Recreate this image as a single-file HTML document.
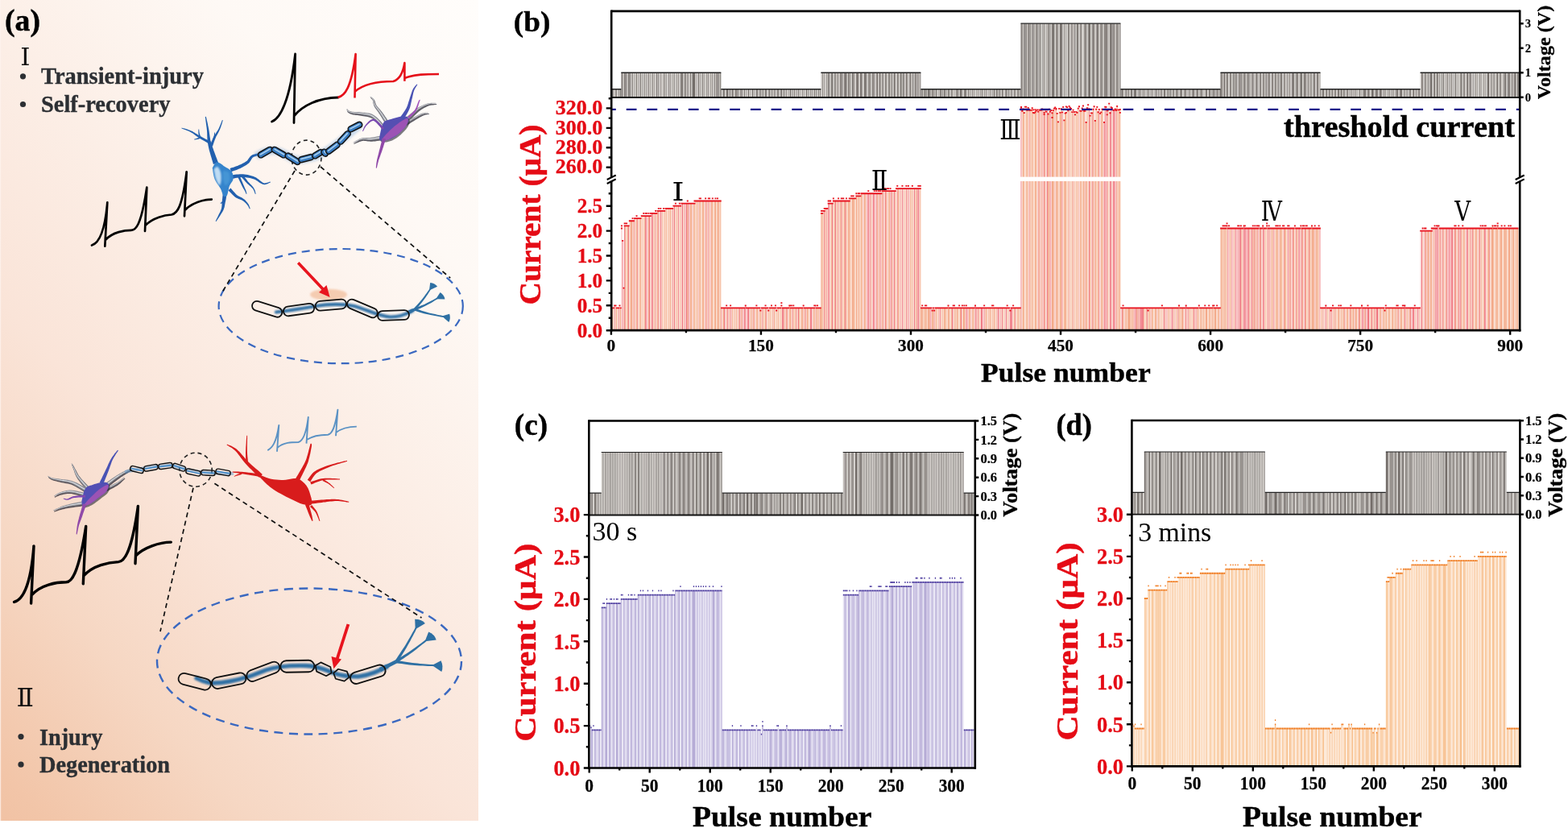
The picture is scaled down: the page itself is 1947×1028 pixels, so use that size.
<!DOCTYPE html>
<html><head><meta charset="utf-8"><title>Figure</title>
<style>html,body{margin:0;padding:0;background:#fff;} svg{display:block;} text{font-family:'Liberation Serif', 'DejaVu Serif', serif;}</style>
</head><body>
<svg width="1947" height="1028" viewBox="0 0 1947 1028" shape-rendering="auto">
<defs>
<linearGradient id="bgA" gradientUnits="userSpaceOnUse" x1="330.5" y1="-295" x2="-506.5" y2="452.2">
<stop offset="0" stop-color="#fffdfb"/>
<stop offset="0.215" stop-color="#fef9f5"/>
<stop offset="0.617" stop-color="#fae4d8"/>
<stop offset="0.791" stop-color="#f6d7c3"/>
<stop offset="0.962" stop-color="#f2c5a8"/>
<stop offset="1" stop-color="#f1c2a4"/>
</linearGradient>
<filter id="blur1" x="-20%" y="-20%" width="140%" height="140%"><feGaussianBlur stdDeviation="1"/></filter>
<filter id="blur06" x="-20%" y="-20%" width="140%" height="140%"><feGaussianBlur stdDeviation="0.6"/></filter>
<filter id="blur08" x="-20%" y="-20%" width="140%" height="140%"><feGaussianBlur stdDeviation="0.5"/></filter>
<filter id="blur2" x="-20%" y="-20%" width="140%" height="140%"><feGaussianBlur stdDeviation="1.6"/></filter>
</defs>
<rect width="1947" height="1028" fill="#fff"/>
<g id="pa">
<rect x="0" y="0" width="594" height="1019" fill="url(#bgA)"/>
<rect x="0" y="0" width="1.2" height="1019" fill="#fdf3ee" opacity="0.75"/>
<text x="6.0" y="37.8" font-size="38" font-weight="bold" fill="#000" text-anchor="start" textLength="44.0" lengthAdjust="spacingAndGlyphs" stroke="#000" stroke-width="0.46">(a)</text>
<text transform="translate(25.14,81.00) scale(1.055,1)" style="font-family:'DejaVu Serif', 'Liberation Serif', serif" font-size="29.44" font-weight="normal" fill="#111">Ⅰ</text>
<text transform="translate(20.60,876.80) scale(1.011,1)" style="font-family:'DejaVu Serif', 'Liberation Serif', serif" font-size="31.25" font-weight="normal" fill="#111">Ⅱ</text>
<circle cx="28.5" cy="94.8" r="3.6" fill="#2c2f33"/>
<text x="51.0" y="104.3" font-size="28.4" font-weight="bold" fill="#2c2f33" text-anchor="start" textLength="202.0" lengthAdjust="spacingAndGlyphs" stroke="#2c2f33" stroke-width="0.34">Transient-injury</text>
<circle cx="28.5" cy="129.5" r="3.6" fill="#2c2f33"/>
<text x="51.0" y="138.6" font-size="28.4" font-weight="bold" fill="#2c2f33" text-anchor="start" textLength="160.5" lengthAdjust="spacingAndGlyphs" stroke="#2c2f33" stroke-width="0.34">Self-recovery</text>
<circle cx="26.0" cy="914.6" r="3.6" fill="#2c2f33"/>
<text x="49.0" y="924.7" font-size="28.4" font-weight="bold" fill="#2c2f33" text-anchor="start" textLength="78.5" lengthAdjust="spacingAndGlyphs" stroke="#2c2f33" stroke-width="0.34">Injury</text>
<circle cx="26.0" cy="949.2" r="3.6" fill="#2c2f33"/>
<text x="49.0" y="959.2" font-size="28.4" font-weight="bold" fill="#2c2f33" text-anchor="start" textLength="162.1" lengthAdjust="spacingAndGlyphs" stroke="#2c2f33" stroke-width="0.34">Degeneration</text>
<path fill="none" stroke="#000" stroke-linecap="round" stroke-linejoin="round" stroke-width="2.8" d="M337.5 151 C348 147 360 125 366.6 67 L365 152.5 M365.6 143.5 C376 131 395 121.5 420 121"/>
<path fill="none" stroke="#e5101a" stroke-width="2.6" stroke-linejoin="round" d="M419.5 121 C428 119 436 110 441.6 67 L440.5 121.5 M441 113.5 C452 104 470 101 488.3 101 C495 99 500 93 502.4 78 L502.4 100.8 M502.4 97 C515 92 530 92 545 92"/>
<path fill="none" stroke="#000" stroke-linecap="round" stroke-linejoin="round" stroke-width="2.7" d="M114 304.5 C122 302 130 290 133.3 251.4 L130.3 305.6 M130.8 298 C140 288 155 285.8 163 285.8 C168 285.8 175 282 182.3 232.7 L180 287 M180.3 280 C190 270 205 267 213 266.5 C220 265 226 258 231.7 213.4 L229 268.3 M229.5 261 C238 252 252 247.6 262.8 247.6"/>
<path fill="none" stroke="#000" stroke-linecap="round" stroke-linejoin="round" stroke-width="3.4" d="M17.5 747.4 C27 745 38 730 42 677.9 L38.6 749.1 M39.2 739 C50 726 70 722.8 82 722.8 C88 722.5 97 716 106.7 653.4 L103.3 724.9 M103.8 715 C115 702 135 698 147 697.6 C154 697 163 688 171.4 628.4 L168 699.7 M168.5 690 C178 680 198 673.1 212.3 673.1"/>
<path fill="none" stroke="#5b92c4" stroke-width="1.9" stroke-linejoin="round" d="M332.3 559.1 C338 556 343 550 346.3 528 L344 560.7 M344.3 556 C352 549 362 549 370.4 549 C375 548 380 540 382.8 517.9 L380.5 550.6 M380.8 546 C390 540 400 539.7 407 539.7 C412 539 416 532 419.4 508.6 L417 541.2 M417.3 537 C425 531 435 529.6 442.8 529.6"/>
<ellipse cx="423.2" cy="380.1" rx="151.6" ry="71.1" fill="none" stroke="#3a68c0" stroke-width="2.2" stroke-dasharray="10 7"/>
<ellipse cx="384" cy="821" rx="189" ry="90.5" fill="none" stroke="#3a68c0" stroke-width="2.4" stroke-dasharray="11 7.5"/>
<ellipse cx="380.5" cy="195.6" rx="18.5" ry="21.5" fill="none" stroke="#222" stroke-width="1.6" stroke-dasharray="5 4"/>
<ellipse cx="243" cy="583.2" rx="20.2" ry="21" fill="none" stroke="#222" stroke-width="1.6" stroke-dasharray="5 4"/>
<path fill="none" stroke="#111" stroke-width="1.7" stroke-dasharray="6 4.5" d="M366 212 L275.7 363.3 M398 207 L559.2 345.2"/>
<path fill="none" stroke="#111" stroke-width="1.7" stroke-dasharray="6 4.5" d="M240 605.7 L199 784 M266.4 600.3 L523.5 767"/>
<path d="M343 387.5 C358 386 375 383 392 380 C410 377 425 377 440 380 C455 384 470 393 485 393.5 C495 393.5 503 391 512 386" fill="none" stroke="#2f6fa4" stroke-width="4.2" stroke-linecap="round" filter="url(#blur1)"/>
<g filter="url(#blur08)"><path d="M507.0 390.5L508.0 389.9L509.1 389.3L510.1 388.8L511.2 388.2L512.2 387.6L513.3 387.1L514.3 386.5L515.4 385.9L513.8 382.7L512.7 383.2L511.6 383.6L510.5 384.1L509.4 384.6L508.3 385.1L507.2 385.6L506.1 386.0L505.0 386.5Z" fill="#2e6fa3"/><path d="M515.7 385.3L516.5 384.3L517.6 383.1L518.8 381.6L520.2 379.9L521.7 378.1L523.2 376.3L524.6 374.5L525.9 372.8L527.2 371.1L528.5 369.2L529.8 367.3L531.1 365.4L532.3 363.5L533.3 361.9L534.2 360.5L534.9 359.5L533.5 358.5L532.8 359.5L531.8 360.9L530.7 362.5L529.5 364.3L528.1 366.1L526.8 368.0L525.4 369.8L524.1 371.4L522.8 373.0L521.3 374.7L519.8 376.5L518.2 378.2L516.8 379.8L515.4 381.2L514.3 382.4L513.5 383.3Z" fill="#2e6fa3"/><path d="M533.0 360.6L543.1 355.7Q540.1 351.4 534.2 350.9Z" fill="#2e6fa3"/><path d="M515.2 385.7L516.3 385.2L517.8 384.5L519.5 383.7L521.5 382.9L523.6 382.0L525.7 381.0L527.8 380.0L529.7 379.1L531.5 378.1L533.5 377.0L535.5 375.9L537.5 374.7L539.3 373.6L541.0 372.6L542.4 371.7L543.4 371.1L542.6 369.7L541.5 370.3L540.1 371.0L538.4 372.0L536.5 373.0L534.5 374.1L532.5 375.1L530.5 376.1L528.6 377.0L526.8 377.9L524.7 378.7L522.6 379.6L520.5 380.4L518.5 381.2L516.7 381.9L515.2 382.5L514.0 382.9Z" fill="#2e6fa3"/><path d="M541.2 371.3L552.4 371.4Q551.6 366.2 546.6 363.1Z" fill="#2e6fa3"/><path d="M514.2 385.7L515.6 386.1L517.4 386.6L519.6 387.2L522.0 387.9L524.6 388.7L527.2 389.4L529.8 390.0L532.2 390.6L534.6 391.1L537.2 391.6L539.9 392.1L542.5 392.6L545.0 393.0L547.3 393.4L549.1 393.7L550.6 393.9L550.8 392.3L549.4 392.0L547.6 391.6L545.3 391.2L542.9 390.7L540.3 390.1L537.6 389.5L535.1 388.9L532.7 388.4L530.4 387.7L527.9 387.0L525.3 386.2L522.8 385.4L520.4 384.6L518.2 383.9L516.4 383.3L515.0 382.9Z" fill="#2e6fa3"/><path d="M548.8 392.6L557.3 399.9Q560.0 395.4 558.1 389.8Z" fill="#2e6fa3"/></g>
<ellipse cx="408" cy="365.7" rx="23" ry="7" fill="#f3c3a3" opacity="0.8" filter="url(#blur1)"/>
<rect transform="translate(331.6,383.8) rotate(17.6)" x="-19.2" y="-5.9" width="38.5" height="11.8" rx="5.9" fill="none" stroke="#111" stroke-width="1.8"/>
<rect transform="translate(371.0,384.6) rotate(-7.8)" x="-19.2" y="-5.9" width="38.5" height="11.8" rx="5.9" fill="none" stroke="#111" stroke-width="1.8"/>
<rect transform="translate(410.8,378.6) rotate(-5.0)" x="-19.2" y="-5.9" width="38.5" height="11.8" rx="5.9" fill="none" stroke="#111" stroke-width="1.8"/>
<rect transform="translate(449.9,383.0) rotate(23.0)" x="-20.0" y="-5.9" width="40.0" height="11.8" rx="5.9" fill="none" stroke="#111" stroke-width="1.8"/>
<rect transform="translate(488.5,391.5) rotate(-2.0)" x="-19.5" y="-5.9" width="39.0" height="11.8" rx="5.9" fill="none" stroke="#111" stroke-width="1.8"/>
<path d="M370.2 326.3 L402 360" stroke="#e8141e" stroke-width="3.6"/>
<polygon points="409.6,369 396,363 405.5,354" fill="#e8141e"/>
<path d="M244 842 C255 848 265 850 285 846 C305 842 315 838 330 832 C345 827 360 826 380 826.5 C395 827 405 832 413 835 C420 838 430 840 445 840 C460 838 470 833 480 828" fill="none" stroke="#2f6fa4" stroke-width="5.4" stroke-linecap="round" filter="url(#blur1)"/>
<g filter="url(#blur08)"><path d="M473.2 833.9L475.6 832.6L478.1 831.2L480.5 829.9L483.0 828.6L485.4 827.3L487.9 826.0L490.3 824.7L492.8 823.4L490.8 819.6L488.3 820.8L485.8 822.0L483.3 823.2L480.8 824.4L478.3 825.6L475.8 826.8L473.3 827.9L470.8 829.1Z" fill="#2e6fa3"/><path d="M493.3 822.5L494.3 820.9L495.6 818.7L497.2 816.2L499.0 813.4L500.8 810.4L502.7 807.4L504.5 804.4L506.1 801.6L507.7 798.8L509.4 795.7L511.0 792.6L512.7 789.5L514.2 786.5L515.6 783.9L516.7 781.6L517.5 780.0L515.9 779.0L514.9 780.7L513.7 782.9L512.2 785.5L510.6 788.4L508.9 791.4L507.1 794.5L505.4 797.5L503.8 800.2L502.1 802.9L500.2 805.8L498.2 808.8L496.3 811.7L494.4 814.4L492.8 816.9L491.4 819.0L490.3 820.5Z" fill="#2e6fa3"/><path d="M515.7 781.2L527.9 773.9Q523.1 768.7 515.2 768.8Z" fill="#2e6fa3"/><path d="M492.8 823.0L494.2 822.0L496.2 820.7L498.5 819.1L501.1 817.4L503.8 815.6L506.6 813.7L509.3 811.8L511.8 810.0L514.2 808.2L516.8 806.2L519.4 804.1L522.0 802.1L524.4 800.1L526.6 798.4L528.4 796.9L529.8 795.8L528.6 794.2L527.2 795.3L525.3 796.7L523.1 798.4L520.6 800.2L517.9 802.2L515.2 804.2L512.6 806.1L510.2 807.8L507.7 809.4L505.0 811.2L502.2 813.0L499.4 814.7L496.7 816.4L494.4 817.8L492.3 819.1L490.8 820.0Z" fill="#2e6fa3"/><path d="M527.6 796.2L541.7 794.4Q539.5 787.7 532.2 784.6Z" fill="#2e6fa3"/><path d="M491.5 823.3L493.3 823.5L495.7 823.8L498.6 824.1L501.7 824.5L505.1 825.0L508.5 825.4L511.8 825.7L514.9 826.0L518.0 826.2L521.4 826.5L524.8 826.6L528.2 826.8L531.4 826.9L534.2 827.0L536.6 827.1L538.4 827.2L538.6 825.2L536.7 825.1L534.3 824.9L531.5 824.7L528.3 824.5L525.0 824.2L521.6 823.9L518.3 823.6L515.2 823.3L512.2 822.9L508.9 822.4L505.5 821.9L502.2 821.4L499.1 820.9L496.2 820.4L493.8 820.0L492.1 819.7Z" fill="#2e6fa3"/><path d="M536.5 826.0L548.3 834.0Q551.0 827.5 547.5 820.3Z" fill="#2e6fa3"/></g>
<rect transform="translate(241.7,846.2) rotate(14.4)" x="-20.5" y="-7.0" width="41.0" height="14.0" rx="7.0" fill="none" stroke="#111" stroke-width="1.8"/>
<rect transform="translate(284.2,845.2) rotate(-11.3)" x="-21.5" y="-7.0" width="43.0" height="14.0" rx="7.0" fill="none" stroke="#111" stroke-width="1.8"/>
<rect transform="translate(326.8,833.8) rotate(-21.0)" x="-21.5" y="-7.0" width="43.0" height="14.0" rx="7.0" fill="none" stroke="#111" stroke-width="1.8"/>
<rect transform="translate(369.3,827.2) rotate(-1.0)" x="-21.0" y="-7.2" width="42.0" height="14.5" rx="7.2" fill="none" stroke="#111" stroke-width="1.8"/>
<rect transform="translate(456.8,837.2) rotate(-17.0)" x="-22.5" y="-7.2" width="45.0" height="14.5" rx="7.2" fill="none" stroke="#111" stroke-width="1.8"/>
<polygon transform="translate(401.7,830.8) rotate(25.0)" points="-6.6,-6.2 6.6,-6.2 11.0,0.0 6.6,6.2 -6.6,6.2 -11.0,0.0" fill="none" stroke="#111" stroke-width="1.7" stroke-linejoin="round"/>
<polygon transform="translate(423.8,838.2) rotate(15.0)" points="-5.6,-6.2 5.6,-6.2 10.0,0.0 5.6,6.2 -5.6,6.2 -10.0,0.0" fill="none" stroke="#111" stroke-width="1.7" stroke-linejoin="round"/>
<path d="M432.4 775 L418 820" stroke="#e8141e" stroke-width="3.8"/>
<polygon points="414.4,830.2 411.5,815 424,818.5" fill="#e8141e"/>
<g filter="url(#blur08)">
<path d="M271.1 202.0L270.5 200.6L269.8 198.8L269.0 196.6L268.1 194.2L267.2 191.7L266.3 189.2L265.4 187.0L264.8 185.1L264.2 183.4L263.7 182.0L263.2 180.6L262.8 179.4L262.4 178.2L262.0 177.0L261.7 175.6L261.3 174.2L261.0 172.6L260.8 171.0L260.5 169.3L260.3 167.6L260.0 165.8L259.8 164.0L259.5 162.1L259.2 160.2L258.8 158.3L258.3 156.1L257.9 153.8L257.4 151.6L256.9 149.5L256.5 147.6L256.1 146.0L255.8 144.8L254.8 145.0L254.9 146.2L255.2 147.8L255.4 149.8L255.7 151.9L256.0 154.2L256.3 156.4L256.6 158.6L256.8 160.6L257.0 162.4L257.1 164.2L257.2 166.0L257.2 167.8L257.3 169.6L257.4 171.4L257.5 173.1L257.7 174.8L257.8 176.4L258.0 177.8L258.3 179.2L258.5 180.5L258.8 181.9L259.1 183.3L259.4 184.8L259.8 186.5L260.4 188.6L261.1 190.9L261.8 193.5L262.6 196.0L263.3 198.5L264.0 200.8L264.5 202.6L264.9 204.0Z" fill="#2260ae"/>
<path d="M261.8 175.7L260.7 175.2L259.4 174.5L257.8 173.7L256.0 172.9L254.1 171.9L252.3 170.9L250.5 170.0L248.9 169.1L247.4 168.3L246.0 167.4L244.6 166.6L243.1 165.7L241.7 164.8L240.3 163.9L238.9 163.1L237.4 162.4L235.8 161.8L234.2 161.2L232.5 160.6L230.8 160.1L229.2 159.6L227.8 159.2L226.6 158.9L225.7 158.6L225.5 159.4L226.3 159.7L227.5 160.2L228.9 160.7L230.4 161.2L232.0 161.9L233.6 162.5L235.2 163.2L236.6 164.0L237.9 164.8L239.3 165.6L240.6 166.5L241.9 167.5L243.2 168.5L244.6 169.5L246.0 170.5L247.5 171.5L249.1 172.4L250.9 173.5L252.7 174.6L254.5 175.6L256.2 176.6L257.8 177.5L259.1 178.3L260.0 178.9Z" fill="#2260ae"/>
<path d="M249.2 170.1L249.1 169.6L248.9 169.1L248.7 168.4L248.5 167.7L248.2 167.0L248.0 166.2L247.8 165.5L247.7 164.9L247.6 164.3L247.5 163.7L247.4 163.0L247.3 162.4L247.3 161.8L247.2 161.2L247.2 160.7L247.1 160.4L246.5 160.4L246.4 160.8L246.4 161.2L246.4 161.8L246.3 162.4L246.3 163.0L246.3 163.7L246.3 164.4L246.3 165.1L246.4 165.8L246.5 166.6L246.6 167.4L246.8 168.1L246.9 168.9L247.0 169.6L247.1 170.1L247.2 170.5Z" fill="#2260ae"/>
<path d="M248.7 170.1L248.3 170.2L247.8 170.4L247.1 170.7L246.4 170.9L245.7 171.2L245.0 171.5L244.4 171.7L243.8 171.9L243.4 172.0L243.0 172.2L242.6 172.3L242.2 172.4L241.9 172.5L241.6 172.6L241.3 172.7L241.1 172.8L241.3 173.4L241.5 173.4L241.7 173.4L242.0 173.4L242.4 173.4L242.8 173.3L243.2 173.3L243.7 173.2L244.2 173.1L244.7 173.0L245.4 172.9L246.2 172.7L246.9 172.5L247.6 172.3L248.3 172.1L248.9 172.0L249.3 171.9Z" fill="#2260ae"/>
<path d="M264.0 181.7L264.3 180.8L264.6 179.7L265.1 178.3L265.6 176.8L266.1 175.3L266.7 173.7L267.3 172.2L267.8 170.9L268.4 169.6L269.0 168.4L269.7 167.2L270.4 166.0L271.1 164.7L271.7 163.5L272.4 162.1L273.0 160.8L273.6 159.3L274.2 157.7L274.7 156.0L275.3 154.4L275.8 152.8L276.2 151.3L276.6 150.1L276.8 149.2L276.0 149.0L275.6 149.8L275.2 151.0L274.6 152.4L274.0 153.9L273.4 155.5L272.7 157.1L272.0 158.7L271.4 160.0L270.7 161.3L270.0 162.5L269.2 163.6L268.4 164.8L267.7 166.0L266.9 167.2L266.1 168.4L265.4 169.7L264.7 171.1L264.0 172.6L263.3 174.2L262.6 175.7L262.0 177.2L261.4 178.5L261.0 179.5L260.6 180.3Z" fill="#2260ae"/>
<path d="M266.4 172.2L266.4 171.9L266.5 171.5L266.6 171.0L266.7 170.4L266.8 169.8L266.9 169.2L267.0 168.6L267.0 168.1L267.0 167.6L267.0 167.1L267.0 166.6L267.0 166.1L267.0 165.6L267.0 165.2L267.0 164.9L266.9 164.6L266.3 164.6L266.2 164.8L266.2 165.2L266.1 165.6L266.1 166.0L266.0 166.5L266.0 167.0L265.9 167.5L265.8 167.9L265.7 168.4L265.5 168.9L265.4 169.5L265.2 170.0L265.0 170.6L264.9 171.1L264.7 171.5L264.6 171.8Z" fill="#2260ae"/>
<path d="M287.1 213.4L287.9 213.1L289.1 212.6L290.5 212.1L292.1 211.5L293.7 210.9L295.4 210.3L297.0 209.6L298.5 208.9L299.8 208.2L301.2 207.5L302.5 206.8L303.9 206.0L305.2 205.2L306.4 204.4L307.6 203.6L308.7 202.7L309.7 201.7L310.5 200.6L311.2 199.5L311.8 198.5L312.4 197.6L312.9 196.8L313.4 196.1L314.0 195.6L314.8 195.1L315.8 194.6L316.9 194.2L318.1 193.8L319.3 193.5L320.3 193.2L321.3 192.9L322.0 192.7L321.2 190.1L320.6 190.3L319.7 190.5L318.6 190.7L317.3 191.0L316.0 191.4L314.7 191.8L313.4 192.3L312.2 193.0L311.2 193.8L310.3 194.8L309.6 195.8L308.9 196.7L308.3 197.6L307.7 198.5L307.1 199.2L306.3 199.9L305.4 200.6L304.3 201.3L303.2 201.9L302.0 202.6L300.7 203.3L299.4 203.9L298.0 204.5L296.7 205.1L295.4 205.7L293.8 206.3L292.2 206.8L290.6 207.4L289.0 207.9L287.6 208.3L286.4 208.7L285.5 209.0Z" fill="#2260ae"/>
<path d="M288.3 221.9L289.4 221.7L290.8 221.4L292.5 221.1L294.3 220.8L296.2 220.5L298.2 220.3L300.0 220.1L301.7 220.1L303.4 220.1L305.1 220.3L306.9 220.5L308.7 220.7L310.4 221.1L312.1 221.5L313.8 221.9L315.4 222.4L316.8 223.0L318.3 223.9L319.7 224.8L321.2 225.9L322.6 226.9L324.1 227.8L325.5 228.5L327.0 229.0L328.4 229.2L329.8 229.0L331.2 228.6L332.4 228.2L333.5 227.6L334.5 227.1L335.3 226.7L335.9 226.5L335.5 225.5L334.9 225.7L334.0 226.0L333.0 226.4L331.9 226.8L330.8 227.1L329.6 227.3L328.5 227.4L327.4 227.2L326.4 226.7L325.2 226.0L324.0 225.0L322.6 224.0L321.2 222.8L319.7 221.7L318.1 220.6L316.4 219.8L314.7 219.1L313.0 218.5L311.2 218.0L309.3 217.5L307.5 217.1L305.6 216.8L303.7 216.5L301.9 216.3L299.9 216.2L297.9 216.3L295.8 216.4L293.7 216.6L291.8 216.8L290.1 217.0L288.7 217.2L287.7 217.3Z" fill="#2260ae"/>
<path d="M299.8 219.8L300.3 220.4L301.0 221.2L301.8 222.1L302.8 223.2L303.7 224.3L304.7 225.4L305.7 226.5L306.6 227.5L307.6 228.4L308.6 229.3L309.6 230.2L310.6 231.0L311.5 231.8L312.4 232.7L313.2 233.5L313.9 234.2L314.4 235.1L314.9 236.0L315.4 237.0L315.8 237.9L316.1 238.8L316.4 239.7L316.7 240.4L316.9 240.9L317.7 240.7L317.5 240.1L317.4 239.4L317.1 238.5L316.9 237.6L316.6 236.5L316.2 235.4L315.7 234.4L315.1 233.4L314.5 232.4L313.7 231.4L312.8 230.5L311.9 229.6L311.0 228.7L310.1 227.8L309.2 226.8L308.4 225.9L307.5 224.9L306.7 223.8L305.8 222.6L304.9 221.4L304.0 220.3L303.3 219.3L302.7 218.5L302.2 217.8Z" fill="#2260ae"/>
<path d="M295.2 219.8L295.7 220.7L296.3 222.0L297.0 223.6L297.8 225.3L298.7 227.0L299.5 228.7L300.2 230.2L300.8 231.5L301.3 232.5L301.8 233.3L302.2 234.1L302.6 234.7L303.0 235.3L303.3 235.8L303.6 236.3L303.9 236.9L304.2 237.5L304.5 238.1L304.8 238.7L305.0 239.2L305.2 239.8L305.4 240.2L305.6 240.6L305.7 240.9L306.5 240.7L306.4 240.4L306.3 239.9L306.2 239.4L306.1 238.9L305.9 238.3L305.7 237.6L305.5 237.0L305.3 236.3L305.0 235.7L304.8 235.1L304.5 234.5L304.2 233.9L303.9 233.2L303.6 232.4L303.2 231.6L302.8 230.5L302.2 229.3L301.6 227.7L300.9 226.0L300.1 224.2L299.4 222.5L298.7 220.9L298.2 219.6L297.8 218.6Z" fill="#2260ae"/>
<path d="M283.4 236.4L284.1 237.1L285.0 238.0L286.1 239.1L287.3 240.3L288.5 241.6L289.8 242.8L291.1 244.0L292.4 244.9L293.6 245.7L294.9 246.3L296.1 246.9L297.2 247.3L298.3 247.7L299.3 248.1L300.2 248.5L301.1 248.9L301.9 249.5L302.7 250.1L303.5 250.7L304.3 251.4L305.0 252.0L305.6 252.7L306.2 253.4L306.8 254.0L307.3 254.7L307.8 255.4L308.3 256.2L308.7 257.0L309.0 257.7L309.4 258.4L309.7 259.0L309.9 259.4L310.7 259.0L310.6 258.6L310.4 258.0L310.1 257.2L309.8 256.4L309.5 255.6L309.1 254.7L308.7 253.8L308.2 253.0L307.6 252.2L307.1 251.4L306.4 250.7L305.7 249.9L305.0 249.1L304.2 248.3L303.4 247.6L302.5 246.9L301.5 246.2L300.5 245.6L299.4 245.1L298.3 244.6L297.3 244.1L296.3 243.6L295.3 243.0L294.4 242.3L293.4 241.4L292.3 240.3L291.2 239.0L290.0 237.7L288.9 236.5L287.9 235.3L287.0 234.3L286.4 233.6Z" fill="#2260ae"/>
<path d="M276.7 239.6L276.7 240.5L276.6 241.6L276.5 243.0L276.3 244.5L276.2 246.1L276.0 247.6L275.9 249.1L275.8 250.4L275.7 251.6L275.6 252.8L275.5 253.8L275.5 254.9L275.4 255.8L275.3 256.8L275.2 257.8L275.0 258.7L274.7 259.7L274.3 260.8L273.9 261.8L273.4 262.9L272.9 264.0L272.3 265.0L271.8 266.1L271.3 267.1L270.9 268.1L270.3 269.2L269.8 270.3L269.2 271.3L268.7 272.3L268.3 273.2L267.9 273.9L267.6 274.5L268.4 274.9L268.8 274.4L269.2 273.8L269.8 272.9L270.4 272.0L271.1 271.1L271.8 270.1L272.4 269.0L273.1 268.1L273.7 267.1L274.3 266.1L274.9 265.1L275.6 264.1L276.2 263.0L276.8 261.9L277.4 260.8L277.8 259.7L278.2 258.6L278.6 257.5L278.8 256.4L279.0 255.3L279.2 254.3L279.4 253.2L279.6 252.1L279.8 251.0L280.1 249.7L280.4 248.2L280.7 246.7L280.9 245.1L281.2 243.7L281.5 242.3L281.7 241.2L281.9 240.4Z" fill="#2260ae"/>
<path d="M276.5 249.3L276.4 249.5L276.2 249.8L275.9 250.1L275.6 250.4L275.3 250.7L275.1 251.0L274.8 251.3L274.7 251.4L274.6 251.5L274.5 251.6L274.3 251.6L274.2 251.7L274.1 251.7L273.9 251.7L273.7 251.7L273.6 251.8L273.6 252.4L273.7 252.5L273.8 252.5L273.9 252.6L274.1 252.7L274.4 252.7L274.7 252.7L275.0 252.7L275.3 252.6L275.7 252.4L276.0 252.1L276.4 251.9L276.8 251.6L277.1 251.3L277.4 251.0L277.7 250.8L277.9 250.7Z" fill="#2260ae"/>
<path d="M263.7 208.4L264.3 207.5L265.0 206.1L265.9 204.5L267.0 203.0L268.1 201.8L269.4 201.3L270.8 201.5L272.4 202.2L274.2 203.3L276.0 204.6L277.7 205.9L279.3 207.0L280.9 207.9L282.5 208.8L284.0 209.8L285.4 210.7L286.7 211.8L287.7 213.0L288.5 214.4L289.0 215.9L289.4 217.6L289.6 219.3L289.6 220.9L289.5 222.5L289.1 223.9L288.4 225.3L287.5 226.6L286.5 228.0L285.6 229.4L284.9 231.0L284.3 232.8L283.9 234.9L283.4 237.0L283.0 239.1L282.5 240.9L282.0 242.2L281.4 243.1L280.7 243.8L280.0 244.2L279.2 244.3L278.5 244.1L277.8 243.6L277.1 242.6L276.5 241.2L275.9 239.5L275.2 237.6L274.5 235.6L273.6 233.8L272.5 232.0L271.3 230.2L270.0 228.4L268.7 226.5L267.6 224.6L266.6 222.5L265.8 220.1L265.2 217.5L264.7 214.7L264.3 212.2L264.0 210.0L263.7 208.4Z" fill="#3684cc"/>
</g>
<path d="M265.5 210.0L266.0 209.6L266.7 208.9L267.5 208.1L268.4 207.4L269.2 207.0L270.0 207.0L270.7 207.6L271.5 208.5L272.2 209.7L272.9 211.1L273.5 212.5L274.0 214.0L274.3 215.5L274.5 217.3L274.6 219.1L274.6 220.9L274.6 222.5L274.5 224.0L274.3 225.4L274.1 226.8L273.8 228.1L273.4 229.2L273.0 229.9L272.5 230.0L271.9 229.5L271.1 228.5L270.3 227.1L269.4 225.5L268.7 223.7L268.0 222.0L267.4 220.1L266.9 217.9L266.5 215.5L266.1 213.3L265.7 211.4L265.5 210.0Z" fill="#cfe6f8" opacity="0.9" filter="url(#blur1)"/>
<path d="M277.0 212.0L277.8 212.1L279.0 212.2L280.4 212.4L281.9 212.7L283.1 213.2L284.0 214.0L284.6 215.2L285.0 216.9L285.2 218.8L285.3 220.7L285.2 222.5L285.0 224.0L284.5 225.4L283.7 226.8L282.8 228.1L281.7 229.2L280.8 229.9L280.0 230.0L279.3 229.5L278.7 228.4L278.2 227.0L277.7 225.3L277.3 223.6L277.0 222.0L276.8 220.3L276.8 218.4L276.8 216.5L276.9 214.7L277.0 213.1L277.0 212.0Z" fill="#4a9ad8" opacity="0.8" filter="url(#blur1)"/>
<path d="M318 194 C330 186 342 184 355 192 C365 200 372 200 390 195 C405 190 420 178 448 154" fill="none" stroke="#4d8fd0" stroke-width="10" opacity="0.3" filter="url(#blur2)"/>
<rect transform="translate(329.5,189.1) rotate(-29.8)" x="-9.9" y="-3.5" width="19.8" height="7.0" rx="3.5" fill="#3a7cc0" stroke="#111" stroke-width="1.5"/>
<rect transform="translate(329.5,189.1) rotate(-29.8)" x="-7.4" y="-1.6" width="14.8" height="1.8" rx="0.9" fill="#b8dcf6" opacity="0.85"/>
<rect transform="translate(346.5,189.1) rotate(29.8)" x="-9.9" y="-3.5" width="19.8" height="7.0" rx="3.5" fill="#3a7cc0" stroke="#111" stroke-width="1.5"/>
<rect transform="translate(346.5,189.1) rotate(29.8)" x="-7.4" y="-1.6" width="14.8" height="1.8" rx="0.9" fill="#b8dcf6" opacity="0.85"/>
<rect transform="translate(363.5,197.2) rotate(32.2)" x="-10.3" y="-3.5" width="20.7" height="7.0" rx="3.5" fill="#3a7cc0" stroke="#111" stroke-width="1.5"/>
<rect transform="translate(363.5,197.2) rotate(32.2)" x="-7.8" y="-1.6" width="15.7" height="1.8" rx="0.9" fill="#b8dcf6" opacity="0.85"/>
<rect transform="translate(380.2,196.6) rotate(-14.6)" x="-9.6" y="-3.5" width="19.1" height="7.0" rx="3.5" fill="#3a7cc0" stroke="#111" stroke-width="1.5"/>
<rect transform="translate(380.2,196.6) rotate(-14.6)" x="-7.1" y="-1.6" width="14.1" height="1.8" rx="0.9" fill="#b8dcf6" opacity="0.85"/>
<rect transform="translate(394.6,191.2) rotate(-31.3)" x="-7.5" y="-3.5" width="15.0" height="7.0" rx="3.5" fill="#3a7cc0" stroke="#111" stroke-width="1.5"/>
<rect transform="translate(394.6,191.2) rotate(-31.3)" x="-5.0" y="-1.6" width="10.0" height="1.8" rx="0.9" fill="#b8dcf6" opacity="0.85"/>
<rect transform="translate(403.2,189.7) rotate(50.3)" x="-4.7" y="-3.5" width="9.4" height="7.0" rx="3.5" fill="#3a7cc0" stroke="#111" stroke-width="1.5"/>
<rect transform="translate(403.2,189.7) rotate(50.3)" x="-2.2" y="-1.6" width="4.4" height="1.8" rx="0.9" fill="#b8dcf6" opacity="0.85"/>
<rect transform="translate(413.4,183.7) rotate(-37.3)" x="-10.0" y="-3.5" width="20.0" height="7.0" rx="3.5" fill="#3a7cc0" stroke="#111" stroke-width="1.5"/>
<rect transform="translate(413.4,183.7) rotate(-37.3)" x="-7.5" y="-1.6" width="15.0" height="1.8" rx="0.9" fill="#b8dcf6" opacity="0.85"/>
<rect transform="translate(427.3,170.9) rotate(-47.3)" x="-9.9" y="-3.5" width="19.9" height="7.0" rx="3.5" fill="#3a7cc0" stroke="#111" stroke-width="1.5"/>
<rect transform="translate(427.3,170.9) rotate(-47.3)" x="-7.4" y="-1.6" width="14.9" height="1.8" rx="0.9" fill="#b8dcf6" opacity="0.85"/>
<rect transform="translate(440.9,157.6) rotate(-27.2)" x="-9.4" y="-3.5" width="18.9" height="7.0" rx="3.5" fill="#3a7cc0" stroke="#111" stroke-width="1.5"/>
<rect transform="translate(440.9,157.6) rotate(-27.2)" x="-6.9" y="-1.6" width="13.9" height="1.8" rx="0.9" fill="#b8dcf6" opacity="0.85"/>
<g filter="url(#blur08)">
<path d="M483.9 153.1L483.2 152.0L482.2 150.7L481.1 149.0L479.9 147.1L478.6 145.2L477.3 143.3L476.1 141.5L474.9 140.0L473.9 138.6L472.8 137.3L471.8 136.1L470.8 135.0L469.8 133.9L469.0 132.9L468.2 132.0L467.6 131.1L467.1 130.2L466.7 129.4L466.4 128.5L466.1 127.7L465.9 126.8L465.6 126.0L465.3 125.1L464.8 124.3L464.3 123.6L463.8 123.0L463.2 122.5L462.6 122.1L462.0 121.7L461.5 121.4L461.1 121.2L460.8 121.0L460.2 121.6L460.4 121.9L460.8 122.3L461.2 122.7L461.6 123.1L462.1 123.6L462.5 124.2L462.9 124.7L463.2 125.3L463.4 125.9L463.5 126.5L463.6 127.3L463.7 128.2L463.9 129.2L464.1 130.2L464.5 131.4L465.0 132.5L465.7 133.7L466.4 134.8L467.2 136.0L468.1 137.1L469.0 138.3L469.9 139.6L470.8 140.9L471.7 142.2L472.6 143.8L473.7 145.6L474.9 147.6L476.1 149.5L477.2 151.4L478.2 153.2L479.1 154.6L479.7 155.7Z" fill="#2a2a34" opacity="0.75"/>
<path d="M482.8 151.9L482.1 150.9L481.1 149.5L480.0 147.8L478.8 145.9L477.5 144.0L476.2 142.1L475.0 140.3L473.9 138.8L472.8 137.4L471.7 136.1L470.7 134.9L469.7 133.8L468.8 132.7L467.9 131.7L467.2 130.7L466.5 129.8L466.0 128.9L465.7 128.1L465.3 127.2L465.1 126.3L464.8 125.5L464.6 124.6L464.3 123.8L463.9 123.0L463.4 122.4L462.8 121.8L462.2 121.3L461.6 120.8L461.1 120.4L460.6 120.1L460.2 119.9L459.9 119.7L459.5 120.1L459.8 120.4L460.1 120.8L460.5 121.2L461.0 121.6L461.4 122.1L461.9 122.6L462.2 123.2L462.5 123.8L462.8 124.4L462.9 125.1L463.0 125.9L463.2 126.8L463.3 127.7L463.6 128.8L463.9 129.9L464.5 131.0L465.1 132.1L465.8 133.3L466.6 134.4L467.5 135.6L468.4 136.7L469.3 138.0L470.2 139.3L471.1 140.6L472.1 142.2L473.2 144.0L474.4 146.0L475.6 147.9L476.7 149.8L477.8 151.6L478.6 153.0L479.2 154.1Z" fill="#8e9097"/>
<path d="M481.5 152.7L480.9 151.6L479.9 150.2L478.9 148.5L477.7 146.6L476.4 144.7L475.2 142.8L474.0 141.0L472.9 139.4L471.9 138.0L470.9 136.8L469.9 135.5L468.9 134.4L468.0 133.3L467.2 132.2L466.5 131.2L465.8 130.2L465.3 129.3L464.9 128.3L464.7 127.4L464.4 126.5L464.2 125.6L464.0 124.8L463.7 124.0L463.4 123.3L463.0 122.6L462.5 122.1L461.9 121.5L461.4 121.1L460.9 120.7L460.4 120.3L460.1 120.1L459.8 119.8L459.6 120.0L459.9 120.2L460.3 120.6L460.7 120.9L461.2 121.3L461.7 121.8L462.2 122.3L462.6 122.9L463.0 123.5L463.3 124.2L463.5 124.9L463.7 125.7L463.8 126.6L464.0 127.5L464.3 128.5L464.7 129.5L465.2 130.6L465.8 131.6L466.6 132.7L467.4 133.8L468.3 134.9L469.2 136.1L470.2 137.3L471.1 138.6L472.1 140.0L473.1 141.5L474.3 143.3L475.5 145.3L476.7 147.2L477.9 149.1L478.9 150.8L479.8 152.3L480.5 153.3Z" fill="#eceef2" opacity="0.85"/>
<path d="M479.7 158.7L478.7 157.5L477.2 155.9L475.5 153.9L473.6 151.7L471.5 149.5L469.4 147.4L467.3 145.5L465.2 144.0L463.2 142.9L461.1 142.1L459.1 141.6L457.2 141.3L455.3 141.1L453.6 140.9L451.9 140.8L450.3 140.6L448.6 140.4L446.9 140.2L445.3 140.2L443.7 140.1L442.3 140.1L440.9 140.0L439.6 139.9L438.5 139.8L437.6 139.6L436.7 139.5L435.9 139.2L435.1 139.0L434.5 138.8L433.9 138.5L433.4 138.3L433.0 138.1L432.8 138.0L432.7 137.8L432.6 137.7L432.5 137.4L432.5 137.2L432.4 136.9L432.4 136.6L432.3 136.4L431.5 136.4L431.4 136.6L431.3 136.8L431.2 137.1L431.2 137.5L431.2 137.9L431.3 138.5L431.5 139.0L432.0 139.5L432.4 139.9L433.0 140.3L433.6 140.7L434.3 141.0L435.1 141.4L436.0 141.8L437.0 142.1L438.1 142.4L439.3 142.6L440.6 142.8L442.1 143.0L443.5 143.1L445.1 143.3L446.6 143.5L448.2 143.7L449.7 144.0L451.4 144.3L453.1 144.6L454.8 144.8L456.5 145.1L458.2 145.5L459.8 146.0L461.3 146.7L462.8 147.6L464.4 148.9L466.2 150.6L468.1 152.7L470.0 154.9L471.8 157.1L473.4 159.1L474.8 160.9L475.9 162.1Z" fill="#2a2a34" opacity="0.75"/>
<path d="M478.6 157.5L477.6 156.4L476.1 154.8L474.4 152.8L472.5 150.6L470.4 148.4L468.3 146.2L466.2 144.4L464.2 142.9L462.2 141.8L460.2 141.1L458.3 140.5L456.3 140.2L454.5 140.0L452.7 139.8L451.0 139.7L449.4 139.5L447.8 139.3L446.1 139.1L444.5 139.0L442.9 139.0L441.4 138.9L440.1 138.9L438.8 138.8L437.7 138.7L436.7 138.5L435.8 138.3L435.0 138.1L434.2 137.8L433.6 137.6L433.0 137.3L432.5 137.1L432.1 136.9L431.9 136.7L431.7 136.5L431.6 136.3L431.5 136.0L431.5 135.8L431.5 135.5L431.5 135.2L431.4 135.0L430.8 135.0L430.8 135.2L430.7 135.4L430.6 135.7L430.5 136.1L430.5 136.5L430.6 137.0L430.9 137.5L431.3 137.9L431.7 138.3L432.3 138.7L432.9 139.1L433.6 139.4L434.4 139.8L435.2 140.1L436.2 140.4L437.3 140.7L438.5 141.0L439.9 141.2L441.3 141.3L442.8 141.5L444.3 141.6L445.8 141.8L447.4 142.0L449.0 142.3L450.6 142.6L452.4 142.9L454.1 143.1L455.8 143.4L457.5 143.8L459.1 144.3L460.7 145.0L462.2 145.9L463.8 147.2L465.6 149.0L467.6 151.0L469.5 153.2L471.3 155.4L472.9 157.5L474.3 159.2L475.4 160.5Z" fill="#8e9097"/>
<path d="M477.5 158.6L476.4 157.4L475.0 155.7L473.3 153.7L471.4 151.5L469.4 149.3L467.4 147.2L465.4 145.4L463.5 143.9L461.7 142.9L459.8 142.2L458.0 141.7L456.2 141.3L454.4 141.1L452.6 140.9L450.9 140.7L449.3 140.5L447.6 140.2L446.0 140.1L444.4 139.9L442.9 139.8L441.4 139.8L440.0 139.7L438.7 139.6L437.6 139.4L436.5 139.2L435.6 138.9L434.8 138.7L434.0 138.4L433.3 138.1L432.8 137.8L432.3 137.5L431.8 137.2L431.5 137.0L431.3 136.7L431.2 136.4L431.2 136.1L431.2 135.7L431.2 135.4L431.2 135.2L431.2 135.0L431.0 135.0L431.0 135.2L431.0 135.4L430.9 135.7L430.9 136.1L430.9 136.4L431.0 136.8L431.2 137.2L431.6 137.6L432.0 137.9L432.5 138.2L433.1 138.5L433.8 138.9L434.6 139.2L435.4 139.5L436.4 139.8L437.4 140.0L438.6 140.2L439.9 140.4L441.3 140.5L442.8 140.6L444.4 140.7L445.9 140.9L447.5 141.1L449.1 141.3L450.8 141.6L452.5 141.8L454.2 142.0L456.0 142.3L457.7 142.7L459.5 143.2L461.2 143.9L462.9 144.9L464.7 146.2L466.6 148.0L468.6 150.1L470.5 152.3L472.4 154.5L474.0 156.5L475.4 158.2L476.5 159.4Z" fill="#eceef2" opacity="0.85"/>
<path d="M476.4 168.8L475.2 169.1L473.6 169.5L471.7 169.9L469.6 170.4L467.4 170.8L465.3 171.3L463.3 171.6L461.5 171.9L460.0 172.1L458.6 172.2L457.1 172.2L455.7 172.1L454.2 172.1L452.7 172.2L451.3 172.3L449.8 172.7L448.2 173.2L446.7 173.8L445.1 174.6L443.7 175.4L442.3 176.2L441.1 177.0L440.1 177.6L439.3 178.1L439.7 178.9L440.5 178.6L441.7 178.1L442.9 177.5L444.4 176.9L445.9 176.2L447.4 175.7L448.9 175.2L450.2 174.9L451.5 174.8L452.8 174.9L454.1 175.0L455.5 175.2L456.9 175.4L458.4 175.6L460.1 175.7L461.9 175.7L463.8 175.6L465.9 175.4L468.1 175.1L470.4 174.8L472.5 174.5L474.4 174.3L476.0 174.1L477.2 174.0Z" fill="#2a2a34" opacity="0.75"/>
<path d="M475.6 167.8L474.4 168.1L472.8 168.5L471.0 168.9L468.9 169.3L466.7 169.8L464.5 170.2L462.5 170.6L460.8 170.8L459.2 171.0L457.8 171.1L456.3 171.0L454.9 171.0L453.4 171.0L451.9 171.0L450.5 171.2L449.0 171.5L447.5 172.0L446.0 172.6L444.4 173.4L442.9 174.2L441.6 175.0L440.3 175.7L439.3 176.4L438.6 176.8L438.8 177.4L439.7 177.0L440.8 176.6L442.1 176.0L443.5 175.3L445.0 174.7L446.5 174.1L448.0 173.6L449.4 173.3L450.7 173.2L452.0 173.2L453.3 173.3L454.7 173.5L456.1 173.7L457.7 173.9L459.3 174.0L461.0 174.0L462.9 173.8L465.0 173.6L467.3 173.4L469.5 173.1L471.6 172.8L473.6 172.5L475.2 172.3L476.4 172.2Z" fill="#8e9097"/>
<path d="M475.9 169.3L474.7 169.6L473.1 169.9L471.2 170.2L469.1 170.6L466.9 171.0L464.7 171.4L462.7 171.7L460.9 171.9L459.3 172.0L457.7 172.0L456.2 172.0L454.8 171.9L453.4 171.8L452.0 171.8L450.6 171.9L449.1 172.1L447.7 172.5L446.2 173.1L444.6 173.8L443.1 174.6L441.7 175.3L440.5 176.0L439.4 176.6L438.7 177.0L438.7 177.2L439.6 176.8L440.6 176.3L441.9 175.6L443.3 174.9L444.8 174.2L446.3 173.6L447.8 173.0L449.3 172.7L450.6 172.5L452.0 172.5L453.3 172.5L454.7 172.6L456.2 172.8L457.7 172.9L459.3 172.9L460.9 172.9L462.8 172.7L464.9 172.4L467.1 172.1L469.3 171.8L471.4 171.4L473.3 171.1L474.9 170.8L476.1 170.7Z" fill="#eceef2" opacity="0.85"/>
<path d="M505.4 152.4L505.8 152.1L506.2 151.6L506.8 151.1L507.4 150.5L508.2 149.8L509.0 149.1L509.9 148.3L510.9 147.4L511.9 146.3L513.1 145.1L514.4 143.8L515.7 142.5L517.0 141.2L518.3 139.9L519.7 138.7L521.0 137.7L522.3 136.7L523.7 135.8L525.1 134.9L526.5 134.1L527.9 133.4L529.3 132.7L530.7 132.1L532.0 131.5L533.3 131.1L534.8 130.8L536.3 130.5L537.7 130.4L539.1 130.2L540.4 130.1L541.4 130.0L542.2 129.8L542.2 129.0L541.4 128.9L540.3 128.9L539.0 128.9L537.6 128.9L536.1 129.0L534.5 129.1L532.9 129.3L531.4 129.7L529.9 130.1L528.4 130.6L526.9 131.2L525.3 131.9L523.8 132.6L522.3 133.4L520.7 134.2L519.2 135.1L517.7 136.2L516.2 137.3L514.7 138.6L513.2 139.9L511.8 141.1L510.5 142.3L509.2 143.4L508.1 144.2L507.1 145.0L506.2 145.7L505.3 146.3L504.5 146.9L503.8 147.3L503.2 147.7L502.6 148.1L502.2 148.4Z" fill="#2a2a34" opacity="0.75"/>
<path d="M504.4 150.7L504.7 150.4L505.2 149.9L505.7 149.4L506.4 148.8L507.1 148.2L508.0 147.4L508.9 146.6L509.8 145.7L510.9 144.7L512.1 143.5L513.3 142.2L514.6 140.9L516.0 139.5L517.4 138.3L518.7 137.1L520.0 136.0L521.3 135.1L522.7 134.2L524.1 133.3L525.6 132.5L527.0 131.7L528.4 131.1L529.8 130.5L531.1 129.9L532.5 129.5L533.9 129.2L535.4 129.0L536.9 128.8L538.3 128.6L539.6 128.5L540.6 128.4L541.4 128.3L541.4 127.7L540.6 127.7L539.5 127.7L538.3 127.7L536.8 127.7L535.3 127.8L533.8 127.9L532.2 128.1L530.7 128.5L529.2 128.9L527.7 129.4L526.2 130.0L524.7 130.7L523.1 131.4L521.6 132.2L520.1 133.1L518.6 134.0L517.1 135.0L515.6 136.2L514.1 137.4L512.6 138.7L511.2 139.9L509.9 141.1L508.7 142.2L507.6 143.1L506.6 143.9L505.6 144.6L504.8 145.2L504.0 145.7L503.3 146.2L502.6 146.6L502.1 147.0L501.6 147.3Z" fill="#8e9097"/>
<path d="M503.4 149.5L503.8 149.2L504.3 148.8L504.9 148.3L505.6 147.8L506.3 147.1L507.1 146.4L508.1 145.6L509.0 144.8L510.1 143.8L511.3 142.7L512.6 141.4L513.9 140.1L515.3 138.8L516.7 137.5L518.1 136.3L519.5 135.3L520.9 134.4L522.3 133.5L523.8 132.6L525.2 131.9L526.7 131.1L528.2 130.5L529.6 129.9L531.0 129.4L532.4 129.0L533.9 128.8L535.4 128.5L536.9 128.4L538.3 128.3L539.5 128.2L540.6 128.2L541.4 128.1L541.4 127.9L540.6 127.9L539.5 128.0L538.3 128.0L536.9 128.1L535.4 128.2L533.8 128.3L532.3 128.6L530.8 129.0L529.4 129.4L527.9 130.0L526.5 130.6L525.0 131.3L523.5 132.1L522.0 132.9L520.5 133.8L519.1 134.7L517.6 135.7L516.2 136.9L514.7 138.2L513.3 139.4L511.9 140.7L510.6 142.0L509.4 143.1L508.4 144.0L507.4 144.8L506.4 145.6L505.6 146.2L504.8 146.8L504.1 147.3L503.5 147.8L503.0 148.2L502.6 148.5Z" fill="#eceef2" opacity="0.85"/>
<path d="M504.8 156.0L505.7 155.4L506.9 154.6L508.4 153.7L510.0 152.6L511.7 151.6L513.4 150.5L515.0 149.5L516.5 148.6L517.8 147.8L519.1 147.0L520.4 146.3L521.6 145.5L522.8 144.9L524.0 144.2L525.1 143.7L526.1 143.2L527.1 142.9L528.1 142.6L529.0 142.4L530.0 142.2L530.9 142.1L531.6 142.0L532.3 141.9L532.8 141.8L532.8 141.0L532.2 141.0L531.6 141.0L530.8 140.9L529.9 140.9L528.9 141.0L527.8 141.1L526.7 141.3L525.5 141.6L524.3 141.9L523.1 142.4L521.9 142.9L520.6 143.5L519.3 144.1L517.9 144.8L516.5 145.5L515.1 146.2L513.6 147.0L511.9 147.9L510.1 148.8L508.3 149.8L506.6 150.7L505.1 151.6L503.8 152.3L502.8 152.8Z" fill="#2a2a34" opacity="0.75"/>
<path d="M503.8 154.3L504.7 153.7L505.9 152.9L507.4 152.0L509.0 150.9L510.7 149.9L512.5 148.8L514.1 147.8L515.5 146.9L516.9 146.2L518.2 145.4L519.5 144.6L520.7 143.9L521.9 143.2L523.1 142.6L524.2 142.1L525.2 141.6L526.2 141.3L527.2 141.0L528.2 140.8L529.2 140.6L530.0 140.5L530.8 140.4L531.5 140.3L532.0 140.2L532.0 139.8L531.5 139.8L530.8 139.7L530.0 139.7L529.1 139.7L528.1 139.8L527.0 139.9L525.9 140.1L524.8 140.4L523.6 140.8L522.4 141.2L521.2 141.8L519.9 142.4L518.6 143.0L517.2 143.7L515.9 144.4L514.5 145.1L513.0 145.8L511.3 146.7L509.5 147.7L507.7 148.7L506.0 149.6L504.5 150.5L503.2 151.2L502.2 151.7Z" fill="#8e9097"/>
<path d="M503.2 153.4L504.2 152.8L505.4 152.1L506.9 151.1L508.6 150.1L510.3 149.1L512.0 148.1L513.7 147.1L515.2 146.3L516.5 145.5L517.9 144.8L519.2 144.1L520.4 143.4L521.7 142.7L522.9 142.1L524.0 141.6L525.1 141.2L526.1 140.9L527.2 140.6L528.2 140.4L529.1 140.3L530.0 140.3L530.8 140.2L531.5 140.1L532.0 140.1L532.0 139.9L531.5 140.0L530.8 140.0L530.0 140.0L529.1 140.0L528.1 140.1L527.1 140.3L526.0 140.5L524.9 140.8L523.8 141.2L522.7 141.7L521.4 142.3L520.2 142.9L518.9 143.6L517.6 144.3L516.2 145.0L514.8 145.7L513.3 146.5L511.7 147.5L509.9 148.5L508.2 149.5L506.5 150.5L505.0 151.3L503.7 152.1L502.8 152.6Z" fill="#eceef2" opacity="0.85"/>
<path d="M472.9 170.9L473.3 169.0L473.9 166.2L474.6 163.0L475.4 159.7L476.4 156.7L477.5 154.5L478.7 153.0L480.1 152.1L481.5 151.4L483.2 150.9L484.9 150.5L486.9 149.9L489.2 149.2L491.9 148.4L494.7 147.7L497.5 147.1L500.0 146.6L502.1 146.4L503.8 146.4L505.2 146.5L506.4 146.8L507.3 147.3L508.0 147.9L508.5 148.7L508.8 149.7L508.8 150.9L508.6 152.3L508.2 153.8L507.5 155.3L506.7 156.9L505.6 158.6L504.2 160.4L502.6 162.2L500.9 164.1L499.1 165.8L497.4 167.4L495.7 168.8L493.9 170.2L492.2 171.4L490.4 172.5L488.6 173.5L486.9 174.4L485.2 175.1L483.5 175.6L481.8 176.1L480.2 176.4L478.8 176.6L477.5 176.7L476.4 176.8L475.4 176.7L474.6 176.6L473.9 176.4L473.3 176.0L472.9 175.6L472.6 175.0L472.6 174.1L472.6 173.2L472.7 172.3L472.8 171.5L472.9 170.9Z" fill="#262630" opacity="0.6"/>
<path d="M471.4 168.9L471.8 167.0L472.4 164.2L473.1 161.0L473.9 157.7L474.9 154.7L476.0 152.5L477.2 151.0L478.6 150.1L480.0 149.4L481.7 148.9L483.4 148.5L485.4 147.9L487.7 147.2L490.4 146.4L493.2 145.7L496.0 145.1L498.5 144.6L500.6 144.4L502.3 144.4L503.7 144.5L504.9 144.8L505.8 145.3L506.5 145.9L507.0 146.7L507.3 147.7L507.3 148.9L507.1 150.3L506.7 151.8L506.0 153.3L505.2 154.9L504.1 156.6L502.7 158.4L501.1 160.2L499.4 162.1L497.6 163.8L495.9 165.4L494.2 166.8L492.4 168.2L490.7 169.4L488.9 170.5L487.1 171.5L485.4 172.4L483.7 173.1L482.0 173.6L480.3 174.1L478.7 174.4L477.3 174.6L476.0 174.7L474.9 174.8L473.9 174.7L473.1 174.6L472.4 174.4L471.8 174.0L471.4 173.6L471.1 173.0L471.1 172.1L471.1 171.2L471.2 170.3L471.3 169.5L471.4 168.9Z" fill="#5450b2"/>
<path d="M474.0 173.0L475.1 171.8L476.5 170.1L478.2 168.1L480.1 166.0L482.1 163.9L484.0 162.0L485.9 160.2L487.9 158.4L490.0 156.6L492.1 154.9L494.1 153.4L496.0 152.0L497.9 150.7L499.9 149.5L501.8 148.4L503.6 147.5L505.0 147.0L506.0 147.0L506.6 147.6L506.8 148.6L506.7 150.1L506.3 151.7L505.8 153.4L505.0 155.0L504.0 156.6L502.7 158.3L501.1 160.1L499.4 161.8L497.7 163.5L496.0 165.0L494.3 166.4L492.4 167.7L490.5 168.9L488.6 170.1L486.7 171.1L485.0 172.0L483.3 172.8L481.6 173.5L479.9 174.1L478.4 174.5L477.1 174.8L476.0 175.0L475.2 174.9L474.7 174.6L474.4 174.2L474.3 173.7L474.1 173.3L474.0 173.0Z" fill="#a452b4" opacity="0.9"/>
<path d="M501.1 148.4L501.6 147.4L502.4 146.2L503.3 144.6L504.4 142.9L505.4 141.2L506.5 139.3L507.4 137.5L508.2 135.8L508.8 134.2L509.3 132.7L509.7 131.1L510.1 129.6L510.4 128.1L510.7 126.7L511.0 125.3L511.3 123.8L511.7 122.3L512.1 120.7L512.4 119.2L512.8 117.6L513.1 116.1L513.5 114.6L513.9 113.3L514.3 112.1L514.8 111.0L515.3 109.9L515.9 108.9L516.5 107.9L517.1 107.0L517.6 106.2L518.1 105.5L518.4 105.0L517.6 104.4L517.2 104.9L516.7 105.5L516.0 106.2L515.3 107.0L514.6 108.0L513.8 109.0L513.1 110.1L512.5 111.3L511.9 112.6L511.4 114.0L510.9 115.4L510.4 116.9L509.9 118.5L509.4 120.0L508.9 121.5L508.5 123.0L508.0 124.4L507.5 125.9L507.1 127.3L506.7 128.7L506.3 130.1L505.8 131.5L505.2 132.8L504.6 134.2L503.8 135.6L502.8 137.2L501.7 138.8L500.6 140.5L499.5 142.1L498.4 143.5L497.6 144.7L496.9 145.6Z" fill="#4a52b4"/>
<path d="M507.9 147.0L508.5 146.3L509.5 145.5L510.6 144.4L511.8 143.3L513.1 142.0L514.4 140.7L515.5 139.3L516.5 138.0L517.4 136.5L518.1 134.8L518.7 133.1L519.3 131.4L519.8 129.7L520.3 128.2L520.7 126.9L521.0 126.0L521.3 125.4L521.5 125.0L521.5 124.9L521.4 124.9L521.1 124.8L521.2 124.8L521.4 124.9L521.7 124.9L521.5 124.1L521.6 124.1L521.8 124.1L521.7 124.0L521.2 123.8L520.8 124.0L520.5 124.3L520.1 124.7L519.8 125.4L519.3 126.4L518.8 127.7L518.3 129.2L517.7 130.8L517.1 132.5L516.4 134.1L515.6 135.6L514.9 136.8L513.9 138.0L512.8 139.2L511.6 140.4L510.3 141.6L509.0 142.6L507.9 143.6L506.9 144.4L506.1 145.0Z" fill="#a050b8"/>
<path d="M477.1 159.0L476.2 158.1L474.9 156.7L473.4 155.0L471.8 153.2L470.0 151.5L468.2 149.9L466.4 148.6L464.7 147.9L463.0 147.8L461.4 148.3L460.0 149.0L458.7 150.0L457.5 151.1L456.4 152.3L455.3 153.4L454.4 154.4L453.6 155.4L452.8 156.6L452.2 157.8L451.6 159.1L451.1 160.2L450.7 161.3L450.3 162.2L450.0 162.8L450.8 163.2L451.1 162.6L451.6 161.7L452.1 160.7L452.6 159.6L453.3 158.4L454.0 157.3L454.7 156.3L455.6 155.4L456.5 154.5L457.6 153.5L458.7 152.4L459.8 151.5L461.0 150.7L462.1 150.2L463.2 150.0L464.1 150.1L465.2 150.7L466.6 151.8L468.2 153.3L469.8 155.0L471.4 156.8L472.8 158.6L474.0 160.0L474.9 161.0Z" fill="#7a48b0"/>
<path d="M474.9 171.4L474.6 172.6L474.2 174.3L473.7 176.3L473.1 178.5L472.5 180.8L472.0 183.1L471.4 185.3L470.9 187.1L470.5 188.8L470.1 190.4L469.7 192.0L469.3 193.4L468.9 194.9L468.6 196.3L468.2 197.7L468.0 199.0L467.7 200.4L467.5 201.8L467.3 203.2L467.2 204.6L467.0 205.8L466.9 206.9L466.9 207.8L466.8 208.5L467.8 208.7L468.0 208.0L468.2 207.1L468.4 206.0L468.7 204.8L469.0 203.5L469.3 202.2L469.7 200.9L470.0 199.6L470.4 198.3L470.9 197.0L471.4 195.6L471.9 194.2L472.4 192.8L472.9 191.3L473.5 189.7L474.1 188.1L474.7 186.2L475.4 184.1L476.1 181.9L476.8 179.6L477.5 177.4L478.1 175.5L478.7 173.8L479.1 172.6Z" fill="#9048a8"/>
</g>
<g filter="url(#blur08)">
<path d="M112.7 606.7L111.5 605.6L110.0 604.0L108.2 602.2L106.2 600.1L104.2 598.0L102.3 595.9L100.6 594.0L99.3 592.3L98.2 591.0L97.4 589.7L96.7 588.5L96.0 587.3L95.5 586.2L94.9 585.1L94.4 584.0L93.8 582.9L93.2 581.9L92.7 580.9L92.2 580.0L91.7 579.1L91.2 578.3L90.8 577.6L90.4 577.1L90.1 576.6L89.3 577.0L89.4 577.5L89.6 578.2L89.9 578.9L90.2 579.8L90.6 580.8L90.9 581.8L91.4 582.8L91.8 583.9L92.2 584.9L92.5 586.0L92.9 587.2L93.3 588.5L93.9 589.8L94.5 591.3L95.3 592.8L96.3 594.5L97.6 596.3L99.3 598.4L101.1 600.7L103.0 603.0L104.9 605.2L106.5 607.2L107.9 608.8L108.9 610.1Z" fill="#2a2a34" opacity="0.75"/>
<path d="M111.6 605.6L110.4 604.5L108.9 602.9L107.1 601.0L105.2 598.9L103.2 596.8L101.3 594.7L99.6 592.8L98.2 591.1L97.2 589.7L96.3 588.4L95.6 587.2L95.0 586.0L94.4 584.9L93.9 583.7L93.4 582.7L92.8 581.6L92.2 580.6L91.7 579.6L91.2 578.7L90.7 577.8L90.2 577.0L89.8 576.3L89.5 575.7L89.2 575.3L88.6 575.5L88.8 576.0L89.0 576.7L89.3 577.5L89.6 578.3L90.0 579.3L90.3 580.3L90.8 581.3L91.2 582.4L91.6 583.4L92.0 584.5L92.3 585.7L92.8 587.0L93.3 588.3L94.0 589.7L94.8 591.3L95.8 592.9L97.1 594.7L98.7 596.8L100.6 599.1L102.5 601.3L104.3 603.5L106.0 605.5L107.4 607.2L108.4 608.4Z" fill="#8e9097"/>
<path d="M110.5 606.6L109.4 605.4L107.9 603.8L106.1 601.9L104.2 599.8L102.3 597.6L100.4 595.4L98.7 593.4L97.4 591.7L96.3 590.3L95.5 588.9L94.8 587.6L94.2 586.3L93.7 585.2L93.2 584.0L92.8 582.9L92.3 581.9L91.7 580.9L91.2 579.9L90.8 578.9L90.3 578.0L89.9 577.2L89.5 576.4L89.2 575.8L89.0 575.4L88.8 575.4L89.0 575.9L89.3 576.6L89.6 577.3L90.0 578.2L90.4 579.1L90.8 580.1L91.3 581.1L91.7 582.1L92.2 583.2L92.6 584.3L93.1 585.4L93.5 586.6L94.1 587.9L94.8 589.3L95.6 590.7L96.6 592.3L98.0 594.0L99.6 596.1L101.5 598.3L103.4 600.5L105.3 602.6L107.0 604.6L108.5 606.2L109.5 607.4Z" fill="#eceef2" opacity="0.85"/>
<path d="M110.1 608.2L108.7 607.4L106.8 606.3L104.5 605.0L101.9 603.6L99.2 602.1L96.5 600.7L93.9 599.5L91.6 598.5L89.3 597.8L87.2 597.3L85.1 596.9L83.1 596.6L81.2 596.4L79.3 596.3L77.7 596.1L76.1 595.9L74.5 595.7L73.1 595.5L71.7 595.3L70.4 595.2L69.2 595.0L68.1 594.9L67.1 594.7L66.1 594.5L65.2 594.2L64.3 593.9L63.5 593.5L62.7 593.2L62.0 592.8L61.3 592.5L60.8 592.2L60.3 592.0L59.9 592.8L60.2 593.1L60.7 593.5L61.3 593.9L62.0 594.4L62.7 594.9L63.6 595.4L64.5 595.9L65.5 596.3L66.5 596.7L67.6 597.0L68.8 597.3L70.0 597.6L71.3 597.9L72.6 598.2L74.0 598.5L75.5 598.9L77.2 599.3L78.9 599.6L80.7 599.9L82.5 600.2L84.4 600.5L86.3 601.0L88.2 601.6L90.0 602.3L92.1 603.3L94.5 604.6L97.0 606.0L99.6 607.6L102.0 609.1L104.2 610.6L106.1 611.8L107.5 612.6Z" fill="#2a2a34" opacity="0.75"/>
<path d="M109.1 607.1L107.7 606.3L105.8 605.3L103.5 603.9L100.9 602.5L98.3 601.0L95.6 599.6L93.0 598.4L90.6 597.4L88.4 596.7L86.3 596.2L84.2 595.8L82.2 595.5L80.3 595.3L78.5 595.2L76.8 595.0L75.2 594.8L73.7 594.5L72.2 594.3L70.9 594.2L69.6 594.0L68.4 593.8L67.3 593.7L66.2 593.5L65.2 593.3L64.3 593.0L63.4 592.7L62.6 592.3L61.8 591.9L61.1 591.5L60.4 591.2L59.9 590.9L59.5 590.7L59.1 591.3L59.5 591.5L60.0 591.9L60.6 592.4L61.3 592.8L62.0 593.3L62.9 593.8L63.8 594.3L64.8 594.7L65.8 595.1L66.9 595.4L68.0 595.7L69.2 596.0L70.5 596.3L71.9 596.6L73.3 596.9L74.8 597.2L76.4 597.6L78.1 597.9L79.9 598.2L81.8 598.5L83.7 598.8L85.5 599.3L87.5 599.9L89.4 600.6L91.5 601.6L93.8 602.9L96.4 604.3L98.9 605.9L101.4 607.4L103.6 608.8L105.5 610.0L106.9 610.9Z" fill="#8e9097"/>
<path d="M108.3 608.4L106.9 607.6L105.0 606.5L102.7 605.2L100.2 603.7L97.6 602.2L95.0 600.8L92.5 599.5L90.2 598.5L88.1 597.8L86.0 597.3L84.0 596.9L82.1 596.6L80.2 596.3L78.4 596.1L76.7 595.9L75.1 595.6L73.5 595.4L72.1 595.1L70.8 594.9L69.5 594.7L68.3 594.5L67.1 594.3L66.1 594.0L65.1 593.8L64.1 593.4L63.2 593.1L62.4 592.7L61.6 592.2L60.9 591.8L60.3 591.4L59.8 591.1L59.4 590.9L59.2 591.1L59.6 591.3L60.2 591.7L60.8 592.1L61.4 592.5L62.2 593.0L63.1 593.4L64.0 593.9L64.9 594.2L65.9 594.5L67.0 594.8L68.2 595.1L69.4 595.3L70.6 595.5L72.0 595.8L73.4 596.1L74.9 596.4L76.6 596.7L78.3 596.9L80.1 597.2L81.9 597.4L83.8 597.8L85.8 598.2L87.8 598.8L89.8 599.5L92.0 600.5L94.5 601.7L97.0 603.2L99.6 604.7L102.1 606.2L104.4 607.6L106.3 608.7L107.7 609.6Z" fill="#eceef2" opacity="0.85"/>
<path d="M107.4 613.1L106.0 612.8L104.0 612.4L101.7 611.8L99.1 611.3L96.4 610.7L93.7 610.2L91.2 609.8L88.9 609.7L86.9 609.7L85.0 609.9L83.1 610.1L81.4 610.5L79.8 610.9L78.3 611.4L76.8 611.9L75.5 612.3L74.2 612.9L72.9 613.5L71.7 614.1L70.7 614.8L69.7 615.4L68.9 616.0L68.2 616.5L67.7 616.9L68.1 617.7L68.7 617.4L69.5 617.1L70.4 616.6L71.4 616.2L72.5 615.7L73.7 615.2L74.9 614.8L76.1 614.5L77.5 614.2L78.9 613.8L80.4 613.6L81.9 613.3L83.5 613.1L85.2 613.0L86.9 613.0L88.7 613.1L90.7 613.5L93.0 613.9L95.5 614.6L98.1 615.3L100.6 616.0L102.9 616.7L104.8 617.3L106.2 617.7Z" fill="#2a2a34" opacity="0.75"/>
<path d="M106.5 612.1L105.1 611.8L103.1 611.3L100.8 610.8L98.2 610.2L95.5 609.6L92.9 609.1L90.4 608.8L88.1 608.6L86.1 608.6L84.2 608.7L82.4 609.0L80.7 609.4L79.0 609.8L77.5 610.3L76.1 610.7L74.7 611.2L73.4 611.7L72.2 612.3L71.0 612.9L70.0 613.6L69.0 614.2L68.2 614.8L67.5 615.3L67.0 615.6L67.2 616.2L67.9 615.9L68.6 615.5L69.5 615.1L70.5 614.6L71.6 614.1L72.8 613.6L74.0 613.2L75.3 612.8L76.6 612.5L78.0 612.2L79.5 611.9L81.1 611.6L82.7 611.4L84.4 611.3L86.1 611.3L87.9 611.4L89.9 611.7L92.3 612.2L94.8 612.8L97.4 613.5L99.9 614.3L102.2 614.9L104.1 615.5L105.5 615.9Z" fill="#8e9097"/>
<path d="M106.1 613.4L104.7 613.1L102.8 612.6L100.5 612.0L97.9 611.4L95.3 610.8L92.7 610.2L90.2 609.8L88.0 609.6L86.1 609.5L84.2 609.6L82.5 609.9L80.8 610.2L79.2 610.5L77.7 610.9L76.3 611.3L74.9 611.7L73.6 612.2L72.4 612.7L71.2 613.3L70.1 613.9L69.2 614.5L68.3 615.0L67.6 615.5L67.1 615.8L67.1 616.0L67.7 615.7L68.5 615.3L69.3 614.8L70.3 614.2L71.4 613.7L72.6 613.1L73.8 612.7L75.1 612.3L76.4 611.9L77.9 611.5L79.4 611.2L80.9 610.9L82.6 610.6L84.3 610.4L86.1 610.4L88.0 610.4L90.1 610.7L92.5 611.1L95.1 611.7L97.7 612.4L100.2 613.0L102.5 613.7L104.4 614.2L105.9 614.6Z" fill="#eceef2" opacity="0.85"/>
<path d="M106.4 622.8L105.0 623.2L103.0 623.5L100.7 624.0L98.2 624.5L95.6 625.0L93.0 625.5L90.5 626.1L88.4 626.6L86.6 627.0L85.0 627.5L83.4 627.9L81.9 628.4L80.5 628.8L79.1 629.3L77.8 629.8L76.4 630.3L75.1 630.8L73.6 631.5L72.2 632.1L70.9 632.7L69.6 633.4L68.5 633.9L67.6 634.4L66.9 634.8L67.3 635.6L68.0 635.4L69.0 635.1L70.2 634.7L71.5 634.2L72.9 633.8L74.3 633.3L75.8 632.9L77.2 632.5L78.5 632.2L79.9 631.9L81.2 631.6L82.7 631.3L84.1 631.1L85.7 630.8L87.4 630.5L89.2 630.2L91.2 629.9L93.6 629.6L96.3 629.3L98.9 628.9L101.5 628.6L103.8 628.3L105.8 628.1L107.2 628.0Z" fill="#2a2a34" opacity="0.75"/>
<path d="M105.6 621.8L104.2 622.1L102.3 622.5L100.0 623.0L97.5 623.5L94.8 624.0L92.2 624.5L89.8 625.0L87.7 625.5L85.9 625.9L84.2 626.4L82.7 626.8L81.2 627.2L79.8 627.7L78.4 628.1L77.1 628.6L75.7 629.1L74.3 629.7L72.9 630.3L71.5 630.9L70.2 631.5L68.9 632.1L67.8 632.7L66.9 633.2L66.2 633.5L66.4 634.1L67.2 633.9L68.2 633.5L69.3 633.1L70.6 632.7L72.0 632.2L73.5 631.7L74.9 631.3L76.3 630.9L77.6 630.6L79.0 630.2L80.4 629.9L81.8 629.7L83.3 629.4L84.8 629.1L86.5 628.8L88.3 628.5L90.4 628.2L92.8 627.9L95.4 627.5L98.0 627.2L100.6 626.8L102.9 626.6L104.9 626.3L106.4 626.2Z" fill="#8e9097"/>
<path d="M105.9 623.3L104.5 623.6L102.5 623.9L100.2 624.3L97.7 624.8L95.0 625.2L92.4 625.7L90.0 626.1L87.9 626.5L86.1 626.9L84.4 627.3L82.9 627.7L81.4 628.1L80.0 628.5L78.6 628.9L77.3 629.3L75.9 629.7L74.5 630.2L73.1 630.8L71.7 631.3L70.3 631.9L69.1 632.5L67.9 633.0L67.0 633.4L66.3 633.7L66.3 633.9L67.1 633.6L68.0 633.2L69.2 632.8L70.5 632.3L71.8 631.7L73.3 631.2L74.7 630.7L76.1 630.3L77.4 629.9L78.8 629.5L80.2 629.2L81.6 628.8L83.1 628.5L84.6 628.1L86.3 627.8L88.1 627.5L90.2 627.1L92.6 626.7L95.2 626.3L97.8 625.9L100.4 625.5L102.7 625.1L104.7 624.9L106.1 624.7Z" fill="#eceef2" opacity="0.85"/>
<path d="M132.2 606.3L133.4 605.4L135.0 604.1L136.9 602.6L139.0 601.0L141.1 599.3L143.2 597.7L145.2 596.2L146.9 595.0L148.3 593.9L149.6 593.0L150.9 592.1L152.1 591.4L153.2 590.6L154.3 590.0L155.4 589.3L156.5 588.6L157.6 587.9L158.7 587.3L159.8 586.6L160.9 586.0L161.9 585.5L162.8 585.0L163.6 584.5L164.2 584.2L163.4 582.6L162.8 582.9L162.0 583.2L161.0 583.6L159.9 584.0L158.8 584.5L157.6 585.1L156.3 585.6L155.1 586.2L154.0 586.8L152.8 587.3L151.6 587.9L150.4 588.6L149.1 589.2L147.8 590.0L146.3 590.9L144.7 591.8L142.9 593.0L140.9 594.4L138.6 596.0L136.4 597.6L134.2 599.1L132.3 600.5L130.6 601.6L129.4 602.5Z" fill="#2a2a34" opacity="0.75"/>
<path d="M131.2 604.6L132.4 603.7L133.9 602.4L135.8 600.9L137.9 599.3L140.1 597.6L142.2 596.0L144.2 594.5L145.9 593.3L147.3 592.3L148.7 591.3L149.9 590.5L151.1 589.7L152.3 589.0L153.4 588.3L154.5 587.7L155.6 587.0L156.7 586.3L157.8 585.7L158.9 585.1L160.0 584.5L161.1 583.9L162.0 583.4L162.7 583.0L163.3 582.6L162.7 581.4L162.1 581.6L161.3 581.9L160.3 582.3L159.2 582.8L158.1 583.3L156.9 583.8L155.6 584.4L154.4 585.0L153.3 585.6L152.1 586.1L151.0 586.7L149.8 587.4L148.5 588.1L147.1 588.9L145.7 589.7L144.1 590.7L142.3 591.9L140.3 593.3L138.1 594.8L135.8 596.4L133.6 598.0L131.7 599.4L130.0 600.6L128.8 601.4Z" fill="#8e9097"/>
<path d="M130.4 603.5L131.5 602.6L133.2 601.4L135.1 599.9L137.2 598.3L139.4 596.7L141.5 595.1L143.5 593.6L145.3 592.4L146.8 591.4L148.1 590.5L149.4 589.7L150.6 588.9L151.8 588.2L152.9 587.6L154.1 586.9L155.2 586.3L156.3 585.7L157.5 585.1L158.6 584.5L159.8 583.9L160.8 583.4L161.7 582.9L162.5 582.5L163.1 582.2L162.9 581.8L162.3 582.1L161.5 582.4L160.6 582.9L159.5 583.4L158.4 583.9L157.2 584.5L156.0 585.1L154.8 585.7L153.7 586.3L152.6 586.9L151.4 587.5L150.2 588.2L149.0 588.9L147.7 589.7L146.2 590.6L144.7 591.6L143.0 592.8L141.0 594.2L138.8 595.8L136.6 597.4L134.4 599.0L132.5 600.4L130.8 601.6L129.6 602.5Z" fill="#eceef2" opacity="0.85"/>
<path d="M132.6 610.1L133.7 609.5L135.2 608.7L136.9 607.8L138.9 606.7L140.9 605.7L142.9 604.5L144.8 603.4L146.4 602.4L147.9 601.3L149.3 600.2L150.6 599.0L151.8 597.8L153.0 596.7L153.9 595.7L154.8 594.9L155.4 594.2L154.8 593.6L154.1 594.1L153.1 594.8L152.0 595.7L150.8 596.6L149.5 597.6L148.1 598.6L146.6 599.6L145.2 600.4L143.6 601.3L141.7 602.2L139.6 603.1L137.6 604.0L135.5 604.8L133.7 605.6L132.1 606.2L131.0 606.7Z" fill="#2a2a34" opacity="0.75"/>
<path d="M131.7 608.4L132.7 607.7L134.2 607.0L136.0 606.1L137.9 605.0L140.0 604.0L142.0 602.9L143.8 601.8L145.5 600.8L146.9 599.7L148.3 598.6L149.7 597.4L150.9 596.3L152.0 595.2L153.0 594.2L153.8 593.3L154.5 592.7L154.1 592.3L153.4 592.8L152.5 593.5L151.4 594.4L150.1 595.4L148.8 596.4L147.4 597.4L146.0 598.4L144.5 599.2L142.9 600.1L141.0 601.0L139.0 602.0L136.9 602.9L134.9 603.8L133.1 604.5L131.5 605.2L130.3 605.6Z" fill="#8e9097"/>
<path d="M131.2 607.4L132.3 606.8L133.8 606.1L135.6 605.3L137.6 604.3L139.6 603.3L141.6 602.2L143.5 601.2L145.1 600.2L146.6 599.2L148.0 598.2L149.4 597.1L150.6 595.9L151.8 594.9L152.8 594.0L153.7 593.2L154.4 592.6L154.2 592.4L153.5 593.0L152.6 593.8L151.6 594.7L150.4 595.7L149.1 596.7L147.7 597.8L146.3 598.8L144.9 599.8L143.2 600.7L141.4 601.7L139.3 602.7L137.3 603.6L135.3 604.6L133.5 605.4L131.9 606.1L130.8 606.6Z" fill="#eceef2" opacity="0.85"/>
<path d="M102.9 624.0L103.3 622.2L103.9 619.6L104.6 616.5L105.4 613.4L106.4 610.6L107.5 608.5L108.8 607.1L110.2 606.1L111.7 605.4L113.4 604.8L115.1 604.4L116.9 603.8L118.9 603.1L121.0 602.4L123.2 601.8L125.5 601.3L127.5 600.9L129.3 600.7L130.9 600.7L132.4 600.8L133.7 601.1L134.9 601.6L135.7 602.2L136.3 603.0L136.5 604.1L136.5 605.4L136.2 607.0L135.6 608.6L134.9 610.1L134.0 611.6L132.9 612.9L131.5 614.3L129.9 615.6L128.2 616.8L126.4 618.1L124.7 619.4L123.0 620.8L121.1 622.2L119.3 623.6L117.4 624.9L115.5 626.2L113.8 627.2L112.1 628.1L110.3 628.9L108.5 629.6L106.9 630.1L105.5 630.4L104.4 630.3L103.7 629.7L103.3 628.7L103.1 627.3L103.0 626.0L103.0 624.8L102.9 624.0Z" fill="#262630" opacity="0.6"/>
<path d="M101.4 622.0L101.8 620.2L102.4 617.6L103.1 614.5L103.9 611.4L104.9 608.6L106.0 606.5L107.3 605.1L108.7 604.1L110.2 603.4L111.9 602.8L113.6 602.4L115.4 601.8L117.4 601.1L119.5 600.4L121.8 599.8L124.0 599.3L126.0 598.9L127.8 598.7L129.4 598.7L130.9 598.8L132.2 599.1L133.4 599.6L134.2 600.2L134.8 601.0L135.0 602.1L135.0 603.4L134.7 605.0L134.1 606.6L133.4 608.1L132.5 609.6L131.4 610.9L130.0 612.3L128.4 613.6L126.7 614.8L124.9 616.1L123.2 617.4L121.5 618.8L119.6 620.2L117.8 621.6L115.9 622.9L114.0 624.2L112.3 625.2L110.6 626.1L108.8 626.9L107.0 627.6L105.4 628.1L104.0 628.4L102.9 628.3L102.2 627.7L101.8 626.7L101.6 625.3L101.5 624.0L101.5 622.8L101.4 622.0Z" fill="#5250b4"/>
<path d="M103.0 628.0L103.9 626.9L105.2 625.4L106.8 623.7L108.4 621.8L110.2 619.8L112.0 618.0L113.8 616.2L115.9 614.2L117.9 612.2L120.0 610.3L122.1 608.5L124.0 607.0L125.9 605.7L127.9 604.4L129.9 603.3L131.6 602.5L133.1 602.0L134.0 602.0L134.5 602.6L134.5 603.7L134.2 605.2L133.7 606.9L132.9 608.5L132.0 610.0L130.8 611.3L129.3 612.7L127.6 614.0L125.7 615.3L123.8 616.7L122.0 618.0L120.2 619.4L118.3 620.9L116.4 622.4L114.5 623.8L112.7 625.0L111.0 626.0L109.4 626.7L107.8 627.2L106.3 627.5L105.0 627.7L103.8 627.9L103.0 628.0Z" fill="#a452b4" opacity="0.9"/>
<path d="M128.3 601.0L128.8 599.7L129.4 598.0L130.2 596.0L131.1 593.7L132.0 591.4L133.0 589.0L133.9 586.8L134.7 584.7L135.4 582.8L136.1 580.9L136.7 579.1L137.4 577.2L138.0 575.5L138.6 573.8L139.3 572.1L140.0 570.6L140.8 569.0L141.8 567.3L142.8 565.7L143.8 564.1L144.8 562.6L145.7 561.3L146.4 560.2L146.9 559.3L146.1 558.7L145.4 559.5L144.6 560.5L143.6 561.7L142.4 563.1L141.3 564.7L140.1 566.2L139.0 567.8L138.0 569.4L137.1 571.0L136.2 572.7L135.4 574.4L134.6 576.1L133.8 577.9L133.0 579.7L132.2 581.5L131.3 583.3L130.4 585.2L129.3 587.4L128.2 589.7L127.1 592.0L126.1 594.2L125.1 596.1L124.3 597.8L123.7 599.0Z" fill="#4a52b4"/>
<path d="M105.9 614.6L104.8 614.7L103.3 614.8L101.5 614.9L99.4 615.1L97.3 615.2L95.3 615.4L93.4 615.7L91.8 616.0L90.4 616.3L89.2 616.8L88.1 617.3L87.1 617.8L86.2 618.3L85.3 618.7L84.6 619.1L83.9 619.3L83.2 619.4L82.5 619.4L81.7 619.3L81.1 619.1L80.4 619.0L79.8 618.8L79.3 618.7L78.9 618.6L78.7 619.4L79.0 619.5L79.5 619.7L80.1 620.0L80.7 620.2L81.5 620.5L82.3 620.7L83.2 620.8L84.1 620.7L85.1 620.5L86.0 620.2L86.9 619.9L87.8 619.4L88.8 619.0L89.9 618.6L91.0 618.3L92.2 618.0L93.7 617.9L95.5 617.7L97.5 617.6L99.6 617.5L101.6 617.5L103.4 617.4L104.9 617.4L106.1 617.4Z" fill="#8048b0"/>
<path d="M102.9 625.3L102.6 626.6L102.1 628.4L101.5 630.5L100.9 632.8L100.2 635.2L99.5 637.5L98.9 639.7L98.4 641.5L98.0 643.1L97.7 644.4L97.3 645.7L97.0 646.9L96.7 648.0L96.5 649.2L96.2 650.4L96.0 651.8L95.7 653.2L95.5 654.8L95.3 656.5L95.1 658.2L94.9 659.7L94.8 661.1L94.7 662.3L94.6 663.2L95.6 663.4L95.8 662.5L96.1 661.3L96.3 659.9L96.6 658.4L97.0 656.8L97.3 655.2L97.7 653.6L98.0 652.2L98.4 651.0L98.8 649.9L99.2 648.8L99.6 647.7L100.0 646.6L100.5 645.4L101.0 644.0L101.6 642.5L102.2 640.7L102.9 638.6L103.7 636.3L104.5 633.9L105.3 631.7L106.0 629.6L106.6 627.9L107.1 626.7Z" fill="#9048a8"/>
</g>
<path d="M155 586 C175 582 195 577 215 578 C235 585 255 588 290 588" fill="none" stroke="#5a98d0" stroke-width="4" opacity="0.45" filter="url(#blur06)"/>
<rect transform="translate(170.0,583.0) rotate(14)" x="-8.0" y="-0.8" width="16" height="1.6" fill="#3a86c8" opacity="0.9"/>
<rect transform="translate(170.0,583.0) rotate(14)" x="-8.5" y="-3.2" width="17" height="6.4" rx="3" fill="none" stroke="#111" stroke-width="1.4"/>
<rect transform="translate(187.5,580.8) rotate(-10)" x="-8.2" y="-0.8" width="16.5" height="1.6" fill="#3a86c8" opacity="0.9"/>
<rect transform="translate(187.5,580.8) rotate(-10)" x="-8.8" y="-3.2" width="17.5" height="6.4" rx="3" fill="none" stroke="#111" stroke-width="1.4"/>
<rect transform="translate(205.5,578.5) rotate(-8)" x="-8.2" y="-0.8" width="16.5" height="1.6" fill="#3a86c8" opacity="0.9"/>
<rect transform="translate(205.5,578.5) rotate(-8)" x="-8.8" y="-3.2" width="17.5" height="6.4" rx="3" fill="none" stroke="#111" stroke-width="1.4"/>
<rect transform="translate(222.4,580.2) rotate(18)" x="-7.8" y="-0.8" width="15.5" height="1.6" fill="#3a86c8" opacity="0.9"/>
<rect transform="translate(222.4,580.2) rotate(18)" x="-8.2" y="-3.2" width="16.5" height="6.4" rx="3" fill="none" stroke="#111" stroke-width="1.4"/>
<rect transform="translate(240.0,586.4) rotate(12)" x="-8.8" y="-0.8" width="17.5" height="1.6" fill="#3a86c8" opacity="0.9"/>
<rect transform="translate(240.0,586.4) rotate(12)" x="-9.2" y="-3.2" width="18.5" height="6.4" rx="3" fill="none" stroke="#111" stroke-width="1.4"/>
<rect transform="translate(258.5,587.0) rotate(3)" x="-8.2" y="-0.8" width="16.5" height="1.6" fill="#3a86c8" opacity="0.9"/>
<rect transform="translate(258.5,587.0) rotate(3)" x="-8.8" y="-3.2" width="17.5" height="6.4" rx="3" fill="none" stroke="#111" stroke-width="1.4"/>
<rect transform="translate(277.0,586.4) rotate(10)" x="-8.8" y="-0.8" width="17.5" height="1.6" fill="#3a86c8" opacity="0.9"/>
<rect transform="translate(277.0,586.4) rotate(10)" x="-9.2" y="-3.2" width="18.5" height="6.4" rx="3" fill="none" stroke="#111" stroke-width="1.4"/>
<g filter="url(#blur08)">
<path d="M325.9 588.9L324.5 587.7L322.6 586.1L320.4 584.1L317.9 582.0L315.3 579.7L312.7 577.4L310.3 575.2L308.2 573.2L306.3 571.2L304.4 569.2L302.6 567.1L300.8 565.1L299.1 563.0L297.4 561.1L295.7 559.4L294.0 557.8L292.2 556.5L290.4 555.4L288.7 554.4L287.0 553.6L285.5 552.9L284.1 552.4L282.9 551.9L282.0 551.6L281.6 552.4L282.4 553.0L283.5 553.6L284.8 554.4L286.2 555.2L287.7 556.1L289.2 557.2L290.8 558.4L292.2 559.8L293.7 561.3L295.1 563.1L296.6 565.0L298.2 567.1L299.8 569.3L301.5 571.6L303.3 573.8L305.2 576.0L307.3 578.3L309.6 580.7L312.1 583.1L314.5 585.6L316.9 587.9L319.0 590.0L320.8 591.7L322.1 593.1Z" fill="#d81c1c"/>
<path d="M308.1 574.5L308.0 573.4L307.8 572.0L307.7 570.3L307.5 568.4L307.3 566.4L307.1 564.3L307.0 562.1L306.9 560.0L306.9 557.7L306.9 555.1L306.9 552.3L307.0 549.5L307.0 546.8L307.1 544.3L307.1 542.2L307.1 540.7L306.3 540.7L306.2 542.2L306.0 544.3L305.8 546.7L305.7 549.4L305.5 552.2L305.3 555.0L305.2 557.7L305.1 560.0L305.0 562.2L305.1 564.4L305.1 566.5L305.1 568.6L305.2 570.5L305.2 572.2L305.3 573.6L305.3 574.7Z" fill="#d81c1c"/>
<path d="M300.6 567.6L300.1 566.9L299.5 566.1L299.0 565.4L298.4 564.7L297.9 564.0L297.3 563.3L296.8 562.6L296.2 561.8L295.8 562.2L296.2 562.9L296.7 563.7L297.1 564.5L297.6 565.3L298.0 566.1L298.5 566.9L298.9 567.6L299.4 568.4Z" fill="#d81c1c"/>
<path d="M322.3 588.1L320.5 588.0L318.0 587.7L315.1 587.4L311.9 587.0L308.6 586.7L305.5 586.3L302.6 586.0L300.1 585.8L298.1 585.7L296.2 585.5L294.5 585.5L293.0 585.4L291.6 585.4L290.5 585.4L289.5 585.4L288.6 585.4L288.6 586.4L289.4 586.6L290.3 586.7L291.5 586.9L292.9 587.1L294.4 587.3L296.0 587.6L297.9 587.9L299.9 588.2L302.2 588.6L305.1 589.0L308.2 589.6L311.5 590.1L314.7 590.6L317.6 591.1L320.0 591.6L321.7 591.9Z" fill="#d81c1c"/>
<path d="M299.7 587.1L299.2 587.3L298.6 587.5L297.8 587.8L297.0 588.2L296.1 588.5L295.2 588.8L294.4 589.1L293.8 589.4L293.2 589.7L292.7 589.9L292.2 590.2L291.8 590.5L291.4 590.7L291.1 590.9L290.9 591.1L290.7 591.2L290.9 591.8L291.2 591.7L291.5 591.6L291.8 591.4L292.2 591.3L292.7 591.1L293.2 590.9L293.7 590.8L294.2 590.6L294.9 590.4L295.7 590.2L296.5 589.9L297.4 589.7L298.3 589.4L299.1 589.2L299.8 589.0L300.3 588.9Z" fill="#d81c1c"/>
<path d="M370.5 599.4L370.9 598.4L371.5 597.2L372.3 595.7L373.1 594.1L373.9 592.3L374.8 590.5L375.7 588.8L376.5 587.0L377.3 585.4L378.1 583.8L378.9 582.1L379.7 580.4L380.5 578.7L381.3 576.8L382.1 574.9L382.8 572.9L383.4 570.6L384.1 568.1L384.7 565.5L385.3 562.9L385.8 560.4L386.2 558.1L386.6 556.0L386.9 554.4L387.0 553.2L387.1 552.3L387.0 551.7L386.9 551.2L386.6 550.8L386.4 550.7L386.4 550.7L386.3 550.7L385.3 550.9L385.3 551.2L385.4 551.5L385.4 551.5L385.3 551.6L385.3 551.7L385.2 552.2L385.0 552.9L384.7 554.0L384.3 555.5L383.8 557.5L383.2 559.8L382.6 562.3L381.9 564.8L381.1 567.3L380.4 569.7L379.6 571.7L378.8 573.6L378.0 575.3L377.1 577.0L376.2 578.6L375.3 580.2L374.4 581.8L373.4 583.4L372.5 585.0L371.6 586.6L370.6 588.3L369.6 590.0L368.6 591.6L367.6 593.2L366.8 594.6L366.1 595.7L365.5 596.6Z" fill="#d81c1c"/>
<path d="M385.3 598.3L385.9 597.3L386.6 596.1L387.5 594.6L388.4 593.1L389.5 591.5L390.7 590.0L392.0 588.6L393.4 587.3L395.1 586.2L397.0 585.1L399.1 584.0L401.4 582.9L403.7 581.9L406.1 580.9L408.5 579.9L410.9 579.0L413.5 578.1L416.3 577.2L419.2 576.3L422.1 575.4L424.9 574.6L427.4 573.9L429.6 573.3L431.1 572.8L430.9 571.8L429.3 572.2L427.1 572.6L424.6 573.2L421.7 573.9L418.8 574.6L415.8 575.4L412.9 576.2L410.3 577.0L407.8 577.8L405.3 578.6L402.8 579.5L400.3 580.4L397.9 581.4L395.7 582.4L393.5 583.5L391.6 584.7L389.7 586.0L388.1 587.6L386.6 589.3L385.3 590.9L384.2 592.5L383.2 593.8L382.4 594.9L381.7 595.7Z" fill="#d81c1c"/>
<path d="M386.4 601.6L387.6 601.1L389.1 600.4L390.9 599.6L392.9 598.8L395.0 598.0L397.3 597.2L399.5 596.5L401.7 596.0L404.1 595.7L406.9 595.5L409.8 595.4L412.8 595.4L415.6 595.4L418.2 595.4L420.4 595.4L422.0 595.4L422.0 594.6L420.4 594.5L418.2 594.3L415.7 594.1L412.8 594.0L409.8 593.8L406.8 593.8L404.0 593.8L401.5 594.0L399.1 594.3L396.6 594.8L394.2 595.5L392.0 596.2L389.8 596.9L388.0 597.5L386.4 598.1L385.2 598.4Z" fill="#d81c1c"/>
<path d="M400.5 597.0L401.0 597.3L401.8 597.6L402.6 598.0L403.6 598.5L404.6 599.0L405.7 599.5L406.6 600.0L407.6 600.6L408.5 601.2L409.5 602.0L410.5 602.8L411.6 603.7L412.6 604.5L413.4 605.2L414.2 605.8L414.8 606.3L415.2 605.7L414.7 605.2L414.0 604.5L413.2 603.7L412.3 602.8L411.3 601.9L410.3 601.0L409.4 600.1L408.4 599.4L407.5 598.7L406.5 598.0L405.5 597.4L404.5 596.8L403.6 596.2L402.7 595.7L402.1 595.3L401.5 595.0Z" fill="#d81c1c"/>
<path d="M383.7 626.2L385.2 625.9L387.0 625.6L389.3 625.3L391.7 625.0L394.3 624.6L397.0 624.2L399.5 623.9L401.7 623.6L403.9 623.4L406.0 623.1L408.1 622.8L410.1 622.6L412.1 622.4L414.1 622.2L416.0 622.1L418.0 622.1L420.0 622.1L422.1 622.3L424.3 622.5L426.5 622.8L428.5 623.1L430.4 623.4L431.9 623.6L433.1 623.7L433.3 622.7L432.1 622.4L430.6 622.1L428.8 621.7L426.8 621.3L424.6 620.8L422.4 620.5L420.1 620.1L418.0 619.9L416.0 619.8L414.0 619.8L411.9 619.8L409.9 619.9L407.8 620.0L405.7 620.1L403.6 620.3L401.5 620.4L399.1 620.5L396.6 620.7L393.9 620.9L391.3 621.2L388.8 621.4L386.6 621.6L384.7 621.7L383.3 621.8Z" fill="#d81c1c"/>
<path d="M378.9 626.7L379.4 627.8L380.0 629.4L380.8 631.2L381.6 633.2L382.3 635.2L383.1 637.2L383.8 639.0L384.4 640.4L384.9 641.7L385.4 642.8L385.9 643.7L386.3 644.6L386.6 645.4L387.0 646.0L387.3 646.6L387.5 647.1L388.5 646.7L388.4 646.2L388.4 645.6L388.3 644.9L388.1 644.0L387.9 643.1L387.7 642.0L387.5 640.8L387.2 639.6L386.8 638.0L386.3 636.1L385.7 634.1L385.2 632.0L384.6 629.9L384.1 628.0L383.7 626.4L383.5 625.3Z" fill="#d81c1c"/>
<path d="M384.9 629.0L385.5 629.6L386.2 630.2L387.1 631.0L388.1 631.9L389.0 632.9L390.0 633.9L390.9 635.0L391.7 636.1L392.4 637.3L393.1 638.8L393.8 640.3L394.5 642.0L395.2 643.5L395.7 645.0L396.2 646.2L396.6 647.0L397.4 646.8L397.1 645.8L396.7 644.6L396.3 643.1L395.8 641.5L395.2 639.8L394.6 638.1L394.0 636.5L393.3 635.1L392.6 633.8L391.7 632.6L390.8 631.4L389.9 630.2L389.0 629.2L388.2 628.3L387.6 627.6L387.1 627.0Z" fill="#d81c1c"/>
<path d="M318.0 587.0L319.7 587.8L322.1 589.0L324.9 590.4L327.9 591.8L331.0 593.0L334.0 594.0L336.9 594.7L339.9 595.2L343.0 595.6L346.1 595.8L349.1 596.0L352.0 596.0L354.9 595.8L357.7 595.3L360.5 594.8L363.2 594.2L365.7 593.9L368.0 594.0L370.1 594.5L371.9 595.3L373.6 596.2L375.2 597.4L376.6 598.7L378.0 600.0L379.3 601.4L380.4 602.8L381.4 604.4L382.4 606.1L383.2 607.9L384.0 610.0L384.8 612.5L385.7 615.5L386.6 618.6L387.1 621.6L387.3 624.2L387.0 626.0L386.1 627.0L384.6 627.5L382.8 627.5L380.7 627.2L378.4 626.6L376.0 626.0L373.4 625.2L370.5 624.0L367.4 622.6L364.3 621.1L361.1 619.5L358.0 618.0L354.9 616.4L351.8 614.8L348.6 613.1L345.6 611.4L342.7 609.7L340.0 608.0L337.6 606.3L335.5 604.7L333.5 603.1L331.6 601.4L329.8 599.7L328.0 598.0L326.1 596.1L324.1 594.0L322.2 591.9L320.5 589.9L319.1 588.2L318.0 587.0Z" fill="#d81c1c"/>
</g>
</g>
<g id="charts">
<path fill="#736d69" d="M760.14 110.73h1.24v10.27h-1.24zM767.58 110.73h1.24v10.27h-1.24zM770.06 110.73h1.24v10.27h-1.24zM776.26 90.27h1.24v30.73h-1.24zM781.23 90.27h1.24v30.73h-1.24zM802.31 90.27h1.24v30.73h-1.24zM814.71 90.27h1.24v30.73h-1.24zM817.19 90.27h1.24v30.73h-1.24zM829.60 90.27h1.24v30.73h-1.24zM839.52 90.27h1.24v30.73h-1.24zM844.48 90.27h1.24v30.73h-1.24zM849.44 90.27h1.24v30.73h-1.24zM859.36 90.27h1.24v30.73h-1.24zM860.60 90.27h1.24v30.73h-1.24zM861.84 90.27h1.24v30.73h-1.24zM879.21 90.27h1.24v30.73h-1.24zM886.65 90.27h1.24v30.73h-1.24zM890.37 90.27h1.24v30.73h-1.24zM897.81 110.73h1.24v10.27h-1.24zM901.53 110.73h1.24v10.27h-1.24zM902.77 110.73h1.24v10.27h-1.24zM908.98 110.73h1.24v10.27h-1.24zM912.70 110.73h1.24v10.27h-1.24zM928.82 110.73h1.24v10.27h-1.24zM933.78 110.73h1.24v10.27h-1.24zM951.15 110.73h1.24v10.27h-1.24zM969.75 110.73h1.24v10.27h-1.24zM980.91 110.73h1.24v10.27h-1.24zM983.39 110.73h1.24v10.27h-1.24zM988.36 110.73h1.24v10.27h-1.24zM1000.76 110.73h1.24v10.27h-1.24zM1003.24 110.73h1.24v10.27h-1.24zM1010.68 110.73h1.24v10.27h-1.24zM1013.16 110.73h1.24v10.27h-1.24zM1015.64 110.73h1.24v10.27h-1.24zM1018.12 110.73h1.24v10.27h-1.24zM1020.60 90.27h1.24v30.73h-1.24zM1029.29 90.27h1.24v30.73h-1.24zM1033.01 90.27h1.24v30.73h-1.24zM1049.13 90.27h1.24v30.73h-1.24zM1050.37 90.27h1.24v30.73h-1.24zM1057.81 90.27h1.24v30.73h-1.24zM1072.70 90.27h1.24v30.73h-1.24zM1075.18 90.27h1.24v30.73h-1.24zM1082.62 90.27h1.24v30.73h-1.24zM1088.82 90.27h1.24v30.73h-1.24zM1096.26 90.27h1.24v30.73h-1.24zM1103.70 90.27h1.24v30.73h-1.24zM1109.90 90.27h1.24v30.73h-1.24zM1113.63 90.27h1.24v30.73h-1.24zM1121.07 90.27h1.24v30.73h-1.24zM1129.75 90.27h1.24v30.73h-1.24zM1144.63 110.73h1.24v10.27h-1.24zM1148.35 110.73h1.24v10.27h-1.24zM1152.08 110.73h1.24v10.27h-1.24zM1153.32 110.73h1.24v10.27h-1.24zM1157.04 110.73h1.24v10.27h-1.24zM1162.00 110.73h1.24v10.27h-1.24zM1166.96 110.73h1.24v10.27h-1.24zM1169.44 110.73h1.24v10.27h-1.24zM1171.92 110.73h1.24v10.27h-1.24zM1189.28 110.73h1.24v10.27h-1.24zM1191.76 110.73h1.24v10.27h-1.24zM1199.21 110.73h1.24v10.27h-1.24zM1201.69 110.73h1.24v10.27h-1.24zM1219.05 110.73h1.24v10.27h-1.24zM1221.53 110.73h1.24v10.27h-1.24zM1233.93 110.73h1.24v10.27h-1.24zM1241.38 110.73h1.24v10.27h-1.24zM1248.82 110.73h1.24v10.27h-1.24zM1251.30 110.73h1.24v10.27h-1.24zM1263.70 110.73h1.24v10.27h-1.24zM1266.18 110.73h1.24v10.27h-1.24zM1271.14 29.21h1.24v91.79h-1.24zM1273.62 29.21h1.24v91.79h-1.24zM1278.59 29.21h1.24v91.79h-1.24zM1282.31 29.21h1.24v91.79h-1.24zM1287.27 29.21h1.24v91.79h-1.24zM1290.99 29.21h1.24v91.79h-1.24zM1303.39 29.21h1.24v91.79h-1.24zM1307.11 29.21h1.24v91.79h-1.24zM1308.35 29.21h1.24v91.79h-1.24zM1315.79 29.21h1.24v91.79h-1.24zM1334.40 29.21h1.24v91.79h-1.24zM1338.12 29.21h1.24v91.79h-1.24zM1351.76 29.21h1.24v91.79h-1.24zM1355.48 29.21h1.24v91.79h-1.24zM1362.93 29.21h1.24v91.79h-1.24zM1372.85 29.21h1.24v91.79h-1.24zM1380.29 29.21h1.24v91.79h-1.24zM1390.21 29.21h1.24v91.79h-1.24zM1392.69 110.73h1.24v10.27h-1.24zM1397.65 110.73h1.24v10.27h-1.24zM1405.10 110.73h1.24v10.27h-1.24zM1410.06 110.73h1.24v10.27h-1.24zM1412.54 110.73h1.24v10.27h-1.24zM1415.02 110.73h1.24v10.27h-1.24zM1424.94 110.73h1.24v10.27h-1.24zM1427.42 110.73h1.24v10.27h-1.24zM1434.86 110.73h1.24v10.27h-1.24zM1452.23 110.73h1.24v10.27h-1.24zM1457.19 110.73h1.24v10.27h-1.24zM1465.87 110.73h1.24v10.27h-1.24zM1489.44 110.73h1.24v10.27h-1.24zM1496.88 110.73h1.24v10.27h-1.24zM1500.60 110.73h1.24v10.27h-1.24zM1506.80 110.73h1.24v10.27h-1.24zM1514.24 110.73h1.24v10.27h-1.24zM1515.48 90.27h1.24v30.73h-1.24zM1522.92 90.27h1.24v30.73h-1.24zM1531.61 90.27h1.24v30.73h-1.24zM1534.09 90.27h1.24v30.73h-1.24zM1540.29 90.27h1.24v30.73h-1.24zM1548.97 90.27h1.24v30.73h-1.24zM1560.13 90.27h1.24v30.73h-1.24zM1565.09 90.27h1.24v30.73h-1.24zM1567.58 90.27h1.24v30.73h-1.24zM1571.30 90.27h1.24v30.73h-1.24zM1575.02 90.27h1.24v30.73h-1.24zM1587.42 90.27h1.24v30.73h-1.24zM1589.90 90.27h1.24v30.73h-1.24zM1604.78 90.27h1.24v30.73h-1.24zM1614.71 90.27h1.24v30.73h-1.24zM1623.39 90.27h1.24v30.73h-1.24zM1630.83 90.27h1.24v30.73h-1.24zM1635.79 90.27h1.24v30.73h-1.24zM1680.44 110.73h1.24v10.27h-1.24zM1687.88 110.73h1.24v10.27h-1.24zM1692.85 110.73h1.24v10.27h-1.24zM1702.77 110.73h1.24v10.27h-1.24zM1704.01 110.73h1.24v10.27h-1.24zM1707.73 110.73h1.24v10.27h-1.24zM1712.69 110.73h1.24v10.27h-1.24zM1732.54 110.73h1.24v10.27h-1.24zM1735.02 110.73h1.24v10.27h-1.24zM1738.74 110.73h1.24v10.27h-1.24zM1754.86 110.73h1.24v10.27h-1.24zM1762.30 110.73h1.24v10.27h-1.24zM1768.50 90.27h1.24v30.73h-1.24zM1775.95 90.27h1.24v30.73h-1.24zM1777.19 90.27h1.24v30.73h-1.24zM1780.91 90.27h1.24v30.73h-1.24zM1792.07 90.27h1.24v30.73h-1.24zM1799.51 90.27h1.24v30.73h-1.24zM1821.84 90.27h1.24v30.73h-1.24zM1846.64 90.27h1.24v30.73h-1.24zM1847.88 90.27h1.24v30.73h-1.24zM1859.05 90.27h1.24v30.73h-1.24zM1866.49 90.27h1.24v30.73h-1.24zM1868.97 90.27h1.24v30.73h-1.24zM1872.69 90.27h1.24v30.73h-1.24zM1876.41 90.27h1.24v30.73h-1.24zM1880.13 90.27h1.24v30.73h-1.24zM1881.37 90.27h1.24v30.73h-1.24z"/>
<path fill="#7f7975" d="M775.02 90.27h1.24v30.73h-1.24zM777.50 90.27h1.24v30.73h-1.24zM779.99 90.27h1.24v30.73h-1.24zM787.43 90.27h1.24v30.73h-1.24zM789.91 90.27h1.24v30.73h-1.24zM792.39 90.27h1.24v30.73h-1.24zM794.87 90.27h1.24v30.73h-1.24zM797.35 90.27h1.24v30.73h-1.24zM823.40 90.27h1.24v30.73h-1.24zM845.72 90.27h1.24v30.73h-1.24zM846.96 90.27h1.24v30.73h-1.24zM850.68 90.27h1.24v30.73h-1.24zM853.16 90.27h1.24v30.73h-1.24zM856.88 90.27h1.24v30.73h-1.24zM866.81 90.27h1.24v30.73h-1.24zM884.17 90.27h1.24v30.73h-1.24zM889.13 90.27h1.24v30.73h-1.24zM891.61 90.27h1.24v30.73h-1.24zM894.09 90.27h1.24v30.73h-1.24zM905.26 110.73h1.24v10.27h-1.24zM916.42 110.73h1.24v10.27h-1.24zM921.38 110.73h1.24v10.27h-1.24zM923.86 110.73h1.24v10.27h-1.24zM926.34 110.73h1.24v10.27h-1.24zM938.74 110.73h1.24v10.27h-1.24zM942.46 110.73h1.24v10.27h-1.24zM947.43 110.73h1.24v10.27h-1.24zM949.91 110.73h1.24v10.27h-1.24zM954.87 110.73h1.24v10.27h-1.24zM957.35 110.73h1.24v10.27h-1.24zM1025.56 90.27h1.24v30.73h-1.24zM1028.05 90.27h1.24v30.73h-1.24zM1035.49 90.27h1.24v30.73h-1.24zM1039.21 90.27h1.24v30.73h-1.24zM1042.93 90.27h1.24v30.73h-1.24zM1052.85 90.27h1.24v30.73h-1.24zM1055.33 90.27h1.24v30.73h-1.24zM1064.01 90.27h1.24v30.73h-1.24zM1065.25 90.27h1.24v30.73h-1.24zM1067.73 90.27h1.24v30.73h-1.24zM1068.97 90.27h1.24v30.73h-1.24zM1073.94 90.27h1.24v30.73h-1.24zM1080.14 90.27h1.24v30.73h-1.24zM1091.30 90.27h1.24v30.73h-1.24zM1092.54 90.27h1.24v30.73h-1.24zM1102.46 90.27h1.24v30.73h-1.24zM1106.18 90.27h1.24v30.73h-1.24zM1117.35 90.27h1.24v30.73h-1.24zM1118.59 90.27h1.24v30.73h-1.24zM1124.79 90.27h1.24v30.73h-1.24zM1133.47 90.27h1.24v30.73h-1.24zM1135.95 90.27h1.24v30.73h-1.24zM1143.39 110.73h1.24v10.27h-1.24zM1147.11 110.73h1.24v10.27h-1.24zM1149.59 110.73h1.24v10.27h-1.24zM1154.56 110.73h1.24v10.27h-1.24zM1178.12 110.73h1.24v10.27h-1.24zM1180.60 110.73h1.24v10.27h-1.24zM1193.00 110.73h1.24v10.27h-1.24zM1197.97 110.73h1.24v10.27h-1.24zM1206.65 110.73h1.24v10.27h-1.24zM1216.57 110.73h1.24v10.27h-1.24zM1231.45 110.73h1.24v10.27h-1.24zM1243.86 110.73h1.24v10.27h-1.24zM1272.38 29.21h1.24v91.79h-1.24zM1293.47 29.21h1.24v91.79h-1.24zM1305.87 29.21h1.24v91.79h-1.24zM1312.07 29.21h1.24v91.79h-1.24zM1317.03 29.21h1.24v91.79h-1.24zM1318.28 29.21h1.24v91.79h-1.24zM1329.44 29.21h1.24v91.79h-1.24zM1336.88 29.21h1.24v91.79h-1.24zM1341.84 29.21h1.24v91.79h-1.24zM1348.04 29.21h1.24v91.79h-1.24zM1350.52 29.21h1.24v91.79h-1.24zM1353.00 29.21h1.24v91.79h-1.24zM1357.96 29.21h1.24v91.79h-1.24zM1361.69 29.21h1.24v91.79h-1.24zM1367.89 29.21h1.24v91.79h-1.24zM1377.81 29.21h1.24v91.79h-1.24zM1379.05 29.21h1.24v91.79h-1.24zM1382.77 29.21h1.24v91.79h-1.24zM1391.45 110.73h1.24v10.27h-1.24zM1403.86 110.73h1.24v10.27h-1.24zM1407.58 110.73h1.24v10.27h-1.24zM1408.82 110.73h1.24v10.27h-1.24zM1417.50 110.73h1.24v10.27h-1.24zM1429.90 110.73h1.24v10.27h-1.24zM1442.31 110.73h1.24v10.27h-1.24zM1444.79 110.73h1.24v10.27h-1.24zM1446.03 110.73h1.24v10.27h-1.24zM1453.47 110.73h1.24v10.27h-1.24zM1459.67 110.73h1.24v10.27h-1.24zM1472.07 110.73h1.24v10.27h-1.24zM1477.03 110.73h1.24v10.27h-1.24zM1479.51 110.73h1.24v10.27h-1.24zM1481.99 110.73h1.24v10.27h-1.24zM1485.72 110.73h1.24v10.27h-1.24zM1491.92 110.73h1.24v10.27h-1.24zM1498.12 110.73h1.24v10.27h-1.24zM1501.84 110.73h1.24v10.27h-1.24zM1504.32 110.73h1.24v10.27h-1.24zM1509.28 110.73h1.24v10.27h-1.24zM1516.72 90.27h1.24v30.73h-1.24zM1519.20 90.27h1.24v30.73h-1.24zM1520.44 90.27h1.24v30.73h-1.24zM1530.37 90.27h1.24v30.73h-1.24zM1541.53 90.27h1.24v30.73h-1.24zM1551.45 90.27h1.24v30.73h-1.24zM1555.17 90.27h1.24v30.73h-1.24zM1591.14 90.27h1.24v30.73h-1.24zM1601.06 90.27h1.24v30.73h-1.24zM1603.54 90.27h1.24v30.73h-1.24zM1608.51 90.27h1.24v30.73h-1.24zM1615.95 90.27h1.24v30.73h-1.24zM1618.43 90.27h1.24v30.73h-1.24zM1619.67 90.27h1.24v30.73h-1.24zM1627.11 90.27h1.24v30.73h-1.24zM1634.55 90.27h1.24v30.73h-1.24zM1641.99 110.73h1.24v10.27h-1.24zM1643.23 110.73h1.24v10.27h-1.24zM1646.95 110.73h1.24v10.27h-1.24zM1658.12 110.73h1.24v10.27h-1.24zM1660.60 110.73h1.24v10.27h-1.24zM1661.84 110.73h1.24v10.27h-1.24zM1664.32 110.73h1.24v10.27h-1.24zM1665.56 110.73h1.24v10.27h-1.24zM1668.04 110.73h1.24v10.27h-1.24zM1675.48 110.73h1.24v10.27h-1.24zM1690.37 110.73h1.24v10.27h-1.24zM1694.09 110.73h1.24v10.27h-1.24zM1695.33 110.73h1.24v10.27h-1.24zM1699.05 110.73h1.24v10.27h-1.24zM1713.93 110.73h1.24v10.27h-1.24zM1717.65 110.73h1.24v10.27h-1.24zM1727.57 110.73h1.24v10.27h-1.24zM1737.50 110.73h1.24v10.27h-1.24zM1739.98 110.73h1.24v10.27h-1.24zM1757.34 110.73h1.24v10.27h-1.24zM1761.06 110.73h1.24v10.27h-1.24zM1764.78 90.27h1.24v30.73h-1.24zM1773.47 90.27h1.24v30.73h-1.24zM1783.39 90.27h1.24v30.73h-1.24zM1784.63 90.27h1.24v30.73h-1.24zM1789.59 90.27h1.24v30.73h-1.24zM1806.95 90.27h1.24v30.73h-1.24zM1813.15 90.27h1.24v30.73h-1.24zM1814.40 90.27h1.24v30.73h-1.24zM1818.12 90.27h1.24v30.73h-1.24zM1824.32 90.27h1.24v30.73h-1.24zM1825.56 90.27h1.24v30.73h-1.24zM1851.60 90.27h1.24v30.73h-1.24zM1855.33 90.27h1.24v30.73h-1.24zM1861.53 90.27h1.24v30.73h-1.24zM1871.45 90.27h1.24v30.73h-1.24zM1883.85 90.27h1.24v30.73h-1.24zM1885.09 90.27h0.81v30.73h-0.81z"/>
<path fill="#8b8581" d="M771.30 90.27h1.24v30.73h-1.24zM772.54 90.27h1.24v30.73h-1.24zM782.47 90.27h1.24v30.73h-1.24zM784.95 90.27h1.24v30.73h-1.24zM804.79 90.27h1.24v30.73h-1.24zM807.27 90.27h1.24v30.73h-1.24zM809.75 90.27h1.24v30.73h-1.24zM812.23 90.27h1.24v30.73h-1.24zM869.29 90.27h1.24v30.73h-1.24zM871.77 90.27h1.24v30.73h-1.24zM874.25 90.27h1.24v30.73h-1.24zM899.05 110.73h1.24v10.27h-1.24zM906.50 110.73h1.24v10.27h-1.24zM915.18 110.73h1.24v10.27h-1.24zM939.98 110.73h1.24v10.27h-1.24zM943.70 110.73h1.24v10.27h-1.24zM946.19 110.73h1.24v10.27h-1.24zM961.07 110.73h1.24v10.27h-1.24zM964.79 110.73h1.24v10.27h-1.24zM966.03 110.73h1.24v10.27h-1.24zM968.51 110.73h1.24v10.27h-1.24zM978.43 110.73h1.24v10.27h-1.24zM985.87 110.73h1.24v10.27h-1.24zM990.84 110.73h1.24v10.27h-1.24zM1008.20 110.73h1.24v10.27h-1.24zM1031.77 90.27h1.24v30.73h-1.24zM1036.73 90.27h1.24v30.73h-1.24zM1040.45 90.27h1.24v30.73h-1.24zM1044.17 90.27h1.24v30.73h-1.24zM1045.41 90.27h1.24v30.73h-1.24zM1047.89 90.27h1.24v30.73h-1.24zM1062.77 90.27h1.24v30.73h-1.24zM1077.66 90.27h1.24v30.73h-1.24zM1085.10 90.27h1.24v30.73h-1.24zM1087.58 90.27h1.24v30.73h-1.24zM1098.74 90.27h1.24v30.73h-1.24zM1099.98 90.27h1.24v30.73h-1.24zM1107.42 90.27h1.24v30.73h-1.24zM1111.15 90.27h1.24v30.73h-1.24zM1122.31 90.27h1.24v30.73h-1.24zM1132.23 90.27h1.24v30.73h-1.24zM1138.43 90.27h1.24v30.73h-1.24zM1142.15 90.27h1.24v30.73h-1.24zM1174.40 110.73h1.24v10.27h-1.24zM1176.88 110.73h1.24v10.27h-1.24zM1188.04 110.73h1.24v10.27h-1.24zM1194.25 110.73h1.24v10.27h-1.24zM1196.73 110.73h1.24v10.27h-1.24zM1204.17 110.73h1.24v10.27h-1.24zM1209.13 110.73h1.24v10.27h-1.24zM1236.42 110.73h1.24v10.27h-1.24zM1237.66 110.73h1.24v10.27h-1.24zM1240.14 110.73h1.24v10.27h-1.24zM1256.26 110.73h1.24v10.27h-1.24zM1259.98 110.73h1.24v10.27h-1.24zM1262.46 110.73h1.24v10.27h-1.24zM1267.42 29.21h1.24v91.79h-1.24zM1268.66 29.21h1.24v91.79h-1.24zM1276.11 29.21h1.24v91.79h-1.24zM1277.35 29.21h1.24v91.79h-1.24zM1283.55 29.21h1.24v91.79h-1.24zM1286.03 29.21h1.24v91.79h-1.24zM1288.51 29.21h1.24v91.79h-1.24zM1295.95 29.21h1.24v91.79h-1.24zM1298.43 29.21h1.24v91.79h-1.24zM1300.91 29.21h1.24v91.79h-1.24zM1313.31 29.21h1.24v91.79h-1.24zM1323.24 29.21h1.24v91.79h-1.24zM1325.72 29.21h1.24v91.79h-1.24zM1326.96 29.21h1.24v91.79h-1.24zM1330.68 29.21h1.24v91.79h-1.24zM1356.72 29.21h1.24v91.79h-1.24zM1360.45 29.21h1.24v91.79h-1.24zM1370.37 29.21h1.24v91.79h-1.24zM1371.61 29.21h1.24v91.79h-1.24zM1375.33 29.21h1.24v91.79h-1.24zM1381.53 29.21h1.24v91.79h-1.24zM1419.98 110.73h1.24v10.27h-1.24zM1422.46 110.73h1.24v10.27h-1.24zM1432.38 110.73h1.24v10.27h-1.24zM1437.34 110.73h1.24v10.27h-1.24zM1441.07 110.73h1.24v10.27h-1.24zM1449.75 110.73h1.24v10.27h-1.24zM1462.15 110.73h1.24v10.27h-1.24zM1467.11 110.73h1.24v10.27h-1.24zM1469.59 110.73h1.24v10.27h-1.24zM1474.55 110.73h1.24v10.27h-1.24zM1480.75 110.73h1.24v10.27h-1.24zM1486.96 110.73h1.24v10.27h-1.24zM1524.17 90.27h1.24v30.73h-1.24zM1526.65 90.27h1.24v30.73h-1.24zM1527.89 90.27h1.24v30.73h-1.24zM1535.33 90.27h1.24v30.73h-1.24zM1537.81 90.27h1.24v30.73h-1.24zM1544.01 90.27h1.24v30.73h-1.24zM1545.25 90.27h1.24v30.73h-1.24zM1556.41 90.27h1.24v30.73h-1.24zM1572.54 90.27h1.24v30.73h-1.24zM1576.26 90.27h1.24v30.73h-1.24zM1578.74 90.27h1.24v30.73h-1.24zM1579.98 90.27h1.24v30.73h-1.24zM1582.46 90.27h1.24v30.73h-1.24zM1583.70 90.27h1.24v30.73h-1.24zM1586.18 90.27h1.24v30.73h-1.24zM1597.34 90.27h1.24v30.73h-1.24zM1606.02 90.27h1.24v30.73h-1.24zM1609.75 90.27h1.24v30.73h-1.24zM1610.99 90.27h1.24v30.73h-1.24zM1613.47 90.27h1.24v30.73h-1.24zM1632.07 90.27h1.24v30.73h-1.24zM1649.44 110.73h1.24v10.27h-1.24zM1650.68 110.73h1.24v10.27h-1.24zM1653.16 110.73h1.24v10.27h-1.24zM1654.40 110.73h1.24v10.27h-1.24zM1656.88 110.73h1.24v10.27h-1.24zM1669.28 110.73h1.24v10.27h-1.24zM1673.00 110.73h1.24v10.27h-1.24zM1697.81 110.73h1.24v10.27h-1.24zM1705.25 110.73h1.24v10.27h-1.24zM1708.97 110.73h1.24v10.27h-1.24zM1710.21 110.73h1.24v10.27h-1.24zM1715.17 110.73h1.24v10.27h-1.24zM1720.13 110.73h1.24v10.27h-1.24zM1722.61 110.73h1.24v10.27h-1.24zM1725.09 110.73h1.24v10.27h-1.24zM1742.46 110.73h1.24v10.27h-1.24zM1746.18 110.73h1.24v10.27h-1.24zM1749.90 110.73h1.24v10.27h-1.24zM1751.14 110.73h1.24v10.27h-1.24zM1787.11 90.27h1.24v30.73h-1.24zM1797.03 90.27h1.24v30.73h-1.24zM1801.99 90.27h1.24v30.73h-1.24zM1820.60 90.27h1.24v30.73h-1.24zM1829.28 90.27h1.24v30.73h-1.24zM1834.24 90.27h1.24v30.73h-1.24zM1836.72 90.27h1.24v30.73h-1.24zM1841.68 90.27h1.24v30.73h-1.24zM1862.77 90.27h1.24v30.73h-1.24zM1873.93 90.27h1.24v30.73h-1.24z"/>
<path fill="#97918d" d="M761.38 110.73h1.24v10.27h-1.24zM763.86 110.73h1.24v10.27h-1.24zM765.10 110.73h1.24v10.27h-1.24zM799.83 90.27h1.24v30.73h-1.24zM819.67 90.27h1.24v30.73h-1.24zM824.64 90.27h1.24v30.73h-1.24zM827.12 90.27h1.24v30.73h-1.24zM832.08 90.27h1.24v30.73h-1.24zM834.56 90.27h1.24v30.73h-1.24zM837.04 90.27h1.24v30.73h-1.24zM842.00 90.27h1.24v30.73h-1.24zM854.40 90.27h1.24v30.73h-1.24zM864.33 90.27h1.24v30.73h-1.24zM876.73 90.27h1.24v30.73h-1.24zM881.69 90.27h1.24v30.73h-1.24zM895.33 110.73h1.24v10.27h-1.24zM910.22 110.73h1.24v10.27h-1.24zM913.94 110.73h1.24v10.27h-1.24zM918.90 110.73h1.24v10.27h-1.24zM920.14 110.73h1.24v10.27h-1.24zM931.30 110.73h1.24v10.27h-1.24zM936.26 110.73h1.24v10.27h-1.24zM953.63 110.73h1.24v10.27h-1.24zM958.59 110.73h1.24v10.27h-1.24zM962.31 110.73h1.24v10.27h-1.24zM972.23 110.73h1.24v10.27h-1.24zM973.47 110.73h1.24v10.27h-1.24zM975.95 110.73h1.24v10.27h-1.24zM993.32 110.73h1.24v10.27h-1.24zM995.80 110.73h1.24v10.27h-1.24zM998.28 110.73h1.24v10.27h-1.24zM1005.72 110.73h1.24v10.27h-1.24zM1023.08 90.27h1.24v30.73h-1.24zM1054.09 90.27h1.24v30.73h-1.24zM1059.05 90.27h1.24v30.73h-1.24zM1060.29 90.27h1.24v30.73h-1.24zM1070.22 90.27h1.24v30.73h-1.24zM1078.90 90.27h1.24v30.73h-1.24zM1083.86 90.27h1.24v30.73h-1.24zM1095.02 90.27h1.24v30.73h-1.24zM1114.87 90.27h1.24v30.73h-1.24zM1126.03 90.27h1.24v30.73h-1.24zM1128.51 90.27h1.24v30.73h-1.24zM1137.19 90.27h1.24v30.73h-1.24zM1139.67 90.27h1.24v30.73h-1.24zM1158.28 110.73h1.24v10.27h-1.24zM1159.52 110.73h1.24v10.27h-1.24zM1164.48 110.73h1.24v10.27h-1.24zM1168.20 110.73h1.24v10.27h-1.24zM1173.16 110.73h1.24v10.27h-1.24zM1181.84 110.73h1.24v10.27h-1.24zM1184.32 110.73h1.24v10.27h-1.24zM1186.80 110.73h1.24v10.27h-1.24zM1211.61 110.73h1.24v10.27h-1.24zM1214.09 110.73h1.24v10.27h-1.24zM1224.01 110.73h1.24v10.27h-1.24zM1226.49 110.73h1.24v10.27h-1.24zM1228.97 110.73h1.24v10.27h-1.24zM1245.10 110.73h1.24v10.27h-1.24zM1247.58 110.73h1.24v10.27h-1.24zM1252.54 110.73h1.24v10.27h-1.24zM1255.02 110.73h1.24v10.27h-1.24zM1258.74 110.73h1.24v10.27h-1.24zM1281.07 29.21h1.24v91.79h-1.24zM1302.15 29.21h1.24v91.79h-1.24zM1310.83 29.21h1.24v91.79h-1.24zM1320.76 29.21h1.24v91.79h-1.24zM1333.16 29.21h1.24v91.79h-1.24zM1340.60 29.21h1.24v91.79h-1.24zM1345.56 29.21h1.24v91.79h-1.24zM1346.80 29.21h1.24v91.79h-1.24zM1365.41 29.21h1.24v91.79h-1.24zM1366.65 29.21h1.24v91.79h-1.24zM1374.09 29.21h1.24v91.79h-1.24zM1385.25 29.21h1.24v91.79h-1.24zM1386.49 29.21h1.24v91.79h-1.24zM1387.73 29.21h1.24v91.79h-1.24zM1393.93 110.73h1.24v10.27h-1.24zM1396.41 110.73h1.24v10.27h-1.24zM1400.14 110.73h1.24v10.27h-1.24zM1401.38 110.73h1.24v10.27h-1.24zM1438.58 110.73h1.24v10.27h-1.24zM1448.51 110.73h1.24v10.27h-1.24zM1455.95 110.73h1.24v10.27h-1.24zM1460.91 110.73h1.24v10.27h-1.24zM1464.63 110.73h1.24v10.27h-1.24zM1470.83 110.73h1.24v10.27h-1.24zM1484.48 110.73h1.24v10.27h-1.24zM1490.68 110.73h1.24v10.27h-1.24zM1494.40 110.73h1.24v10.27h-1.24zM1505.56 110.73h1.24v10.27h-1.24zM1510.52 110.73h1.24v10.27h-1.24zM1511.76 110.73h1.24v10.27h-1.24zM1539.05 90.27h1.24v30.73h-1.24zM1546.49 90.27h1.24v30.73h-1.24zM1550.21 90.27h1.24v30.73h-1.24zM1553.93 90.27h1.24v30.73h-1.24zM1558.89 90.27h1.24v30.73h-1.24zM1561.37 90.27h1.24v30.73h-1.24zM1563.85 90.27h1.24v30.73h-1.24zM1568.82 90.27h1.24v30.73h-1.24zM1593.62 90.27h1.24v30.73h-1.24zM1594.86 90.27h1.24v30.73h-1.24zM1598.58 90.27h1.24v30.73h-1.24zM1620.91 90.27h1.24v30.73h-1.24zM1624.63 90.27h1.24v30.73h-1.24zM1628.35 90.27h1.24v30.73h-1.24zM1638.27 90.27h1.24v30.73h-1.24zM1639.51 110.73h1.24v10.27h-1.24zM1645.71 110.73h1.24v10.27h-1.24zM1671.76 110.73h1.24v10.27h-1.24zM1677.96 110.73h1.24v10.27h-1.24zM1682.92 110.73h1.24v10.27h-1.24zM1685.40 110.73h1.24v10.27h-1.24zM1700.29 110.73h1.24v10.27h-1.24zM1730.05 110.73h1.24v10.27h-1.24zM1733.78 110.73h1.24v10.27h-1.24zM1743.70 110.73h1.24v10.27h-1.24zM1747.42 110.73h1.24v10.27h-1.24zM1753.62 110.73h1.24v10.27h-1.24zM1758.58 110.73h1.24v10.27h-1.24zM1766.02 90.27h1.24v30.73h-1.24zM1769.74 90.27h1.24v30.73h-1.24zM1772.23 90.27h1.24v30.73h-1.24zM1779.67 90.27h1.24v30.73h-1.24zM1794.55 90.27h1.24v30.73h-1.24zM1804.47 90.27h1.24v30.73h-1.24zM1809.43 90.27h1.24v30.73h-1.24zM1816.88 90.27h1.24v30.73h-1.24zM1831.76 90.27h1.24v30.73h-1.24zM1839.20 90.27h1.24v30.73h-1.24zM1844.16 90.27h1.24v30.73h-1.24zM1850.36 90.27h1.24v30.73h-1.24zM1854.08 90.27h1.24v30.73h-1.24zM1857.81 90.27h1.24v30.73h-1.24zM1867.73 90.27h1.24v30.73h-1.24zM1877.65 90.27h1.24v30.73h-1.24z"/>
<path fill="#c6c2be" d="M758.90 110.73h1.24v10.27h-1.24zM768.82 110.73h1.24v10.27h-1.24zM783.71 90.27h1.24v30.73h-1.24zM793.63 90.27h1.24v30.73h-1.24zM798.59 90.27h1.24v30.73h-1.24zM803.55 90.27h1.24v30.73h-1.24zM808.51 90.27h1.24v30.73h-1.24zM815.95 90.27h1.24v30.73h-1.24zM818.43 90.27h1.24v30.73h-1.24zM820.91 90.27h1.24v30.73h-1.24zM825.88 90.27h1.24v30.73h-1.24zM830.84 90.27h1.24v30.73h-1.24zM833.32 90.27h1.24v30.73h-1.24zM835.80 90.27h1.24v30.73h-1.24zM848.20 90.27h1.24v30.73h-1.24zM858.12 90.27h1.24v30.73h-1.24zM863.09 90.27h1.24v30.73h-1.24zM865.57 90.27h1.24v30.73h-1.24zM868.05 90.27h1.24v30.73h-1.24zM870.53 90.27h1.24v30.73h-1.24zM873.01 90.27h1.24v30.73h-1.24zM877.97 90.27h1.24v30.73h-1.24zM885.41 90.27h1.24v30.73h-1.24zM892.85 90.27h1.24v30.73h-1.24zM896.57 110.73h1.24v10.27h-1.24zM904.02 110.73h1.24v10.27h-1.24zM907.74 110.73h1.24v10.27h-1.24zM911.46 110.73h1.24v10.27h-1.24zM935.02 110.73h1.24v10.27h-1.24zM937.50 110.73h1.24v10.27h-1.24zM941.22 110.73h1.24v10.27h-1.24zM944.94 110.73h1.24v10.27h-1.24zM956.11 110.73h1.24v10.27h-1.24zM963.55 110.73h1.24v10.27h-1.24zM967.27 110.73h1.24v10.27h-1.24zM974.71 110.73h1.24v10.27h-1.24zM979.67 110.73h1.24v10.27h-1.24zM982.15 110.73h1.24v10.27h-1.24zM984.63 110.73h1.24v10.27h-1.24zM989.60 110.73h1.24v10.27h-1.24zM992.08 110.73h1.24v10.27h-1.24zM997.04 110.73h1.24v10.27h-1.24zM1004.48 110.73h1.24v10.27h-1.24zM1006.96 110.73h1.24v10.27h-1.24zM1009.44 110.73h1.24v10.27h-1.24zM1014.40 110.73h1.24v10.27h-1.24zM1026.80 90.27h1.24v30.73h-1.24zM1030.53 90.27h1.24v30.73h-1.24zM1034.25 90.27h1.24v30.73h-1.24zM1046.65 90.27h1.24v30.73h-1.24zM1051.61 90.27h1.24v30.73h-1.24zM1076.42 90.27h1.24v30.73h-1.24zM1081.38 90.27h1.24v30.73h-1.24zM1086.34 90.27h1.24v30.73h-1.24zM1108.66 90.27h1.24v30.73h-1.24zM1119.83 90.27h1.24v30.73h-1.24zM1123.55 90.27h1.24v30.73h-1.24zM1127.27 90.27h1.24v30.73h-1.24zM1134.71 90.27h1.24v30.73h-1.24zM1140.91 90.27h1.24v30.73h-1.24zM1150.83 110.73h1.24v10.27h-1.24zM1160.76 110.73h1.24v10.27h-1.24zM1163.24 110.73h1.24v10.27h-1.24zM1170.68 110.73h1.24v10.27h-1.24zM1175.64 110.73h1.24v10.27h-1.24zM1179.36 110.73h1.24v10.27h-1.24zM1185.56 110.73h1.24v10.27h-1.24zM1190.52 110.73h1.24v10.27h-1.24zM1205.41 110.73h1.24v10.27h-1.24zM1215.33 110.73h1.24v10.27h-1.24zM1225.25 110.73h1.24v10.27h-1.24zM1230.21 110.73h1.24v10.27h-1.24zM1232.69 110.73h1.24v10.27h-1.24zM1235.18 110.73h1.24v10.27h-1.24zM1238.90 110.73h1.24v10.27h-1.24zM1250.06 110.73h1.24v10.27h-1.24zM1257.50 110.73h1.24v10.27h-1.24zM1289.75 29.21h1.24v91.79h-1.24zM1294.71 29.21h1.24v91.79h-1.24zM1299.67 29.21h1.24v91.79h-1.24zM1335.64 29.21h1.24v91.79h-1.24zM1339.36 29.21h1.24v91.79h-1.24zM1349.28 29.21h1.24v91.79h-1.24zM1398.89 110.73h1.24v10.27h-1.24zM1406.34 110.73h1.24v10.27h-1.24zM1413.78 110.73h1.24v10.27h-1.24zM1416.26 110.73h1.24v10.27h-1.24zM1418.74 110.73h1.24v10.27h-1.24zM1421.22 110.73h1.24v10.27h-1.24zM1426.18 110.73h1.24v10.27h-1.24zM1433.62 110.73h1.24v10.27h-1.24zM1436.10 110.73h1.24v10.27h-1.24zM1447.27 110.73h1.24v10.27h-1.24zM1450.99 110.73h1.24v10.27h-1.24zM1463.39 110.73h1.24v10.27h-1.24zM1473.31 110.73h1.24v10.27h-1.24zM1475.79 110.73h1.24v10.27h-1.24zM1483.24 110.73h1.24v10.27h-1.24zM1493.16 110.73h1.24v10.27h-1.24zM1503.08 110.73h1.24v10.27h-1.24zM1508.04 110.73h1.24v10.27h-1.24zM1532.85 90.27h1.24v30.73h-1.24zM1536.57 90.27h1.24v30.73h-1.24zM1547.73 90.27h1.24v30.73h-1.24zM1562.61 90.27h1.24v30.73h-1.24zM1570.06 90.27h1.24v30.73h-1.24zM1573.78 90.27h1.24v30.73h-1.24zM1581.22 90.27h1.24v30.73h-1.24zM1588.66 90.27h1.24v30.73h-1.24zM1592.38 90.27h1.24v30.73h-1.24zM1607.27 90.27h1.24v30.73h-1.24zM1622.15 90.27h1.24v30.73h-1.24zM1629.59 90.27h1.24v30.73h-1.24zM1633.31 90.27h1.24v30.73h-1.24zM1640.75 110.73h1.24v10.27h-1.24zM1648.20 110.73h1.24v10.27h-1.24zM1663.08 110.73h1.24v10.27h-1.24zM1670.52 110.73h1.24v10.27h-1.24zM1674.24 110.73h1.24v10.27h-1.24zM1676.72 110.73h1.24v10.27h-1.24zM1679.20 110.73h1.24v10.27h-1.24zM1681.68 110.73h1.24v10.27h-1.24zM1684.16 110.73h1.24v10.27h-1.24zM1691.61 110.73h1.24v10.27h-1.24zM1696.57 110.73h1.24v10.27h-1.24zM1706.49 110.73h1.24v10.27h-1.24zM1711.45 110.73h1.24v10.27h-1.24zM1716.41 110.73h1.24v10.27h-1.24zM1718.89 110.73h1.24v10.27h-1.24zM1723.85 110.73h1.24v10.27h-1.24zM1726.33 110.73h1.24v10.27h-1.24zM1728.81 110.73h1.24v10.27h-1.24zM1748.66 110.73h1.24v10.27h-1.24zM1767.26 90.27h1.24v30.73h-1.24zM1774.71 90.27h1.24v30.73h-1.24zM1778.43 90.27h1.24v30.73h-1.24zM1788.35 90.27h1.24v30.73h-1.24zM1790.83 90.27h1.24v30.73h-1.24zM1795.79 90.27h1.24v30.73h-1.24zM1798.27 90.27h1.24v30.73h-1.24zM1803.23 90.27h1.24v30.73h-1.24zM1805.71 90.27h1.24v30.73h-1.24zM1808.19 90.27h1.24v30.73h-1.24zM1810.67 90.27h1.24v30.73h-1.24zM1815.64 90.27h1.24v30.73h-1.24zM1823.08 90.27h1.24v30.73h-1.24zM1826.80 90.27h1.24v30.73h-1.24zM1828.04 90.27h1.24v30.73h-1.24zM1830.52 90.27h1.24v30.73h-1.24zM1837.96 90.27h1.24v30.73h-1.24zM1845.40 90.27h1.24v30.73h-1.24zM1860.29 90.27h1.24v30.73h-1.24zM1870.21 90.27h1.24v30.73h-1.24zM1875.17 90.27h1.24v30.73h-1.24zM1878.89 90.27h1.24v30.73h-1.24zM1882.61 90.27h1.24v30.73h-1.24z"/>
<path fill="#d2cec9" d="M762.62 110.73h1.24v10.27h-1.24zM766.34 110.73h1.24v10.27h-1.24zM773.78 90.27h1.24v30.73h-1.24zM778.74 90.27h1.24v30.73h-1.24zM786.19 90.27h1.24v30.73h-1.24zM788.67 90.27h1.24v30.73h-1.24zM791.15 90.27h1.24v30.73h-1.24zM796.11 90.27h1.24v30.73h-1.24zM801.07 90.27h1.24v30.73h-1.24zM806.03 90.27h1.24v30.73h-1.24zM810.99 90.27h1.24v30.73h-1.24zM813.47 90.27h1.24v30.73h-1.24zM822.16 90.27h1.24v30.73h-1.24zM828.36 90.27h1.24v30.73h-1.24zM838.28 90.27h1.24v30.73h-1.24zM840.76 90.27h1.24v30.73h-1.24zM843.24 90.27h1.24v30.73h-1.24zM851.92 90.27h1.24v30.73h-1.24zM855.64 90.27h1.24v30.73h-1.24zM875.49 90.27h1.24v30.73h-1.24zM880.45 90.27h1.24v30.73h-1.24zM882.93 90.27h1.24v30.73h-1.24zM887.89 90.27h1.24v30.73h-1.24zM900.29 110.73h1.24v10.27h-1.24zM917.66 110.73h1.24v10.27h-1.24zM922.62 110.73h1.24v10.27h-1.24zM925.10 110.73h1.24v10.27h-1.24zM927.58 110.73h1.24v10.27h-1.24zM930.06 110.73h1.24v10.27h-1.24zM932.54 110.73h1.24v10.27h-1.24zM948.67 110.73h1.24v10.27h-1.24zM952.39 110.73h1.24v10.27h-1.24zM959.83 110.73h1.24v10.27h-1.24zM970.99 110.73h1.24v10.27h-1.24zM977.19 110.73h1.24v10.27h-1.24zM987.12 110.73h1.24v10.27h-1.24zM994.56 110.73h1.24v10.27h-1.24zM999.52 110.73h1.24v10.27h-1.24zM1002.00 110.73h1.24v10.27h-1.24zM1011.92 110.73h1.24v10.27h-1.24zM1016.88 110.73h1.24v10.27h-1.24zM1019.36 90.27h1.24v30.73h-1.24zM1021.84 90.27h1.24v30.73h-1.24zM1024.32 90.27h1.24v30.73h-1.24zM1037.97 90.27h1.24v30.73h-1.24zM1041.69 90.27h1.24v30.73h-1.24zM1056.57 90.27h1.24v30.73h-1.24zM1061.53 90.27h1.24v30.73h-1.24zM1066.49 90.27h1.24v30.73h-1.24zM1071.46 90.27h1.24v30.73h-1.24zM1090.06 90.27h1.24v30.73h-1.24zM1093.78 90.27h1.24v30.73h-1.24zM1097.50 90.27h1.24v30.73h-1.24zM1101.22 90.27h1.24v30.73h-1.24zM1104.94 90.27h1.24v30.73h-1.24zM1112.39 90.27h1.24v30.73h-1.24zM1116.11 90.27h1.24v30.73h-1.24zM1130.99 90.27h1.24v30.73h-1.24zM1145.87 110.73h1.24v10.27h-1.24zM1155.80 110.73h1.24v10.27h-1.24zM1165.72 110.73h1.24v10.27h-1.24zM1183.08 110.73h1.24v10.27h-1.24zM1195.49 110.73h1.24v10.27h-1.24zM1200.45 110.73h1.24v10.27h-1.24zM1202.93 110.73h1.24v10.27h-1.24zM1207.89 110.73h1.24v10.27h-1.24zM1210.37 110.73h1.24v10.27h-1.24zM1212.85 110.73h1.24v10.27h-1.24zM1217.81 110.73h1.24v10.27h-1.24zM1220.29 110.73h1.24v10.27h-1.24zM1222.77 110.73h1.24v10.27h-1.24zM1227.73 110.73h1.24v10.27h-1.24zM1242.62 110.73h1.24v10.27h-1.24zM1246.34 110.73h1.24v10.27h-1.24zM1253.78 110.73h1.24v10.27h-1.24zM1261.22 110.73h1.24v10.27h-1.24zM1264.94 110.73h1.24v10.27h-1.24zM1269.90 29.21h1.24v91.79h-1.24zM1274.86 29.21h1.24v91.79h-1.24zM1279.83 29.21h1.24v91.79h-1.24zM1284.79 29.21h1.24v91.79h-1.24zM1292.23 29.21h1.24v91.79h-1.24zM1297.19 29.21h1.24v91.79h-1.24zM1304.63 29.21h1.24v91.79h-1.24zM1309.59 29.21h1.24v91.79h-1.24zM1314.55 29.21h1.24v91.79h-1.24zM1319.52 29.21h1.24v91.79h-1.24zM1322.00 29.21h1.24v91.79h-1.24zM1324.48 29.21h1.24v91.79h-1.24zM1328.20 29.21h1.24v91.79h-1.24zM1331.92 29.21h1.24v91.79h-1.24zM1343.08 29.21h1.24v91.79h-1.24zM1344.32 29.21h1.24v91.79h-1.24zM1354.24 29.21h1.24v91.79h-1.24zM1359.21 29.21h1.24v91.79h-1.24zM1364.17 29.21h1.24v91.79h-1.24zM1369.13 29.21h1.24v91.79h-1.24zM1376.57 29.21h1.24v91.79h-1.24zM1384.01 29.21h1.24v91.79h-1.24zM1388.97 29.21h1.24v91.79h-1.24zM1395.17 110.73h1.24v10.27h-1.24zM1402.62 110.73h1.24v10.27h-1.24zM1411.30 110.73h1.24v10.27h-1.24zM1423.70 110.73h1.24v10.27h-1.24zM1428.66 110.73h1.24v10.27h-1.24zM1431.14 110.73h1.24v10.27h-1.24zM1439.82 110.73h1.24v10.27h-1.24zM1443.55 110.73h1.24v10.27h-1.24zM1454.71 110.73h1.24v10.27h-1.24zM1458.43 110.73h1.24v10.27h-1.24zM1468.35 110.73h1.24v10.27h-1.24zM1478.27 110.73h1.24v10.27h-1.24zM1488.20 110.73h1.24v10.27h-1.24zM1495.64 110.73h1.24v10.27h-1.24zM1499.36 110.73h1.24v10.27h-1.24zM1513.00 110.73h1.24v10.27h-1.24zM1517.96 90.27h1.24v30.73h-1.24zM1521.68 90.27h1.24v30.73h-1.24zM1525.41 90.27h1.24v30.73h-1.24zM1529.13 90.27h1.24v30.73h-1.24zM1542.77 90.27h1.24v30.73h-1.24zM1552.69 90.27h1.24v30.73h-1.24zM1557.65 90.27h1.24v30.73h-1.24zM1566.34 90.27h1.24v30.73h-1.24zM1577.50 90.27h1.24v30.73h-1.24zM1584.94 90.27h1.24v30.73h-1.24zM1596.10 90.27h1.24v30.73h-1.24zM1599.82 90.27h1.24v30.73h-1.24zM1602.30 90.27h1.24v30.73h-1.24zM1612.23 90.27h1.24v30.73h-1.24zM1617.19 90.27h1.24v30.73h-1.24zM1625.87 90.27h1.24v30.73h-1.24zM1637.03 90.27h1.24v30.73h-1.24zM1644.47 110.73h1.24v10.27h-1.24zM1651.92 110.73h1.24v10.27h-1.24zM1655.64 110.73h1.24v10.27h-1.24zM1659.36 110.73h1.24v10.27h-1.24zM1666.80 110.73h1.24v10.27h-1.24zM1686.64 110.73h1.24v10.27h-1.24zM1689.12 110.73h1.24v10.27h-1.24zM1701.53 110.73h1.24v10.27h-1.24zM1721.37 110.73h1.24v10.27h-1.24zM1731.30 110.73h1.24v10.27h-1.24zM1736.26 110.73h1.24v10.27h-1.24zM1741.22 110.73h1.24v10.27h-1.24zM1744.94 110.73h1.24v10.27h-1.24zM1752.38 110.73h1.24v10.27h-1.24zM1756.10 110.73h1.24v10.27h-1.24zM1759.82 110.73h1.24v10.27h-1.24zM1763.54 90.27h1.24v30.73h-1.24zM1770.98 90.27h1.24v30.73h-1.24zM1782.15 90.27h1.24v30.73h-1.24zM1785.87 90.27h1.24v30.73h-1.24zM1793.31 90.27h1.24v30.73h-1.24zM1800.75 90.27h1.24v30.73h-1.24zM1811.91 90.27h1.24v30.73h-1.24zM1819.36 90.27h1.24v30.73h-1.24zM1833.00 90.27h1.24v30.73h-1.24zM1835.48 90.27h1.24v30.73h-1.24zM1840.44 90.27h1.24v30.73h-1.24zM1842.92 90.27h1.24v30.73h-1.24zM1849.12 90.27h1.24v30.73h-1.24zM1852.84 90.27h1.24v30.73h-1.24zM1856.57 90.27h1.24v30.73h-1.24zM1864.01 90.27h1.24v30.73h-1.24zM1865.25 90.27h1.24v30.73h-1.24z"/>
<path d="M758.90 110.73L771.30 110.73M771.30 90.27L895.33 90.27M895.33 110.73L1019.36 110.73M1019.36 90.27L1143.39 90.27M1143.39 110.73L1267.42 110.73M1267.42 29.21L1391.45 29.21M1391.45 110.73L1515.48 110.73M1515.48 90.27L1639.51 90.27M1639.51 110.73L1763.54 110.73M1763.54 90.27L1887.57 90.27M1887.57 110.73L1887.20 110.73" stroke="#222" stroke-width="1.3" fill="none"/>
<path fill="#ef7680" d="M801.07 268.06h1.24v142.14h-1.24zM806.03 268.06h1.24v142.14h-1.24zM819.67 261.88h1.24v148.32h-1.24zM837.04 255.70h1.24v154.50h-1.24zM846.96 252.61h1.24v157.59h-1.24zM851.92 252.61h1.24v157.59h-1.24zM854.40 252.61h1.24v157.59h-1.24zM899.05 382.39h1.24v27.81h-1.24zM917.66 382.39h1.24v27.81h-1.24zM928.82 382.39h1.24v27.81h-1.24zM983.39 382.39h1.24v27.81h-1.24zM988.36 382.39h1.24v27.81h-1.24zM990.84 382.39h1.24v27.81h-1.24zM999.52 382.39h1.24v27.81h-1.24zM1033.01 252.61h1.24v157.59h-1.24zM1036.73 249.52h1.24v160.68h-1.24zM1049.13 249.52h1.24v160.68h-1.24zM1077.66 240.25h1.24v169.95h-1.24zM1106.18 237.16h1.24v173.04h-1.24zM1134.71 234.07h1.24v176.13h-1.24zM1139.67 234.07h1.24v176.13h-1.24zM1181.84 382.39h1.24v27.81h-1.24zM1193.00 382.39h1.24v27.81h-1.24zM1210.37 379.30h1.24v30.90h-1.24zM1217.81 382.39h1.24v27.81h-1.24zM1238.90 382.39h1.24v27.81h-1.24zM1255.02 382.39h1.24v27.81h-1.24zM1299.67 224.80h1.24v185.40h-1.24zM1299.67 135.92h1.24v83.88h-1.24zM1303.39 224.80h1.24v185.40h-1.24zM1303.39 138.63h1.24v81.17h-1.24zM1318.28 224.80h1.24v185.40h-1.24zM1318.28 139.44h1.24v80.36h-1.24zM1355.48 224.80h1.24v185.40h-1.24zM1355.48 140.35h1.24v79.45h-1.24zM1370.37 224.80h1.24v185.40h-1.24zM1370.37 151.95h1.24v67.85h-1.24zM1382.77 224.80h1.24v185.40h-1.24zM1382.77 136.81h1.24v82.99h-1.24zM1410.06 382.39h1.24v27.81h-1.24zM1412.54 382.39h1.24v27.81h-1.24zM1444.79 382.39h1.24v27.81h-1.24zM1454.71 382.39h1.24v27.81h-1.24zM1472.07 379.30h1.24v30.90h-1.24zM1474.55 382.39h1.24v27.81h-1.24zM1481.99 382.39h1.24v27.81h-1.24zM1484.48 382.39h1.24v27.81h-1.24zM1545.25 283.51h1.24v126.69h-1.24zM1556.41 283.51h1.24v126.69h-1.24zM1576.26 283.51h1.24v126.69h-1.24zM1581.22 283.51h1.24v126.69h-1.24zM1598.58 283.51h1.24v126.69h-1.24zM1612.23 283.51h1.24v126.69h-1.24zM1686.64 382.39h1.24v27.81h-1.24zM1691.61 382.39h1.24v27.81h-1.24zM1695.33 382.39h1.24v27.81h-1.24zM1697.81 382.39h1.24v27.81h-1.24zM1699.05 382.39h1.24v27.81h-1.24zM1706.49 382.39h1.24v27.81h-1.24zM1708.97 382.39h1.24v27.81h-1.24zM1710.21 382.39h1.24v27.81h-1.24zM1751.14 382.39h1.24v27.81h-1.24zM1764.78 286.60h1.24v123.60h-1.24zM1788.35 283.51h1.24v126.69h-1.24zM1799.51 283.51h1.24v126.69h-1.24zM1813.15 283.51h1.24v126.69h-1.24z"/>
<path fill="#f1838c" d="M767.58 382.39h1.24v27.81h-1.24zM772.54 298.96h1.24v111.24h-1.24zM775.02 280.42h1.24v129.78h-1.24zM779.99 280.42h1.24v129.78h-1.24zM791.15 271.15h1.24v139.05h-1.24zM817.19 261.88h1.24v148.32h-1.24zM834.56 258.79h1.24v151.41h-1.24zM849.44 252.61h1.24v157.59h-1.24zM875.49 249.52h1.24v160.68h-1.24zM906.50 382.39h1.24v27.81h-1.24zM923.86 382.39h1.24v27.81h-1.24zM927.58 382.39h1.24v27.81h-1.24zM970.99 382.39h1.24v27.81h-1.24zM972.23 382.39h1.24v27.81h-1.24zM1005.72 382.39h1.24v27.81h-1.24zM1006.96 382.39h1.24v27.81h-1.24zM1023.08 261.88h1.24v148.32h-1.24zM1029.29 252.61h1.24v157.59h-1.24zM1044.17 249.52h1.24v160.68h-1.24zM1083.86 240.25h1.24v169.95h-1.24zM1096.26 237.16h1.24v173.04h-1.24zM1098.74 237.16h1.24v173.04h-1.24zM1109.90 237.16h1.24v173.04h-1.24zM1127.27 234.07h1.24v176.13h-1.24zM1199.21 382.39h1.24v27.81h-1.24zM1219.05 382.39h1.24v27.81h-1.24zM1221.53 382.39h1.24v27.81h-1.24zM1243.86 382.39h1.24v27.81h-1.24zM1248.82 382.39h1.24v27.81h-1.24zM1256.26 382.39h1.24v27.81h-1.24zM1295.95 224.80h1.24v185.40h-1.24zM1295.95 139.74h1.24v80.06h-1.24zM1351.76 224.80h1.24v185.40h-1.24zM1351.76 135.15h1.24v84.65h-1.24zM1371.61 224.80h1.24v185.40h-1.24zM1371.61 132.59h1.24v87.21h-1.24zM1374.09 224.80h1.24v185.40h-1.24zM1374.09 137.35h1.24v82.45h-1.24zM1379.05 224.80h1.24v185.40h-1.24zM1379.05 133.18h1.24v86.62h-1.24zM1381.53 224.80h1.24v185.40h-1.24zM1381.53 136.54h1.24v83.26h-1.24zM1392.69 382.39h1.24v27.81h-1.24zM1416.26 382.39h1.24v27.81h-1.24zM1417.50 382.39h1.24v27.81h-1.24zM1418.74 382.39h1.24v27.81h-1.24zM1423.70 382.39h1.24v27.81h-1.24zM1524.17 283.51h1.24v126.69h-1.24zM1534.09 283.51h1.24v126.69h-1.24zM1536.57 283.51h1.24v126.69h-1.24zM1539.05 283.51h1.24v126.69h-1.24zM1540.29 283.51h1.24v126.69h-1.24zM1546.49 283.51h1.24v126.69h-1.24zM1553.93 283.51h1.24v126.69h-1.24zM1561.37 283.51h1.24v126.69h-1.24zM1565.09 283.51h1.24v126.69h-1.24zM1567.58 280.42h1.24v129.78h-1.24zM1604.78 283.51h1.24v126.69h-1.24zM1608.51 283.51h1.24v126.69h-1.24zM1615.95 283.51h1.24v126.69h-1.24zM1619.67 283.51h1.24v126.69h-1.24zM1653.16 382.39h1.24v27.81h-1.24zM1675.48 382.39h1.24v27.81h-1.24zM1702.77 382.39h1.24v27.81h-1.24zM1736.26 382.39h1.24v27.81h-1.24zM1743.70 379.30h1.24v30.90h-1.24zM1753.62 382.39h1.24v27.81h-1.24zM1754.86 382.39h1.24v27.81h-1.24zM1782.15 283.51h1.24v126.69h-1.24zM1784.63 280.42h1.24v129.78h-1.24zM1801.99 283.51h1.24v126.69h-1.24zM1803.23 283.51h1.24v126.69h-1.24zM1805.71 283.51h1.24v126.69h-1.24zM1810.67 283.51h1.24v126.69h-1.24zM1828.04 283.51h1.24v126.69h-1.24zM1836.72 283.51h1.24v126.69h-1.24zM1842.92 283.51h1.24v126.69h-1.24z"/>
<path fill="#f39198" d="M762.62 379.30h1.24v30.90h-1.24zM787.43 271.15h1.24v139.05h-1.24zM802.31 268.06h1.24v142.14h-1.24zM808.51 264.97h1.24v145.23h-1.24zM809.75 264.97h1.24v145.23h-1.24zM813.47 264.97h1.24v145.23h-1.24zM842.00 255.70h1.24v154.50h-1.24zM879.21 249.52h1.24v160.68h-1.24zM895.33 382.39h1.24v27.81h-1.24zM902.77 382.39h1.24v27.81h-1.24zM921.38 382.39h1.24v27.81h-1.24zM925.10 379.30h1.24v30.90h-1.24zM936.26 382.39h1.24v27.81h-1.24zM946.19 382.39h1.24v27.81h-1.24zM951.15 382.39h1.24v27.81h-1.24zM977.19 382.39h1.24v27.81h-1.24zM1025.56 258.79h1.24v151.41h-1.24zM1028.05 252.61h1.24v157.59h-1.24zM1040.45 249.52h1.24v160.68h-1.24zM1076.42 240.25h1.24v169.95h-1.24zM1080.14 240.25h1.24v169.95h-1.24zM1085.10 240.25h1.24v169.95h-1.24zM1087.58 240.25h1.24v169.95h-1.24zM1092.54 240.25h1.24v169.95h-1.24zM1113.63 234.07h1.24v176.13h-1.24zM1117.35 234.07h1.24v176.13h-1.24zM1119.83 234.07h1.24v176.13h-1.24zM1124.79 234.07h1.24v176.13h-1.24zM1138.43 234.07h1.24v176.13h-1.24zM1154.56 382.39h1.24v27.81h-1.24zM1159.52 385.48h1.24v24.72h-1.24zM1166.96 382.39h1.24v27.81h-1.24zM1200.45 382.39h1.24v27.81h-1.24zM1211.61 382.39h1.24v27.81h-1.24zM1214.09 382.39h1.24v27.81h-1.24zM1241.38 382.39h1.24v27.81h-1.24zM1253.78 385.48h1.24v24.72h-1.24zM1259.98 382.39h1.24v27.81h-1.24zM1267.42 224.80h1.24v185.40h-1.24zM1267.42 133.95h1.24v85.85h-1.24zM1277.35 224.80h1.24v185.40h-1.24zM1277.35 136.75h1.24v83.05h-1.24zM1288.51 224.80h1.24v185.40h-1.24zM1288.51 138.55h1.24v81.25h-1.24zM1293.47 224.80h1.24v185.40h-1.24zM1293.47 135.37h1.24v84.43h-1.24zM1364.17 224.80h1.24v185.40h-1.24zM1364.17 135.92h1.24v83.88h-1.24zM1377.81 224.80h1.24v185.40h-1.24zM1377.81 140.25h1.24v79.55h-1.24zM1385.25 224.80h1.24v185.40h-1.24zM1385.25 137.13h1.24v82.67h-1.24zM1407.58 382.39h1.24v27.81h-1.24zM1415.02 382.39h1.24v27.81h-1.24zM1447.27 382.39h1.24v27.81h-1.24zM1462.15 382.39h1.24v27.81h-1.24zM1529.13 283.51h1.24v126.69h-1.24zM1544.01 280.42h1.24v129.78h-1.24zM1548.97 283.51h1.24v126.69h-1.24zM1550.21 283.51h1.24v126.69h-1.24zM1568.82 283.51h1.24v126.69h-1.24zM1573.78 283.51h1.24v126.69h-1.24zM1593.62 283.51h1.24v126.69h-1.24zM1602.30 283.51h1.24v126.69h-1.24zM1613.47 283.51h1.24v126.69h-1.24zM1624.63 283.51h1.24v126.69h-1.24zM1638.27 283.51h1.24v126.69h-1.24zM1645.71 379.30h1.24v30.90h-1.24zM1650.68 382.39h1.24v27.81h-1.24zM1669.28 382.39h1.24v27.81h-1.24zM1690.37 379.30h1.24v30.90h-1.24zM1759.82 382.39h1.24v27.81h-1.24zM1768.50 286.60h1.24v123.60h-1.24zM1783.39 283.51h1.24v126.69h-1.24zM1790.83 283.51h1.24v126.69h-1.24zM1795.79 283.51h1.24v126.69h-1.24zM1798.27 283.51h1.24v126.69h-1.24zM1820.60 283.51h1.24v126.69h-1.24zM1821.84 283.51h1.24v126.69h-1.24zM1825.56 283.51h1.24v126.69h-1.24zM1844.16 283.51h1.24v126.69h-1.24zM1849.12 283.51h1.24v126.69h-1.24z"/>
<path fill="#f3a989" d="M760.14 382.39h1.24v27.81h-1.24zM765.10 382.39h1.24v27.81h-1.24zM770.06 382.39h1.24v27.81h-1.24zM776.26 280.42h1.24v129.78h-1.24zM778.74 280.42h1.24v129.78h-1.24zM782.47 274.24h1.24v135.96h-1.24zM783.71 274.24h1.24v135.96h-1.24zM804.79 268.06h1.24v142.14h-1.24zM832.08 258.79h1.24v151.41h-1.24zM839.52 255.70h1.24v154.50h-1.24zM853.16 252.61h1.24v157.59h-1.24zM887.89 249.52h1.24v160.68h-1.24zM890.37 249.52h1.24v160.68h-1.24zM891.61 249.52h1.24v160.68h-1.24zM897.81 382.39h1.24v27.81h-1.24zM911.46 382.39h1.24v27.81h-1.24zM920.14 382.39h1.24v27.81h-1.24zM932.54 382.39h1.24v27.81h-1.24zM949.91 382.39h1.24v27.81h-1.24zM961.07 382.39h1.24v27.81h-1.24zM975.95 382.39h1.24v27.81h-1.24zM980.91 382.39h1.24v27.81h-1.24zM1002.00 382.39h1.24v27.81h-1.24zM1013.16 382.39h1.24v27.81h-1.24zM1018.12 382.39h1.24v27.81h-1.24zM1019.36 264.97h1.24v145.23h-1.24zM1035.49 249.52h1.24v160.68h-1.24zM1050.37 249.52h1.24v160.68h-1.24zM1057.81 246.43h1.24v163.77h-1.24zM1062.77 243.34h1.24v166.86h-1.24zM1065.25 243.34h1.24v166.86h-1.24zM1072.70 240.25h1.24v169.95h-1.24zM1091.30 240.25h1.24v169.95h-1.24zM1103.70 237.16h1.24v173.04h-1.24zM1107.42 237.16h1.24v173.04h-1.24zM1114.87 234.07h1.24v176.13h-1.24zM1132.23 234.07h1.24v176.13h-1.24zM1137.19 234.07h1.24v176.13h-1.24zM1143.39 382.39h1.24v27.81h-1.24zM1144.63 382.39h1.24v27.81h-1.24zM1152.08 382.39h1.24v27.81h-1.24zM1153.32 382.39h1.24v27.81h-1.24zM1164.48 382.39h1.24v27.81h-1.24zM1169.44 382.39h1.24v27.81h-1.24zM1178.12 382.39h1.24v27.81h-1.24zM1185.56 382.39h1.24v27.81h-1.24zM1188.04 382.39h1.24v27.81h-1.24zM1195.49 382.39h1.24v27.81h-1.24zM1196.73 382.39h1.24v27.81h-1.24zM1204.17 382.39h1.24v27.81h-1.24zM1224.01 382.39h1.24v27.81h-1.24zM1226.49 382.39h1.24v27.81h-1.24zM1228.97 382.39h1.24v27.81h-1.24zM1231.45 382.39h1.24v27.81h-1.24zM1233.93 382.39h1.24v27.81h-1.24zM1236.42 382.39h1.24v27.81h-1.24zM1269.90 224.80h1.24v185.40h-1.24zM1269.90 135.40h1.24v84.40h-1.24zM1300.91 224.80h1.24v185.40h-1.24zM1300.91 141.48h1.24v78.32h-1.24zM1305.87 224.80h1.24v185.40h-1.24zM1305.87 140.26h1.24v79.54h-1.24zM1307.11 224.80h1.24v185.40h-1.24zM1307.11 137.06h1.24v82.74h-1.24zM1312.07 224.80h1.24v185.40h-1.24zM1312.07 140.80h1.24v79.00h-1.24zM1315.79 224.80h1.24v185.40h-1.24zM1315.79 139.85h1.24v79.95h-1.24zM1330.68 224.80h1.24v185.40h-1.24zM1330.68 139.16h1.24v80.64h-1.24zM1348.04 224.80h1.24v185.40h-1.24zM1348.04 151.80h1.24v68.00h-1.24zM1367.89 224.80h1.24v185.40h-1.24zM1367.89 135.53h1.24v84.27h-1.24zM1386.49 224.80h1.24v185.40h-1.24zM1386.49 131.81h1.24v87.99h-1.24zM1393.93 382.39h1.24v27.81h-1.24zM1397.65 382.39h1.24v27.81h-1.24zM1400.14 382.39h1.24v27.81h-1.24zM1401.38 382.39h1.24v27.81h-1.24zM1402.62 382.39h1.24v27.81h-1.24zM1405.10 382.39h1.24v27.81h-1.24zM1411.30 382.39h1.24v27.81h-1.24zM1427.42 382.39h1.24v27.81h-1.24zM1457.19 382.39h1.24v27.81h-1.24zM1463.39 379.30h1.24v30.90h-1.24zM1467.11 382.39h1.24v27.81h-1.24zM1468.35 382.39h1.24v27.81h-1.24zM1486.96 382.39h1.24v27.81h-1.24zM1490.68 382.39h1.24v27.81h-1.24zM1494.40 382.39h1.24v27.81h-1.24zM1496.88 382.39h1.24v27.81h-1.24zM1498.12 382.39h1.24v27.81h-1.24zM1504.32 382.39h1.24v27.81h-1.24zM1508.04 382.39h1.24v27.81h-1.24zM1509.28 382.39h1.24v27.81h-1.24zM1515.48 283.51h1.24v126.69h-1.24zM1519.20 283.51h1.24v126.69h-1.24zM1526.65 283.51h1.24v126.69h-1.24zM1557.65 283.51h1.24v126.69h-1.24zM1563.85 283.51h1.24v126.69h-1.24zM1578.74 283.51h1.24v126.69h-1.24zM1586.18 283.51h1.24v126.69h-1.24zM1588.66 283.51h1.24v126.69h-1.24zM1594.86 283.51h1.24v126.69h-1.24zM1601.06 283.51h1.24v126.69h-1.24zM1617.19 283.51h1.24v126.69h-1.24zM1620.91 283.51h1.24v126.69h-1.24zM1625.87 283.51h1.24v126.69h-1.24zM1628.35 280.42h1.24v129.78h-1.24zM1629.59 283.51h1.24v126.69h-1.24zM1655.64 382.39h1.24v27.81h-1.24zM1658.12 382.39h1.24v27.81h-1.24zM1661.84 382.39h1.24v27.81h-1.24zM1668.04 382.39h1.24v27.81h-1.24zM1676.72 382.39h1.24v27.81h-1.24zM1682.92 382.39h1.24v27.81h-1.24zM1687.88 382.39h1.24v27.81h-1.24zM1694.09 382.39h1.24v27.81h-1.24zM1717.65 382.39h1.24v27.81h-1.24zM1728.81 382.39h1.24v27.81h-1.24zM1732.54 382.39h1.24v27.81h-1.24zM1738.74 382.39h1.24v27.81h-1.24zM1769.74 286.60h1.24v123.60h-1.24zM1772.23 286.60h1.24v123.60h-1.24zM1773.47 286.60h1.24v123.60h-1.24zM1777.19 286.60h1.24v123.60h-1.24zM1794.55 283.51h1.24v126.69h-1.24zM1806.95 283.51h1.24v126.69h-1.24zM1814.40 283.51h1.24v126.69h-1.24zM1831.76 283.51h1.24v126.69h-1.24zM1839.20 283.51h1.24v126.69h-1.24zM1847.88 283.51h1.24v126.69h-1.24zM1851.60 283.51h1.24v126.69h-1.24zM1852.84 280.42h1.24v129.78h-1.24zM1864.01 283.51h1.24v126.69h-1.24zM1867.73 283.51h1.24v126.69h-1.24zM1870.21 283.51h1.24v126.69h-1.24zM1872.69 283.51h1.24v126.69h-1.24zM1873.93 283.51h1.24v126.69h-1.24zM1878.89 283.51h1.24v126.69h-1.24z"/>
<path fill="#f5b394" d="M786.19 274.24h1.24v135.96h-1.24zM789.91 271.15h1.24v139.05h-1.24zM794.87 271.15h1.24v139.05h-1.24zM812.23 264.97h1.24v145.23h-1.24zM815.95 261.88h1.24v148.32h-1.24zM824.64 261.88h1.24v148.32h-1.24zM827.12 258.79h1.24v151.41h-1.24zM829.60 258.79h1.24v151.41h-1.24zM844.48 255.70h1.24v154.50h-1.24zM856.88 252.61h1.24v157.59h-1.24zM858.12 252.61h1.24v157.59h-1.24zM860.60 252.61h1.24v157.59h-1.24zM864.33 249.52h1.24v160.68h-1.24zM871.77 249.52h1.24v160.68h-1.24zM873.01 249.52h1.24v160.68h-1.24zM882.93 249.52h1.24v160.68h-1.24zM884.17 249.52h1.24v160.68h-1.24zM886.65 249.52h1.24v160.68h-1.24zM916.42 382.39h1.24v27.81h-1.24zM935.02 382.39h1.24v27.81h-1.24zM939.98 382.39h1.24v27.81h-1.24zM943.70 385.48h1.24v24.72h-1.24zM947.43 382.39h1.24v27.81h-1.24zM958.59 382.39h1.24v27.81h-1.24zM973.47 382.39h1.24v27.81h-1.24zM979.67 379.30h1.24v30.90h-1.24zM994.56 382.39h1.24v27.81h-1.24zM995.80 382.39h1.24v27.81h-1.24zM998.28 382.39h1.24v27.81h-1.24zM1014.40 382.39h1.24v27.81h-1.24zM1020.60 264.97h1.24v145.23h-1.24zM1039.21 249.52h1.24v160.68h-1.24zM1045.41 249.52h1.24v160.68h-1.24zM1047.89 249.52h1.24v160.68h-1.24zM1052.85 249.52h1.24v160.68h-1.24zM1054.09 249.52h1.24v160.68h-1.24zM1059.05 246.43h1.24v163.77h-1.24zM1060.29 246.43h1.24v163.77h-1.24zM1066.49 243.34h1.24v166.86h-1.24zM1068.97 240.25h1.24v169.95h-1.24zM1088.82 240.25h1.24v169.95h-1.24zM1099.98 237.16h1.24v173.04h-1.24zM1148.35 382.39h1.24v27.81h-1.24zM1149.59 382.39h1.24v27.81h-1.24zM1157.04 385.48h1.24v24.72h-1.24zM1158.28 382.39h1.24v27.81h-1.24zM1162.00 382.39h1.24v27.81h-1.24zM1171.92 382.39h1.24v27.81h-1.24zM1173.16 382.39h1.24v27.81h-1.24zM1176.88 379.30h1.24v30.90h-1.24zM1180.60 382.39h1.24v27.81h-1.24zM1191.76 382.39h1.24v27.81h-1.24zM1202.93 382.39h1.24v27.81h-1.24zM1207.89 382.39h1.24v27.81h-1.24zM1263.70 382.39h1.24v27.81h-1.24zM1274.86 224.80h1.24v185.40h-1.24zM1274.86 137.18h1.24v82.62h-1.24zM1278.59 224.80h1.24v185.40h-1.24zM1278.59 136.63h1.24v83.17h-1.24zM1281.07 224.80h1.24v185.40h-1.24zM1281.07 134.15h1.24v85.65h-1.24zM1284.79 224.80h1.24v185.40h-1.24zM1284.79 136.18h1.24v83.62h-1.24zM1286.03 224.80h1.24v185.40h-1.24zM1286.03 137.71h1.24v82.09h-1.24zM1289.75 224.80h1.24v185.40h-1.24zM1289.75 136.36h1.24v83.44h-1.24zM1297.19 224.80h1.24v185.40h-1.24zM1297.19 136.35h1.24v83.45h-1.24zM1308.35 224.80h1.24v185.40h-1.24zM1308.35 134.53h1.24v85.27h-1.24zM1313.31 224.80h1.24v185.40h-1.24zM1313.31 151.47h1.24v68.33h-1.24zM1322.00 224.80h1.24v185.40h-1.24zM1322.00 140.56h1.24v79.24h-1.24zM1323.24 224.80h1.24v185.40h-1.24zM1323.24 139.91h1.24v79.89h-1.24zM1333.16 224.80h1.24v185.40h-1.24zM1333.16 139.01h1.24v80.79h-1.24zM1335.64 224.80h1.24v185.40h-1.24zM1335.64 138.83h1.24v80.97h-1.24zM1338.12 224.80h1.24v185.40h-1.24zM1338.12 134.71h1.24v85.09h-1.24zM1344.32 224.80h1.24v185.40h-1.24zM1344.32 136.65h1.24v83.15h-1.24zM1345.56 224.80h1.24v185.40h-1.24zM1345.56 137.73h1.24v82.07h-1.24zM1349.28 224.80h1.24v185.40h-1.24zM1349.28 134.20h1.24v85.60h-1.24zM1353.00 224.80h1.24v185.40h-1.24zM1353.00 143.61h1.24v76.19h-1.24zM1356.72 224.80h1.24v185.40h-1.24zM1356.72 135.74h1.24v84.06h-1.24zM1359.21 224.80h1.24v185.40h-1.24zM1359.21 149.90h1.24v69.90h-1.24zM1360.45 224.80h1.24v185.40h-1.24zM1360.45 135.65h1.24v84.15h-1.24zM1362.93 224.80h1.24v185.40h-1.24zM1362.93 139.23h1.24v80.57h-1.24zM1388.97 224.80h1.24v185.40h-1.24zM1388.97 136.45h1.24v83.35h-1.24zM1422.46 382.39h1.24v27.81h-1.24zM1426.18 382.39h1.24v27.81h-1.24zM1429.90 382.39h1.24v27.81h-1.24zM1433.62 382.39h1.24v27.81h-1.24zM1434.86 382.39h1.24v27.81h-1.24zM1452.23 382.39h1.24v27.81h-1.24zM1479.51 382.39h1.24v27.81h-1.24zM1500.60 382.39h1.24v27.81h-1.24zM1505.56 379.30h1.24v30.90h-1.24zM1516.72 283.51h1.24v126.69h-1.24zM1520.44 283.51h1.24v126.69h-1.24zM1531.61 283.51h1.24v126.69h-1.24zM1551.45 283.51h1.24v126.69h-1.24zM1560.13 283.51h1.24v126.69h-1.24zM1571.30 283.51h1.24v126.69h-1.24zM1591.14 283.51h1.24v126.69h-1.24zM1606.02 283.51h1.24v126.69h-1.24zM1609.75 283.51h1.24v126.69h-1.24zM1623.39 283.51h1.24v126.69h-1.24zM1630.83 283.51h1.24v126.69h-1.24zM1633.31 283.51h1.24v126.69h-1.24zM1634.55 283.51h1.24v126.69h-1.24zM1648.20 382.39h1.24v27.81h-1.24zM1665.56 382.39h1.24v27.81h-1.24zM1673.00 382.39h1.24v27.81h-1.24zM1679.20 382.39h1.24v27.81h-1.24zM1680.44 382.39h1.24v27.81h-1.24zM1684.16 382.39h1.24v27.81h-1.24zM1701.53 382.39h1.24v27.81h-1.24zM1712.69 382.39h1.24v27.81h-1.24zM1723.85 382.39h1.24v27.81h-1.24zM1731.30 382.39h1.24v27.81h-1.24zM1742.46 382.39h1.24v27.81h-1.24zM1747.42 382.39h1.24v27.81h-1.24zM1749.90 382.39h1.24v27.81h-1.24zM1762.30 382.39h1.24v27.81h-1.24zM1775.95 286.60h1.24v123.60h-1.24zM1779.67 283.51h1.24v126.69h-1.24zM1787.11 283.51h1.24v126.69h-1.24zM1809.43 283.51h1.24v126.69h-1.24zM1816.88 283.51h1.24v126.69h-1.24zM1824.32 283.51h1.24v126.69h-1.24zM1829.28 283.51h1.24v126.69h-1.24zM1835.48 283.51h1.24v126.69h-1.24zM1859.05 280.42h1.24v129.78h-1.24zM1862.77 283.51h1.24v126.69h-1.24zM1876.41 283.51h1.24v126.69h-1.24zM1881.37 283.51h1.24v126.69h-1.24zM1883.85 283.51h1.24v126.69h-1.24z"/>
<path fill="#f6bc9f" d="M793.63 271.15h1.24v139.05h-1.24zM797.35 268.06h1.24v142.14h-1.24zM799.83 268.06h1.24v142.14h-1.24zM822.16 261.88h1.24v148.32h-1.24zM861.84 252.61h1.24v157.59h-1.24zM865.57 249.52h1.24v160.68h-1.24zM868.05 249.52h1.24v160.68h-1.24zM869.29 249.52h1.24v160.68h-1.24zM876.73 249.52h1.24v160.68h-1.24zM880.45 249.52h1.24v160.68h-1.24zM894.09 249.52h1.24v160.68h-1.24zM901.53 382.39h1.24v27.81h-1.24zM905.26 382.39h1.24v27.81h-1.24zM908.98 382.39h1.24v27.81h-1.24zM913.94 382.39h1.24v27.81h-1.24zM931.30 382.39h1.24v27.81h-1.24zM938.74 382.39h1.24v27.81h-1.24zM942.46 382.39h1.24v27.81h-1.24zM953.63 385.48h1.24v24.72h-1.24zM956.11 382.39h1.24v27.81h-1.24zM963.55 385.48h1.24v24.72h-1.24zM966.03 382.39h1.24v27.81h-1.24zM968.51 382.39h1.24v27.81h-1.24zM984.63 382.39h1.24v27.81h-1.24zM987.12 382.39h1.24v27.81h-1.24zM992.08 382.39h1.24v27.81h-1.24zM1003.24 382.39h1.24v27.81h-1.24zM1009.44 382.39h1.24v27.81h-1.24zM1010.68 382.39h1.24v27.81h-1.24zM1015.64 382.39h1.24v27.81h-1.24zM1024.32 258.79h1.24v151.41h-1.24zM1031.77 252.61h1.24v157.59h-1.24zM1042.93 249.52h1.24v160.68h-1.24zM1055.33 246.43h1.24v163.77h-1.24zM1070.22 240.25h1.24v169.95h-1.24zM1073.94 240.25h1.24v169.95h-1.24zM1081.38 240.25h1.24v169.95h-1.24zM1095.02 237.16h1.24v173.04h-1.24zM1102.46 237.16h1.24v173.04h-1.24zM1111.15 237.16h1.24v173.04h-1.24zM1122.31 234.07h1.24v176.13h-1.24zM1129.75 234.07h1.24v176.13h-1.24zM1142.15 234.07h1.24v176.13h-1.24zM1147.11 382.39h1.24v27.81h-1.24zM1174.40 382.39h1.24v27.81h-1.24zM1184.32 382.39h1.24v27.81h-1.24zM1189.28 382.39h1.24v27.81h-1.24zM1206.65 382.39h1.24v27.81h-1.24zM1215.33 382.39h1.24v27.81h-1.24zM1246.34 382.39h1.24v27.81h-1.24zM1251.30 382.39h1.24v27.81h-1.24zM1258.74 382.39h1.24v27.81h-1.24zM1262.46 382.39h1.24v27.81h-1.24zM1266.18 382.39h1.24v27.81h-1.24zM1271.14 224.80h1.24v185.40h-1.24zM1271.14 140.11h1.24v79.69h-1.24zM1273.62 224.80h1.24v185.40h-1.24zM1273.62 132.58h1.24v87.22h-1.24zM1282.31 224.80h1.24v185.40h-1.24zM1282.31 139.88h1.24v79.92h-1.24zM1292.23 224.80h1.24v185.40h-1.24zM1292.23 136.85h1.24v82.95h-1.24zM1302.15 224.80h1.24v185.40h-1.24zM1302.15 135.73h1.24v84.07h-1.24zM1310.83 224.80h1.24v185.40h-1.24zM1310.83 135.56h1.24v84.24h-1.24zM1317.03 224.80h1.24v185.40h-1.24zM1317.03 135.18h1.24v84.62h-1.24zM1320.76 224.80h1.24v185.40h-1.24zM1320.76 149.45h1.24v70.35h-1.24zM1325.72 224.80h1.24v185.40h-1.24zM1325.72 137.28h1.24v82.52h-1.24zM1328.20 224.80h1.24v185.40h-1.24zM1328.20 135.78h1.24v84.02h-1.24zM1340.60 224.80h1.24v185.40h-1.24zM1340.60 137.57h1.24v82.23h-1.24zM1341.84 224.80h1.24v185.40h-1.24zM1341.84 137.94h1.24v81.86h-1.24zM1366.65 224.80h1.24v185.40h-1.24zM1366.65 139.30h1.24v80.50h-1.24zM1375.33 224.80h1.24v185.40h-1.24zM1375.33 136.67h1.24v83.13h-1.24zM1390.21 224.80h1.24v185.40h-1.24zM1390.21 135.90h1.24v83.90h-1.24zM1396.41 382.39h1.24v27.81h-1.24zM1406.34 382.39h1.24v27.81h-1.24zM1419.98 382.39h1.24v27.81h-1.24zM1431.14 382.39h1.24v27.81h-1.24zM1437.34 382.39h1.24v27.81h-1.24zM1438.58 382.39h1.24v27.81h-1.24zM1442.31 382.39h1.24v27.81h-1.24zM1449.75 382.39h1.24v27.81h-1.24zM1459.67 382.39h1.24v27.81h-1.24zM1464.63 382.39h1.24v27.81h-1.24zM1477.03 382.39h1.24v27.81h-1.24zM1489.44 382.39h1.24v27.81h-1.24zM1493.16 382.39h1.24v27.81h-1.24zM1501.84 382.39h1.24v27.81h-1.24zM1511.76 382.39h1.24v27.81h-1.24zM1513.00 382.39h1.24v27.81h-1.24zM1521.68 283.51h1.24v126.69h-1.24zM1541.53 283.51h1.24v126.69h-1.24zM1555.17 283.51h1.24v126.69h-1.24zM1583.70 283.51h1.24v126.69h-1.24zM1584.94 283.51h1.24v126.69h-1.24zM1589.90 283.51h1.24v126.69h-1.24zM1596.10 283.51h1.24v126.69h-1.24zM1635.79 283.51h1.24v126.69h-1.24zM1640.75 382.39h1.24v27.81h-1.24zM1643.23 382.39h1.24v27.81h-1.24zM1660.60 382.39h1.24v27.81h-1.24zM1664.32 382.39h1.24v27.81h-1.24zM1671.76 382.39h1.24v27.81h-1.24zM1705.25 382.39h1.24v27.81h-1.24zM1713.93 382.39h1.24v27.81h-1.24zM1716.41 382.39h1.24v27.81h-1.24zM1720.13 382.39h1.24v27.81h-1.24zM1721.37 382.39h1.24v27.81h-1.24zM1725.09 382.39h1.24v27.81h-1.24zM1727.57 382.39h1.24v27.81h-1.24zM1735.02 382.39h1.24v27.81h-1.24zM1739.98 382.39h1.24v27.81h-1.24zM1746.18 382.39h1.24v27.81h-1.24zM1757.34 382.39h1.24v27.81h-1.24zM1792.07 283.51h1.24v126.69h-1.24zM1818.12 283.51h1.24v126.69h-1.24zM1833.00 283.51h1.24v126.69h-1.24zM1841.68 283.51h1.24v126.69h-1.24zM1846.64 283.51h1.24v126.69h-1.24zM1854.08 283.51h1.24v126.69h-1.24zM1856.57 283.51h1.24v126.69h-1.24zM1857.81 283.51h1.24v126.69h-1.24zM1861.53 283.51h1.24v126.69h-1.24zM1866.49 283.51h1.24v126.69h-1.24zM1868.97 283.51h1.24v126.69h-1.24zM1877.65 283.51h1.24v126.69h-1.24zM1882.61 283.51h1.24v126.69h-1.24z"/>
<path fill="#f9cccb" d="M758.90 382.39h1.24v27.81h-1.24zM771.30 283.51h1.24v126.69h-1.24zM784.95 274.24h1.24v135.96h-1.24zM803.55 268.06h1.24v142.14h-1.24zM820.91 261.88h1.24v148.32h-1.24zM845.72 252.61h1.24v157.59h-1.24zM850.68 252.61h1.24v157.59h-1.24zM855.64 252.61h1.24v157.59h-1.24zM859.36 252.61h1.24v157.59h-1.24zM866.81 249.52h1.24v160.68h-1.24zM877.97 249.52h1.24v160.68h-1.24zM881.69 249.52h1.24v160.68h-1.24zM900.29 382.39h1.24v27.81h-1.24zM904.02 382.39h1.24v27.81h-1.24zM907.74 382.39h1.24v27.81h-1.24zM915.18 382.39h1.24v27.81h-1.24zM918.90 382.39h1.24v27.81h-1.24zM922.62 382.39h1.24v27.81h-1.24zM926.34 382.39h1.24v27.81h-1.24zM930.06 382.39h1.24v27.81h-1.24zM933.78 382.39h1.24v27.81h-1.24zM941.22 382.39h1.24v27.81h-1.24zM959.83 382.39h1.24v27.81h-1.24zM974.71 382.39h1.24v27.81h-1.24zM997.04 379.30h1.24v30.90h-1.24zM1008.20 382.39h1.24v27.81h-1.24zM1011.92 379.30h1.24v30.90h-1.24zM1016.88 382.39h1.24v27.81h-1.24zM1071.46 240.25h1.24v169.95h-1.24zM1075.18 240.25h1.24v169.95h-1.24zM1078.90 240.25h1.24v169.95h-1.24zM1082.62 240.25h1.24v169.95h-1.24zM1086.34 240.25h1.24v169.95h-1.24zM1090.06 240.25h1.24v169.95h-1.24zM1093.78 240.25h1.24v169.95h-1.24zM1101.22 237.16h1.24v173.04h-1.24zM1104.94 237.16h1.24v173.04h-1.24zM1108.66 237.16h1.24v173.04h-1.24zM1121.07 234.07h1.24v176.13h-1.24zM1128.51 234.07h1.24v176.13h-1.24zM1140.91 234.07h1.24v176.13h-1.24zM1155.80 382.39h1.24v27.81h-1.24zM1165.72 382.39h1.24v27.81h-1.24zM1183.08 382.39h1.24v27.81h-1.24zM1201.69 382.39h1.24v27.81h-1.24zM1205.41 382.39h1.24v27.81h-1.24zM1220.29 382.39h1.24v27.81h-1.24zM1237.66 382.39h1.24v27.81h-1.24zM1240.14 382.39h1.24v27.81h-1.24zM1247.58 382.39h1.24v27.81h-1.24zM1252.54 382.39h1.24v27.81h-1.24zM1290.99 224.80h1.24v185.40h-1.24zM1290.99 136.80h1.24v83.00h-1.24zM1298.43 224.80h1.24v185.40h-1.24zM1298.43 138.71h1.24v81.09h-1.24zM1304.63 224.80h1.24v185.40h-1.24zM1304.63 137.02h1.24v82.78h-1.24zM1309.59 224.80h1.24v185.40h-1.24zM1309.59 133.52h1.24v86.28h-1.24zM1326.96 224.80h1.24v185.40h-1.24zM1326.96 131.90h1.24v87.90h-1.24zM1331.92 224.80h1.24v185.40h-1.24zM1331.92 136.56h1.24v83.24h-1.24zM1339.36 224.80h1.24v185.40h-1.24zM1339.36 132.27h1.24v87.53h-1.24zM1346.80 224.80h1.24v185.40h-1.24zM1346.80 137.82h1.24v81.98h-1.24zM1357.96 224.80h1.24v185.40h-1.24zM1357.96 132.26h1.24v87.54h-1.24zM1365.41 224.80h1.24v185.40h-1.24zM1365.41 140.82h1.24v78.98h-1.24zM1372.85 224.80h1.24v185.40h-1.24zM1372.85 132.91h1.24v86.89h-1.24zM1384.01 224.80h1.24v185.40h-1.24zM1384.01 135.51h1.24v84.29h-1.24zM1391.45 382.39h1.24v27.81h-1.24zM1395.17 382.39h1.24v27.81h-1.24zM1408.82 382.39h1.24v27.81h-1.24zM1428.66 382.39h1.24v27.81h-1.24zM1436.10 382.39h1.24v27.81h-1.24zM1448.51 382.39h1.24v27.81h-1.24zM1453.47 382.39h1.24v27.81h-1.24zM1455.95 382.39h1.24v27.81h-1.24zM1458.43 382.39h1.24v27.81h-1.24zM1469.59 382.39h1.24v27.81h-1.24zM1514.24 382.39h1.24v27.81h-1.24zM1525.41 283.51h1.24v126.69h-1.24zM1530.37 283.51h1.24v126.69h-1.24zM1532.85 283.51h1.24v126.69h-1.24zM1535.33 283.51h1.24v126.69h-1.24zM1537.81 283.51h1.24v126.69h-1.24zM1542.77 283.51h1.24v126.69h-1.24zM1547.73 283.51h1.24v126.69h-1.24zM1552.69 283.51h1.24v126.69h-1.24zM1558.89 283.51h1.24v126.69h-1.24zM1562.61 280.42h1.24v129.78h-1.24zM1587.42 283.51h1.24v126.69h-1.24zM1599.82 283.51h1.24v126.69h-1.24zM1618.43 283.51h1.24v126.69h-1.24zM1632.07 283.51h1.24v126.69h-1.24zM1641.99 382.39h1.24v27.81h-1.24zM1644.47 382.39h1.24v27.81h-1.24zM1656.88 382.39h1.24v27.81h-1.24zM1681.68 382.39h1.24v27.81h-1.24zM1692.85 382.39h1.24v27.81h-1.24zM1696.57 382.39h1.24v27.81h-1.24zM1700.29 382.39h1.24v27.81h-1.24zM1715.17 382.39h1.24v27.81h-1.24zM1733.78 382.39h1.24v27.81h-1.24zM1744.94 382.39h1.24v27.81h-1.24zM1748.66 382.39h1.24v27.81h-1.24zM1752.38 382.39h1.24v27.81h-1.24zM1756.10 382.39h1.24v27.81h-1.24zM1758.58 382.39h1.24v27.81h-1.24zM1761.06 382.39h1.24v27.81h-1.24zM1763.54 286.60h1.24v123.60h-1.24zM1767.26 286.60h1.24v123.60h-1.24zM1770.98 286.60h1.24v123.60h-1.24zM1774.71 286.60h1.24v123.60h-1.24zM1778.43 283.51h1.24v126.69h-1.24zM1780.91 283.51h1.24v126.69h-1.24zM1785.87 280.42h1.24v129.78h-1.24zM1793.31 283.51h1.24v126.69h-1.24zM1797.03 283.51h1.24v126.69h-1.24zM1800.75 283.51h1.24v126.69h-1.24zM1808.19 283.51h1.24v126.69h-1.24zM1811.91 283.51h1.24v126.69h-1.24zM1819.36 283.51h1.24v126.69h-1.24zM1834.24 283.51h1.24v126.69h-1.24z"/>
<path fill="#fad8c8" d="M761.38 382.39h1.24v27.81h-1.24zM763.86 379.30h1.24v30.90h-1.24zM766.34 382.39h1.24v27.81h-1.24zM768.82 379.30h1.24v30.90h-1.24zM773.78 357.67h1.24v52.53h-1.24zM777.50 280.42h1.24v129.78h-1.24zM781.23 274.24h1.24v135.96h-1.24zM788.67 271.15h1.24v139.05h-1.24zM792.39 271.15h1.24v139.05h-1.24zM796.11 268.06h1.24v142.14h-1.24zM798.59 268.06h1.24v142.14h-1.24zM807.27 268.06h1.24v142.14h-1.24zM810.99 264.97h1.24v145.23h-1.24zM814.71 264.97h1.24v145.23h-1.24zM818.43 261.88h1.24v148.32h-1.24zM823.40 261.88h1.24v148.32h-1.24zM825.88 258.79h1.24v151.41h-1.24zM828.36 258.79h1.24v151.41h-1.24zM830.84 258.79h1.24v151.41h-1.24zM833.32 258.79h1.24v151.41h-1.24zM835.80 255.70h1.24v154.50h-1.24zM838.28 255.70h1.24v154.50h-1.24zM840.76 255.70h1.24v154.50h-1.24zM843.24 255.70h1.24v154.50h-1.24zM848.20 252.61h1.24v157.59h-1.24zM863.09 249.52h1.24v160.68h-1.24zM870.53 249.52h1.24v160.68h-1.24zM874.25 249.52h1.24v160.68h-1.24zM885.41 249.52h1.24v160.68h-1.24zM889.13 249.52h1.24v160.68h-1.24zM892.85 249.52h1.24v160.68h-1.24zM896.57 382.39h1.24v27.81h-1.24zM910.22 382.39h1.24v27.81h-1.24zM912.70 382.39h1.24v27.81h-1.24zM937.50 382.39h1.24v27.81h-1.24zM944.94 382.39h1.24v27.81h-1.24zM948.67 382.39h1.24v27.81h-1.24zM952.39 382.39h1.24v27.81h-1.24zM954.87 382.39h1.24v27.81h-1.24zM957.35 382.39h1.24v27.81h-1.24zM962.31 382.39h1.24v27.81h-1.24zM964.79 382.39h1.24v27.81h-1.24zM967.27 382.39h1.24v27.81h-1.24zM969.75 379.30h1.24v30.90h-1.24zM978.43 382.39h1.24v27.81h-1.24zM982.15 382.39h1.24v27.81h-1.24zM985.87 382.39h1.24v27.81h-1.24zM989.60 382.39h1.24v27.81h-1.24zM993.32 382.39h1.24v27.81h-1.24zM1000.76 382.39h1.24v27.81h-1.24zM1004.48 382.39h1.24v27.81h-1.24zM1021.84 261.88h1.24v148.32h-1.24zM1026.80 258.79h1.24v151.41h-1.24zM1030.53 252.61h1.24v157.59h-1.24zM1034.25 249.52h1.24v160.68h-1.24zM1037.97 249.52h1.24v160.68h-1.24zM1041.69 249.52h1.24v160.68h-1.24zM1046.65 249.52h1.24v160.68h-1.24zM1051.61 249.52h1.24v160.68h-1.24zM1056.57 246.43h1.24v163.77h-1.24zM1061.53 246.43h1.24v163.77h-1.24zM1064.01 243.34h1.24v166.86h-1.24zM1067.73 243.34h1.24v166.86h-1.24zM1097.50 237.16h1.24v173.04h-1.24zM1112.39 234.07h1.24v176.13h-1.24zM1116.11 234.07h1.24v176.13h-1.24zM1118.59 234.07h1.24v176.13h-1.24zM1123.55 234.07h1.24v176.13h-1.24zM1126.03 234.07h1.24v176.13h-1.24zM1130.99 234.07h1.24v176.13h-1.24zM1133.47 234.07h1.24v176.13h-1.24zM1135.95 234.07h1.24v176.13h-1.24zM1145.87 382.39h1.24v27.81h-1.24zM1150.83 382.39h1.24v27.81h-1.24zM1160.76 382.39h1.24v27.81h-1.24zM1163.24 382.39h1.24v27.81h-1.24zM1168.20 382.39h1.24v27.81h-1.24zM1170.68 382.39h1.24v27.81h-1.24zM1175.64 382.39h1.24v27.81h-1.24zM1179.36 382.39h1.24v27.81h-1.24zM1186.80 382.39h1.24v27.81h-1.24zM1190.52 382.39h1.24v27.81h-1.24zM1194.25 382.39h1.24v27.81h-1.24zM1197.97 382.39h1.24v27.81h-1.24zM1209.13 382.39h1.24v27.81h-1.24zM1212.85 382.39h1.24v27.81h-1.24zM1216.57 382.39h1.24v27.81h-1.24zM1222.77 382.39h1.24v27.81h-1.24zM1225.25 382.39h1.24v27.81h-1.24zM1227.73 382.39h1.24v27.81h-1.24zM1230.21 382.39h1.24v27.81h-1.24zM1232.69 382.39h1.24v27.81h-1.24zM1235.18 382.39h1.24v27.81h-1.24zM1242.62 382.39h1.24v27.81h-1.24zM1245.10 382.39h1.24v27.81h-1.24zM1250.06 382.39h1.24v27.81h-1.24zM1257.50 382.39h1.24v27.81h-1.24zM1261.22 382.39h1.24v27.81h-1.24zM1264.94 382.39h1.24v27.81h-1.24zM1268.66 224.80h1.24v185.40h-1.24zM1268.66 137.51h1.24v82.29h-1.24zM1272.38 224.80h1.24v185.40h-1.24zM1272.38 132.59h1.24v87.21h-1.24zM1276.11 224.80h1.24v185.40h-1.24zM1276.11 133.78h1.24v86.02h-1.24zM1279.83 224.80h1.24v185.40h-1.24zM1279.83 136.76h1.24v83.04h-1.24zM1283.55 224.80h1.24v185.40h-1.24zM1283.55 140.39h1.24v79.41h-1.24zM1287.27 224.80h1.24v185.40h-1.24zM1287.27 136.47h1.24v83.33h-1.24zM1294.71 224.80h1.24v185.40h-1.24zM1294.71 136.36h1.24v83.44h-1.24zM1314.55 224.80h1.24v185.40h-1.24zM1314.55 134.92h1.24v84.88h-1.24zM1319.52 224.80h1.24v185.40h-1.24zM1319.52 132.82h1.24v86.98h-1.24zM1324.48 224.80h1.24v185.40h-1.24zM1324.48 133.07h1.24v86.73h-1.24zM1329.44 224.80h1.24v185.40h-1.24zM1329.44 134.89h1.24v84.91h-1.24zM1334.40 224.80h1.24v185.40h-1.24zM1334.40 142.46h1.24v77.34h-1.24zM1336.88 224.80h1.24v185.40h-1.24zM1336.88 139.94h1.24v79.86h-1.24zM1343.08 224.80h1.24v185.40h-1.24zM1343.08 134.40h1.24v85.40h-1.24zM1350.52 224.80h1.24v185.40h-1.24zM1350.52 130.18h1.24v89.62h-1.24zM1354.24 224.80h1.24v185.40h-1.24zM1354.24 140.28h1.24v79.52h-1.24zM1361.69 224.80h1.24v185.40h-1.24zM1361.69 132.86h1.24v86.94h-1.24zM1369.13 224.80h1.24v185.40h-1.24zM1369.13 135.87h1.24v83.93h-1.24zM1376.57 224.80h1.24v185.40h-1.24zM1376.57 128.58h1.24v91.22h-1.24zM1380.29 224.80h1.24v185.40h-1.24zM1380.29 134.11h1.24v85.69h-1.24zM1387.73 224.80h1.24v185.40h-1.24zM1387.73 136.28h1.24v83.52h-1.24zM1398.89 382.39h1.24v27.81h-1.24zM1403.86 382.39h1.24v27.81h-1.24zM1413.78 382.39h1.24v27.81h-1.24zM1421.22 382.39h1.24v27.81h-1.24zM1424.94 385.48h1.24v24.72h-1.24zM1432.38 382.39h1.24v27.81h-1.24zM1439.82 382.39h1.24v27.81h-1.24zM1441.07 382.39h1.24v27.81h-1.24zM1443.55 382.39h1.24v27.81h-1.24zM1446.03 382.39h1.24v27.81h-1.24zM1450.99 382.39h1.24v27.81h-1.24zM1460.91 382.39h1.24v27.81h-1.24zM1465.87 382.39h1.24v27.81h-1.24zM1470.83 382.39h1.24v27.81h-1.24zM1473.31 382.39h1.24v27.81h-1.24zM1475.79 382.39h1.24v27.81h-1.24zM1478.27 382.39h1.24v27.81h-1.24zM1480.75 382.39h1.24v27.81h-1.24zM1483.24 382.39h1.24v27.81h-1.24zM1485.72 382.39h1.24v27.81h-1.24zM1488.20 379.30h1.24v30.90h-1.24zM1491.92 382.39h1.24v27.81h-1.24zM1495.64 382.39h1.24v27.81h-1.24zM1499.36 382.39h1.24v27.81h-1.24zM1503.08 382.39h1.24v27.81h-1.24zM1506.80 382.39h1.24v27.81h-1.24zM1510.52 382.39h1.24v27.81h-1.24zM1517.96 283.51h1.24v126.69h-1.24zM1522.92 280.42h1.24v129.78h-1.24zM1527.89 283.51h1.24v126.69h-1.24zM1566.34 283.51h1.24v126.69h-1.24zM1570.06 283.51h1.24v126.69h-1.24zM1572.54 280.42h1.24v129.78h-1.24zM1575.02 283.51h1.24v126.69h-1.24zM1577.50 283.51h1.24v126.69h-1.24zM1579.98 283.51h1.24v126.69h-1.24zM1582.46 283.51h1.24v126.69h-1.24zM1592.38 283.51h1.24v126.69h-1.24zM1597.34 283.51h1.24v126.69h-1.24zM1603.54 283.51h1.24v126.69h-1.24zM1607.27 280.42h1.24v129.78h-1.24zM1610.99 283.51h1.24v126.69h-1.24zM1614.71 280.42h1.24v129.78h-1.24zM1622.15 283.51h1.24v126.69h-1.24zM1627.11 283.51h1.24v126.69h-1.24zM1637.03 283.51h1.24v126.69h-1.24zM1639.51 382.39h1.24v27.81h-1.24zM1646.95 382.39h1.24v27.81h-1.24zM1649.44 382.39h1.24v27.81h-1.24zM1651.92 385.48h1.24v24.72h-1.24zM1654.40 382.39h1.24v27.81h-1.24zM1659.36 382.39h1.24v27.81h-1.24zM1663.08 382.39h1.24v27.81h-1.24zM1666.80 382.39h1.24v27.81h-1.24zM1670.52 382.39h1.24v27.81h-1.24zM1674.24 382.39h1.24v27.81h-1.24zM1677.96 382.39h1.24v27.81h-1.24zM1685.40 382.39h1.24v27.81h-1.24zM1689.12 382.39h1.24v27.81h-1.24zM1704.01 382.39h1.24v27.81h-1.24zM1707.73 382.39h1.24v27.81h-1.24zM1711.45 382.39h1.24v27.81h-1.24zM1718.89 385.48h1.24v24.72h-1.24zM1722.61 382.39h1.24v27.81h-1.24zM1726.33 382.39h1.24v27.81h-1.24zM1730.05 382.39h1.24v27.81h-1.24zM1737.50 382.39h1.24v27.81h-1.24zM1741.22 382.39h1.24v27.81h-1.24zM1766.02 286.60h1.24v123.60h-1.24zM1789.59 283.51h1.24v126.69h-1.24zM1804.47 283.51h1.24v126.69h-1.24zM1815.64 283.51h1.24v126.69h-1.24zM1823.08 283.51h1.24v126.69h-1.24zM1826.80 283.51h1.24v126.69h-1.24zM1830.52 283.51h1.24v126.69h-1.24zM1837.96 283.51h1.24v126.69h-1.24zM1840.44 283.51h1.24v126.69h-1.24zM1845.40 283.51h1.24v126.69h-1.24zM1850.36 283.51h1.24v126.69h-1.24zM1855.33 283.51h1.24v126.69h-1.24zM1860.29 283.51h1.24v126.69h-1.24zM1865.25 283.51h1.24v126.69h-1.24zM1871.45 283.51h1.24v126.69h-1.24zM1875.17 283.51h1.24v126.69h-1.24zM1880.13 283.51h1.24v126.69h-1.24zM1885.09 283.51h0.81v126.69h-0.81z"/>
<path fill="#e8101c" d="M758.52 381.49h2.0v1.8h-2.0zM759.76 381.49h2.0v1.8h-2.0zM761.00 381.49h2.0v1.8h-2.0zM762.24 378.40h2.0v1.8h-2.0zM763.48 378.40h2.0v1.8h-2.0zM764.72 381.49h2.0v1.8h-2.0zM765.96 381.49h2.0v1.8h-2.0zM767.20 381.49h2.0v1.8h-2.0zM768.44 378.40h2.0v1.8h-2.0zM769.68 381.49h2.0v1.8h-2.0zM770.92 282.61h2.0v1.8h-2.0zM772.16 298.06h2.0v1.8h-2.0zM773.40 356.77h2.0v1.8h-2.0zM774.64 279.52h2.0v1.8h-2.0zM775.88 279.52h2.0v1.8h-2.0zM777.12 279.52h2.0v1.8h-2.0zM778.36 279.52h2.0v1.8h-2.0zM779.61 279.52h2.0v1.8h-2.0zM780.85 273.34h2.0v1.8h-2.0zM782.09 273.34h2.0v1.8h-2.0zM783.33 273.34h2.0v1.8h-2.0zM784.57 273.34h2.0v1.8h-2.0zM785.81 273.34h2.0v1.8h-2.0zM787.05 270.25h2.0v1.8h-2.0zM788.29 270.25h2.0v1.8h-2.0zM789.53 270.25h2.0v1.8h-2.0zM790.77 270.25h2.0v1.8h-2.0zM792.01 270.25h2.0v1.8h-2.0zM793.25 270.25h2.0v1.8h-2.0zM794.49 270.25h2.0v1.8h-2.0zM795.73 267.16h2.0v1.8h-2.0zM796.97 267.16h2.0v1.8h-2.0zM798.21 267.16h2.0v1.8h-2.0zM799.45 267.16h2.0v1.8h-2.0zM800.69 267.16h2.0v1.8h-2.0zM801.93 267.16h2.0v1.8h-2.0zM803.17 267.16h2.0v1.8h-2.0zM804.41 267.16h2.0v1.8h-2.0zM805.65 267.16h2.0v1.8h-2.0zM806.89 267.16h2.0v1.8h-2.0zM808.13 264.07h2.0v1.8h-2.0zM809.37 264.07h2.0v1.8h-2.0zM810.61 264.07h2.0v1.8h-2.0zM811.85 264.07h2.0v1.8h-2.0zM813.09 264.07h2.0v1.8h-2.0zM814.33 264.07h2.0v1.8h-2.0zM815.57 260.98h2.0v1.8h-2.0zM816.81 260.98h2.0v1.8h-2.0zM818.05 260.98h2.0v1.8h-2.0zM819.29 260.98h2.0v1.8h-2.0zM820.54 260.98h2.0v1.8h-2.0zM821.78 260.98h2.0v1.8h-2.0zM823.02 260.98h2.0v1.8h-2.0zM824.26 260.98h2.0v1.8h-2.0zM825.50 257.89h2.0v1.8h-2.0zM826.74 257.89h2.0v1.8h-2.0zM827.98 257.89h2.0v1.8h-2.0zM829.22 257.89h2.0v1.8h-2.0zM830.46 257.89h2.0v1.8h-2.0zM831.70 257.89h2.0v1.8h-2.0zM832.94 257.89h2.0v1.8h-2.0zM834.18 257.89h2.0v1.8h-2.0zM835.42 254.80h2.0v1.8h-2.0zM836.66 254.80h2.0v1.8h-2.0zM837.90 254.80h2.0v1.8h-2.0zM839.14 254.80h2.0v1.8h-2.0zM840.38 254.80h2.0v1.8h-2.0zM841.62 254.80h2.0v1.8h-2.0zM842.86 254.80h2.0v1.8h-2.0zM844.10 254.80h2.0v1.8h-2.0zM845.34 251.71h2.0v1.8h-2.0zM846.58 251.71h2.0v1.8h-2.0zM847.82 251.71h2.0v1.8h-2.0zM849.06 251.71h2.0v1.8h-2.0zM850.30 251.71h2.0v1.8h-2.0zM851.54 251.71h2.0v1.8h-2.0zM852.78 251.71h2.0v1.8h-2.0zM854.02 251.71h2.0v1.8h-2.0zM855.26 251.71h2.0v1.8h-2.0zM856.50 251.71h2.0v1.8h-2.0zM857.74 251.71h2.0v1.8h-2.0zM858.98 251.71h2.0v1.8h-2.0zM860.22 251.71h2.0v1.8h-2.0zM861.47 251.71h2.0v1.8h-2.0zM862.71 248.62h2.0v1.8h-2.0zM863.95 248.62h2.0v1.8h-2.0zM865.19 248.62h2.0v1.8h-2.0zM866.43 248.62h2.0v1.8h-2.0zM867.67 248.62h2.0v1.8h-2.0zM868.91 248.62h2.0v1.8h-2.0zM870.15 248.62h2.0v1.8h-2.0zM871.39 248.62h2.0v1.8h-2.0zM872.63 248.62h2.0v1.8h-2.0zM873.87 248.62h2.0v1.8h-2.0zM875.11 248.62h2.0v1.8h-2.0zM876.35 248.62h2.0v1.8h-2.0zM877.59 248.62h2.0v1.8h-2.0zM878.83 248.62h2.0v1.8h-2.0zM880.07 248.62h2.0v1.8h-2.0zM881.31 248.62h2.0v1.8h-2.0zM882.55 248.62h2.0v1.8h-2.0zM883.79 248.62h2.0v1.8h-2.0zM885.03 248.62h2.0v1.8h-2.0zM886.27 248.62h2.0v1.8h-2.0zM887.51 248.62h2.0v1.8h-2.0zM888.75 248.62h2.0v1.8h-2.0zM889.99 248.62h2.0v1.8h-2.0zM891.23 248.62h2.0v1.8h-2.0zM892.47 248.62h2.0v1.8h-2.0zM893.71 248.62h2.0v1.8h-2.0zM894.95 381.49h2.0v1.8h-2.0zM896.19 381.49h2.0v1.8h-2.0zM897.43 381.49h2.0v1.8h-2.0zM898.67 381.49h2.0v1.8h-2.0zM899.91 381.49h2.0v1.8h-2.0zM901.15 381.49h2.0v1.8h-2.0zM902.39 381.49h2.0v1.8h-2.0zM903.64 381.49h2.0v1.8h-2.0zM904.88 381.49h2.0v1.8h-2.0zM906.12 381.49h2.0v1.8h-2.0zM907.36 381.49h2.0v1.8h-2.0zM908.60 381.49h2.0v1.8h-2.0zM909.84 381.49h2.0v1.8h-2.0zM911.08 381.49h2.0v1.8h-2.0zM912.32 381.49h2.0v1.8h-2.0zM913.56 381.49h2.0v1.8h-2.0zM914.80 381.49h2.0v1.8h-2.0zM916.04 381.49h2.0v1.8h-2.0zM917.28 381.49h2.0v1.8h-2.0zM918.52 381.49h2.0v1.8h-2.0zM919.76 381.49h2.0v1.8h-2.0zM921.00 381.49h2.0v1.8h-2.0zM922.24 381.49h2.0v1.8h-2.0zM923.48 381.49h2.0v1.8h-2.0zM924.72 378.40h2.0v1.8h-2.0zM925.96 381.49h2.0v1.8h-2.0zM927.20 381.49h2.0v1.8h-2.0zM928.44 381.49h2.0v1.8h-2.0zM929.68 381.49h2.0v1.8h-2.0zM930.92 381.49h2.0v1.8h-2.0zM932.16 381.49h2.0v1.8h-2.0zM933.40 381.49h2.0v1.8h-2.0zM934.64 381.49h2.0v1.8h-2.0zM935.88 381.49h2.0v1.8h-2.0zM937.12 381.49h2.0v1.8h-2.0zM938.36 381.49h2.0v1.8h-2.0zM939.60 381.49h2.0v1.8h-2.0zM940.84 381.49h2.0v1.8h-2.0zM942.08 381.49h2.0v1.8h-2.0zM943.32 384.58h2.0v1.8h-2.0zM944.57 381.49h2.0v1.8h-2.0zM945.81 381.49h2.0v1.8h-2.0zM947.05 381.49h2.0v1.8h-2.0zM948.29 381.49h2.0v1.8h-2.0zM949.53 381.49h2.0v1.8h-2.0zM950.77 381.49h2.0v1.8h-2.0zM952.01 381.49h2.0v1.8h-2.0zM953.25 384.58h2.0v1.8h-2.0zM954.49 381.49h2.0v1.8h-2.0zM955.73 381.49h2.0v1.8h-2.0zM956.97 381.49h2.0v1.8h-2.0zM958.21 381.49h2.0v1.8h-2.0zM959.45 381.49h2.0v1.8h-2.0zM960.69 381.49h2.0v1.8h-2.0zM961.93 381.49h2.0v1.8h-2.0zM963.17 384.58h2.0v1.8h-2.0zM964.41 381.49h2.0v1.8h-2.0zM965.65 381.49h2.0v1.8h-2.0zM966.89 381.49h2.0v1.8h-2.0zM968.13 381.49h2.0v1.8h-2.0zM969.37 378.40h2.0v1.8h-2.0zM970.61 381.49h2.0v1.8h-2.0zM971.85 381.49h2.0v1.8h-2.0zM973.09 381.49h2.0v1.8h-2.0zM974.33 381.49h2.0v1.8h-2.0zM975.57 381.49h2.0v1.8h-2.0zM976.81 381.49h2.0v1.8h-2.0zM978.05 381.49h2.0v1.8h-2.0zM979.29 378.40h2.0v1.8h-2.0zM980.53 381.49h2.0v1.8h-2.0zM981.77 381.49h2.0v1.8h-2.0zM983.01 381.49h2.0v1.8h-2.0zM984.25 381.49h2.0v1.8h-2.0zM985.50 381.49h2.0v1.8h-2.0zM986.74 381.49h2.0v1.8h-2.0zM987.98 381.49h2.0v1.8h-2.0zM989.22 381.49h2.0v1.8h-2.0zM990.46 381.49h2.0v1.8h-2.0zM991.70 381.49h2.0v1.8h-2.0zM992.94 381.49h2.0v1.8h-2.0zM994.18 381.49h2.0v1.8h-2.0zM995.42 381.49h2.0v1.8h-2.0zM996.66 378.40h2.0v1.8h-2.0zM997.90 381.49h2.0v1.8h-2.0zM999.14 381.49h2.0v1.8h-2.0zM1000.38 381.49h2.0v1.8h-2.0zM1001.62 381.49h2.0v1.8h-2.0zM1002.86 381.49h2.0v1.8h-2.0zM1004.10 381.49h2.0v1.8h-2.0zM1005.34 381.49h2.0v1.8h-2.0zM1006.58 381.49h2.0v1.8h-2.0zM1007.82 381.49h2.0v1.8h-2.0zM1009.06 381.49h2.0v1.8h-2.0zM1010.30 381.49h2.0v1.8h-2.0zM1011.54 378.40h2.0v1.8h-2.0zM1012.78 381.49h2.0v1.8h-2.0zM1014.02 381.49h2.0v1.8h-2.0zM1015.26 381.49h2.0v1.8h-2.0zM1016.50 381.49h2.0v1.8h-2.0zM1017.74 381.49h2.0v1.8h-2.0zM1018.98 264.07h2.0v1.8h-2.0zM1020.22 264.07h2.0v1.8h-2.0zM1021.46 260.98h2.0v1.8h-2.0zM1022.70 260.98h2.0v1.8h-2.0zM1023.94 257.89h2.0v1.8h-2.0zM1025.18 257.89h2.0v1.8h-2.0zM1026.42 257.89h2.0v1.8h-2.0zM1027.67 251.71h2.0v1.8h-2.0zM1028.91 251.71h2.0v1.8h-2.0zM1030.15 251.71h2.0v1.8h-2.0zM1031.39 251.71h2.0v1.8h-2.0zM1032.63 251.71h2.0v1.8h-2.0zM1033.87 248.62h2.0v1.8h-2.0zM1035.11 248.62h2.0v1.8h-2.0zM1036.35 248.62h2.0v1.8h-2.0zM1037.59 248.62h2.0v1.8h-2.0zM1038.83 248.62h2.0v1.8h-2.0zM1040.07 248.62h2.0v1.8h-2.0zM1041.31 248.62h2.0v1.8h-2.0zM1042.55 248.62h2.0v1.8h-2.0zM1043.79 248.62h2.0v1.8h-2.0zM1045.03 248.62h2.0v1.8h-2.0zM1046.27 248.62h2.0v1.8h-2.0zM1047.51 248.62h2.0v1.8h-2.0zM1048.75 248.62h2.0v1.8h-2.0zM1049.99 248.62h2.0v1.8h-2.0zM1051.23 248.62h2.0v1.8h-2.0zM1052.47 248.62h2.0v1.8h-2.0zM1053.71 248.62h2.0v1.8h-2.0zM1054.95 245.53h2.0v1.8h-2.0zM1056.19 245.53h2.0v1.8h-2.0zM1057.43 245.53h2.0v1.8h-2.0zM1058.67 245.53h2.0v1.8h-2.0zM1059.91 245.53h2.0v1.8h-2.0zM1061.15 245.53h2.0v1.8h-2.0zM1062.39 242.44h2.0v1.8h-2.0zM1063.63 242.44h2.0v1.8h-2.0zM1064.87 242.44h2.0v1.8h-2.0zM1066.11 242.44h2.0v1.8h-2.0zM1067.35 242.44h2.0v1.8h-2.0zM1068.60 239.35h2.0v1.8h-2.0zM1069.84 239.35h2.0v1.8h-2.0zM1071.08 239.35h2.0v1.8h-2.0zM1072.32 239.35h2.0v1.8h-2.0zM1073.56 239.35h2.0v1.8h-2.0zM1074.80 239.35h2.0v1.8h-2.0zM1076.04 239.35h2.0v1.8h-2.0zM1077.28 239.35h2.0v1.8h-2.0zM1078.52 239.35h2.0v1.8h-2.0zM1079.76 239.35h2.0v1.8h-2.0zM1081.00 239.35h2.0v1.8h-2.0zM1082.24 239.35h2.0v1.8h-2.0zM1083.48 239.35h2.0v1.8h-2.0zM1084.72 239.35h2.0v1.8h-2.0zM1085.96 239.35h2.0v1.8h-2.0zM1087.20 239.35h2.0v1.8h-2.0zM1088.44 239.35h2.0v1.8h-2.0zM1089.68 239.35h2.0v1.8h-2.0zM1090.92 239.35h2.0v1.8h-2.0zM1092.16 239.35h2.0v1.8h-2.0zM1093.40 239.35h2.0v1.8h-2.0zM1094.64 236.26h2.0v1.8h-2.0zM1095.88 236.26h2.0v1.8h-2.0zM1097.12 236.26h2.0v1.8h-2.0zM1098.36 236.26h2.0v1.8h-2.0zM1099.60 236.26h2.0v1.8h-2.0zM1100.84 236.26h2.0v1.8h-2.0zM1102.08 236.26h2.0v1.8h-2.0zM1103.32 236.26h2.0v1.8h-2.0zM1104.56 236.26h2.0v1.8h-2.0zM1105.80 236.26h2.0v1.8h-2.0zM1107.04 236.26h2.0v1.8h-2.0zM1108.28 236.26h2.0v1.8h-2.0zM1109.53 236.26h2.0v1.8h-2.0zM1110.77 236.26h2.0v1.8h-2.0zM1112.01 233.17h2.0v1.8h-2.0zM1113.25 233.17h2.0v1.8h-2.0zM1114.49 233.17h2.0v1.8h-2.0zM1115.73 233.17h2.0v1.8h-2.0zM1116.97 233.17h2.0v1.8h-2.0zM1118.21 233.17h2.0v1.8h-2.0zM1119.45 233.17h2.0v1.8h-2.0zM1120.69 233.17h2.0v1.8h-2.0zM1121.93 233.17h2.0v1.8h-2.0zM1123.17 233.17h2.0v1.8h-2.0zM1124.41 233.17h2.0v1.8h-2.0zM1125.65 233.17h2.0v1.8h-2.0zM1126.89 233.17h2.0v1.8h-2.0zM1128.13 233.17h2.0v1.8h-2.0zM1129.37 233.17h2.0v1.8h-2.0zM1130.61 233.17h2.0v1.8h-2.0zM1131.85 233.17h2.0v1.8h-2.0zM1133.09 233.17h2.0v1.8h-2.0zM1134.33 233.17h2.0v1.8h-2.0zM1135.57 233.17h2.0v1.8h-2.0zM1136.81 233.17h2.0v1.8h-2.0zM1138.05 233.17h2.0v1.8h-2.0zM1139.29 233.17h2.0v1.8h-2.0zM1140.53 233.17h2.0v1.8h-2.0zM1141.77 233.17h2.0v1.8h-2.0zM1143.01 381.49h2.0v1.8h-2.0zM1144.25 381.49h2.0v1.8h-2.0zM1145.49 381.49h2.0v1.8h-2.0zM1146.73 381.49h2.0v1.8h-2.0zM1147.97 381.49h2.0v1.8h-2.0zM1149.21 381.49h2.0v1.8h-2.0zM1150.45 381.49h2.0v1.8h-2.0zM1151.70 381.49h2.0v1.8h-2.0zM1152.94 381.49h2.0v1.8h-2.0zM1154.18 381.49h2.0v1.8h-2.0zM1155.42 381.49h2.0v1.8h-2.0zM1156.66 384.58h2.0v1.8h-2.0zM1157.90 381.49h2.0v1.8h-2.0zM1159.14 384.58h2.0v1.8h-2.0zM1160.38 381.49h2.0v1.8h-2.0zM1161.62 381.49h2.0v1.8h-2.0zM1162.86 381.49h2.0v1.8h-2.0zM1164.10 381.49h2.0v1.8h-2.0zM1165.34 381.49h2.0v1.8h-2.0zM1166.58 381.49h2.0v1.8h-2.0zM1167.82 381.49h2.0v1.8h-2.0zM1169.06 381.49h2.0v1.8h-2.0zM1170.30 381.49h2.0v1.8h-2.0zM1171.54 381.49h2.0v1.8h-2.0zM1172.78 381.49h2.0v1.8h-2.0zM1174.02 381.49h2.0v1.8h-2.0zM1175.26 381.49h2.0v1.8h-2.0zM1176.50 378.40h2.0v1.8h-2.0zM1177.74 381.49h2.0v1.8h-2.0zM1178.98 381.49h2.0v1.8h-2.0zM1180.22 381.49h2.0v1.8h-2.0zM1181.46 381.49h2.0v1.8h-2.0zM1182.70 381.49h2.0v1.8h-2.0zM1183.94 381.49h2.0v1.8h-2.0zM1185.18 381.49h2.0v1.8h-2.0zM1186.42 381.49h2.0v1.8h-2.0zM1187.66 381.49h2.0v1.8h-2.0zM1188.90 381.49h2.0v1.8h-2.0zM1190.14 381.49h2.0v1.8h-2.0zM1191.38 381.49h2.0v1.8h-2.0zM1192.63 381.49h2.0v1.8h-2.0zM1193.87 381.49h2.0v1.8h-2.0zM1195.11 381.49h2.0v1.8h-2.0zM1196.35 381.49h2.0v1.8h-2.0zM1197.59 381.49h2.0v1.8h-2.0zM1198.83 381.49h2.0v1.8h-2.0zM1200.07 381.49h2.0v1.8h-2.0zM1201.31 381.49h2.0v1.8h-2.0zM1202.55 381.49h2.0v1.8h-2.0zM1203.79 381.49h2.0v1.8h-2.0zM1205.03 381.49h2.0v1.8h-2.0zM1206.27 381.49h2.0v1.8h-2.0zM1207.51 381.49h2.0v1.8h-2.0zM1208.75 381.49h2.0v1.8h-2.0zM1209.99 378.40h2.0v1.8h-2.0zM1211.23 381.49h2.0v1.8h-2.0zM1212.47 381.49h2.0v1.8h-2.0zM1213.71 381.49h2.0v1.8h-2.0zM1214.95 381.49h2.0v1.8h-2.0zM1216.19 381.49h2.0v1.8h-2.0zM1217.43 381.49h2.0v1.8h-2.0zM1218.67 381.49h2.0v1.8h-2.0zM1219.91 381.49h2.0v1.8h-2.0zM1221.15 381.49h2.0v1.8h-2.0zM1222.39 381.49h2.0v1.8h-2.0zM1223.63 381.49h2.0v1.8h-2.0zM1224.87 381.49h2.0v1.8h-2.0zM1226.11 381.49h2.0v1.8h-2.0zM1227.35 381.49h2.0v1.8h-2.0zM1228.59 381.49h2.0v1.8h-2.0zM1229.83 381.49h2.0v1.8h-2.0zM1231.07 381.49h2.0v1.8h-2.0zM1232.31 381.49h2.0v1.8h-2.0zM1233.56 381.49h2.0v1.8h-2.0zM1234.80 381.49h2.0v1.8h-2.0zM1236.04 381.49h2.0v1.8h-2.0zM1237.28 381.49h2.0v1.8h-2.0zM1238.52 381.49h2.0v1.8h-2.0zM1239.76 381.49h2.0v1.8h-2.0zM1241.00 381.49h2.0v1.8h-2.0zM1242.24 381.49h2.0v1.8h-2.0zM1243.48 381.49h2.0v1.8h-2.0zM1244.72 381.49h2.0v1.8h-2.0zM1245.96 381.49h2.0v1.8h-2.0zM1247.20 381.49h2.0v1.8h-2.0zM1248.44 381.49h2.0v1.8h-2.0zM1249.68 381.49h2.0v1.8h-2.0zM1250.92 381.49h2.0v1.8h-2.0zM1252.16 381.49h2.0v1.8h-2.0zM1253.40 384.58h2.0v1.8h-2.0zM1254.64 381.49h2.0v1.8h-2.0zM1255.88 381.49h2.0v1.8h-2.0zM1257.12 381.49h2.0v1.8h-2.0zM1258.36 381.49h2.0v1.8h-2.0zM1259.60 381.49h2.0v1.8h-2.0zM1260.84 381.49h2.0v1.8h-2.0zM1262.08 381.49h2.0v1.8h-2.0zM1263.32 381.49h2.0v1.8h-2.0zM1264.56 381.49h2.0v1.8h-2.0zM1265.80 381.49h2.0v1.8h-2.0zM1267.04 133.05h2.0v1.8h-2.0zM1268.28 136.61h2.0v1.8h-2.0zM1269.52 134.50h2.0v1.8h-2.0zM1270.76 139.21h2.0v1.8h-2.0zM1272.00 131.69h2.0v1.8h-2.0zM1273.24 131.68h2.0v1.8h-2.0zM1274.48 136.28h2.0v1.8h-2.0zM1275.73 132.88h2.0v1.8h-2.0zM1276.97 135.85h2.0v1.8h-2.0zM1278.21 135.73h2.0v1.8h-2.0zM1279.45 135.86h2.0v1.8h-2.0zM1280.69 133.25h2.0v1.8h-2.0zM1281.93 138.98h2.0v1.8h-2.0zM1283.17 139.49h2.0v1.8h-2.0zM1284.41 135.28h2.0v1.8h-2.0zM1285.65 136.81h2.0v1.8h-2.0zM1286.89 135.57h2.0v1.8h-2.0zM1288.13 137.65h2.0v1.8h-2.0zM1289.37 135.46h2.0v1.8h-2.0zM1290.61 135.90h2.0v1.8h-2.0zM1291.85 135.95h2.0v1.8h-2.0zM1293.09 134.47h2.0v1.8h-2.0zM1294.33 135.46h2.0v1.8h-2.0zM1295.57 138.84h2.0v1.8h-2.0zM1296.81 135.45h2.0v1.8h-2.0zM1298.05 137.81h2.0v1.8h-2.0zM1299.29 135.02h2.0v1.8h-2.0zM1300.53 140.58h2.0v1.8h-2.0zM1301.77 134.83h2.0v1.8h-2.0zM1303.01 137.73h2.0v1.8h-2.0zM1304.25 136.12h2.0v1.8h-2.0zM1305.49 139.36h2.0v1.8h-2.0zM1306.73 136.16h2.0v1.8h-2.0zM1307.97 133.63h2.0v1.8h-2.0zM1309.21 132.62h2.0v1.8h-2.0zM1310.45 134.66h2.0v1.8h-2.0zM1311.69 139.90h2.0v1.8h-2.0zM1312.93 150.57h2.0v1.8h-2.0zM1314.17 134.02h2.0v1.8h-2.0zM1315.41 138.95h2.0v1.8h-2.0zM1316.66 134.28h2.0v1.8h-2.0zM1317.90 138.54h2.0v1.8h-2.0zM1319.14 131.92h2.0v1.8h-2.0zM1320.38 148.55h2.0v1.8h-2.0zM1321.62 139.66h2.0v1.8h-2.0zM1322.86 139.01h2.0v1.8h-2.0zM1324.10 132.17h2.0v1.8h-2.0zM1325.34 136.38h2.0v1.8h-2.0zM1326.58 131.00h2.0v1.8h-2.0zM1327.82 134.88h2.0v1.8h-2.0zM1329.06 133.99h2.0v1.8h-2.0zM1330.30 138.26h2.0v1.8h-2.0zM1331.54 135.66h2.0v1.8h-2.0zM1332.78 138.11h2.0v1.8h-2.0zM1334.02 141.56h2.0v1.8h-2.0zM1335.26 137.93h2.0v1.8h-2.0zM1336.50 139.04h2.0v1.8h-2.0zM1337.74 133.81h2.0v1.8h-2.0zM1338.98 131.37h2.0v1.8h-2.0zM1340.22 136.67h2.0v1.8h-2.0zM1341.46 137.04h2.0v1.8h-2.0zM1342.70 133.50h2.0v1.8h-2.0zM1343.94 135.75h2.0v1.8h-2.0zM1345.18 136.83h2.0v1.8h-2.0zM1346.42 136.92h2.0v1.8h-2.0zM1347.66 150.90h2.0v1.8h-2.0zM1348.90 133.30h2.0v1.8h-2.0zM1350.14 129.28h2.0v1.8h-2.0zM1351.38 134.25h2.0v1.8h-2.0zM1352.62 142.71h2.0v1.8h-2.0zM1353.86 139.38h2.0v1.8h-2.0zM1355.10 139.45h2.0v1.8h-2.0zM1356.34 134.84h2.0v1.8h-2.0zM1357.59 131.36h2.0v1.8h-2.0zM1358.83 149.00h2.0v1.8h-2.0zM1360.07 134.75h2.0v1.8h-2.0zM1361.31 131.96h2.0v1.8h-2.0zM1362.55 138.33h2.0v1.8h-2.0zM1363.79 135.02h2.0v1.8h-2.0zM1365.03 139.92h2.0v1.8h-2.0zM1366.27 138.40h2.0v1.8h-2.0zM1367.51 134.63h2.0v1.8h-2.0zM1368.75 134.97h2.0v1.8h-2.0zM1369.99 151.05h2.0v1.8h-2.0zM1371.23 131.69h2.0v1.8h-2.0zM1372.47 132.01h2.0v1.8h-2.0zM1373.71 136.45h2.0v1.8h-2.0zM1374.95 135.77h2.0v1.8h-2.0zM1376.19 127.68h2.0v1.8h-2.0zM1377.43 139.35h2.0v1.8h-2.0zM1378.67 132.28h2.0v1.8h-2.0zM1379.91 133.21h2.0v1.8h-2.0zM1381.15 135.64h2.0v1.8h-2.0zM1382.39 135.91h2.0v1.8h-2.0zM1383.63 134.61h2.0v1.8h-2.0zM1384.87 136.23h2.0v1.8h-2.0zM1386.11 130.91h2.0v1.8h-2.0zM1387.35 135.38h2.0v1.8h-2.0zM1388.59 135.55h2.0v1.8h-2.0zM1389.83 135.00h2.0v1.8h-2.0zM1391.07 381.49h2.0v1.8h-2.0zM1392.31 381.49h2.0v1.8h-2.0zM1393.55 381.49h2.0v1.8h-2.0zM1394.79 381.49h2.0v1.8h-2.0zM1396.03 381.49h2.0v1.8h-2.0zM1397.27 381.49h2.0v1.8h-2.0zM1398.51 381.49h2.0v1.8h-2.0zM1399.76 381.49h2.0v1.8h-2.0zM1401.00 381.49h2.0v1.8h-2.0zM1402.24 381.49h2.0v1.8h-2.0zM1403.48 381.49h2.0v1.8h-2.0zM1404.72 381.49h2.0v1.8h-2.0zM1405.96 381.49h2.0v1.8h-2.0zM1407.20 381.49h2.0v1.8h-2.0zM1408.44 381.49h2.0v1.8h-2.0zM1409.68 381.49h2.0v1.8h-2.0zM1410.92 381.49h2.0v1.8h-2.0zM1412.16 381.49h2.0v1.8h-2.0zM1413.40 381.49h2.0v1.8h-2.0zM1414.64 381.49h2.0v1.8h-2.0zM1415.88 381.49h2.0v1.8h-2.0zM1417.12 381.49h2.0v1.8h-2.0zM1418.36 381.49h2.0v1.8h-2.0zM1419.60 381.49h2.0v1.8h-2.0zM1420.84 381.49h2.0v1.8h-2.0zM1422.08 381.49h2.0v1.8h-2.0zM1423.32 381.49h2.0v1.8h-2.0zM1424.56 384.58h2.0v1.8h-2.0zM1425.80 381.49h2.0v1.8h-2.0zM1427.04 381.49h2.0v1.8h-2.0zM1428.28 381.49h2.0v1.8h-2.0zM1429.52 381.49h2.0v1.8h-2.0zM1430.76 381.49h2.0v1.8h-2.0zM1432.00 381.49h2.0v1.8h-2.0zM1433.24 381.49h2.0v1.8h-2.0zM1434.48 381.49h2.0v1.8h-2.0zM1435.72 381.49h2.0v1.8h-2.0zM1436.96 381.49h2.0v1.8h-2.0zM1438.20 381.49h2.0v1.8h-2.0zM1439.44 381.49h2.0v1.8h-2.0zM1440.69 381.49h2.0v1.8h-2.0zM1441.93 381.49h2.0v1.8h-2.0zM1443.17 381.49h2.0v1.8h-2.0zM1444.41 381.49h2.0v1.8h-2.0zM1445.65 381.49h2.0v1.8h-2.0zM1446.89 381.49h2.0v1.8h-2.0zM1448.13 381.49h2.0v1.8h-2.0zM1449.37 381.49h2.0v1.8h-2.0zM1450.61 381.49h2.0v1.8h-2.0zM1451.85 381.49h2.0v1.8h-2.0zM1453.09 381.49h2.0v1.8h-2.0zM1454.33 381.49h2.0v1.8h-2.0zM1455.57 381.49h2.0v1.8h-2.0zM1456.81 381.49h2.0v1.8h-2.0zM1458.05 381.49h2.0v1.8h-2.0zM1459.29 381.49h2.0v1.8h-2.0zM1460.53 381.49h2.0v1.8h-2.0zM1461.77 381.49h2.0v1.8h-2.0zM1463.01 378.40h2.0v1.8h-2.0zM1464.25 381.49h2.0v1.8h-2.0zM1465.49 381.49h2.0v1.8h-2.0zM1466.73 381.49h2.0v1.8h-2.0zM1467.97 381.49h2.0v1.8h-2.0zM1469.21 381.49h2.0v1.8h-2.0zM1470.45 381.49h2.0v1.8h-2.0zM1471.69 378.40h2.0v1.8h-2.0zM1472.93 381.49h2.0v1.8h-2.0zM1474.17 381.49h2.0v1.8h-2.0zM1475.41 381.49h2.0v1.8h-2.0zM1476.65 381.49h2.0v1.8h-2.0zM1477.89 381.49h2.0v1.8h-2.0zM1479.13 381.49h2.0v1.8h-2.0zM1480.37 381.49h2.0v1.8h-2.0zM1481.62 381.49h2.0v1.8h-2.0zM1482.86 381.49h2.0v1.8h-2.0zM1484.10 381.49h2.0v1.8h-2.0zM1485.34 381.49h2.0v1.8h-2.0zM1486.58 381.49h2.0v1.8h-2.0zM1487.82 378.40h2.0v1.8h-2.0zM1489.06 381.49h2.0v1.8h-2.0zM1490.30 381.49h2.0v1.8h-2.0zM1491.54 381.49h2.0v1.8h-2.0zM1492.78 381.49h2.0v1.8h-2.0zM1494.02 381.49h2.0v1.8h-2.0zM1495.26 381.49h2.0v1.8h-2.0zM1496.50 381.49h2.0v1.8h-2.0zM1497.74 381.49h2.0v1.8h-2.0zM1498.98 381.49h2.0v1.8h-2.0zM1500.22 381.49h2.0v1.8h-2.0zM1501.46 381.49h2.0v1.8h-2.0zM1502.70 381.49h2.0v1.8h-2.0zM1503.94 381.49h2.0v1.8h-2.0zM1505.18 378.40h2.0v1.8h-2.0zM1506.42 381.49h2.0v1.8h-2.0zM1507.66 381.49h2.0v1.8h-2.0zM1508.90 381.49h2.0v1.8h-2.0zM1510.14 381.49h2.0v1.8h-2.0zM1511.38 381.49h2.0v1.8h-2.0zM1512.62 381.49h2.0v1.8h-2.0zM1513.86 381.49h2.0v1.8h-2.0zM1515.10 282.61h2.0v1.8h-2.0zM1516.34 282.61h2.0v1.8h-2.0zM1517.58 282.61h2.0v1.8h-2.0zM1518.82 282.61h2.0v1.8h-2.0zM1520.06 282.61h2.0v1.8h-2.0zM1521.30 282.61h2.0v1.8h-2.0zM1522.54 279.52h2.0v1.8h-2.0zM1523.79 282.61h2.0v1.8h-2.0zM1525.03 282.61h2.0v1.8h-2.0zM1526.27 282.61h2.0v1.8h-2.0zM1527.51 282.61h2.0v1.8h-2.0zM1528.75 282.61h2.0v1.8h-2.0zM1529.99 282.61h2.0v1.8h-2.0zM1531.23 282.61h2.0v1.8h-2.0zM1532.47 282.61h2.0v1.8h-2.0zM1533.71 282.61h2.0v1.8h-2.0zM1534.95 282.61h2.0v1.8h-2.0zM1536.19 282.61h2.0v1.8h-2.0zM1537.43 282.61h2.0v1.8h-2.0zM1538.67 282.61h2.0v1.8h-2.0zM1539.91 282.61h2.0v1.8h-2.0zM1541.15 282.61h2.0v1.8h-2.0zM1542.39 282.61h2.0v1.8h-2.0zM1543.63 279.52h2.0v1.8h-2.0zM1544.87 282.61h2.0v1.8h-2.0zM1546.11 282.61h2.0v1.8h-2.0zM1547.35 282.61h2.0v1.8h-2.0zM1548.59 282.61h2.0v1.8h-2.0zM1549.83 282.61h2.0v1.8h-2.0zM1551.07 282.61h2.0v1.8h-2.0zM1552.31 282.61h2.0v1.8h-2.0zM1553.55 282.61h2.0v1.8h-2.0zM1554.79 282.61h2.0v1.8h-2.0zM1556.03 282.61h2.0v1.8h-2.0zM1557.27 282.61h2.0v1.8h-2.0zM1558.51 282.61h2.0v1.8h-2.0zM1559.75 282.61h2.0v1.8h-2.0zM1560.99 282.61h2.0v1.8h-2.0zM1562.23 279.52h2.0v1.8h-2.0zM1563.47 282.61h2.0v1.8h-2.0zM1564.72 282.61h2.0v1.8h-2.0zM1565.96 282.61h2.0v1.8h-2.0zM1567.20 279.52h2.0v1.8h-2.0zM1568.44 282.61h2.0v1.8h-2.0zM1569.68 282.61h2.0v1.8h-2.0zM1570.92 282.61h2.0v1.8h-2.0zM1572.16 279.52h2.0v1.8h-2.0zM1573.40 282.61h2.0v1.8h-2.0zM1574.64 282.61h2.0v1.8h-2.0zM1575.88 282.61h2.0v1.8h-2.0zM1577.12 282.61h2.0v1.8h-2.0zM1578.36 282.61h2.0v1.8h-2.0zM1579.60 282.61h2.0v1.8h-2.0zM1580.84 282.61h2.0v1.8h-2.0zM1582.08 282.61h2.0v1.8h-2.0zM1583.32 282.61h2.0v1.8h-2.0zM1584.56 282.61h2.0v1.8h-2.0zM1585.80 282.61h2.0v1.8h-2.0zM1587.04 282.61h2.0v1.8h-2.0zM1588.28 282.61h2.0v1.8h-2.0zM1589.52 282.61h2.0v1.8h-2.0zM1590.76 282.61h2.0v1.8h-2.0zM1592.00 282.61h2.0v1.8h-2.0zM1593.24 282.61h2.0v1.8h-2.0zM1594.48 282.61h2.0v1.8h-2.0zM1595.72 282.61h2.0v1.8h-2.0zM1596.96 282.61h2.0v1.8h-2.0zM1598.20 282.61h2.0v1.8h-2.0zM1599.44 282.61h2.0v1.8h-2.0zM1600.68 282.61h2.0v1.8h-2.0zM1601.92 282.61h2.0v1.8h-2.0zM1603.16 282.61h2.0v1.8h-2.0zM1604.40 282.61h2.0v1.8h-2.0zM1605.65 282.61h2.0v1.8h-2.0zM1606.89 279.52h2.0v1.8h-2.0zM1608.13 282.61h2.0v1.8h-2.0zM1609.37 282.61h2.0v1.8h-2.0zM1610.61 282.61h2.0v1.8h-2.0zM1611.85 282.61h2.0v1.8h-2.0zM1613.09 282.61h2.0v1.8h-2.0zM1614.33 279.52h2.0v1.8h-2.0zM1615.57 282.61h2.0v1.8h-2.0zM1616.81 282.61h2.0v1.8h-2.0zM1618.05 282.61h2.0v1.8h-2.0zM1619.29 282.61h2.0v1.8h-2.0zM1620.53 282.61h2.0v1.8h-2.0zM1621.77 282.61h2.0v1.8h-2.0zM1623.01 282.61h2.0v1.8h-2.0zM1624.25 282.61h2.0v1.8h-2.0zM1625.49 282.61h2.0v1.8h-2.0zM1626.73 282.61h2.0v1.8h-2.0zM1627.97 279.52h2.0v1.8h-2.0zM1629.21 282.61h2.0v1.8h-2.0zM1630.45 282.61h2.0v1.8h-2.0zM1631.69 282.61h2.0v1.8h-2.0zM1632.93 282.61h2.0v1.8h-2.0zM1634.17 282.61h2.0v1.8h-2.0zM1635.41 282.61h2.0v1.8h-2.0zM1636.65 282.61h2.0v1.8h-2.0zM1637.89 282.61h2.0v1.8h-2.0zM1639.13 381.49h2.0v1.8h-2.0zM1640.37 381.49h2.0v1.8h-2.0zM1641.61 381.49h2.0v1.8h-2.0zM1642.85 381.49h2.0v1.8h-2.0zM1644.09 381.49h2.0v1.8h-2.0zM1645.33 378.40h2.0v1.8h-2.0zM1646.57 381.49h2.0v1.8h-2.0zM1647.82 381.49h2.0v1.8h-2.0zM1649.06 381.49h2.0v1.8h-2.0zM1650.30 381.49h2.0v1.8h-2.0zM1651.54 384.58h2.0v1.8h-2.0zM1652.78 381.49h2.0v1.8h-2.0zM1654.02 381.49h2.0v1.8h-2.0zM1655.26 381.49h2.0v1.8h-2.0zM1656.50 381.49h2.0v1.8h-2.0zM1657.74 381.49h2.0v1.8h-2.0zM1658.98 381.49h2.0v1.8h-2.0zM1660.22 381.49h2.0v1.8h-2.0zM1661.46 381.49h2.0v1.8h-2.0zM1662.70 381.49h2.0v1.8h-2.0zM1663.94 381.49h2.0v1.8h-2.0zM1665.18 381.49h2.0v1.8h-2.0zM1666.42 381.49h2.0v1.8h-2.0zM1667.66 381.49h2.0v1.8h-2.0zM1668.90 381.49h2.0v1.8h-2.0zM1670.14 381.49h2.0v1.8h-2.0zM1671.38 381.49h2.0v1.8h-2.0zM1672.62 381.49h2.0v1.8h-2.0zM1673.86 381.49h2.0v1.8h-2.0zM1675.10 381.49h2.0v1.8h-2.0zM1676.34 381.49h2.0v1.8h-2.0zM1677.58 381.49h2.0v1.8h-2.0zM1678.82 381.49h2.0v1.8h-2.0zM1680.06 381.49h2.0v1.8h-2.0zM1681.30 381.49h2.0v1.8h-2.0zM1682.54 381.49h2.0v1.8h-2.0zM1683.78 381.49h2.0v1.8h-2.0zM1685.02 381.49h2.0v1.8h-2.0zM1686.26 381.49h2.0v1.8h-2.0zM1687.50 381.49h2.0v1.8h-2.0zM1688.75 381.49h2.0v1.8h-2.0zM1689.99 378.40h2.0v1.8h-2.0zM1691.23 381.49h2.0v1.8h-2.0zM1692.47 381.49h2.0v1.8h-2.0zM1693.71 381.49h2.0v1.8h-2.0zM1694.95 381.49h2.0v1.8h-2.0zM1696.19 381.49h2.0v1.8h-2.0zM1697.43 381.49h2.0v1.8h-2.0zM1698.67 381.49h2.0v1.8h-2.0zM1699.91 381.49h2.0v1.8h-2.0zM1701.15 381.49h2.0v1.8h-2.0zM1702.39 381.49h2.0v1.8h-2.0zM1703.63 381.49h2.0v1.8h-2.0zM1704.87 381.49h2.0v1.8h-2.0zM1706.11 381.49h2.0v1.8h-2.0zM1707.35 381.49h2.0v1.8h-2.0zM1708.59 381.49h2.0v1.8h-2.0zM1709.83 381.49h2.0v1.8h-2.0zM1711.07 381.49h2.0v1.8h-2.0zM1712.31 381.49h2.0v1.8h-2.0zM1713.55 381.49h2.0v1.8h-2.0zM1714.79 381.49h2.0v1.8h-2.0zM1716.03 381.49h2.0v1.8h-2.0zM1717.27 381.49h2.0v1.8h-2.0zM1718.51 384.58h2.0v1.8h-2.0zM1719.75 381.49h2.0v1.8h-2.0zM1720.99 381.49h2.0v1.8h-2.0zM1722.23 381.49h2.0v1.8h-2.0zM1723.47 381.49h2.0v1.8h-2.0zM1724.71 381.49h2.0v1.8h-2.0zM1725.95 381.49h2.0v1.8h-2.0zM1727.19 381.49h2.0v1.8h-2.0zM1728.43 381.49h2.0v1.8h-2.0zM1729.68 381.49h2.0v1.8h-2.0zM1730.92 381.49h2.0v1.8h-2.0zM1732.16 381.49h2.0v1.8h-2.0zM1733.40 381.49h2.0v1.8h-2.0zM1734.64 381.49h2.0v1.8h-2.0zM1735.88 381.49h2.0v1.8h-2.0zM1737.12 381.49h2.0v1.8h-2.0zM1738.36 381.49h2.0v1.8h-2.0zM1739.60 381.49h2.0v1.8h-2.0zM1740.84 381.49h2.0v1.8h-2.0zM1742.08 381.49h2.0v1.8h-2.0zM1743.32 378.40h2.0v1.8h-2.0zM1744.56 381.49h2.0v1.8h-2.0zM1745.80 381.49h2.0v1.8h-2.0zM1747.04 381.49h2.0v1.8h-2.0zM1748.28 381.49h2.0v1.8h-2.0zM1749.52 381.49h2.0v1.8h-2.0zM1750.76 381.49h2.0v1.8h-2.0zM1752.00 381.49h2.0v1.8h-2.0zM1753.24 381.49h2.0v1.8h-2.0zM1754.48 381.49h2.0v1.8h-2.0zM1755.72 381.49h2.0v1.8h-2.0zM1756.96 381.49h2.0v1.8h-2.0zM1758.20 381.49h2.0v1.8h-2.0zM1759.44 381.49h2.0v1.8h-2.0zM1760.68 381.49h2.0v1.8h-2.0zM1761.92 381.49h2.0v1.8h-2.0zM1763.16 285.70h2.0v1.8h-2.0zM1764.40 285.70h2.0v1.8h-2.0zM1765.64 285.70h2.0v1.8h-2.0zM1766.88 285.70h2.0v1.8h-2.0zM1768.12 285.70h2.0v1.8h-2.0zM1769.36 285.70h2.0v1.8h-2.0zM1770.60 285.70h2.0v1.8h-2.0zM1771.85 285.70h2.0v1.8h-2.0zM1773.09 285.70h2.0v1.8h-2.0zM1774.33 285.70h2.0v1.8h-2.0zM1775.57 285.70h2.0v1.8h-2.0zM1776.81 285.70h2.0v1.8h-2.0zM1778.05 282.61h2.0v1.8h-2.0zM1779.29 282.61h2.0v1.8h-2.0zM1780.53 282.61h2.0v1.8h-2.0zM1781.77 282.61h2.0v1.8h-2.0zM1783.01 282.61h2.0v1.8h-2.0zM1784.25 279.52h2.0v1.8h-2.0zM1785.49 279.52h2.0v1.8h-2.0zM1786.73 282.61h2.0v1.8h-2.0zM1787.97 282.61h2.0v1.8h-2.0zM1789.21 282.61h2.0v1.8h-2.0zM1790.45 282.61h2.0v1.8h-2.0zM1791.69 282.61h2.0v1.8h-2.0zM1792.93 282.61h2.0v1.8h-2.0zM1794.17 282.61h2.0v1.8h-2.0zM1795.41 282.61h2.0v1.8h-2.0zM1796.65 282.61h2.0v1.8h-2.0zM1797.89 282.61h2.0v1.8h-2.0zM1799.13 282.61h2.0v1.8h-2.0zM1800.37 282.61h2.0v1.8h-2.0zM1801.61 282.61h2.0v1.8h-2.0zM1802.85 282.61h2.0v1.8h-2.0zM1804.09 282.61h2.0v1.8h-2.0zM1805.33 282.61h2.0v1.8h-2.0zM1806.57 282.61h2.0v1.8h-2.0zM1807.81 282.61h2.0v1.8h-2.0zM1809.05 282.61h2.0v1.8h-2.0zM1810.29 282.61h2.0v1.8h-2.0zM1811.53 282.61h2.0v1.8h-2.0zM1812.78 282.61h2.0v1.8h-2.0zM1814.02 282.61h2.0v1.8h-2.0zM1815.26 282.61h2.0v1.8h-2.0zM1816.50 282.61h2.0v1.8h-2.0zM1817.74 282.61h2.0v1.8h-2.0zM1818.98 282.61h2.0v1.8h-2.0zM1820.22 282.61h2.0v1.8h-2.0zM1821.46 282.61h2.0v1.8h-2.0zM1822.70 282.61h2.0v1.8h-2.0zM1823.94 282.61h2.0v1.8h-2.0zM1825.18 282.61h2.0v1.8h-2.0zM1826.42 282.61h2.0v1.8h-2.0zM1827.66 282.61h2.0v1.8h-2.0zM1828.90 282.61h2.0v1.8h-2.0zM1830.14 282.61h2.0v1.8h-2.0zM1831.38 282.61h2.0v1.8h-2.0zM1832.62 282.61h2.0v1.8h-2.0zM1833.86 282.61h2.0v1.8h-2.0zM1835.10 282.61h2.0v1.8h-2.0zM1836.34 282.61h2.0v1.8h-2.0zM1837.58 282.61h2.0v1.8h-2.0zM1838.82 282.61h2.0v1.8h-2.0zM1840.06 282.61h2.0v1.8h-2.0zM1841.30 282.61h2.0v1.8h-2.0zM1842.54 282.61h2.0v1.8h-2.0zM1843.78 282.61h2.0v1.8h-2.0zM1845.02 282.61h2.0v1.8h-2.0zM1846.26 282.61h2.0v1.8h-2.0zM1847.50 282.61h2.0v1.8h-2.0zM1848.74 282.61h2.0v1.8h-2.0zM1849.98 282.61h2.0v1.8h-2.0zM1851.22 282.61h2.0v1.8h-2.0zM1852.46 279.52h2.0v1.8h-2.0zM1853.71 282.61h2.0v1.8h-2.0zM1854.95 282.61h2.0v1.8h-2.0zM1856.19 282.61h2.0v1.8h-2.0zM1857.43 282.61h2.0v1.8h-2.0zM1858.67 279.52h2.0v1.8h-2.0zM1859.91 282.61h2.0v1.8h-2.0zM1861.15 282.61h2.0v1.8h-2.0zM1862.39 282.61h2.0v1.8h-2.0zM1863.63 282.61h2.0v1.8h-2.0zM1864.87 282.61h2.0v1.8h-2.0zM1866.11 282.61h2.0v1.8h-2.0zM1867.35 282.61h2.0v1.8h-2.0zM1868.59 282.61h2.0v1.8h-2.0zM1869.83 282.61h2.0v1.8h-2.0zM1871.07 282.61h2.0v1.8h-2.0zM1872.31 282.61h2.0v1.8h-2.0zM1873.55 282.61h2.0v1.8h-2.0zM1874.79 282.61h2.0v1.8h-2.0zM1876.03 282.61h2.0v1.8h-2.0zM1877.27 282.61h2.0v1.8h-2.0zM1878.51 282.61h2.0v1.8h-2.0zM1879.75 282.61h2.0v1.8h-2.0zM1880.99 282.61h2.0v1.8h-2.0zM1882.23 282.61h2.0v1.8h-2.0zM1883.47 282.61h2.0v1.8h-2.0zM770.92 279.51h2.0v1.8h-2.0zM774.64 276.42h2.0v1.8h-2.0zM775.88 276.42h2.0v1.8h-2.0zM777.12 276.42h2.0v1.8h-2.0zM784.57 270.24h2.0v1.8h-2.0zM789.53 267.15h2.0v1.8h-2.0zM798.21 264.06h2.0v1.8h-2.0zM800.69 264.06h2.0v1.8h-2.0zM801.93 264.06h2.0v1.8h-2.0zM804.41 264.06h2.0v1.8h-2.0zM806.89 264.06h2.0v1.8h-2.0zM813.09 260.97h2.0v1.8h-2.0zM816.81 257.88h2.0v1.8h-2.0zM819.29 257.88h2.0v1.8h-2.0zM823.02 257.88h2.0v1.8h-2.0zM837.90 251.70h2.0v1.8h-2.0zM842.86 251.70h2.0v1.8h-2.0zM852.78 248.61h2.0v1.8h-2.0zM861.47 248.61h2.0v1.8h-2.0zM867.67 245.52h2.0v1.8h-2.0zM868.91 245.52h2.0v1.8h-2.0zM875.11 245.52h2.0v1.8h-2.0zM878.83 245.52h2.0v1.8h-2.0zM880.07 245.52h2.0v1.8h-2.0zM883.79 245.52h2.0v1.8h-2.0zM887.51 245.52h2.0v1.8h-2.0zM889.99 245.52h2.0v1.8h-2.0zM901.15 378.39h2.0v1.8h-2.0zM906.12 378.39h2.0v1.8h-2.0zM938.36 378.39h2.0v1.8h-2.0zM949.53 378.39h2.0v1.8h-2.0zM956.97 378.39h2.0v1.8h-2.0zM961.93 378.39h2.0v1.8h-2.0zM969.37 375.30h2.0v1.8h-2.0zM980.53 378.39h2.0v1.8h-2.0zM981.77 378.39h2.0v1.8h-2.0zM984.25 378.39h2.0v1.8h-2.0zM1010.30 378.39h2.0v1.8h-2.0zM1014.02 378.39h2.0v1.8h-2.0zM1018.98 260.97h2.0v1.8h-2.0zM1020.22 260.97h2.0v1.8h-2.0zM1022.70 257.88h2.0v1.8h-2.0zM1027.67 248.61h2.0v1.8h-2.0zM1028.91 248.61h2.0v1.8h-2.0zM1030.15 248.61h2.0v1.8h-2.0zM1033.87 245.52h2.0v1.8h-2.0zM1040.07 245.52h2.0v1.8h-2.0zM1043.79 245.52h2.0v1.8h-2.0zM1045.03 245.52h2.0v1.8h-2.0zM1046.27 245.52h2.0v1.8h-2.0zM1049.99 245.52h2.0v1.8h-2.0zM1053.71 245.52h2.0v1.8h-2.0zM1056.19 242.43h2.0v1.8h-2.0zM1057.43 242.43h2.0v1.8h-2.0zM1058.67 242.43h2.0v1.8h-2.0zM1062.39 239.34h2.0v1.8h-2.0zM1064.87 239.34h2.0v1.8h-2.0zM1066.11 239.34h2.0v1.8h-2.0zM1077.28 236.25h2.0v1.8h-2.0zM1084.72 236.25h2.0v1.8h-2.0zM1087.20 236.25h2.0v1.8h-2.0zM1089.68 236.25h2.0v1.8h-2.0zM1090.92 236.25h2.0v1.8h-2.0zM1092.16 236.25h2.0v1.8h-2.0zM1097.12 233.16h2.0v1.8h-2.0zM1098.36 233.16h2.0v1.8h-2.0zM1100.84 233.16h2.0v1.8h-2.0zM1102.08 233.16h2.0v1.8h-2.0zM1104.56 233.16h2.0v1.8h-2.0zM1113.25 230.07h2.0v1.8h-2.0zM1119.45 230.07h2.0v1.8h-2.0zM1124.41 230.07h2.0v1.8h-2.0zM1126.89 230.07h2.0v1.8h-2.0zM1131.85 230.07h2.0v1.8h-2.0zM1139.29 230.07h2.0v1.8h-2.0zM1140.53 230.07h2.0v1.8h-2.0zM1141.77 230.07h2.0v1.8h-2.0zM1144.25 378.39h2.0v1.8h-2.0zM1147.97 378.39h2.0v1.8h-2.0zM1149.21 378.39h2.0v1.8h-2.0zM1182.70 378.39h2.0v1.8h-2.0zM1183.94 378.39h2.0v1.8h-2.0zM1190.14 378.39h2.0v1.8h-2.0zM1193.87 378.39h2.0v1.8h-2.0zM1196.35 378.39h2.0v1.8h-2.0zM1198.83 378.39h2.0v1.8h-2.0zM1221.15 378.39h2.0v1.8h-2.0zM1231.07 378.39h2.0v1.8h-2.0zM1232.31 378.39h2.0v1.8h-2.0zM1249.68 378.39h2.0v1.8h-2.0zM1257.12 378.39h2.0v1.8h-2.0zM1267.04 131.96h2.0v1.8h-2.0zM1268.28 136.96h2.0v1.8h-2.0zM1281.93 135.47h2.0v1.8h-2.0zM1284.41 138.54h2.0v1.8h-2.0zM1295.57 141.21h2.0v1.8h-2.0zM1305.49 145.08h2.0v1.8h-2.0zM1310.45 134.00h2.0v1.8h-2.0zM1322.86 131.41h2.0v1.8h-2.0zM1327.82 132.86h2.0v1.8h-2.0zM1343.94 130.59h2.0v1.8h-2.0zM1373.71 141.56h2.0v1.8h-2.0zM1384.87 135.20h2.0v1.8h-2.0zM1389.83 139.06h2.0v1.8h-2.0zM1393.55 378.39h2.0v1.8h-2.0zM1424.56 381.48h2.0v1.8h-2.0zM1441.93 378.39h2.0v1.8h-2.0zM1495.26 378.39h2.0v1.8h-2.0zM1500.22 378.39h2.0v1.8h-2.0zM1506.42 378.39h2.0v1.8h-2.0zM1510.14 378.39h2.0v1.8h-2.0zM1517.58 279.51h2.0v1.8h-2.0zM1518.82 279.51h2.0v1.8h-2.0zM1520.06 279.51h2.0v1.8h-2.0zM1521.30 279.51h2.0v1.8h-2.0zM1522.54 276.42h2.0v1.8h-2.0zM1525.03 279.51h2.0v1.8h-2.0zM1536.19 279.51h2.0v1.8h-2.0zM1537.43 279.51h2.0v1.8h-2.0zM1539.91 279.51h2.0v1.8h-2.0zM1544.87 279.51h2.0v1.8h-2.0zM1554.79 279.51h2.0v1.8h-2.0zM1557.27 279.51h2.0v1.8h-2.0zM1559.75 279.51h2.0v1.8h-2.0zM1560.99 279.51h2.0v1.8h-2.0zM1572.16 276.42h2.0v1.8h-2.0zM1574.64 279.51h2.0v1.8h-2.0zM1583.32 279.51h2.0v1.8h-2.0zM1584.56 279.51h2.0v1.8h-2.0zM1585.80 279.51h2.0v1.8h-2.0zM1588.28 279.51h2.0v1.8h-2.0zM1592.00 279.51h2.0v1.8h-2.0zM1593.24 279.51h2.0v1.8h-2.0zM1598.20 279.51h2.0v1.8h-2.0zM1599.44 279.51h2.0v1.8h-2.0zM1616.81 279.51h2.0v1.8h-2.0zM1618.05 279.51h2.0v1.8h-2.0zM1620.53 279.51h2.0v1.8h-2.0zM1621.77 279.51h2.0v1.8h-2.0zM1631.69 279.51h2.0v1.8h-2.0zM1636.65 279.51h2.0v1.8h-2.0zM1651.54 381.48h2.0v1.8h-2.0zM1654.02 378.39h2.0v1.8h-2.0zM1661.46 378.39h2.0v1.8h-2.0zM1663.94 378.39h2.0v1.8h-2.0zM1676.34 378.39h2.0v1.8h-2.0zM1697.43 378.39h2.0v1.8h-2.0zM1719.75 378.39h2.0v1.8h-2.0zM1733.40 378.39h2.0v1.8h-2.0zM1734.64 378.39h2.0v1.8h-2.0zM1740.84 378.39h2.0v1.8h-2.0zM1742.08 378.39h2.0v1.8h-2.0zM1755.72 378.39h2.0v1.8h-2.0zM1765.64 282.60h2.0v1.8h-2.0zM1768.12 282.60h2.0v1.8h-2.0zM1769.36 282.60h2.0v1.8h-2.0zM1776.81 282.60h2.0v1.8h-2.0zM1780.53 279.51h2.0v1.8h-2.0zM1783.01 279.51h2.0v1.8h-2.0zM1805.33 279.51h2.0v1.8h-2.0zM1806.57 279.51h2.0v1.8h-2.0zM1810.29 279.51h2.0v1.8h-2.0zM1815.26 279.51h2.0v1.8h-2.0zM1837.58 279.51h2.0v1.8h-2.0zM1840.06 279.51h2.0v1.8h-2.0zM1842.54 279.51h2.0v1.8h-2.0zM1843.78 279.51h2.0v1.8h-2.0zM1854.95 279.51h2.0v1.8h-2.0zM1856.19 279.51h2.0v1.8h-2.0zM1858.67 276.42h2.0v1.8h-2.0zM1863.63 279.51h2.0v1.8h-2.0zM1867.35 279.51h2.0v1.8h-2.0zM1872.31 279.51h2.0v1.8h-2.0zM1874.79 279.51h2.0v1.8h-2.0z"/>
<line x1="759.2" y1="135.9" x2="1887.2" y2="135.9" stroke="#17178a" stroke-width="2.4" stroke-dasharray="12.8 12.9" stroke-dashoffset="7.2"/>
<rect x="760.2" y="219.8" width="1126.0" height="5.0" fill="#fff"/>
<path d="M759.2 13.9H1887.2" stroke="#000" stroke-width="2.6"/>
<path d="M759.2 121.0H1887.2" stroke="#111" stroke-width="1.8"/>
<path d="M759.2 410.2H1888.4" stroke="#000" stroke-width="2.7"/>
<path d="M759.2 12.6V220.5M759.2 224.8V411.5" stroke="#000" stroke-width="2.6"/>
<path d="M1887.2 12.6V220.5M1887.2 224.8V411.5" stroke="#000" stroke-width="2.6"/>
<path d="M753.7 223L764.7 217.5M753.7 228L764.7 222.4" stroke="#000" stroke-width="2.1"/>
<path d="M1881.7 223L1892.7 217.5M1881.7 228L1892.7 222.4" stroke="#000" stroke-width="2.1"/>
<path d="M752.7 410.20H759.2M752.7 379.30H759.2M752.7 348.40H759.2M752.7 317.50H759.2M752.7 286.60H759.2M752.7 255.70H759.2M755.7 394.75H759.2M755.7 363.85H759.2M755.7 332.95H759.2M755.7 302.05H759.2M755.7 271.15H759.2M755.7 240.25H759.2M752.7 207.75H759.2M752.7 183.30H759.2M752.7 158.85H759.2M752.7 134.40H759.2M755.7 195.53H759.2M755.7 171.07H759.2M755.7 146.62H759.2M755.7 122.18H759.2M758.90 410.2V415.7M944.94 410.2V415.7M1130.99 410.2V415.7M1317.03 410.2V415.7M1503.08 410.2V415.7M1689.12 410.2V415.7M1875.17 410.2V415.7M851.92 410.2V413.2M1037.97 410.2V413.2M1224.01 410.2V413.2M1410.06 410.2V413.2M1596.10 410.2V413.2M1782.15 410.2V413.2M1887.2 120.80H1891.7M1887.2 90.27H1891.7M1887.2 59.74H1891.7M1887.2 29.21H1891.7" stroke="#000" stroke-width="2.4"/>
<text x="748.2" y="142.1" font-size="25.5" font-weight="bold" fill="#e50b15" text-anchor="end" textLength="58.5" lengthAdjust="spacingAndGlyphs" stroke="#e50b15" stroke-width="0.31">320.0</text>
<text x="748.2" y="166.5" font-size="25.5" font-weight="bold" fill="#e50b15" text-anchor="end" textLength="58.5" lengthAdjust="spacingAndGlyphs" stroke="#e50b15" stroke-width="0.31">300.0</text>
<text x="748.2" y="191.0" font-size="25.5" font-weight="bold" fill="#e50b15" text-anchor="end" textLength="58.5" lengthAdjust="spacingAndGlyphs" stroke="#e50b15" stroke-width="0.31">280.0</text>
<text x="748.2" y="215.4" font-size="25.5" font-weight="bold" fill="#e50b15" text-anchor="end" textLength="58.5" lengthAdjust="spacingAndGlyphs" stroke="#e50b15" stroke-width="0.31">260.0</text>
<text x="748.2" y="418.8" font-size="25.5" font-weight="bold" fill="#e50b15" text-anchor="end" textLength="31.5" lengthAdjust="spacingAndGlyphs" stroke="#e50b15" stroke-width="0.31">0.0</text>
<text x="748.2" y="387.9" font-size="25.5" font-weight="bold" fill="#e50b15" text-anchor="end" textLength="31.5" lengthAdjust="spacingAndGlyphs" stroke="#e50b15" stroke-width="0.31">0.5</text>
<text x="748.2" y="357.0" font-size="25.5" font-weight="bold" fill="#e50b15" text-anchor="end" textLength="31.5" lengthAdjust="spacingAndGlyphs" stroke="#e50b15" stroke-width="0.31">1.0</text>
<text x="748.2" y="326.1" font-size="25.5" font-weight="bold" fill="#e50b15" text-anchor="end" textLength="31.5" lengthAdjust="spacingAndGlyphs" stroke="#e50b15" stroke-width="0.31">1.5</text>
<text x="748.2" y="295.2" font-size="25.5" font-weight="bold" fill="#e50b15" text-anchor="end" textLength="31.5" lengthAdjust="spacingAndGlyphs" stroke="#e50b15" stroke-width="0.31">2.0</text>
<text x="748.2" y="264.3" font-size="25.5" font-weight="bold" fill="#e50b15" text-anchor="end" textLength="31.5" lengthAdjust="spacingAndGlyphs" stroke="#e50b15" stroke-width="0.31">2.5</text>
<text x="758.9" y="436.3" font-size="21" font-weight="bold" fill="#000" text-anchor="middle" textLength="10.6" lengthAdjust="spacingAndGlyphs" stroke="#000" stroke-width="0.25">0</text>
<text x="944.9" y="436.3" font-size="21" font-weight="bold" fill="#000" text-anchor="middle" textLength="31.8" lengthAdjust="spacingAndGlyphs" stroke="#000" stroke-width="0.25">150</text>
<text x="1131.0" y="436.3" font-size="21" font-weight="bold" fill="#000" text-anchor="middle" textLength="31.8" lengthAdjust="spacingAndGlyphs" stroke="#000" stroke-width="0.25">300</text>
<text x="1317.0" y="436.3" font-size="21" font-weight="bold" fill="#000" text-anchor="middle" textLength="31.8" lengthAdjust="spacingAndGlyphs" stroke="#000" stroke-width="0.25">450</text>
<text x="1503.1" y="436.3" font-size="21" font-weight="bold" fill="#000" text-anchor="middle" textLength="31.8" lengthAdjust="spacingAndGlyphs" stroke="#000" stroke-width="0.25">600</text>
<text x="1689.1" y="436.3" font-size="21" font-weight="bold" fill="#000" text-anchor="middle" textLength="31.8" lengthAdjust="spacingAndGlyphs" stroke="#000" stroke-width="0.25">750</text>
<text x="1875.2" y="436.3" font-size="21" font-weight="bold" fill="#000" text-anchor="middle" textLength="31.8" lengthAdjust="spacingAndGlyphs" stroke="#000" stroke-width="0.25">900</text>
<text x="1893.7" y="125.8" font-size="14.5" font-weight="bold" fill="#000" text-anchor="start" stroke="#000" stroke-width="0.17">0</text>
<text x="1893.7" y="95.3" font-size="14.5" font-weight="bold" fill="#000" text-anchor="start" stroke="#000" stroke-width="0.17">1</text>
<text x="1893.7" y="64.7" font-size="14.5" font-weight="bold" fill="#000" text-anchor="start" stroke="#000" stroke-width="0.17">2</text>
<text x="1893.7" y="34.2" font-size="14.5" font-weight="bold" fill="#000" text-anchor="start" stroke="#000" stroke-width="0.17">3</text>
<text x="1218.0" y="474.3" font-size="34" font-weight="bold" fill="#000" text-anchor="start" textLength="210.7" lengthAdjust="spacingAndGlyphs" stroke="#000" stroke-width="0.41">Pulse number</text>
<text transform="translate(658.3,266.5) rotate(-90)" x="0" y="12.4" font-size="37.5" font-weight="bold" fill="#e50b15" stroke="#e50b15" stroke-width="0.45" text-anchor="middle" textLength="224.0" lengthAdjust="spacingAndGlyphs">Current (μA)</text>
<text transform="translate(1917.1,65.0) rotate(-90)" x="0" y="7.8" font-size="23.5" font-weight="bold" fill="#000" stroke="#000" stroke-width="0.28" text-anchor="middle" textLength="116.5" lengthAdjust="spacingAndGlyphs">Voltage (V)</text>
<text x="1594.0" y="170.2" font-size="38" font-weight="bold" fill="#000" text-anchor="start" textLength="287.0" lengthAdjust="spacingAndGlyphs" stroke="#000" stroke-width="0.46">threshold current</text>
<text x="637.8" y="38.8" font-size="35.5" font-weight="bold" fill="#000" text-anchor="start" textLength="45.5" lengthAdjust="spacingAndGlyphs" stroke="#000" stroke-width="0.43">(b)</text>
<text transform="translate(834.26,249.00) scale(1.213,1)" style="font-family:'DejaVu Serif', 'Liberation Serif', serif" font-size="32.08" font-weight="normal" fill="#000">Ⅰ</text>
<text transform="translate(1081.77,236.00) scale(0.932,1)" style="font-family:'DejaVu Serif', 'Liberation Serif', serif" font-size="32.78" font-weight="normal" fill="#000">Ⅱ</text>
<text transform="translate(1241.16,172.50) scale(0.826,1)" style="font-family:'DejaVu Serif', 'Liberation Serif', serif" font-size="33.19" font-weight="normal" fill="#000">Ⅲ</text>
<text transform="translate(1565.63,273.90) scale(0.773,1)" style="font-family:'DejaVu Serif', 'Liberation Serif', serif" font-size="33.89" font-weight="normal" fill="#000">Ⅳ</text>
<text transform="translate(1806.27,273.80) scale(0.810,1)" style="font-family:'DejaVu Serif', 'Liberation Serif', serif" font-size="33.89" font-weight="normal" fill="#000">Ⅴ</text>
<path fill="#736d69" d="M784.20 561.50h1.50v78.00h-1.50zM788.70 561.50h1.50v78.00h-1.50zM791.70 561.50h1.50v78.00h-1.50zM805.20 561.50h1.50v78.00h-1.50zM832.20 561.50h1.50v78.00h-1.50zM859.20 561.50h1.50v78.00h-1.50zM863.70 561.50h1.50v78.00h-1.50zM877.20 561.50h1.50v78.00h-1.50zM878.70 561.50h1.50v78.00h-1.50zM883.20 561.50h1.50v78.00h-1.50zM892.20 561.50h1.50v78.00h-1.50zM896.70 612.20h1.50v27.30h-1.50zM898.20 612.20h1.50v27.30h-1.50zM901.20 612.20h1.50v27.30h-1.50zM913.20 612.20h1.50v27.30h-1.50zM919.20 612.20h1.50v27.30h-1.50zM922.20 612.20h1.50v27.30h-1.50zM926.70 612.20h1.50v27.30h-1.50zM928.20 612.20h1.50v27.30h-1.50zM932.70 612.20h1.50v27.30h-1.50zM937.20 612.20h1.50v27.30h-1.50zM946.20 612.20h1.50v27.30h-1.50zM968.70 612.20h1.50v27.30h-1.50zM971.70 612.20h1.50v27.30h-1.50zM985.20 612.20h1.50v27.30h-1.50zM994.20 612.20h1.50v27.30h-1.50zM995.70 612.20h1.50v27.30h-1.50zM1016.70 612.20h1.50v27.30h-1.50zM1031.70 612.20h1.50v27.30h-1.50zM1036.20 612.20h1.50v27.30h-1.50zM1043.70 612.20h1.50v27.30h-1.50zM1057.20 561.50h1.50v78.00h-1.50zM1061.70 561.50h1.50v78.00h-1.50zM1063.20 561.50h1.50v78.00h-1.50zM1069.20 561.50h1.50v78.00h-1.50zM1087.20 561.50h1.50v78.00h-1.50zM1100.70 561.50h1.50v78.00h-1.50zM1105.20 561.50h1.50v78.00h-1.50zM1106.70 561.50h1.50v78.00h-1.50zM1108.20 561.50h1.50v78.00h-1.50zM1192.20 561.50h1.50v78.00h-1.50zM1196.70 612.20h1.50v27.30h-1.50z"/>
<path fill="#7f7975" d="M733.20 612.20h1.50v27.30h-1.50zM737.70 612.20h1.50v27.30h-1.50zM739.20 612.20h1.50v27.30h-1.50zM742.20 612.20h1.50v27.30h-1.50zM751.20 561.50h1.50v78.00h-1.50zM757.20 561.50h1.50v78.00h-1.50zM781.20 561.50h1.50v78.00h-1.50zM814.20 561.50h1.50v78.00h-1.50zM817.20 561.50h1.50v78.00h-1.50zM823.20 561.50h1.50v78.00h-1.50zM829.20 561.50h1.50v78.00h-1.50zM833.70 561.50h1.50v78.00h-1.50zM874.20 561.50h1.50v78.00h-1.50zM881.70 561.50h1.50v78.00h-1.50zM886.20 561.50h1.50v78.00h-1.50zM889.20 561.50h1.50v78.00h-1.50zM890.70 561.50h1.50v78.00h-1.50zM902.70 612.20h1.50v27.30h-1.50zM905.70 612.20h1.50v27.30h-1.50zM914.70 612.20h1.50v27.30h-1.50zM923.70 612.20h1.50v27.30h-1.50zM931.20 612.20h1.50v27.30h-1.50zM935.70 612.20h1.50v27.30h-1.50zM938.70 612.20h1.50v27.30h-1.50zM940.20 612.20h1.50v27.30h-1.50zM943.20 612.20h1.50v27.30h-1.50zM956.70 612.20h1.50v27.30h-1.50zM961.20 612.20h1.50v27.30h-1.50zM964.20 612.20h1.50v27.30h-1.50zM986.70 612.20h1.50v27.30h-1.50zM989.70 612.20h1.50v27.30h-1.50zM1000.20 612.20h1.50v27.30h-1.50zM1007.70 612.20h1.50v27.30h-1.50zM1012.20 612.20h1.50v27.30h-1.50zM1045.20 612.20h1.50v27.30h-1.50zM1067.70 561.50h1.50v78.00h-1.50zM1075.20 561.50h1.50v78.00h-1.50zM1093.20 561.50h1.50v78.00h-1.50zM1111.20 561.50h1.50v78.00h-1.50zM1120.20 561.50h1.50v78.00h-1.50zM1121.70 561.50h1.50v78.00h-1.50zM1124.70 561.50h1.50v78.00h-1.50zM1129.20 561.50h1.50v78.00h-1.50zM1130.70 561.50h1.50v78.00h-1.50zM1132.20 561.50h1.50v78.00h-1.50zM1135.20 561.50h1.50v78.00h-1.50zM1141.20 561.50h1.50v78.00h-1.50zM1142.70 561.50h1.50v78.00h-1.50zM1150.20 561.50h1.50v78.00h-1.50zM1165.20 561.50h1.50v78.00h-1.50zM1168.20 561.50h1.50v78.00h-1.50zM1174.20 561.50h1.50v78.00h-1.50zM1189.20 561.50h1.50v78.00h-1.50zM1198.20 612.20h1.50v27.30h-1.50zM1205.70 612.20h1.50v27.30h-1.50z"/>
<path fill="#8b8581" d="M734.70 612.20h1.50v27.30h-1.50zM745.20 612.20h1.50v27.30h-1.50zM748.20 561.50h1.50v78.00h-1.50zM760.20 561.50h1.50v78.00h-1.50zM763.20 561.50h1.50v78.00h-1.50zM793.20 561.50h1.50v78.00h-1.50zM796.20 561.50h1.50v78.00h-1.50zM808.20 561.50h1.50v78.00h-1.50zM824.70 561.50h1.50v78.00h-1.50zM836.70 561.50h1.50v78.00h-1.50zM842.70 561.50h1.50v78.00h-1.50zM844.20 561.50h1.50v78.00h-1.50zM847.20 561.50h1.50v78.00h-1.50zM848.70 561.50h1.50v78.00h-1.50zM853.20 561.50h1.50v78.00h-1.50zM854.70 561.50h1.50v78.00h-1.50zM860.70 561.50h1.50v78.00h-1.50zM865.20 561.50h1.50v78.00h-1.50zM868.20 561.50h1.50v78.00h-1.50zM869.70 561.50h1.50v78.00h-1.50zM895.20 561.50h1.50v78.00h-1.50zM917.70 612.20h1.50v27.30h-1.50zM944.70 612.20h1.50v27.30h-1.50zM949.20 612.20h1.50v27.30h-1.50zM967.20 612.20h1.50v27.30h-1.50zM980.70 612.20h1.50v27.30h-1.50zM1004.70 612.20h1.50v27.30h-1.50zM1009.20 612.20h1.50v27.30h-1.50zM1013.70 612.20h1.50v27.30h-1.50zM1018.20 612.20h1.50v27.30h-1.50zM1021.20 612.20h1.50v27.30h-1.50zM1022.70 612.20h1.50v27.30h-1.50zM1027.20 612.20h1.50v27.30h-1.50zM1039.20 612.20h1.50v27.30h-1.50zM1049.70 561.50h1.50v78.00h-1.50zM1066.20 561.50h1.50v78.00h-1.50zM1072.20 561.50h1.50v78.00h-1.50zM1078.20 561.50h1.50v78.00h-1.50zM1081.20 561.50h1.50v78.00h-1.50zM1090.20 561.50h1.50v78.00h-1.50zM1094.70 561.50h1.50v78.00h-1.50zM1099.20 561.50h1.50v78.00h-1.50zM1117.20 561.50h1.50v78.00h-1.50zM1126.20 561.50h1.50v78.00h-1.50zM1136.70 561.50h1.50v78.00h-1.50zM1138.20 561.50h1.50v78.00h-1.50zM1144.20 561.50h1.50v78.00h-1.50zM1156.20 561.50h1.50v78.00h-1.50zM1171.20 561.50h1.50v78.00h-1.50zM1183.20 561.50h1.50v78.00h-1.50zM1201.20 612.20h1.50v27.30h-1.50zM1202.70 612.20h1.50v27.30h-1.50zM1207.20 612.20h1.50v27.30h-1.50z"/>
<path fill="#97918d" d="M754.20 561.50h1.50v78.00h-1.50zM766.20 561.50h1.50v78.00h-1.50zM769.20 561.50h1.50v78.00h-1.50zM772.20 561.50h1.50v78.00h-1.50zM775.20 561.50h1.50v78.00h-1.50zM778.20 561.50h1.50v78.00h-1.50zM787.20 561.50h1.50v78.00h-1.50zM799.20 561.50h1.50v78.00h-1.50zM802.20 561.50h1.50v78.00h-1.50zM811.20 561.50h1.50v78.00h-1.50zM820.20 561.50h1.50v78.00h-1.50zM827.70 561.50h1.50v78.00h-1.50zM838.20 561.50h1.50v78.00h-1.50zM841.20 561.50h1.50v78.00h-1.50zM850.20 561.50h1.50v78.00h-1.50zM856.20 561.50h1.50v78.00h-1.50zM872.70 561.50h1.50v78.00h-1.50zM904.20 612.20h1.50v27.30h-1.50zM908.70 612.20h1.50v27.30h-1.50zM910.20 612.20h1.50v27.30h-1.50zM950.70 612.20h1.50v27.30h-1.50zM952.20 612.20h1.50v27.30h-1.50zM955.20 612.20h1.50v27.30h-1.50zM958.20 612.20h1.50v27.30h-1.50zM973.20 612.20h1.50v27.30h-1.50zM976.20 612.20h1.50v27.30h-1.50zM977.70 612.20h1.50v27.30h-1.50zM982.20 612.20h1.50v27.30h-1.50zM991.20 612.20h1.50v27.30h-1.50zM998.70 612.20h1.50v27.30h-1.50zM1003.20 612.20h1.50v27.30h-1.50zM1025.70 612.20h1.50v27.30h-1.50zM1030.20 612.20h1.50v27.30h-1.50zM1034.70 612.20h1.50v27.30h-1.50zM1040.70 612.20h1.50v27.30h-1.50zM1048.20 561.50h1.50v78.00h-1.50zM1052.70 561.50h1.50v78.00h-1.50zM1054.20 561.50h1.50v78.00h-1.50zM1058.70 561.50h1.50v78.00h-1.50zM1084.20 561.50h1.50v78.00h-1.50zM1096.20 561.50h1.50v78.00h-1.50zM1102.20 561.50h1.50v78.00h-1.50zM1112.70 561.50h1.50v78.00h-1.50zM1114.20 561.50h1.50v78.00h-1.50zM1147.20 561.50h1.50v78.00h-1.50zM1148.70 561.50h1.50v78.00h-1.50zM1153.20 561.50h1.50v78.00h-1.50zM1159.20 561.50h1.50v78.00h-1.50zM1162.20 561.50h1.50v78.00h-1.50zM1177.20 561.50h1.50v78.00h-1.50zM1180.20 561.50h1.50v78.00h-1.50zM1186.20 561.50h1.50v78.00h-1.50zM1195.20 561.50h1.50v78.00h-1.50zM1204.20 612.20h1.50v27.30h-1.50z"/>
<path fill="#c6c2be" d="M731.70 612.20h1.50v27.30h-1.50zM740.70 612.20h1.50v27.30h-1.50zM752.70 561.50h1.50v78.00h-1.50zM755.70 561.50h1.50v78.00h-1.50zM758.70 561.50h1.50v78.00h-1.50zM761.70 561.50h1.50v78.00h-1.50zM764.70 561.50h1.50v78.00h-1.50zM776.70 561.50h1.50v78.00h-1.50zM779.70 561.50h1.50v78.00h-1.50zM782.70 561.50h1.50v78.00h-1.50zM800.70 561.50h1.50v78.00h-1.50zM803.70 561.50h1.50v78.00h-1.50zM815.70 561.50h1.50v78.00h-1.50zM826.20 561.50h1.50v78.00h-1.50zM835.20 561.50h1.50v78.00h-1.50zM845.70 561.50h1.50v78.00h-1.50zM851.70 561.50h1.50v78.00h-1.50zM866.70 561.50h1.50v78.00h-1.50zM880.20 561.50h1.50v78.00h-1.50zM884.70 561.50h1.50v78.00h-1.50zM899.70 612.20h1.50v27.30h-1.50zM907.20 612.20h1.50v27.30h-1.50zM916.20 612.20h1.50v27.30h-1.50zM920.70 612.20h1.50v27.30h-1.50zM925.20 612.20h1.50v27.30h-1.50zM959.70 612.20h1.50v27.30h-1.50zM962.70 612.20h1.50v27.30h-1.50zM965.70 612.20h1.50v27.30h-1.50zM974.70 612.20h1.50v27.30h-1.50zM979.20 612.20h1.50v27.30h-1.50zM983.70 612.20h1.50v27.30h-1.50zM992.70 612.20h1.50v27.30h-1.50zM1015.20 612.20h1.50v27.30h-1.50zM1024.20 612.20h1.50v27.30h-1.50zM1028.70 612.20h1.50v27.30h-1.50zM1033.20 612.20h1.50v27.30h-1.50zM1042.20 612.20h1.50v27.30h-1.50zM1046.70 561.50h1.50v78.00h-1.50zM1051.20 561.50h1.50v78.00h-1.50zM1085.70 561.50h1.50v78.00h-1.50zM1088.70 561.50h1.50v78.00h-1.50zM1091.70 561.50h1.50v78.00h-1.50zM1097.70 561.50h1.50v78.00h-1.50zM1109.70 561.50h1.50v78.00h-1.50zM1115.70 561.50h1.50v78.00h-1.50zM1123.20 561.50h1.50v78.00h-1.50zM1139.70 561.50h1.50v78.00h-1.50zM1145.70 561.50h1.50v78.00h-1.50zM1151.70 561.50h1.50v78.00h-1.50zM1157.70 561.50h1.50v78.00h-1.50zM1160.70 561.50h1.50v78.00h-1.50zM1169.70 561.50h1.50v78.00h-1.50zM1175.70 561.50h1.50v78.00h-1.50zM1184.70 561.50h1.50v78.00h-1.50zM1208.70 612.20h0.80v27.30h-0.80z"/>
<path fill="#d2cec9" d="M736.20 612.20h1.50v27.30h-1.50zM743.70 612.20h1.50v27.30h-1.50zM746.70 561.50h1.50v78.00h-1.50zM749.70 561.50h1.50v78.00h-1.50zM767.70 561.50h1.50v78.00h-1.50zM770.70 561.50h1.50v78.00h-1.50zM773.70 561.50h1.50v78.00h-1.50zM785.70 561.50h1.50v78.00h-1.50zM790.20 561.50h1.50v78.00h-1.50zM794.70 561.50h1.50v78.00h-1.50zM797.70 561.50h1.50v78.00h-1.50zM806.70 561.50h1.50v78.00h-1.50zM809.70 561.50h1.50v78.00h-1.50zM812.70 561.50h1.50v78.00h-1.50zM818.70 561.50h1.50v78.00h-1.50zM821.70 561.50h1.50v78.00h-1.50zM830.70 561.50h1.50v78.00h-1.50zM839.70 561.50h1.50v78.00h-1.50zM857.70 561.50h1.50v78.00h-1.50zM862.20 561.50h1.50v78.00h-1.50zM871.20 561.50h1.50v78.00h-1.50zM875.70 561.50h1.50v78.00h-1.50zM887.70 561.50h1.50v78.00h-1.50zM893.70 561.50h1.50v78.00h-1.50zM911.70 612.20h1.50v27.30h-1.50zM929.70 612.20h1.50v27.30h-1.50zM934.20 612.20h1.50v27.30h-1.50zM941.70 612.20h1.50v27.30h-1.50zM947.70 612.20h1.50v27.30h-1.50zM953.70 612.20h1.50v27.30h-1.50zM970.20 612.20h1.50v27.30h-1.50zM988.20 612.20h1.50v27.30h-1.50zM997.20 612.20h1.50v27.30h-1.50zM1001.70 612.20h1.50v27.30h-1.50zM1006.20 612.20h1.50v27.30h-1.50zM1010.70 612.20h1.50v27.30h-1.50zM1019.70 612.20h1.50v27.30h-1.50zM1037.70 612.20h1.50v27.30h-1.50zM1055.70 561.50h1.50v78.00h-1.50zM1060.20 561.50h1.50v78.00h-1.50zM1064.70 561.50h1.50v78.00h-1.50zM1070.70 561.50h1.50v78.00h-1.50zM1073.70 561.50h1.50v78.00h-1.50zM1076.70 561.50h1.50v78.00h-1.50zM1079.70 561.50h1.50v78.00h-1.50zM1082.70 561.50h1.50v78.00h-1.50zM1103.70 561.50h1.50v78.00h-1.50zM1118.70 561.50h1.50v78.00h-1.50zM1127.70 561.50h1.50v78.00h-1.50zM1133.70 561.50h1.50v78.00h-1.50zM1154.70 561.50h1.50v78.00h-1.50zM1163.70 561.50h1.50v78.00h-1.50zM1166.70 561.50h1.50v78.00h-1.50zM1172.70 561.50h1.50v78.00h-1.50zM1178.70 561.50h1.50v78.00h-1.50zM1181.70 561.50h1.50v78.00h-1.50zM1187.70 561.50h1.50v78.00h-1.50zM1190.70 561.50h1.50v78.00h-1.50zM1193.70 561.50h1.50v78.00h-1.50zM1199.70 612.20h1.50v27.30h-1.50z"/>
<path d="M731.70 612.20L746.70 612.20M746.70 561.50L896.70 561.50M896.70 612.20L1046.70 612.20M1046.70 561.50L1196.70 561.50M1196.70 612.20L1210.80 612.20" stroke="#222" stroke-width="1.2" fill="none"/>
<path fill="#b6acd6" d="M751.20 754.38h1.50v199.12h-1.50zM752.70 749.14h1.50v204.36h-1.50zM764.70 749.14h1.50v204.36h-1.50zM766.20 749.14h1.50v204.36h-1.50zM769.20 749.14h1.50v204.36h-1.50zM778.20 743.90h1.50v209.60h-1.50zM782.70 743.90h1.50v209.60h-1.50zM788.70 743.90h1.50v209.60h-1.50zM791.70 738.66h1.50v214.84h-1.50zM800.70 738.66h1.50v214.84h-1.50zM805.20 738.66h1.50v214.84h-1.50zM824.70 738.66h1.50v214.84h-1.50zM833.70 738.66h1.50v214.84h-1.50zM836.70 738.66h1.50v214.84h-1.50zM842.70 733.42h1.50v220.08h-1.50zM847.20 733.42h1.50v220.08h-1.50zM859.20 733.42h1.50v220.08h-1.50zM860.70 733.42h1.50v220.08h-1.50zM862.20 733.42h1.50v220.08h-1.50zM865.20 733.42h1.50v220.08h-1.50zM871.20 733.42h1.50v220.08h-1.50zM884.70 733.42h1.50v220.08h-1.50zM886.20 733.42h1.50v220.08h-1.50zM898.20 906.34h1.50v47.16h-1.50zM908.70 906.34h1.50v47.16h-1.50zM917.70 906.34h1.50v47.16h-1.50zM922.20 906.34h1.50v47.16h-1.50zM926.70 906.34h1.50v47.16h-1.50zM940.20 906.34h1.50v47.16h-1.50zM946.20 901.10h1.50v52.40h-1.50zM979.20 906.34h1.50v47.16h-1.50zM998.70 906.34h1.50v47.16h-1.50zM1003.20 906.34h1.50v47.16h-1.50zM1004.70 906.34h1.50v47.16h-1.50zM1012.20 906.34h1.50v47.16h-1.50zM1024.20 906.34h1.50v47.16h-1.50zM1048.20 738.66h1.50v214.84h-1.50zM1052.70 738.66h1.50v214.84h-1.50zM1054.20 738.66h1.50v214.84h-1.50zM1063.20 738.66h1.50v214.84h-1.50zM1069.20 733.42h1.50v220.08h-1.50zM1081.20 733.42h1.50v220.08h-1.50zM1087.20 733.42h1.50v220.08h-1.50zM1094.70 733.42h1.50v220.08h-1.50zM1106.70 728.18h1.50v225.32h-1.50zM1108.20 728.18h1.50v225.32h-1.50zM1112.70 728.18h1.50v225.32h-1.50zM1144.20 722.94h1.50v230.56h-1.50zM1147.20 722.94h1.50v230.56h-1.50zM1148.70 722.94h1.50v230.56h-1.50zM1162.20 722.94h1.50v230.56h-1.50zM1178.70 722.94h1.50v230.56h-1.50zM1187.70 722.94h1.50v230.56h-1.50z"/>
<path fill="#bcb3da" d="M733.20 903.20h1.50v50.30h-1.50zM734.70 906.34h1.50v47.16h-1.50zM739.20 906.34h1.50v47.16h-1.50zM743.70 906.34h1.50v47.16h-1.50zM746.70 754.38h1.50v199.12h-1.50zM755.70 749.14h1.50v204.36h-1.50zM757.20 749.14h1.50v204.36h-1.50zM761.70 749.14h1.50v204.36h-1.50zM806.70 738.66h1.50v214.84h-1.50zM809.70 738.66h1.50v214.84h-1.50zM814.20 738.66h1.50v214.84h-1.50zM823.20 738.66h1.50v214.84h-1.50zM838.20 733.42h1.50v220.08h-1.50zM841.20 733.42h1.50v220.08h-1.50zM845.70 733.42h1.50v220.08h-1.50zM851.70 733.42h1.50v220.08h-1.50zM856.20 733.42h1.50v220.08h-1.50zM877.20 733.42h1.50v220.08h-1.50zM880.20 733.42h1.50v220.08h-1.50zM892.20 733.42h1.50v220.08h-1.50zM896.70 906.34h1.50v47.16h-1.50zM904.20 906.34h1.50v47.16h-1.50zM931.20 906.34h1.50v47.16h-1.50zM949.20 906.34h1.50v47.16h-1.50zM952.20 906.34h1.50v47.16h-1.50zM955.20 906.34h1.50v47.16h-1.50zM956.70 906.34h1.50v47.16h-1.50zM961.20 906.34h1.50v47.16h-1.50zM964.20 906.34h1.50v47.16h-1.50zM967.20 906.34h1.50v47.16h-1.50zM968.70 906.34h1.50v47.16h-1.50zM970.20 906.34h1.50v47.16h-1.50zM974.70 906.34h1.50v47.16h-1.50zM976.20 901.10h1.50v52.40h-1.50zM980.70 906.34h1.50v47.16h-1.50zM989.70 906.34h1.50v47.16h-1.50zM991.20 906.34h1.50v47.16h-1.50zM994.20 906.34h1.50v47.16h-1.50zM1006.20 906.34h1.50v47.16h-1.50zM1016.70 906.34h1.50v47.16h-1.50zM1027.20 906.34h1.50v47.16h-1.50zM1030.20 901.10h1.50v52.40h-1.50zM1036.20 906.34h1.50v47.16h-1.50zM1040.70 906.34h1.50v47.16h-1.50zM1057.20 738.66h1.50v214.84h-1.50zM1064.70 738.66h1.50v214.84h-1.50zM1066.20 733.42h1.50v220.08h-1.50zM1076.70 733.42h1.50v220.08h-1.50zM1090.20 733.42h1.50v220.08h-1.50zM1093.20 733.42h1.50v220.08h-1.50zM1100.70 733.42h1.50v220.08h-1.50zM1102.20 733.42h1.50v220.08h-1.50zM1124.70 728.18h1.50v225.32h-1.50zM1126.20 728.18h1.50v225.32h-1.50zM1129.20 728.18h1.50v225.32h-1.50zM1130.70 728.18h1.50v225.32h-1.50zM1156.20 722.94h1.50v230.56h-1.50zM1180.20 722.94h1.50v230.56h-1.50zM1189.20 722.94h1.50v230.56h-1.50zM1196.70 906.34h1.50v47.16h-1.50zM1198.20 906.34h1.50v47.16h-1.50zM1205.70 906.34h1.50v47.16h-1.50z"/>
<path fill="#c2b9de" d="M737.70 906.34h1.50v47.16h-1.50zM748.20 754.38h1.50v199.12h-1.50zM760.20 749.14h1.50v204.36h-1.50zM770.70 743.90h1.50v209.60h-1.50zM773.70 743.90h1.50v209.60h-1.50zM779.70 743.90h1.50v209.60h-1.50zM784.20 743.90h1.50v209.60h-1.50zM787.20 743.90h1.50v209.60h-1.50zM796.20 738.66h1.50v214.84h-1.50zM811.20 738.66h1.50v214.84h-1.50zM815.70 738.66h1.50v214.84h-1.50zM818.70 738.66h1.50v214.84h-1.50zM820.20 738.66h1.50v214.84h-1.50zM850.20 733.42h1.50v220.08h-1.50zM854.70 733.42h1.50v220.08h-1.50zM868.20 733.42h1.50v220.08h-1.50zM889.20 733.42h1.50v220.08h-1.50zM890.70 733.42h1.50v220.08h-1.50zM895.20 733.42h1.50v220.08h-1.50zM902.70 906.34h1.50v47.16h-1.50zM913.20 906.34h1.50v47.16h-1.50zM914.70 906.34h1.50v47.16h-1.50zM928.20 906.34h1.50v47.16h-1.50zM934.20 906.34h1.50v47.16h-1.50zM937.20 906.34h1.50v47.16h-1.50zM943.20 906.34h1.50v47.16h-1.50zM962.70 906.34h1.50v47.16h-1.50zM985.20 906.34h1.50v47.16h-1.50zM986.70 906.34h1.50v47.16h-1.50zM1000.20 906.34h1.50v47.16h-1.50zM1009.20 906.34h1.50v47.16h-1.50zM1015.20 906.34h1.50v47.16h-1.50zM1018.20 906.34h1.50v47.16h-1.50zM1021.20 906.34h1.50v47.16h-1.50zM1022.70 906.34h1.50v47.16h-1.50zM1028.70 906.34h1.50v47.16h-1.50zM1033.20 906.34h1.50v47.16h-1.50zM1045.20 906.34h1.50v47.16h-1.50zM1060.20 738.66h1.50v214.84h-1.50zM1070.70 733.42h1.50v220.08h-1.50zM1072.20 733.42h1.50v220.08h-1.50zM1075.20 733.42h1.50v220.08h-1.50zM1105.20 728.18h1.50v225.32h-1.50zM1120.20 728.18h1.50v225.32h-1.50zM1121.70 728.18h1.50v225.32h-1.50zM1133.70 722.94h1.50v230.56h-1.50zM1136.70 722.94h1.50v230.56h-1.50zM1141.20 722.94h1.50v230.56h-1.50zM1142.70 722.94h1.50v230.56h-1.50zM1150.20 722.94h1.50v230.56h-1.50zM1166.70 722.94h1.50v230.56h-1.50zM1171.20 722.94h1.50v230.56h-1.50zM1174.20 722.94h1.50v230.56h-1.50zM1175.70 722.94h1.50v230.56h-1.50zM1184.70 722.94h1.50v230.56h-1.50zM1192.20 722.94h1.50v230.56h-1.50zM1193.70 722.94h1.50v230.56h-1.50zM1202.70 906.34h1.50v47.16h-1.50z"/>
<path fill="#c8c0e2" d="M742.20 906.34h1.50v47.16h-1.50zM775.20 743.90h1.50v209.60h-1.50zM793.20 738.66h1.50v214.84h-1.50zM797.70 738.66h1.50v214.84h-1.50zM802.20 738.66h1.50v214.84h-1.50zM827.70 738.66h1.50v214.84h-1.50zM829.20 738.66h1.50v214.84h-1.50zM832.20 738.66h1.50v214.84h-1.50zM874.20 733.42h1.50v220.08h-1.50zM883.20 733.42h1.50v220.08h-1.50zM901.20 906.34h1.50v47.16h-1.50zM905.70 906.34h1.50v47.16h-1.50zM910.20 906.34h1.50v47.16h-1.50zM919.20 906.34h1.50v47.16h-1.50zM923.70 906.34h1.50v47.16h-1.50zM958.20 906.34h1.50v47.16h-1.50zM973.20 906.34h1.50v47.16h-1.50zM982.20 906.34h1.50v47.16h-1.50zM995.70 906.34h1.50v47.16h-1.50zM1010.70 906.34h1.50v47.16h-1.50zM1034.70 906.34h1.50v47.16h-1.50zM1039.20 906.34h1.50v47.16h-1.50zM1043.70 906.34h1.50v47.16h-1.50zM1049.70 738.66h1.50v214.84h-1.50zM1058.70 738.66h1.50v214.84h-1.50zM1078.20 733.42h1.50v220.08h-1.50zM1084.20 733.42h1.50v220.08h-1.50zM1096.20 733.42h1.50v220.08h-1.50zM1099.20 733.42h1.50v220.08h-1.50zM1111.20 728.18h1.50v225.32h-1.50zM1115.70 728.18h1.50v225.32h-1.50zM1117.20 728.18h1.50v225.32h-1.50zM1135.20 722.94h1.50v230.56h-1.50zM1138.20 722.94h1.50v230.56h-1.50zM1151.70 722.94h1.50v230.56h-1.50zM1153.20 722.94h1.50v230.56h-1.50zM1157.70 722.94h1.50v230.56h-1.50zM1160.70 722.94h1.50v230.56h-1.50zM1165.20 722.94h1.50v230.56h-1.50zM1169.70 722.94h1.50v230.56h-1.50zM1183.20 722.94h1.50v230.56h-1.50zM1201.20 906.34h1.50v47.16h-1.50zM1207.20 906.34h1.50v47.16h-1.50z"/>
<path fill="#e8e5f4" d="M731.70 901.10h1.50v52.40h-1.50zM736.20 906.34h1.50v47.16h-1.50zM740.70 906.34h1.50v47.16h-1.50zM745.20 906.34h1.50v47.16h-1.50zM749.70 754.38h1.50v199.12h-1.50zM754.20 749.14h1.50v204.36h-1.50zM758.70 749.14h1.50v204.36h-1.50zM763.20 749.14h1.50v204.36h-1.50zM767.70 749.14h1.50v204.36h-1.50zM772.20 743.90h1.50v209.60h-1.50zM776.70 743.90h1.50v209.60h-1.50zM781.20 743.90h1.50v209.60h-1.50zM785.70 743.90h1.50v209.60h-1.50zM790.20 743.90h1.50v209.60h-1.50zM794.70 738.66h1.50v214.84h-1.50zM799.20 738.66h1.50v214.84h-1.50zM803.70 738.66h1.50v214.84h-1.50zM808.20 738.66h1.50v214.84h-1.50zM812.70 738.66h1.50v214.84h-1.50zM817.20 738.66h1.50v214.84h-1.50zM821.70 738.66h1.50v214.84h-1.50zM826.20 738.66h1.50v214.84h-1.50zM830.70 738.66h1.50v214.84h-1.50zM835.20 738.66h1.50v214.84h-1.50zM839.70 733.42h1.50v220.08h-1.50zM844.20 733.42h1.50v220.08h-1.50zM848.70 733.42h1.50v220.08h-1.50zM853.20 733.42h1.50v220.08h-1.50zM857.70 733.42h1.50v220.08h-1.50zM863.70 733.42h1.50v220.08h-1.50zM866.70 733.42h1.50v220.08h-1.50zM869.70 733.42h1.50v220.08h-1.50zM872.70 733.42h1.50v220.08h-1.50zM875.70 733.42h1.50v220.08h-1.50zM878.70 733.42h1.50v220.08h-1.50zM881.70 733.42h1.50v220.08h-1.50zM887.70 733.42h1.50v220.08h-1.50zM893.70 733.42h1.50v220.08h-1.50zM899.70 906.34h1.50v47.16h-1.50zM907.20 906.34h1.50v47.16h-1.50zM911.70 906.34h1.50v47.16h-1.50zM916.20 906.34h1.50v47.16h-1.50zM920.70 906.34h1.50v47.16h-1.50zM925.20 906.34h1.50v47.16h-1.50zM929.70 906.34h1.50v47.16h-1.50zM932.70 906.34h1.50v47.16h-1.50zM935.70 906.34h1.50v47.16h-1.50zM938.70 901.10h1.50v52.40h-1.50zM941.70 906.34h1.50v47.16h-1.50zM944.70 911.58h1.50v41.92h-1.50zM947.70 906.34h1.50v47.16h-1.50zM950.70 906.34h1.50v47.16h-1.50zM953.70 906.34h1.50v47.16h-1.50zM959.70 906.34h1.50v47.16h-1.50zM965.70 901.10h1.50v52.40h-1.50zM971.70 906.34h1.50v47.16h-1.50zM977.70 906.34h1.50v47.16h-1.50zM983.70 906.34h1.50v47.16h-1.50zM988.20 906.34h1.50v47.16h-1.50zM992.70 906.34h1.50v47.16h-1.50zM997.20 906.34h1.50v47.16h-1.50zM1001.70 906.34h1.50v47.16h-1.50zM1007.70 906.34h1.50v47.16h-1.50zM1013.70 906.34h1.50v47.16h-1.50zM1019.70 906.34h1.50v47.16h-1.50zM1025.70 906.34h1.50v47.16h-1.50zM1031.70 906.34h1.50v47.16h-1.50zM1037.70 906.34h1.50v47.16h-1.50zM1042.20 906.34h1.50v47.16h-1.50zM1046.70 738.66h1.50v214.84h-1.50zM1051.20 738.66h1.50v214.84h-1.50zM1055.70 738.66h1.50v214.84h-1.50zM1061.70 738.66h1.50v214.84h-1.50zM1067.70 733.42h1.50v220.08h-1.50zM1073.70 733.42h1.50v220.08h-1.50zM1079.70 733.42h1.50v220.08h-1.50zM1082.70 733.42h1.50v220.08h-1.50zM1085.70 733.42h1.50v220.08h-1.50zM1088.70 733.42h1.50v220.08h-1.50zM1091.70 733.42h1.50v220.08h-1.50zM1097.70 733.42h1.50v220.08h-1.50zM1103.70 728.18h1.50v225.32h-1.50zM1109.70 728.18h1.50v225.32h-1.50zM1114.20 728.18h1.50v225.32h-1.50zM1118.70 728.18h1.50v225.32h-1.50zM1123.20 728.18h1.50v225.32h-1.50zM1127.70 728.18h1.50v225.32h-1.50zM1132.20 722.94h1.50v230.56h-1.50zM1139.70 722.94h1.50v230.56h-1.50zM1145.70 722.94h1.50v230.56h-1.50zM1154.70 722.94h1.50v230.56h-1.50zM1159.20 722.94h1.50v230.56h-1.50zM1163.70 722.94h1.50v230.56h-1.50zM1168.20 722.94h1.50v230.56h-1.50zM1172.70 722.94h1.50v230.56h-1.50zM1177.20 722.94h1.50v230.56h-1.50zM1181.70 722.94h1.50v230.56h-1.50zM1186.20 722.94h1.50v230.56h-1.50zM1190.70 722.94h1.50v230.56h-1.50zM1195.20 722.94h1.50v230.56h-1.50zM1199.70 906.34h1.50v47.16h-1.50zM1204.20 906.34h1.50v47.16h-1.50zM1208.70 906.34h0.90v47.16h-0.90z"/>
<path fill="#4b3a9e" d="M731.80 900.20h1.30v1.8h-1.30zM733.30 902.30h1.30v1.8h-1.30zM734.80 905.44h1.30v1.8h-1.30zM736.30 905.44h1.30v1.8h-1.30zM736.30 900.24h1.30v1.8h-1.30zM737.80 905.44h1.30v1.8h-1.30zM739.30 905.44h1.30v1.8h-1.30zM740.80 905.44h1.30v1.8h-1.30zM742.30 905.44h1.30v1.8h-1.30zM743.80 905.44h1.30v1.8h-1.30zM745.30 905.44h1.30v1.8h-1.30zM746.80 753.48h1.30v1.8h-1.30zM748.30 753.48h1.30v1.8h-1.30zM748.30 748.28h1.30v1.8h-1.30zM749.80 753.48h1.30v1.8h-1.30zM749.80 748.28h1.30v1.8h-1.30zM751.30 753.48h1.30v1.8h-1.30zM752.80 748.24h1.30v1.8h-1.30zM752.80 743.04h1.30v1.8h-1.30zM754.30 748.24h1.30v1.8h-1.30zM755.80 748.24h1.30v1.8h-1.30zM757.30 748.24h1.30v1.8h-1.30zM757.30 743.04h1.30v1.8h-1.30zM758.80 748.24h1.30v1.8h-1.30zM758.80 743.04h1.30v1.8h-1.30zM760.30 748.24h1.30v1.8h-1.30zM761.80 748.24h1.30v1.8h-1.30zM761.80 743.04h1.30v1.8h-1.30zM763.30 748.24h1.30v1.8h-1.30zM764.80 748.24h1.30v1.8h-1.30zM764.80 743.04h1.30v1.8h-1.30zM766.30 748.24h1.30v1.8h-1.30zM766.30 743.04h1.30v1.8h-1.30zM767.80 748.24h1.30v1.8h-1.30zM769.30 748.24h1.30v1.8h-1.30zM770.80 743.00h1.30v1.8h-1.30zM770.80 737.80h1.30v1.8h-1.30zM772.30 743.00h1.30v1.8h-1.30zM772.30 737.80h1.30v1.8h-1.30zM773.80 743.00h1.30v1.8h-1.30zM775.30 743.00h1.30v1.8h-1.30zM776.80 743.00h1.30v1.8h-1.30zM778.30 743.00h1.30v1.8h-1.30zM779.80 743.00h1.30v1.8h-1.30zM779.80 737.80h1.30v1.8h-1.30zM781.30 743.00h1.30v1.8h-1.30zM782.80 743.00h1.30v1.8h-1.30zM782.80 737.80h1.30v1.8h-1.30zM784.30 743.00h1.30v1.8h-1.30zM784.30 737.80h1.30v1.8h-1.30zM785.80 743.00h1.30v1.8h-1.30zM787.30 743.00h1.30v1.8h-1.30zM787.30 737.80h1.30v1.8h-1.30zM788.80 743.00h1.30v1.8h-1.30zM790.30 743.00h1.30v1.8h-1.30zM791.80 737.76h1.30v1.8h-1.30zM793.30 737.76h1.30v1.8h-1.30zM794.80 737.76h1.30v1.8h-1.30zM794.80 732.56h1.30v1.8h-1.30zM796.30 737.76h1.30v1.8h-1.30zM797.80 737.76h1.30v1.8h-1.30zM797.80 732.56h1.30v1.8h-1.30zM799.30 737.76h1.30v1.8h-1.30zM800.80 737.76h1.30v1.8h-1.30zM802.30 737.76h1.30v1.8h-1.30zM803.80 737.76h1.30v1.8h-1.30zM803.80 732.56h1.30v1.8h-1.30zM805.30 737.76h1.30v1.8h-1.30zM806.80 737.76h1.30v1.8h-1.30zM808.30 737.76h1.30v1.8h-1.30zM809.80 737.76h1.30v1.8h-1.30zM809.80 732.56h1.30v1.8h-1.30zM811.30 737.76h1.30v1.8h-1.30zM812.80 737.76h1.30v1.8h-1.30zM814.30 737.76h1.30v1.8h-1.30zM815.80 737.76h1.30v1.8h-1.30zM817.30 737.76h1.30v1.8h-1.30zM817.30 732.56h1.30v1.8h-1.30zM818.80 737.76h1.30v1.8h-1.30zM820.30 737.76h1.30v1.8h-1.30zM820.30 732.56h1.30v1.8h-1.30zM821.80 737.76h1.30v1.8h-1.30zM823.30 737.76h1.30v1.8h-1.30zM824.80 737.76h1.30v1.8h-1.30zM826.30 737.76h1.30v1.8h-1.30zM827.80 737.76h1.30v1.8h-1.30zM829.30 737.76h1.30v1.8h-1.30zM830.80 737.76h1.30v1.8h-1.30zM832.30 737.76h1.30v1.8h-1.30zM833.80 737.76h1.30v1.8h-1.30zM835.30 737.76h1.30v1.8h-1.30zM835.30 732.56h1.30v1.8h-1.30zM836.80 737.76h1.30v1.8h-1.30zM838.30 732.52h1.30v1.8h-1.30zM839.80 732.52h1.30v1.8h-1.30zM841.30 732.52h1.30v1.8h-1.30zM842.80 732.52h1.30v1.8h-1.30zM844.30 732.52h1.30v1.8h-1.30zM844.30 727.32h1.30v1.8h-1.30zM845.80 732.52h1.30v1.8h-1.30zM847.30 732.52h1.30v1.8h-1.30zM848.80 732.52h1.30v1.8h-1.30zM850.30 732.52h1.30v1.8h-1.30zM851.80 732.52h1.30v1.8h-1.30zM853.30 732.52h1.30v1.8h-1.30zM854.80 732.52h1.30v1.8h-1.30zM856.30 732.52h1.30v1.8h-1.30zM857.80 732.52h1.30v1.8h-1.30zM859.30 732.52h1.30v1.8h-1.30zM860.80 732.52h1.30v1.8h-1.30zM860.80 727.32h1.30v1.8h-1.30zM862.30 732.52h1.30v1.8h-1.30zM863.80 732.52h1.30v1.8h-1.30zM863.80 727.32h1.30v1.8h-1.30zM865.30 732.52h1.30v1.8h-1.30zM866.80 732.52h1.30v1.8h-1.30zM866.80 727.32h1.30v1.8h-1.30zM868.30 732.52h1.30v1.8h-1.30zM869.80 732.52h1.30v1.8h-1.30zM869.80 727.32h1.30v1.8h-1.30zM871.30 732.52h1.30v1.8h-1.30zM872.80 732.52h1.30v1.8h-1.30zM872.80 727.32h1.30v1.8h-1.30zM874.30 732.52h1.30v1.8h-1.30zM875.80 732.52h1.30v1.8h-1.30zM875.80 727.32h1.30v1.8h-1.30zM877.30 732.52h1.30v1.8h-1.30zM878.80 732.52h1.30v1.8h-1.30zM880.30 732.52h1.30v1.8h-1.30zM880.30 727.32h1.30v1.8h-1.30zM881.80 732.52h1.30v1.8h-1.30zM883.30 732.52h1.30v1.8h-1.30zM884.80 732.52h1.30v1.8h-1.30zM884.80 727.32h1.30v1.8h-1.30zM886.30 732.52h1.30v1.8h-1.30zM887.80 732.52h1.30v1.8h-1.30zM889.30 732.52h1.30v1.8h-1.30zM890.80 732.52h1.30v1.8h-1.30zM892.30 732.52h1.30v1.8h-1.30zM893.80 732.52h1.30v1.8h-1.30zM895.30 732.52h1.30v1.8h-1.30zM895.30 727.32h1.30v1.8h-1.30zM896.80 905.44h1.30v1.8h-1.30zM898.30 905.44h1.30v1.8h-1.30zM899.80 905.44h1.30v1.8h-1.30zM901.30 905.44h1.30v1.8h-1.30zM902.80 905.44h1.30v1.8h-1.30zM904.30 905.44h1.30v1.8h-1.30zM905.80 905.44h1.30v1.8h-1.30zM907.30 905.44h1.30v1.8h-1.30zM908.80 905.44h1.30v1.8h-1.30zM908.80 900.24h1.30v1.8h-1.30zM910.30 905.44h1.30v1.8h-1.30zM911.80 905.44h1.30v1.8h-1.30zM913.30 905.44h1.30v1.8h-1.30zM914.80 905.44h1.30v1.8h-1.30zM916.30 905.44h1.30v1.8h-1.30zM917.80 905.44h1.30v1.8h-1.30zM919.30 905.44h1.30v1.8h-1.30zM919.30 900.24h1.30v1.8h-1.30zM920.80 905.44h1.30v1.8h-1.30zM922.30 905.44h1.30v1.8h-1.30zM923.80 905.44h1.30v1.8h-1.30zM925.30 905.44h1.30v1.8h-1.30zM926.80 905.44h1.30v1.8h-1.30zM928.30 905.44h1.30v1.8h-1.30zM929.80 905.44h1.30v1.8h-1.30zM931.30 905.44h1.30v1.8h-1.30zM932.80 905.44h1.30v1.8h-1.30zM932.80 900.24h1.30v1.8h-1.30zM934.30 905.44h1.30v1.8h-1.30zM934.30 900.24h1.30v1.8h-1.30zM935.80 905.44h1.30v1.8h-1.30zM937.30 905.44h1.30v1.8h-1.30zM938.80 900.20h1.30v1.8h-1.30zM940.30 905.44h1.30v1.8h-1.30zM941.80 905.44h1.30v1.8h-1.30zM943.30 905.44h1.30v1.8h-1.30zM944.80 910.68h1.30v1.8h-1.30zM946.30 900.20h1.30v1.8h-1.30zM946.30 895.00h1.30v1.8h-1.30zM947.80 905.44h1.30v1.8h-1.30zM949.30 905.44h1.30v1.8h-1.30zM950.80 905.44h1.30v1.8h-1.30zM952.30 905.44h1.30v1.8h-1.30zM953.80 905.44h1.30v1.8h-1.30zM955.30 905.44h1.30v1.8h-1.30zM956.80 905.44h1.30v1.8h-1.30zM958.30 905.44h1.30v1.8h-1.30zM959.80 905.44h1.30v1.8h-1.30zM961.30 905.44h1.30v1.8h-1.30zM962.80 905.44h1.30v1.8h-1.30zM964.30 905.44h1.30v1.8h-1.30zM964.30 900.24h1.30v1.8h-1.30zM965.80 900.20h1.30v1.8h-1.30zM967.30 905.44h1.30v1.8h-1.30zM968.80 905.44h1.30v1.8h-1.30zM970.30 905.44h1.30v1.8h-1.30zM971.80 905.44h1.30v1.8h-1.30zM973.30 905.44h1.30v1.8h-1.30zM974.80 905.44h1.30v1.8h-1.30zM976.30 900.20h1.30v1.8h-1.30zM977.80 905.44h1.30v1.8h-1.30zM979.30 905.44h1.30v1.8h-1.30zM980.80 905.44h1.30v1.8h-1.30zM982.30 905.44h1.30v1.8h-1.30zM983.80 905.44h1.30v1.8h-1.30zM985.30 905.44h1.30v1.8h-1.30zM986.80 905.44h1.30v1.8h-1.30zM988.30 905.44h1.30v1.8h-1.30zM989.80 905.44h1.30v1.8h-1.30zM991.30 905.44h1.30v1.8h-1.30zM992.80 905.44h1.30v1.8h-1.30zM994.30 905.44h1.30v1.8h-1.30zM995.80 905.44h1.30v1.8h-1.30zM997.30 905.44h1.30v1.8h-1.30zM998.80 905.44h1.30v1.8h-1.30zM1000.30 905.44h1.30v1.8h-1.30zM1001.80 905.44h1.30v1.8h-1.30zM1003.30 905.44h1.30v1.8h-1.30zM1004.80 905.44h1.30v1.8h-1.30zM1006.30 905.44h1.30v1.8h-1.30zM1007.80 905.44h1.30v1.8h-1.30zM1009.30 905.44h1.30v1.8h-1.30zM1010.80 905.44h1.30v1.8h-1.30zM1012.30 905.44h1.30v1.8h-1.30zM1013.80 905.44h1.30v1.8h-1.30zM1015.30 905.44h1.30v1.8h-1.30zM1016.80 905.44h1.30v1.8h-1.30zM1018.30 905.44h1.30v1.8h-1.30zM1019.80 905.44h1.30v1.8h-1.30zM1021.30 905.44h1.30v1.8h-1.30zM1022.80 905.44h1.30v1.8h-1.30zM1024.30 905.44h1.30v1.8h-1.30zM1025.80 905.44h1.30v1.8h-1.30zM1027.30 905.44h1.30v1.8h-1.30zM1028.80 905.44h1.30v1.8h-1.30zM1030.30 900.20h1.30v1.8h-1.30zM1031.80 905.44h1.30v1.8h-1.30zM1033.30 905.44h1.30v1.8h-1.30zM1034.80 905.44h1.30v1.8h-1.30zM1036.30 905.44h1.30v1.8h-1.30zM1037.80 905.44h1.30v1.8h-1.30zM1039.30 905.44h1.30v1.8h-1.30zM1040.80 905.44h1.30v1.8h-1.30zM1042.30 905.44h1.30v1.8h-1.30zM1043.80 905.44h1.30v1.8h-1.30zM1043.80 900.24h1.30v1.8h-1.30zM1045.30 905.44h1.30v1.8h-1.30zM1046.80 737.76h1.30v1.8h-1.30zM1046.80 732.56h1.30v1.8h-1.30zM1048.30 737.76h1.30v1.8h-1.30zM1048.30 732.56h1.30v1.8h-1.30zM1049.80 737.76h1.30v1.8h-1.30zM1049.80 732.56h1.30v1.8h-1.30zM1051.30 737.76h1.30v1.8h-1.30zM1051.30 732.56h1.30v1.8h-1.30zM1052.80 737.76h1.30v1.8h-1.30zM1054.30 737.76h1.30v1.8h-1.30zM1054.30 732.56h1.30v1.8h-1.30zM1055.80 737.76h1.30v1.8h-1.30zM1057.30 737.76h1.30v1.8h-1.30zM1058.80 737.76h1.30v1.8h-1.30zM1058.80 732.56h1.30v1.8h-1.30zM1060.30 737.76h1.30v1.8h-1.30zM1061.80 737.76h1.30v1.8h-1.30zM1063.30 737.76h1.30v1.8h-1.30zM1063.30 732.56h1.30v1.8h-1.30zM1064.80 737.76h1.30v1.8h-1.30zM1066.30 732.52h1.30v1.8h-1.30zM1067.80 732.52h1.30v1.8h-1.30zM1069.30 732.52h1.30v1.8h-1.30zM1070.80 732.52h1.30v1.8h-1.30zM1072.30 732.52h1.30v1.8h-1.30zM1073.80 732.52h1.30v1.8h-1.30zM1075.30 732.52h1.30v1.8h-1.30zM1076.80 732.52h1.30v1.8h-1.30zM1078.30 732.52h1.30v1.8h-1.30zM1079.80 732.52h1.30v1.8h-1.30zM1079.80 727.32h1.30v1.8h-1.30zM1081.30 732.52h1.30v1.8h-1.30zM1081.30 727.32h1.30v1.8h-1.30zM1082.80 732.52h1.30v1.8h-1.30zM1084.30 732.52h1.30v1.8h-1.30zM1085.80 732.52h1.30v1.8h-1.30zM1087.30 732.52h1.30v1.8h-1.30zM1088.80 732.52h1.30v1.8h-1.30zM1090.30 732.52h1.30v1.8h-1.30zM1090.30 727.32h1.30v1.8h-1.30zM1091.80 732.52h1.30v1.8h-1.30zM1091.80 727.32h1.30v1.8h-1.30zM1093.30 732.52h1.30v1.8h-1.30zM1093.30 727.32h1.30v1.8h-1.30zM1094.80 732.52h1.30v1.8h-1.30zM1096.30 732.52h1.30v1.8h-1.30zM1097.80 732.52h1.30v1.8h-1.30zM1099.30 732.52h1.30v1.8h-1.30zM1099.30 727.32h1.30v1.8h-1.30zM1100.80 732.52h1.30v1.8h-1.30zM1100.80 727.32h1.30v1.8h-1.30zM1102.30 732.52h1.30v1.8h-1.30zM1103.80 727.28h1.30v1.8h-1.30zM1105.30 727.28h1.30v1.8h-1.30zM1105.30 722.08h1.30v1.8h-1.30zM1106.80 727.28h1.30v1.8h-1.30zM1106.80 722.08h1.30v1.8h-1.30zM1108.30 727.28h1.30v1.8h-1.30zM1108.30 722.08h1.30v1.8h-1.30zM1109.80 727.28h1.30v1.8h-1.30zM1109.80 722.08h1.30v1.8h-1.30zM1111.30 727.28h1.30v1.8h-1.30zM1112.80 727.28h1.30v1.8h-1.30zM1112.80 722.08h1.30v1.8h-1.30zM1114.30 727.28h1.30v1.8h-1.30zM1115.80 727.28h1.30v1.8h-1.30zM1115.80 722.08h1.30v1.8h-1.30zM1117.30 727.28h1.30v1.8h-1.30zM1118.80 727.28h1.30v1.8h-1.30zM1120.30 727.28h1.30v1.8h-1.30zM1121.80 727.28h1.30v1.8h-1.30zM1123.30 727.28h1.30v1.8h-1.30zM1123.30 722.08h1.30v1.8h-1.30zM1124.80 727.28h1.30v1.8h-1.30zM1126.30 727.28h1.30v1.8h-1.30zM1126.30 722.08h1.30v1.8h-1.30zM1127.80 727.28h1.30v1.8h-1.30zM1129.30 727.28h1.30v1.8h-1.30zM1129.30 722.08h1.30v1.8h-1.30zM1130.80 727.28h1.30v1.8h-1.30zM1132.30 722.04h1.30v1.8h-1.30zM1133.80 722.04h1.30v1.8h-1.30zM1135.30 722.04h1.30v1.8h-1.30zM1136.80 722.04h1.30v1.8h-1.30zM1136.80 716.84h1.30v1.8h-1.30zM1138.30 722.04h1.30v1.8h-1.30zM1138.30 716.84h1.30v1.8h-1.30zM1139.80 722.04h1.30v1.8h-1.30zM1141.30 722.04h1.30v1.8h-1.30zM1142.80 722.04h1.30v1.8h-1.30zM1142.80 716.84h1.30v1.8h-1.30zM1144.30 722.04h1.30v1.8h-1.30zM1144.30 716.84h1.30v1.8h-1.30zM1145.80 722.04h1.30v1.8h-1.30zM1147.30 722.04h1.30v1.8h-1.30zM1147.30 716.84h1.30v1.8h-1.30zM1148.80 722.04h1.30v1.8h-1.30zM1150.30 722.04h1.30v1.8h-1.30zM1151.80 722.04h1.30v1.8h-1.30zM1153.30 722.04h1.30v1.8h-1.30zM1153.30 716.84h1.30v1.8h-1.30zM1154.80 722.04h1.30v1.8h-1.30zM1156.30 722.04h1.30v1.8h-1.30zM1157.80 722.04h1.30v1.8h-1.30zM1159.30 722.04h1.30v1.8h-1.30zM1160.80 722.04h1.30v1.8h-1.30zM1160.80 716.84h1.30v1.8h-1.30zM1162.30 722.04h1.30v1.8h-1.30zM1163.80 722.04h1.30v1.8h-1.30zM1165.30 722.04h1.30v1.8h-1.30zM1166.80 722.04h1.30v1.8h-1.30zM1166.80 716.84h1.30v1.8h-1.30zM1168.30 722.04h1.30v1.8h-1.30zM1168.30 716.84h1.30v1.8h-1.30zM1169.80 722.04h1.30v1.8h-1.30zM1171.30 722.04h1.30v1.8h-1.30zM1172.80 722.04h1.30v1.8h-1.30zM1174.30 722.04h1.30v1.8h-1.30zM1175.80 722.04h1.30v1.8h-1.30zM1177.30 722.04h1.30v1.8h-1.30zM1178.80 722.04h1.30v1.8h-1.30zM1178.80 716.84h1.30v1.8h-1.30zM1180.30 722.04h1.30v1.8h-1.30zM1181.80 722.04h1.30v1.8h-1.30zM1181.80 716.84h1.30v1.8h-1.30zM1183.30 722.04h1.30v1.8h-1.30zM1184.80 722.04h1.30v1.8h-1.30zM1184.80 716.84h1.30v1.8h-1.30zM1186.30 722.04h1.30v1.8h-1.30zM1187.80 722.04h1.30v1.8h-1.30zM1189.30 722.04h1.30v1.8h-1.30zM1190.80 722.04h1.30v1.8h-1.30zM1192.30 722.04h1.30v1.8h-1.30zM1192.30 716.84h1.30v1.8h-1.30zM1193.80 722.04h1.30v1.8h-1.30zM1195.30 722.04h1.30v1.8h-1.30zM1196.80 905.44h1.30v1.8h-1.30zM1198.30 905.44h1.30v1.8h-1.30zM1199.80 905.44h1.30v1.8h-1.30zM1201.30 905.44h1.30v1.8h-1.30zM1202.80 905.44h1.30v1.8h-1.30zM1204.30 905.44h1.30v1.8h-1.30zM1205.80 905.44h1.30v1.8h-1.30zM1207.30 905.44h1.30v1.8h-1.30zM1208.80 905.44h0.70v1.8h-0.70z"/>
<path d="M731.3 522.5H1210.8" stroke="#000" stroke-width="2.6"/>
<path d="M731.3 639.5H1210.8" stroke="#111" stroke-width="1.8"/>
<path d="M731.3 953.5H1212.0" stroke="#000" stroke-width="2.7"/>
<path d="M731.3 521.2V954.8M1210.8 521.2V954.8" stroke="#000" stroke-width="2.6"/>
<path d="M724.8 953.50H731.3M724.8 901.10H731.3M724.8 848.70H731.3M724.8 796.30H731.3M724.8 743.90H731.3M724.8 691.50H731.3M724.8 639.10H731.3M727.8 927.30H731.3M727.8 874.90H731.3M727.8 822.50H731.3M727.8 770.10H731.3M727.8 717.70H731.3M727.8 665.30H731.3M731.70 953.5V959.5M806.70 953.5V959.5M881.70 953.5V959.5M956.70 953.5V959.5M1031.70 953.5V959.5M1106.70 953.5V959.5M1181.70 953.5V959.5M769.20 953.5V956.5M844.20 953.5V956.5M919.20 953.5V956.5M994.20 953.5V956.5M1069.20 953.5V956.5M1144.20 953.5V956.5M1210.8 639.50H1215.3M1210.8 616.10H1215.3M1210.8 592.70H1215.3M1210.8 569.30H1215.3M1210.8 545.90H1215.3M1210.8 522.50H1215.3" stroke="#000" stroke-width="2.4"/>
<text x="720.4" y="962.7" font-size="26.5" font-weight="bold" fill="#e50b15" text-anchor="end" textLength="33.0" lengthAdjust="spacingAndGlyphs" stroke="#e50b15" stroke-width="0.32">0.0</text>
<text x="720.4" y="910.3" font-size="26.5" font-weight="bold" fill="#e50b15" text-anchor="end" textLength="33.0" lengthAdjust="spacingAndGlyphs" stroke="#e50b15" stroke-width="0.32">0.5</text>
<text x="720.4" y="857.9" font-size="26.5" font-weight="bold" fill="#e50b15" text-anchor="end" textLength="33.0" lengthAdjust="spacingAndGlyphs" stroke="#e50b15" stroke-width="0.32">1.0</text>
<text x="720.4" y="805.5" font-size="26.5" font-weight="bold" fill="#e50b15" text-anchor="end" textLength="33.0" lengthAdjust="spacingAndGlyphs" stroke="#e50b15" stroke-width="0.32">1.5</text>
<text x="720.4" y="753.1" font-size="26.5" font-weight="bold" fill="#e50b15" text-anchor="end" textLength="33.0" lengthAdjust="spacingAndGlyphs" stroke="#e50b15" stroke-width="0.32">2.0</text>
<text x="720.4" y="700.7" font-size="26.5" font-weight="bold" fill="#e50b15" text-anchor="end" textLength="33.0" lengthAdjust="spacingAndGlyphs" stroke="#e50b15" stroke-width="0.32">2.5</text>
<text x="720.4" y="648.3" font-size="26.5" font-weight="bold" fill="#e50b15" text-anchor="end" textLength="33.0" lengthAdjust="spacingAndGlyphs" stroke="#e50b15" stroke-width="0.32">3.0</text>
<text x="731.7" y="982.5" font-size="23" font-weight="bold" fill="#000" text-anchor="middle" textLength="10.7" lengthAdjust="spacingAndGlyphs" stroke="#000" stroke-width="0.28">0</text>
<text x="806.7" y="982.5" font-size="23" font-weight="bold" fill="#000" text-anchor="middle" textLength="21.4" lengthAdjust="spacingAndGlyphs" stroke="#000" stroke-width="0.28">50</text>
<text x="881.7" y="982.5" font-size="23" font-weight="bold" fill="#000" text-anchor="middle" textLength="32.1" lengthAdjust="spacingAndGlyphs" stroke="#000" stroke-width="0.28">100</text>
<text x="956.7" y="982.5" font-size="23" font-weight="bold" fill="#000" text-anchor="middle" textLength="32.1" lengthAdjust="spacingAndGlyphs" stroke="#000" stroke-width="0.28">150</text>
<text x="1031.7" y="982.5" font-size="23" font-weight="bold" fill="#000" text-anchor="middle" textLength="32.1" lengthAdjust="spacingAndGlyphs" stroke="#000" stroke-width="0.28">200</text>
<text x="1106.7" y="982.5" font-size="23" font-weight="bold" fill="#000" text-anchor="middle" textLength="32.1" lengthAdjust="spacingAndGlyphs" stroke="#000" stroke-width="0.28">250</text>
<text x="1181.7" y="982.5" font-size="23" font-weight="bold" fill="#000" text-anchor="middle" textLength="32.1" lengthAdjust="spacingAndGlyphs" stroke="#000" stroke-width="0.28">300</text>
<text x="1217.4" y="645.1" font-size="16.5" font-weight="bold" fill="#000" text-anchor="start" textLength="20.6" lengthAdjust="spacingAndGlyphs" stroke="#000" stroke-width="0.20">0.0</text>
<text x="1217.4" y="621.7" font-size="16.5" font-weight="bold" fill="#000" text-anchor="start" textLength="20.6" lengthAdjust="spacingAndGlyphs" stroke="#000" stroke-width="0.20">0.3</text>
<text x="1217.4" y="598.3" font-size="16.5" font-weight="bold" fill="#000" text-anchor="start" textLength="20.6" lengthAdjust="spacingAndGlyphs" stroke="#000" stroke-width="0.20">0.6</text>
<text x="1217.4" y="574.9" font-size="16.5" font-weight="bold" fill="#000" text-anchor="start" textLength="20.6" lengthAdjust="spacingAndGlyphs" stroke="#000" stroke-width="0.20">0.9</text>
<text x="1217.4" y="551.5" font-size="16.5" font-weight="bold" fill="#000" text-anchor="start" textLength="20.6" lengthAdjust="spacingAndGlyphs" stroke="#000" stroke-width="0.20">1.2</text>
<text x="1217.4" y="528.1" font-size="16.5" font-weight="bold" fill="#000" text-anchor="start" textLength="20.6" lengthAdjust="spacingAndGlyphs" stroke="#000" stroke-width="0.20">1.5</text>
<text x="860.0" y="1026.2" font-size="35.5" font-weight="bold" fill="#000" text-anchor="start" textLength="222.4" lengthAdjust="spacingAndGlyphs" stroke="#000" stroke-width="0.43">Pulse number</text>
<text transform="translate(652.0,797.7) rotate(-90)" x="0" y="12.7" font-size="38.5" font-weight="bold" fill="#e50b15" stroke="#e50b15" stroke-width="0.46" text-anchor="middle" textLength="246.0" lengthAdjust="spacingAndGlyphs">Current (μA)</text>
<text transform="translate(1255.1,577.3) rotate(-90)" x="0" y="8.1" font-size="24.5" font-weight="bold" fill="#000" stroke="#000" stroke-width="0.29" text-anchor="middle" textLength="129.0" lengthAdjust="spacingAndGlyphs">Voltage (V)</text>
<text x="638.8" y="540.0" font-size="37" font-weight="bold" fill="#000" text-anchor="start" textLength="41.2" lengthAdjust="spacingAndGlyphs" stroke="#000" stroke-width="0.44">(c)</text>
<text x="735.5" y="671.2" font-size="34.5" font-weight="normal" fill="#000" text-anchor="start" textLength="55.7" lengthAdjust="spacingAndGlyphs">30 s</text>
<path fill="#736d69" d="M1420.80 561.00h1.50v77.60h-1.50zM1426.80 561.00h1.50v77.60h-1.50zM1434.30 561.00h1.50v77.60h-1.50zM1438.80 561.00h1.50v77.60h-1.50zM1440.30 561.00h1.50v77.60h-1.50zM1449.30 561.00h1.50v77.60h-1.50zM1453.80 561.00h1.50v77.60h-1.50zM1461.30 561.00h1.50v77.60h-1.50zM1465.80 561.00h1.50v77.60h-1.50zM1467.30 561.00h1.50v77.60h-1.50zM1483.80 561.00h1.50v77.60h-1.50zM1492.80 561.00h1.50v77.60h-1.50zM1497.30 561.00h1.50v77.60h-1.50zM1516.80 561.00h1.50v77.60h-1.50zM1534.80 561.00h1.50v77.60h-1.50zM1542.30 561.00h1.50v77.60h-1.50zM1548.30 561.00h1.50v77.60h-1.50zM1570.80 611.44h1.50v27.16h-1.50zM1572.30 611.44h1.50v27.16h-1.50zM1575.30 611.44h1.50v27.16h-1.50zM1582.80 611.44h1.50v27.16h-1.50zM1584.30 611.44h1.50v27.16h-1.50zM1587.30 611.44h1.50v27.16h-1.50zM1594.80 611.44h1.50v27.16h-1.50zM1605.30 611.44h1.50v27.16h-1.50zM1609.80 611.44h1.50v27.16h-1.50zM1620.30 611.44h1.50v27.16h-1.50zM1626.30 611.44h1.50v27.16h-1.50zM1630.80 611.44h1.50v27.16h-1.50zM1642.80 611.44h1.50v27.16h-1.50zM1650.30 611.44h1.50v27.16h-1.50zM1659.30 611.44h1.50v27.16h-1.50zM1669.80 611.44h1.50v27.16h-1.50zM1681.80 611.44h1.50v27.16h-1.50zM1696.80 611.44h1.50v27.16h-1.50zM1701.30 611.44h1.50v27.16h-1.50zM1702.80 611.44h1.50v27.16h-1.50zM1708.80 611.44h1.50v27.16h-1.50zM1713.30 611.44h1.50v27.16h-1.50zM1720.80 561.00h1.50v77.60h-1.50zM1722.30 561.00h1.50v77.60h-1.50zM1728.30 561.00h1.50v77.60h-1.50zM1735.80 561.00h1.50v77.60h-1.50zM1737.30 561.00h1.50v77.60h-1.50zM1740.30 561.00h1.50v77.60h-1.50zM1767.30 561.00h1.50v77.60h-1.50zM1776.30 561.00h1.50v77.60h-1.50zM1785.30 561.00h1.50v77.60h-1.50zM1794.30 561.00h1.50v77.60h-1.50zM1795.80 561.00h1.50v77.60h-1.50zM1800.30 561.00h1.50v77.60h-1.50zM1812.30 561.00h1.50v77.60h-1.50zM1828.80 561.00h1.50v77.60h-1.50zM1836.30 561.00h1.50v77.60h-1.50zM1852.80 561.00h1.50v77.60h-1.50zM1866.30 561.00h1.50v77.60h-1.50zM1881.30 611.44h1.50v27.16h-1.50z"/>
<path fill="#7f7975" d="M1411.80 611.44h1.50v27.16h-1.50zM1413.30 611.44h1.50v27.16h-1.50zM1429.80 561.00h1.50v77.60h-1.50zM1446.30 561.00h1.50v77.60h-1.50zM1470.30 561.00h1.50v77.60h-1.50zM1480.80 561.00h1.50v77.60h-1.50zM1488.30 561.00h1.50v77.60h-1.50zM1515.30 561.00h1.50v77.60h-1.50zM1519.80 561.00h1.50v77.60h-1.50zM1521.30 561.00h1.50v77.60h-1.50zM1524.30 561.00h1.50v77.60h-1.50zM1528.80 561.00h1.50v77.60h-1.50zM1536.30 561.00h1.50v77.60h-1.50zM1539.30 561.00h1.50v77.60h-1.50zM1557.30 561.00h1.50v77.60h-1.50zM1578.30 611.44h1.50v27.16h-1.50zM1647.30 611.44h1.50v27.16h-1.50zM1654.80 611.44h1.50v27.16h-1.50zM1663.80 611.44h1.50v27.16h-1.50zM1668.30 611.44h1.50v27.16h-1.50zM1674.30 611.44h1.50v27.16h-1.50zM1677.30 611.44h1.50v27.16h-1.50zM1683.30 611.44h1.50v27.16h-1.50zM1689.30 611.44h1.50v27.16h-1.50zM1692.30 611.44h1.50v27.16h-1.50zM1704.30 611.44h1.50v27.16h-1.50zM1714.80 611.44h1.50v27.16h-1.50zM1725.30 561.00h1.50v77.60h-1.50zM1731.30 561.00h1.50v77.60h-1.50zM1741.80 561.00h1.50v77.60h-1.50zM1746.30 561.00h1.50v77.60h-1.50zM1752.30 561.00h1.50v77.60h-1.50zM1758.30 561.00h1.50v77.60h-1.50zM1764.30 561.00h1.50v77.60h-1.50zM1791.30 561.00h1.50v77.60h-1.50zM1803.30 561.00h1.50v77.60h-1.50zM1816.80 561.00h1.50v77.60h-1.50zM1818.30 561.00h1.50v77.60h-1.50zM1845.30 561.00h1.50v77.60h-1.50zM1867.80 561.00h1.50v77.60h-1.50zM1872.30 611.44h1.50v27.16h-1.50z"/>
<path fill="#8b8581" d="M1408.80 611.44h1.50v27.16h-1.50zM1416.30 611.44h1.50v27.16h-1.50zM1417.80 611.44h1.50v27.16h-1.50zM1422.30 561.00h1.50v77.60h-1.50zM1458.30 561.00h1.50v77.60h-1.50zM1462.80 561.00h1.50v77.60h-1.50zM1476.30 561.00h1.50v77.60h-1.50zM1485.30 561.00h1.50v77.60h-1.50zM1489.80 561.00h1.50v77.60h-1.50zM1494.30 561.00h1.50v77.60h-1.50zM1498.80 561.00h1.50v77.60h-1.50zM1501.80 561.00h1.50v77.60h-1.50zM1503.30 561.00h1.50v77.60h-1.50zM1512.30 561.00h1.50v77.60h-1.50zM1530.30 561.00h1.50v77.60h-1.50zM1563.30 561.00h1.50v77.60h-1.50zM1581.30 611.44h1.50v27.16h-1.50zM1593.30 611.44h1.50v27.16h-1.50zM1597.80 611.44h1.50v27.16h-1.50zM1602.30 611.44h1.50v27.16h-1.50zM1624.80 611.44h1.50v27.16h-1.50zM1629.30 611.44h1.50v27.16h-1.50zM1635.30 611.44h1.50v27.16h-1.50zM1641.30 611.44h1.50v27.16h-1.50zM1644.30 611.44h1.50v27.16h-1.50zM1660.80 611.44h1.50v27.16h-1.50zM1665.30 611.44h1.50v27.16h-1.50zM1672.80 611.44h1.50v27.16h-1.50zM1678.80 611.44h1.50v27.16h-1.50zM1695.30 611.44h1.50v27.16h-1.50zM1698.30 611.44h1.50v27.16h-1.50zM1710.30 611.44h1.50v27.16h-1.50zM1719.30 611.44h1.50v27.16h-1.50zM1732.80 561.00h1.50v77.60h-1.50zM1744.80 561.00h1.50v77.60h-1.50zM1749.30 561.00h1.50v77.60h-1.50zM1755.30 561.00h1.50v77.60h-1.50zM1761.30 561.00h1.50v77.60h-1.50zM1770.30 561.00h1.50v77.60h-1.50zM1773.30 561.00h1.50v77.60h-1.50zM1821.30 561.00h1.50v77.60h-1.50zM1830.30 561.00h1.50v77.60h-1.50zM1833.30 561.00h1.50v77.60h-1.50zM1834.80 561.00h1.50v77.60h-1.50zM1840.80 561.00h1.50v77.60h-1.50zM1843.80 561.00h1.50v77.60h-1.50zM1848.30 561.00h1.50v77.60h-1.50zM1863.30 561.00h1.50v77.60h-1.50z"/>
<path fill="#97918d" d="M1407.30 611.44h1.50v27.16h-1.50zM1425.30 561.00h1.50v77.60h-1.50zM1431.30 561.00h1.50v77.60h-1.50zM1435.80 561.00h1.50v77.60h-1.50zM1443.30 561.00h1.50v77.60h-1.50zM1452.30 561.00h1.50v77.60h-1.50zM1456.80 561.00h1.50v77.60h-1.50zM1471.80 561.00h1.50v77.60h-1.50zM1474.80 561.00h1.50v77.60h-1.50zM1479.30 561.00h1.50v77.60h-1.50zM1506.30 561.00h1.50v77.60h-1.50zM1507.80 561.00h1.50v77.60h-1.50zM1510.80 561.00h1.50v77.60h-1.50zM1525.80 561.00h1.50v77.60h-1.50zM1533.30 561.00h1.50v77.60h-1.50zM1540.80 561.00h1.50v77.60h-1.50zM1545.30 561.00h1.50v77.60h-1.50zM1551.30 561.00h1.50v77.60h-1.50zM1554.30 561.00h1.50v77.60h-1.50zM1560.30 561.00h1.50v77.60h-1.50zM1566.30 561.00h1.50v77.60h-1.50zM1569.30 561.00h1.50v77.60h-1.50zM1576.80 611.44h1.50v27.16h-1.50zM1588.80 611.44h1.50v27.16h-1.50zM1590.30 611.44h1.50v27.16h-1.50zM1596.30 611.44h1.50v27.16h-1.50zM1600.80 611.44h1.50v27.16h-1.50zM1606.80 611.44h1.50v27.16h-1.50zM1611.30 611.44h1.50v27.16h-1.50zM1614.30 611.44h1.50v27.16h-1.50zM1617.30 611.44h1.50v27.16h-1.50zM1618.80 611.44h1.50v27.16h-1.50zM1623.30 611.44h1.50v27.16h-1.50zM1632.30 611.44h1.50v27.16h-1.50zM1636.80 611.44h1.50v27.16h-1.50zM1638.30 611.44h1.50v27.16h-1.50zM1651.80 611.44h1.50v27.16h-1.50zM1656.30 611.44h1.50v27.16h-1.50zM1686.30 611.44h1.50v27.16h-1.50zM1690.80 611.44h1.50v27.16h-1.50zM1707.30 611.44h1.50v27.16h-1.50zM1716.30 611.44h1.50v27.16h-1.50zM1726.80 561.00h1.50v77.60h-1.50zM1750.80 561.00h1.50v77.60h-1.50zM1779.30 561.00h1.50v77.60h-1.50zM1782.30 561.00h1.50v77.60h-1.50zM1788.30 561.00h1.50v77.60h-1.50zM1798.80 561.00h1.50v77.60h-1.50zM1804.80 561.00h1.50v77.60h-1.50zM1807.80 561.00h1.50v77.60h-1.50zM1809.30 561.00h1.50v77.60h-1.50zM1813.80 561.00h1.50v77.60h-1.50zM1822.80 561.00h1.50v77.60h-1.50zM1827.30 561.00h1.50v77.60h-1.50zM1839.30 561.00h1.50v77.60h-1.50zM1849.80 561.00h1.50v77.60h-1.50zM1854.30 561.00h1.50v77.60h-1.50zM1857.30 561.00h1.50v77.60h-1.50zM1858.80 561.00h1.50v77.60h-1.50zM1861.80 561.00h1.50v77.60h-1.50zM1870.80 611.44h1.50v27.16h-1.50zM1875.30 611.44h1.50v27.16h-1.50zM1876.80 611.44h1.50v27.16h-1.50zM1879.80 611.44h1.50v27.16h-1.50zM1884.30 611.44h1.50v27.16h-1.50z"/>
<path fill="#c6c2be" d="M1405.80 611.44h1.50v27.16h-1.50zM1410.30 611.44h1.50v27.16h-1.50zM1414.80 611.44h1.50v27.16h-1.50zM1423.80 561.00h1.50v77.60h-1.50zM1441.80 561.00h1.50v77.60h-1.50zM1447.80 561.00h1.50v77.60h-1.50zM1455.30 561.00h1.50v77.60h-1.50zM1459.80 561.00h1.50v77.60h-1.50zM1464.30 561.00h1.50v77.60h-1.50zM1473.30 561.00h1.50v77.60h-1.50zM1482.30 561.00h1.50v77.60h-1.50zM1495.80 561.00h1.50v77.60h-1.50zM1513.80 561.00h1.50v77.60h-1.50zM1518.30 561.00h1.50v77.60h-1.50zM1522.80 561.00h1.50v77.60h-1.50zM1537.80 561.00h1.50v77.60h-1.50zM1543.80 561.00h1.50v77.60h-1.50zM1546.80 561.00h1.50v77.60h-1.50zM1552.80 561.00h1.50v77.60h-1.50zM1555.80 561.00h1.50v77.60h-1.50zM1558.80 561.00h1.50v77.60h-1.50zM1561.80 561.00h1.50v77.60h-1.50zM1579.80 611.44h1.50v27.16h-1.50zM1585.80 611.44h1.50v27.16h-1.50zM1599.30 611.44h1.50v27.16h-1.50zM1612.80 611.44h1.50v27.16h-1.50zM1615.80 611.44h1.50v27.16h-1.50zM1621.80 611.44h1.50v27.16h-1.50zM1633.80 611.44h1.50v27.16h-1.50zM1639.80 611.44h1.50v27.16h-1.50zM1662.30 611.44h1.50v27.16h-1.50zM1666.80 611.44h1.50v27.16h-1.50zM1671.30 611.44h1.50v27.16h-1.50zM1680.30 611.44h1.50v27.16h-1.50zM1705.80 611.44h1.50v27.16h-1.50zM1717.80 611.44h1.50v27.16h-1.50zM1729.80 561.00h1.50v77.60h-1.50zM1734.30 561.00h1.50v77.60h-1.50zM1747.80 561.00h1.50v77.60h-1.50zM1759.80 561.00h1.50v77.60h-1.50zM1762.80 561.00h1.50v77.60h-1.50zM1765.80 561.00h1.50v77.60h-1.50zM1768.80 561.00h1.50v77.60h-1.50zM1771.80 561.00h1.50v77.60h-1.50zM1780.80 561.00h1.50v77.60h-1.50zM1783.80 561.00h1.50v77.60h-1.50zM1789.80 561.00h1.50v77.60h-1.50zM1792.80 561.00h1.50v77.60h-1.50zM1797.30 561.00h1.50v77.60h-1.50zM1801.80 561.00h1.50v77.60h-1.50zM1806.30 561.00h1.50v77.60h-1.50zM1810.80 561.00h1.50v77.60h-1.50zM1825.80 561.00h1.50v77.60h-1.50zM1837.80 561.00h1.50v77.60h-1.50zM1851.30 561.00h1.50v77.60h-1.50zM1855.80 561.00h1.50v77.60h-1.50zM1869.30 561.00h1.50v77.60h-1.50zM1873.80 611.44h1.50v27.16h-1.50zM1882.80 611.44h1.50v27.16h-1.50zM1885.80 611.44h0.30v27.16h-0.30z"/>
<path fill="#d2cec9" d="M1419.30 611.44h1.50v27.16h-1.50zM1428.30 561.00h1.50v77.60h-1.50zM1432.80 561.00h1.50v77.60h-1.50zM1437.30 561.00h1.50v77.60h-1.50zM1444.80 561.00h1.50v77.60h-1.50zM1450.80 561.00h1.50v77.60h-1.50zM1468.80 561.00h1.50v77.60h-1.50zM1477.80 561.00h1.50v77.60h-1.50zM1486.80 561.00h1.50v77.60h-1.50zM1491.30 561.00h1.50v77.60h-1.50zM1500.30 561.00h1.50v77.60h-1.50zM1504.80 561.00h1.50v77.60h-1.50zM1509.30 561.00h1.50v77.60h-1.50zM1527.30 561.00h1.50v77.60h-1.50zM1531.80 561.00h1.50v77.60h-1.50zM1549.80 561.00h1.50v77.60h-1.50zM1564.80 561.00h1.50v77.60h-1.50zM1567.80 561.00h1.50v77.60h-1.50zM1573.80 611.44h1.50v27.16h-1.50zM1591.80 611.44h1.50v27.16h-1.50zM1603.80 611.44h1.50v27.16h-1.50zM1608.30 611.44h1.50v27.16h-1.50zM1627.80 611.44h1.50v27.16h-1.50zM1645.80 611.44h1.50v27.16h-1.50zM1648.80 611.44h1.50v27.16h-1.50zM1653.30 611.44h1.50v27.16h-1.50zM1657.80 611.44h1.50v27.16h-1.50zM1675.80 611.44h1.50v27.16h-1.50zM1684.80 611.44h1.50v27.16h-1.50zM1687.80 611.44h1.50v27.16h-1.50zM1693.80 611.44h1.50v27.16h-1.50zM1699.80 611.44h1.50v27.16h-1.50zM1711.80 611.44h1.50v27.16h-1.50zM1723.80 561.00h1.50v77.60h-1.50zM1738.80 561.00h1.50v77.60h-1.50zM1743.30 561.00h1.50v77.60h-1.50zM1753.80 561.00h1.50v77.60h-1.50zM1756.80 561.00h1.50v77.60h-1.50zM1774.80 561.00h1.50v77.60h-1.50zM1777.80 561.00h1.50v77.60h-1.50zM1786.80 561.00h1.50v77.60h-1.50zM1815.30 561.00h1.50v77.60h-1.50zM1819.80 561.00h1.50v77.60h-1.50zM1824.30 561.00h1.50v77.60h-1.50zM1831.80 561.00h1.50v77.60h-1.50zM1842.30 561.00h1.50v77.60h-1.50zM1846.80 561.00h1.50v77.60h-1.50zM1860.30 561.00h1.50v77.60h-1.50zM1864.80 561.00h1.50v77.60h-1.50zM1878.30 611.44h1.50v27.16h-1.50z"/>
<path d="M1405.80 611.44L1420.80 611.44M1420.80 561.00L1570.80 561.00M1570.80 611.44L1720.80 611.44M1720.80 561.00L1870.80 561.00M1870.80 611.44L1887.40 611.44" stroke="#222" stroke-width="1.2" fill="none"/>
<path fill="#f7c08e" d="M1429.80 732.58h1.50v218.82h-1.50zM1437.30 732.58h1.50v218.82h-1.50zM1440.30 732.58h1.50v218.82h-1.50zM1444.80 732.58h1.50v218.82h-1.50zM1449.30 722.16h1.50v229.24h-1.50zM1455.30 722.16h1.50v229.24h-1.50zM1488.30 716.95h1.50v234.45h-1.50zM1497.30 711.74h1.50v239.66h-1.50zM1512.30 711.74h1.50v239.66h-1.50zM1521.30 706.53h1.50v244.87h-1.50zM1528.80 706.53h1.50v244.87h-1.50zM1542.30 706.53h1.50v244.87h-1.50zM1551.30 701.32h1.50v250.08h-1.50zM1560.30 701.32h1.50v250.08h-1.50zM1563.30 701.32h1.50v250.08h-1.50zM1566.30 701.32h1.50v250.08h-1.50zM1584.30 904.51h1.50v46.89h-1.50zM1597.80 904.51h1.50v46.89h-1.50zM1600.80 904.51h1.50v46.89h-1.50zM1615.80 904.51h1.50v46.89h-1.50zM1633.80 904.51h1.50v46.89h-1.50zM1642.80 904.51h1.50v46.89h-1.50zM1650.30 904.51h1.50v46.89h-1.50zM1672.80 904.51h1.50v46.89h-1.50zM1678.80 904.51h1.50v46.89h-1.50zM1686.30 904.51h1.50v46.89h-1.50zM1692.30 904.51h1.50v46.89h-1.50zM1698.30 904.51h1.50v46.89h-1.50zM1708.80 909.72h1.50v41.68h-1.50zM1710.30 904.51h1.50v46.89h-1.50zM1725.30 716.95h1.50v234.45h-1.50zM1758.30 701.32h1.50v250.08h-1.50zM1761.30 701.32h1.50v250.08h-1.50zM1770.30 701.32h1.50v250.08h-1.50zM1776.30 701.32h1.50v250.08h-1.50zM1782.30 701.32h1.50v250.08h-1.50zM1812.30 696.11h1.50v255.29h-1.50zM1813.80 696.11h1.50v255.29h-1.50zM1818.30 696.11h1.50v255.29h-1.50zM1830.30 696.11h1.50v255.29h-1.50zM1833.30 696.11h1.50v255.29h-1.50zM1839.30 690.90h1.50v260.50h-1.50zM1861.80 690.90h1.50v260.50h-1.50zM1866.30 690.90h1.50v260.50h-1.50zM1875.30 904.51h1.50v46.89h-1.50z"/>
<path fill="#f8c597" d="M1407.30 901.38h1.50v50.02h-1.50zM1413.30 904.51h1.50v46.89h-1.50zM1422.30 743.00h1.50v208.40h-1.50zM1431.30 732.58h1.50v218.82h-1.50zM1434.30 732.58h1.50v218.82h-1.50zM1458.30 722.16h1.50v229.24h-1.50zM1464.30 716.95h1.50v234.45h-1.50zM1467.30 716.95h1.50v234.45h-1.50zM1476.30 716.95h1.50v234.45h-1.50zM1479.30 716.95h1.50v234.45h-1.50zM1515.30 711.74h1.50v239.66h-1.50zM1516.80 711.74h1.50v239.66h-1.50zM1518.30 711.74h1.50v239.66h-1.50zM1524.30 706.53h1.50v244.87h-1.50zM1533.30 706.53h1.50v244.87h-1.50zM1537.80 706.53h1.50v244.87h-1.50zM1570.80 904.51h1.50v46.89h-1.50zM1579.80 904.51h1.50v46.89h-1.50zM1582.80 899.30h1.50v52.10h-1.50zM1587.30 904.51h1.50v46.89h-1.50zM1596.30 904.51h1.50v46.89h-1.50zM1602.30 904.51h1.50v46.89h-1.50zM1605.30 904.51h1.50v46.89h-1.50zM1614.30 904.51h1.50v46.89h-1.50zM1623.30 904.51h1.50v46.89h-1.50zM1627.80 904.51h1.50v46.89h-1.50zM1629.30 904.51h1.50v46.89h-1.50zM1636.80 904.51h1.50v46.89h-1.50zM1653.30 904.51h1.50v46.89h-1.50zM1656.30 904.51h1.50v46.89h-1.50zM1662.30 904.51h1.50v46.89h-1.50zM1669.80 904.51h1.50v46.89h-1.50zM1674.30 899.30h1.50v52.10h-1.50zM1687.80 904.51h1.50v46.89h-1.50zM1695.30 904.51h1.50v46.89h-1.50zM1704.30 909.72h1.50v41.68h-1.50zM1716.30 904.51h1.50v46.89h-1.50zM1726.80 716.95h1.50v234.45h-1.50zM1737.30 711.74h1.50v239.66h-1.50zM1749.30 706.53h1.50v244.87h-1.50zM1786.80 701.32h1.50v250.08h-1.50zM1791.30 701.32h1.50v250.08h-1.50zM1792.80 701.32h1.50v250.08h-1.50zM1794.30 701.32h1.50v250.08h-1.50zM1797.30 696.11h1.50v255.29h-1.50zM1809.30 696.11h1.50v255.29h-1.50zM1816.80 696.11h1.50v255.29h-1.50zM1840.80 690.90h1.50v260.50h-1.50zM1843.80 690.90h1.50v260.50h-1.50zM1852.80 690.90h1.50v260.50h-1.50zM1854.30 690.90h1.50v260.50h-1.50zM1867.80 690.90h1.50v260.50h-1.50zM1884.30 904.51h1.50v46.89h-1.50z"/>
<path fill="#f9cba0" d="M1416.30 904.51h1.50v46.89h-1.50zM1426.80 732.58h1.50v218.82h-1.50zM1443.30 732.58h1.50v218.82h-1.50zM1483.80 716.95h1.50v234.45h-1.50zM1501.80 711.74h1.50v239.66h-1.50zM1507.80 711.74h1.50v239.66h-1.50zM1525.80 706.53h1.50v244.87h-1.50zM1546.80 706.53h1.50v244.87h-1.50zM1548.30 706.53h1.50v244.87h-1.50zM1569.30 701.32h1.50v250.08h-1.50zM1573.80 904.51h1.50v46.89h-1.50zM1578.30 904.51h1.50v46.89h-1.50zM1591.80 904.51h1.50v46.89h-1.50zM1618.80 904.51h1.50v46.89h-1.50zM1620.30 904.51h1.50v46.89h-1.50zM1624.80 904.51h1.50v46.89h-1.50zM1632.30 904.51h1.50v46.89h-1.50zM1641.30 904.51h1.50v46.89h-1.50zM1659.30 904.51h1.50v46.89h-1.50zM1668.30 904.51h1.50v46.89h-1.50zM1681.80 904.51h1.50v46.89h-1.50zM1696.80 904.51h1.50v46.89h-1.50zM1701.30 904.51h1.50v46.89h-1.50zM1702.80 904.51h1.50v46.89h-1.50zM1705.80 904.51h1.50v46.89h-1.50zM1713.30 904.51h1.50v46.89h-1.50zM1720.80 722.16h1.50v229.24h-1.50zM1722.30 722.16h1.50v229.24h-1.50zM1728.30 716.95h1.50v234.45h-1.50zM1744.80 706.53h1.50v244.87h-1.50zM1752.30 701.32h1.50v250.08h-1.50zM1764.30 701.32h1.50v250.08h-1.50zM1767.30 701.32h1.50v250.08h-1.50zM1773.30 701.32h1.50v250.08h-1.50zM1774.80 701.32h1.50v250.08h-1.50zM1780.80 701.32h1.50v250.08h-1.50zM1785.30 701.32h1.50v250.08h-1.50zM1803.30 696.11h1.50v255.29h-1.50zM1807.80 696.11h1.50v255.29h-1.50zM1821.30 696.11h1.50v255.29h-1.50zM1824.30 696.11h1.50v255.29h-1.50zM1845.30 690.90h1.50v260.50h-1.50zM1848.30 690.90h1.50v260.50h-1.50zM1849.80 690.90h1.50v260.50h-1.50zM1863.30 690.90h1.50v260.50h-1.50zM1876.80 904.51h1.50v46.89h-1.50zM1879.80 904.51h1.50v46.89h-1.50zM1885.80 904.51h0.40v46.89h-0.40z"/>
<path fill="#fad0aa" d="M1410.30 904.51h1.50v46.89h-1.50zM1420.80 743.00h1.50v208.40h-1.50zM1425.30 732.58h1.50v218.82h-1.50zM1435.80 732.58h1.50v218.82h-1.50zM1438.80 732.58h1.50v218.82h-1.50zM1446.30 732.58h1.50v218.82h-1.50zM1452.30 722.16h1.50v229.24h-1.50zM1461.30 722.16h1.50v229.24h-1.50zM1470.30 716.95h1.50v234.45h-1.50zM1473.30 716.95h1.50v234.45h-1.50zM1480.80 716.95h1.50v234.45h-1.50zM1485.30 716.95h1.50v234.45h-1.50zM1491.30 711.74h1.50v239.66h-1.50zM1494.30 711.74h1.50v239.66h-1.50zM1503.30 711.74h1.50v239.66h-1.50zM1506.30 711.74h1.50v239.66h-1.50zM1510.80 711.74h1.50v239.66h-1.50zM1530.30 706.53h1.50v244.87h-1.50zM1534.80 706.53h1.50v244.87h-1.50zM1539.30 706.53h1.50v244.87h-1.50zM1543.80 706.53h1.50v244.87h-1.50zM1554.30 701.32h1.50v250.08h-1.50zM1557.30 701.32h1.50v250.08h-1.50zM1575.30 904.51h1.50v46.89h-1.50zM1588.80 904.51h1.50v46.89h-1.50zM1593.30 904.51h1.50v46.89h-1.50zM1606.80 904.51h1.50v46.89h-1.50zM1609.80 904.51h1.50v46.89h-1.50zM1611.30 904.51h1.50v46.89h-1.50zM1638.30 904.51h1.50v46.89h-1.50zM1647.30 904.51h1.50v46.89h-1.50zM1665.30 899.30h1.50v52.10h-1.50zM1677.30 899.30h1.50v52.10h-1.50zM1683.30 904.51h1.50v46.89h-1.50zM1690.80 904.51h1.50v46.89h-1.50zM1714.80 904.51h1.50v46.89h-1.50zM1719.30 904.51h1.50v46.89h-1.50zM1731.30 716.95h1.50v234.45h-1.50zM1732.80 711.74h1.50v239.66h-1.50zM1735.80 711.74h1.50v239.66h-1.50zM1740.30 711.74h1.50v239.66h-1.50zM1741.80 706.53h1.50v244.87h-1.50zM1746.30 706.53h1.50v244.87h-1.50zM1755.30 701.32h1.50v250.08h-1.50zM1779.30 701.32h1.50v250.08h-1.50zM1788.30 701.32h1.50v250.08h-1.50zM1798.80 696.11h1.50v255.29h-1.50zM1800.30 696.11h1.50v255.29h-1.50zM1804.80 696.11h1.50v255.29h-1.50zM1827.30 696.11h1.50v255.29h-1.50zM1836.30 690.90h1.50v260.50h-1.50zM1857.30 690.90h1.50v260.50h-1.50zM1858.80 690.90h1.50v260.50h-1.50zM1870.80 904.51h1.50v46.89h-1.50zM1872.30 904.51h1.50v46.89h-1.50zM1881.30 904.51h1.50v46.89h-1.50z"/>
<path fill="#fdeada" d="M1405.80 899.30h1.50v52.10h-1.50zM1408.80 904.51h1.50v46.89h-1.50zM1411.80 904.51h1.50v46.89h-1.50zM1414.80 904.51h1.50v46.89h-1.50zM1417.80 904.51h1.50v46.89h-1.50zM1419.30 904.51h1.50v46.89h-1.50zM1423.80 743.00h1.50v208.40h-1.50zM1428.30 732.58h1.50v218.82h-1.50zM1432.80 732.58h1.50v218.82h-1.50zM1441.80 732.58h1.50v218.82h-1.50zM1447.80 732.58h1.50v218.82h-1.50zM1450.80 722.16h1.50v229.24h-1.50zM1453.80 722.16h1.50v229.24h-1.50zM1456.80 722.16h1.50v229.24h-1.50zM1459.80 722.16h1.50v229.24h-1.50zM1462.80 716.95h1.50v234.45h-1.50zM1465.80 716.95h1.50v234.45h-1.50zM1468.80 716.95h1.50v234.45h-1.50zM1471.80 716.95h1.50v234.45h-1.50zM1474.80 716.95h1.50v234.45h-1.50zM1477.80 716.95h1.50v234.45h-1.50zM1482.30 716.95h1.50v234.45h-1.50zM1486.80 716.95h1.50v234.45h-1.50zM1489.80 711.74h1.50v239.66h-1.50zM1492.80 711.74h1.50v239.66h-1.50zM1495.80 711.74h1.50v239.66h-1.50zM1498.80 711.74h1.50v239.66h-1.50zM1500.30 711.74h1.50v239.66h-1.50zM1504.80 711.74h1.50v239.66h-1.50zM1509.30 711.74h1.50v239.66h-1.50zM1513.80 711.74h1.50v239.66h-1.50zM1519.80 711.74h1.50v239.66h-1.50zM1522.80 706.53h1.50v244.87h-1.50zM1527.30 706.53h1.50v244.87h-1.50zM1531.80 706.53h1.50v244.87h-1.50zM1536.30 706.53h1.50v244.87h-1.50zM1540.80 706.53h1.50v244.87h-1.50zM1545.30 706.53h1.50v244.87h-1.50zM1549.80 706.53h1.50v244.87h-1.50zM1552.80 701.32h1.50v250.08h-1.50zM1555.80 701.32h1.50v250.08h-1.50zM1558.80 701.32h1.50v250.08h-1.50zM1561.80 701.32h1.50v250.08h-1.50zM1564.80 701.32h1.50v250.08h-1.50zM1567.80 701.32h1.50v250.08h-1.50zM1572.30 904.51h1.50v46.89h-1.50zM1576.80 904.51h1.50v46.89h-1.50zM1581.30 904.51h1.50v46.89h-1.50zM1585.80 904.51h1.50v46.89h-1.50zM1590.30 904.51h1.50v46.89h-1.50zM1594.80 904.51h1.50v46.89h-1.50zM1599.30 904.51h1.50v46.89h-1.50zM1603.80 904.51h1.50v46.89h-1.50zM1608.30 904.51h1.50v46.89h-1.50zM1612.80 904.51h1.50v46.89h-1.50zM1617.30 904.51h1.50v46.89h-1.50zM1621.80 904.51h1.50v46.89h-1.50zM1626.30 904.51h1.50v46.89h-1.50zM1630.80 904.51h1.50v46.89h-1.50zM1635.30 904.51h1.50v46.89h-1.50zM1639.80 904.51h1.50v46.89h-1.50zM1644.30 904.51h1.50v46.89h-1.50zM1645.80 904.51h1.50v46.89h-1.50zM1648.80 904.51h1.50v46.89h-1.50zM1651.80 909.72h1.50v41.68h-1.50zM1654.80 904.51h1.50v46.89h-1.50zM1657.80 904.51h1.50v46.89h-1.50zM1660.80 904.51h1.50v46.89h-1.50zM1663.80 904.51h1.50v46.89h-1.50zM1666.80 899.30h1.50v52.10h-1.50zM1671.30 904.51h1.50v46.89h-1.50zM1675.80 904.51h1.50v46.89h-1.50zM1680.30 904.51h1.50v46.89h-1.50zM1684.80 904.51h1.50v46.89h-1.50zM1689.30 904.51h1.50v46.89h-1.50zM1693.80 904.51h1.50v46.89h-1.50zM1699.80 904.51h1.50v46.89h-1.50zM1707.30 904.51h1.50v46.89h-1.50zM1711.80 899.30h1.50v52.10h-1.50zM1717.80 904.51h1.50v46.89h-1.50zM1723.80 722.16h1.50v229.24h-1.50zM1729.80 716.95h1.50v234.45h-1.50zM1734.30 711.74h1.50v239.66h-1.50zM1738.80 711.74h1.50v239.66h-1.50zM1743.30 706.53h1.50v244.87h-1.50zM1747.80 706.53h1.50v244.87h-1.50zM1750.80 706.53h1.50v244.87h-1.50zM1753.80 701.32h1.50v250.08h-1.50zM1756.80 701.32h1.50v250.08h-1.50zM1759.80 701.32h1.50v250.08h-1.50zM1762.80 701.32h1.50v250.08h-1.50zM1765.80 701.32h1.50v250.08h-1.50zM1768.80 701.32h1.50v250.08h-1.50zM1771.80 701.32h1.50v250.08h-1.50zM1777.80 701.32h1.50v250.08h-1.50zM1783.80 701.32h1.50v250.08h-1.50zM1789.80 701.32h1.50v250.08h-1.50zM1795.80 701.32h1.50v250.08h-1.50zM1801.80 696.11h1.50v255.29h-1.50zM1806.30 696.11h1.50v255.29h-1.50zM1810.80 696.11h1.50v255.29h-1.50zM1815.30 696.11h1.50v255.29h-1.50zM1819.80 696.11h1.50v255.29h-1.50zM1822.80 696.11h1.50v255.29h-1.50zM1825.80 696.11h1.50v255.29h-1.50zM1828.80 696.11h1.50v255.29h-1.50zM1831.80 696.11h1.50v255.29h-1.50zM1834.80 690.90h1.50v260.50h-1.50zM1837.80 690.90h1.50v260.50h-1.50zM1842.30 690.90h1.50v260.50h-1.50zM1846.80 690.90h1.50v260.50h-1.50zM1851.30 690.90h1.50v260.50h-1.50zM1855.80 690.90h1.50v260.50h-1.50zM1860.30 690.90h1.50v260.50h-1.50zM1864.80 690.90h1.50v260.50h-1.50zM1869.30 690.90h1.50v260.50h-1.50zM1873.80 904.51h1.50v46.89h-1.50zM1878.30 904.51h1.50v46.89h-1.50zM1882.80 904.51h1.50v46.89h-1.50z"/>
<path fill="#f07a1e" d="M1405.90 898.40h1.30v1.8h-1.30zM1407.40 900.48h1.30v1.8h-1.30zM1408.90 903.61h1.30v1.8h-1.30zM1408.90 898.41h1.30v1.8h-1.30zM1410.40 903.61h1.30v1.8h-1.30zM1411.90 903.61h1.30v1.8h-1.30zM1413.40 903.61h1.30v1.8h-1.30zM1414.90 903.61h1.30v1.8h-1.30zM1416.40 903.61h1.30v1.8h-1.30zM1416.40 898.41h1.30v1.8h-1.30zM1417.90 903.61h1.30v1.8h-1.30zM1419.40 903.61h1.30v1.8h-1.30zM1420.90 742.10h1.30v1.8h-1.30zM1422.40 742.10h1.30v1.8h-1.30zM1423.90 742.10h1.30v1.8h-1.30zM1425.40 731.68h1.30v1.8h-1.30zM1425.40 726.48h1.30v1.8h-1.30zM1426.90 731.68h1.30v1.8h-1.30zM1428.40 731.68h1.30v1.8h-1.30zM1429.90 731.68h1.30v1.8h-1.30zM1431.40 731.68h1.30v1.8h-1.30zM1432.90 731.68h1.30v1.8h-1.30zM1434.40 731.68h1.30v1.8h-1.30zM1434.40 726.48h1.30v1.8h-1.30zM1435.90 731.68h1.30v1.8h-1.30zM1435.90 726.48h1.30v1.8h-1.30zM1437.40 731.68h1.30v1.8h-1.30zM1437.40 726.48h1.30v1.8h-1.30zM1438.90 731.68h1.30v1.8h-1.30zM1440.40 731.68h1.30v1.8h-1.30zM1440.40 726.48h1.30v1.8h-1.30zM1441.90 731.68h1.30v1.8h-1.30zM1443.40 731.68h1.30v1.8h-1.30zM1444.90 731.68h1.30v1.8h-1.30zM1446.40 731.68h1.30v1.8h-1.30zM1446.40 726.48h1.30v1.8h-1.30zM1447.90 731.68h1.30v1.8h-1.30zM1449.40 721.26h1.30v1.8h-1.30zM1450.90 721.26h1.30v1.8h-1.30zM1450.90 716.06h1.30v1.8h-1.30zM1452.40 721.26h1.30v1.8h-1.30zM1453.90 721.26h1.30v1.8h-1.30zM1455.40 721.26h1.30v1.8h-1.30zM1456.90 721.26h1.30v1.8h-1.30zM1458.40 721.26h1.30v1.8h-1.30zM1458.40 716.06h1.30v1.8h-1.30zM1459.90 721.26h1.30v1.8h-1.30zM1461.40 721.26h1.30v1.8h-1.30zM1461.40 716.06h1.30v1.8h-1.30zM1462.90 716.05h1.30v1.8h-1.30zM1464.40 716.05h1.30v1.8h-1.30zM1464.40 710.85h1.30v1.8h-1.30zM1465.90 716.05h1.30v1.8h-1.30zM1465.90 710.85h1.30v1.8h-1.30zM1467.40 716.05h1.30v1.8h-1.30zM1468.90 716.05h1.30v1.8h-1.30zM1470.40 716.05h1.30v1.8h-1.30zM1471.90 716.05h1.30v1.8h-1.30zM1473.40 716.05h1.30v1.8h-1.30zM1473.40 710.85h1.30v1.8h-1.30zM1474.90 716.05h1.30v1.8h-1.30zM1474.90 710.85h1.30v1.8h-1.30zM1476.40 716.05h1.30v1.8h-1.30zM1477.90 716.05h1.30v1.8h-1.30zM1477.90 710.85h1.30v1.8h-1.30zM1479.40 716.05h1.30v1.8h-1.30zM1479.40 710.85h1.30v1.8h-1.30zM1480.90 716.05h1.30v1.8h-1.30zM1482.40 716.05h1.30v1.8h-1.30zM1483.90 716.05h1.30v1.8h-1.30zM1485.40 716.05h1.30v1.8h-1.30zM1486.90 716.05h1.30v1.8h-1.30zM1488.40 716.05h1.30v1.8h-1.30zM1489.90 710.84h1.30v1.8h-1.30zM1491.40 710.84h1.30v1.8h-1.30zM1491.40 705.64h1.30v1.8h-1.30zM1492.90 710.84h1.30v1.8h-1.30zM1494.40 710.84h1.30v1.8h-1.30zM1495.90 710.84h1.30v1.8h-1.30zM1497.40 710.84h1.30v1.8h-1.30zM1497.40 705.64h1.30v1.8h-1.30zM1498.90 710.84h1.30v1.8h-1.30zM1498.90 705.64h1.30v1.8h-1.30zM1500.40 710.84h1.30v1.8h-1.30zM1501.90 710.84h1.30v1.8h-1.30zM1503.40 710.84h1.30v1.8h-1.30zM1504.90 710.84h1.30v1.8h-1.30zM1506.40 710.84h1.30v1.8h-1.30zM1507.90 710.84h1.30v1.8h-1.30zM1509.40 710.84h1.30v1.8h-1.30zM1510.90 710.84h1.30v1.8h-1.30zM1512.40 710.84h1.30v1.8h-1.30zM1513.90 710.84h1.30v1.8h-1.30zM1515.40 710.84h1.30v1.8h-1.30zM1516.90 710.84h1.30v1.8h-1.30zM1518.40 710.84h1.30v1.8h-1.30zM1519.90 710.84h1.30v1.8h-1.30zM1521.40 705.63h1.30v1.8h-1.30zM1521.40 700.43h1.30v1.8h-1.30zM1522.90 705.63h1.30v1.8h-1.30zM1524.40 705.63h1.30v1.8h-1.30zM1525.90 705.63h1.30v1.8h-1.30zM1527.40 705.63h1.30v1.8h-1.30zM1527.40 700.43h1.30v1.8h-1.30zM1528.90 705.63h1.30v1.8h-1.30zM1530.40 705.63h1.30v1.8h-1.30zM1530.40 700.43h1.30v1.8h-1.30zM1531.90 705.63h1.30v1.8h-1.30zM1533.40 705.63h1.30v1.8h-1.30zM1533.40 700.43h1.30v1.8h-1.30zM1534.90 705.63h1.30v1.8h-1.30zM1536.40 705.63h1.30v1.8h-1.30zM1536.40 700.43h1.30v1.8h-1.30zM1537.90 705.63h1.30v1.8h-1.30zM1539.40 705.63h1.30v1.8h-1.30zM1540.90 705.63h1.30v1.8h-1.30zM1542.40 705.63h1.30v1.8h-1.30zM1543.90 705.63h1.30v1.8h-1.30zM1545.40 705.63h1.30v1.8h-1.30zM1545.40 700.43h1.30v1.8h-1.30zM1546.90 705.63h1.30v1.8h-1.30zM1548.40 705.63h1.30v1.8h-1.30zM1549.90 705.63h1.30v1.8h-1.30zM1549.90 700.43h1.30v1.8h-1.30zM1551.40 700.42h1.30v1.8h-1.30zM1552.90 700.42h1.30v1.8h-1.30zM1552.90 695.22h1.30v1.8h-1.30zM1554.40 700.42h1.30v1.8h-1.30zM1555.90 700.42h1.30v1.8h-1.30zM1557.40 700.42h1.30v1.8h-1.30zM1558.90 700.42h1.30v1.8h-1.30zM1560.40 700.42h1.30v1.8h-1.30zM1561.90 700.42h1.30v1.8h-1.30zM1563.40 700.42h1.30v1.8h-1.30zM1564.90 700.42h1.30v1.8h-1.30zM1566.40 700.42h1.30v1.8h-1.30zM1566.40 695.22h1.30v1.8h-1.30zM1567.90 700.42h1.30v1.8h-1.30zM1569.40 700.42h1.30v1.8h-1.30zM1570.90 903.61h1.30v1.8h-1.30zM1572.40 903.61h1.30v1.8h-1.30zM1573.90 903.61h1.30v1.8h-1.30zM1575.40 903.61h1.30v1.8h-1.30zM1576.90 903.61h1.30v1.8h-1.30zM1578.40 903.61h1.30v1.8h-1.30zM1579.90 903.61h1.30v1.8h-1.30zM1581.40 903.61h1.30v1.8h-1.30zM1582.90 898.40h1.30v1.8h-1.30zM1582.90 893.20h1.30v1.8h-1.30zM1584.40 903.61h1.30v1.8h-1.30zM1585.90 903.61h1.30v1.8h-1.30zM1587.40 903.61h1.30v1.8h-1.30zM1588.90 903.61h1.30v1.8h-1.30zM1590.40 903.61h1.30v1.8h-1.30zM1591.90 903.61h1.30v1.8h-1.30zM1593.40 903.61h1.30v1.8h-1.30zM1594.90 903.61h1.30v1.8h-1.30zM1596.40 903.61h1.30v1.8h-1.30zM1597.90 903.61h1.30v1.8h-1.30zM1599.40 903.61h1.30v1.8h-1.30zM1600.90 903.61h1.30v1.8h-1.30zM1602.40 903.61h1.30v1.8h-1.30zM1603.90 903.61h1.30v1.8h-1.30zM1605.40 903.61h1.30v1.8h-1.30zM1606.90 903.61h1.30v1.8h-1.30zM1608.40 903.61h1.30v1.8h-1.30zM1609.90 903.61h1.30v1.8h-1.30zM1611.40 903.61h1.30v1.8h-1.30zM1612.90 903.61h1.30v1.8h-1.30zM1614.40 903.61h1.30v1.8h-1.30zM1615.90 903.61h1.30v1.8h-1.30zM1617.40 903.61h1.30v1.8h-1.30zM1618.90 903.61h1.30v1.8h-1.30zM1620.40 903.61h1.30v1.8h-1.30zM1621.90 903.61h1.30v1.8h-1.30zM1623.40 903.61h1.30v1.8h-1.30zM1624.90 903.61h1.30v1.8h-1.30zM1624.90 898.41h1.30v1.8h-1.30zM1626.40 903.61h1.30v1.8h-1.30zM1627.90 903.61h1.30v1.8h-1.30zM1629.40 903.61h1.30v1.8h-1.30zM1630.90 903.61h1.30v1.8h-1.30zM1632.40 903.61h1.30v1.8h-1.30zM1633.90 903.61h1.30v1.8h-1.30zM1635.40 903.61h1.30v1.8h-1.30zM1636.90 903.61h1.30v1.8h-1.30zM1638.40 903.61h1.30v1.8h-1.30zM1639.90 903.61h1.30v1.8h-1.30zM1641.40 903.61h1.30v1.8h-1.30zM1642.90 903.61h1.30v1.8h-1.30zM1644.40 903.61h1.30v1.8h-1.30zM1645.90 903.61h1.30v1.8h-1.30zM1647.40 903.61h1.30v1.8h-1.30zM1648.90 903.61h1.30v1.8h-1.30zM1650.40 903.61h1.30v1.8h-1.30zM1651.90 908.82h1.30v1.8h-1.30zM1653.40 903.61h1.30v1.8h-1.30zM1653.40 898.41h1.30v1.8h-1.30zM1654.90 903.61h1.30v1.8h-1.30zM1656.40 903.61h1.30v1.8h-1.30zM1657.90 903.61h1.30v1.8h-1.30zM1659.40 903.61h1.30v1.8h-1.30zM1660.90 903.61h1.30v1.8h-1.30zM1662.40 903.61h1.30v1.8h-1.30zM1663.90 903.61h1.30v1.8h-1.30zM1665.40 898.40h1.30v1.8h-1.30zM1666.90 898.40h1.30v1.8h-1.30zM1668.40 903.61h1.30v1.8h-1.30zM1669.90 903.61h1.30v1.8h-1.30zM1671.40 903.61h1.30v1.8h-1.30zM1672.90 903.61h1.30v1.8h-1.30zM1674.40 898.40h1.30v1.8h-1.30zM1675.90 903.61h1.30v1.8h-1.30zM1677.40 898.40h1.30v1.8h-1.30zM1678.90 903.61h1.30v1.8h-1.30zM1680.40 903.61h1.30v1.8h-1.30zM1681.90 903.61h1.30v1.8h-1.30zM1683.40 903.61h1.30v1.8h-1.30zM1684.90 903.61h1.30v1.8h-1.30zM1686.40 903.61h1.30v1.8h-1.30zM1687.90 903.61h1.30v1.8h-1.30zM1689.40 903.61h1.30v1.8h-1.30zM1690.90 903.61h1.30v1.8h-1.30zM1692.40 903.61h1.30v1.8h-1.30zM1693.90 903.61h1.30v1.8h-1.30zM1693.90 898.41h1.30v1.8h-1.30zM1695.40 903.61h1.30v1.8h-1.30zM1696.90 903.61h1.30v1.8h-1.30zM1698.40 903.61h1.30v1.8h-1.30zM1699.90 903.61h1.30v1.8h-1.30zM1701.40 903.61h1.30v1.8h-1.30zM1702.90 903.61h1.30v1.8h-1.30zM1704.40 908.82h1.30v1.8h-1.30zM1705.90 903.61h1.30v1.8h-1.30zM1707.40 903.61h1.30v1.8h-1.30zM1708.90 908.82h1.30v1.8h-1.30zM1710.40 903.61h1.30v1.8h-1.30zM1711.90 898.40h1.30v1.8h-1.30zM1713.40 903.61h1.30v1.8h-1.30zM1714.90 903.61h1.30v1.8h-1.30zM1716.40 903.61h1.30v1.8h-1.30zM1717.90 903.61h1.30v1.8h-1.30zM1719.40 903.61h1.30v1.8h-1.30zM1720.90 721.26h1.30v1.8h-1.30zM1722.40 721.26h1.30v1.8h-1.30zM1722.40 716.06h1.30v1.8h-1.30zM1723.90 721.26h1.30v1.8h-1.30zM1723.90 716.06h1.30v1.8h-1.30zM1725.40 716.05h1.30v1.8h-1.30zM1726.90 716.05h1.30v1.8h-1.30zM1728.40 716.05h1.30v1.8h-1.30zM1728.40 710.85h1.30v1.8h-1.30zM1729.90 716.05h1.30v1.8h-1.30zM1731.40 716.05h1.30v1.8h-1.30zM1732.90 710.84h1.30v1.8h-1.30zM1734.40 710.84h1.30v1.8h-1.30zM1734.40 705.64h1.30v1.8h-1.30zM1735.90 710.84h1.30v1.8h-1.30zM1737.40 710.84h1.30v1.8h-1.30zM1738.90 710.84h1.30v1.8h-1.30zM1738.90 705.64h1.30v1.8h-1.30zM1740.40 710.84h1.30v1.8h-1.30zM1741.90 705.63h1.30v1.8h-1.30zM1743.40 705.63h1.30v1.8h-1.30zM1744.90 705.63h1.30v1.8h-1.30zM1746.40 705.63h1.30v1.8h-1.30zM1747.90 705.63h1.30v1.8h-1.30zM1749.40 705.63h1.30v1.8h-1.30zM1750.90 705.63h1.30v1.8h-1.30zM1752.40 700.42h1.30v1.8h-1.30zM1753.90 700.42h1.30v1.8h-1.30zM1753.90 695.22h1.30v1.8h-1.30zM1755.40 700.42h1.30v1.8h-1.30zM1756.90 700.42h1.30v1.8h-1.30zM1758.40 700.42h1.30v1.8h-1.30zM1758.40 695.22h1.30v1.8h-1.30zM1759.90 700.42h1.30v1.8h-1.30zM1761.40 700.42h1.30v1.8h-1.30zM1762.90 700.42h1.30v1.8h-1.30zM1764.40 700.42h1.30v1.8h-1.30zM1765.90 700.42h1.30v1.8h-1.30zM1767.40 700.42h1.30v1.8h-1.30zM1767.40 695.22h1.30v1.8h-1.30zM1768.90 700.42h1.30v1.8h-1.30zM1770.40 700.42h1.30v1.8h-1.30zM1770.40 695.22h1.30v1.8h-1.30zM1771.90 700.42h1.30v1.8h-1.30zM1773.40 700.42h1.30v1.8h-1.30zM1774.90 700.42h1.30v1.8h-1.30zM1776.40 700.42h1.30v1.8h-1.30zM1776.40 695.22h1.30v1.8h-1.30zM1777.90 700.42h1.30v1.8h-1.30zM1777.90 695.22h1.30v1.8h-1.30zM1779.40 700.42h1.30v1.8h-1.30zM1779.40 695.22h1.30v1.8h-1.30zM1780.90 700.42h1.30v1.8h-1.30zM1782.40 700.42h1.30v1.8h-1.30zM1783.90 700.42h1.30v1.8h-1.30zM1785.40 700.42h1.30v1.8h-1.30zM1786.90 700.42h1.30v1.8h-1.30zM1786.90 695.22h1.30v1.8h-1.30zM1788.40 700.42h1.30v1.8h-1.30zM1789.90 700.42h1.30v1.8h-1.30zM1791.40 700.42h1.30v1.8h-1.30zM1792.90 700.42h1.30v1.8h-1.30zM1794.40 700.42h1.30v1.8h-1.30zM1795.90 700.42h1.30v1.8h-1.30zM1797.40 695.21h1.30v1.8h-1.30zM1798.90 695.21h1.30v1.8h-1.30zM1800.40 695.21h1.30v1.8h-1.30zM1800.40 690.01h1.30v1.8h-1.30zM1801.90 695.21h1.30v1.8h-1.30zM1803.40 695.21h1.30v1.8h-1.30zM1804.90 695.21h1.30v1.8h-1.30zM1804.90 690.01h1.30v1.8h-1.30zM1806.40 695.21h1.30v1.8h-1.30zM1807.90 695.21h1.30v1.8h-1.30zM1809.40 695.21h1.30v1.8h-1.30zM1810.90 695.21h1.30v1.8h-1.30zM1812.40 695.21h1.30v1.8h-1.30zM1812.40 690.01h1.30v1.8h-1.30zM1813.90 695.21h1.30v1.8h-1.30zM1815.40 695.21h1.30v1.8h-1.30zM1816.90 695.21h1.30v1.8h-1.30zM1818.40 695.21h1.30v1.8h-1.30zM1819.90 695.21h1.30v1.8h-1.30zM1821.40 695.21h1.30v1.8h-1.30zM1822.90 695.21h1.30v1.8h-1.30zM1824.40 695.21h1.30v1.8h-1.30zM1825.90 695.21h1.30v1.8h-1.30zM1827.40 695.21h1.30v1.8h-1.30zM1828.90 695.21h1.30v1.8h-1.30zM1830.40 695.21h1.30v1.8h-1.30zM1830.40 690.01h1.30v1.8h-1.30zM1831.90 695.21h1.30v1.8h-1.30zM1833.40 695.21h1.30v1.8h-1.30zM1834.90 690.00h1.30v1.8h-1.30zM1836.40 690.00h1.30v1.8h-1.30zM1837.90 690.00h1.30v1.8h-1.30zM1837.90 684.80h1.30v1.8h-1.30zM1839.40 690.00h1.30v1.8h-1.30zM1839.40 684.80h1.30v1.8h-1.30zM1840.90 690.00h1.30v1.8h-1.30zM1840.90 684.80h1.30v1.8h-1.30zM1842.40 690.00h1.30v1.8h-1.30zM1843.90 690.00h1.30v1.8h-1.30zM1845.40 690.00h1.30v1.8h-1.30zM1846.90 690.00h1.30v1.8h-1.30zM1846.90 684.80h1.30v1.8h-1.30zM1848.40 690.00h1.30v1.8h-1.30zM1849.90 690.00h1.30v1.8h-1.30zM1851.40 690.00h1.30v1.8h-1.30zM1852.90 690.00h1.30v1.8h-1.30zM1852.90 684.80h1.30v1.8h-1.30zM1854.40 690.00h1.30v1.8h-1.30zM1855.90 690.00h1.30v1.8h-1.30zM1855.90 684.80h1.30v1.8h-1.30zM1857.40 690.00h1.30v1.8h-1.30zM1858.90 690.00h1.30v1.8h-1.30zM1860.40 690.00h1.30v1.8h-1.30zM1861.90 690.00h1.30v1.8h-1.30zM1861.90 684.80h1.30v1.8h-1.30zM1863.40 690.00h1.30v1.8h-1.30zM1864.90 690.00h1.30v1.8h-1.30zM1864.90 684.80h1.30v1.8h-1.30zM1866.40 690.00h1.30v1.8h-1.30zM1867.90 690.00h1.30v1.8h-1.30zM1869.40 690.00h1.30v1.8h-1.30zM1869.40 684.80h1.30v1.8h-1.30zM1870.90 903.61h1.30v1.8h-1.30zM1872.40 903.61h1.30v1.8h-1.30zM1873.90 903.61h1.30v1.8h-1.30zM1875.40 903.61h1.30v1.8h-1.30zM1876.90 903.61h1.30v1.8h-1.30zM1878.40 903.61h1.30v1.8h-1.30zM1879.90 903.61h1.30v1.8h-1.30zM1881.40 903.61h1.30v1.8h-1.30zM1882.90 903.61h1.30v1.8h-1.30zM1884.40 903.61h1.30v1.8h-1.30zM1885.90 903.61h0.20v1.8h-0.20z"/>
<path d="M1405.4 522.0H1887.4" stroke="#000" stroke-width="2.6"/>
<path d="M1405.4 638.6H1887.4" stroke="#111" stroke-width="1.8"/>
<path d="M1405.4 951.4H1888.6000000000001" stroke="#000" stroke-width="2.7"/>
<path d="M1405.4 520.7V952.6999999999999M1887.4 520.7V952.6999999999999" stroke="#000" stroke-width="2.6"/>
<path d="M1398.9 951.40H1405.4M1398.9 899.30H1405.4M1398.9 847.20H1405.4M1398.9 795.10H1405.4M1398.9 743.00H1405.4M1398.9 690.90H1405.4M1398.9 638.80H1405.4M1401.9 925.35H1405.4M1401.9 873.25H1405.4M1401.9 821.15H1405.4M1401.9 769.05H1405.4M1401.9 716.95H1405.4M1401.9 664.85H1405.4M1405.80 951.4V957.4M1480.80 951.4V957.4M1555.80 951.4V957.4M1630.80 951.4V957.4M1705.80 951.4V957.4M1780.80 951.4V957.4M1855.80 951.4V957.4M1443.30 951.4V954.4M1518.30 951.4V954.4M1593.30 951.4V954.4M1668.30 951.4V954.4M1743.30 951.4V954.4M1818.30 951.4V954.4M1887.4 638.60H1891.9M1887.4 615.32H1891.9M1887.4 592.04H1891.9M1887.4 568.76H1891.9M1887.4 545.48H1891.9M1887.4 522.20H1891.9" stroke="#000" stroke-width="2.4"/>
<text x="1395.0" y="960.6" font-size="26.5" font-weight="bold" fill="#e50b15" text-anchor="end" textLength="33.0" lengthAdjust="spacingAndGlyphs" stroke="#e50b15" stroke-width="0.32">0.0</text>
<text x="1395.0" y="908.5" font-size="26.5" font-weight="bold" fill="#e50b15" text-anchor="end" textLength="33.0" lengthAdjust="spacingAndGlyphs" stroke="#e50b15" stroke-width="0.32">0.5</text>
<text x="1395.0" y="856.4" font-size="26.5" font-weight="bold" fill="#e50b15" text-anchor="end" textLength="33.0" lengthAdjust="spacingAndGlyphs" stroke="#e50b15" stroke-width="0.32">1.0</text>
<text x="1395.0" y="804.3" font-size="26.5" font-weight="bold" fill="#e50b15" text-anchor="end" textLength="33.0" lengthAdjust="spacingAndGlyphs" stroke="#e50b15" stroke-width="0.32">1.5</text>
<text x="1395.0" y="752.2" font-size="26.5" font-weight="bold" fill="#e50b15" text-anchor="end" textLength="33.0" lengthAdjust="spacingAndGlyphs" stroke="#e50b15" stroke-width="0.32">2.0</text>
<text x="1395.0" y="700.1" font-size="26.5" font-weight="bold" fill="#e50b15" text-anchor="end" textLength="33.0" lengthAdjust="spacingAndGlyphs" stroke="#e50b15" stroke-width="0.32">2.5</text>
<text x="1395.0" y="648.0" font-size="26.5" font-weight="bold" fill="#e50b15" text-anchor="end" textLength="33.0" lengthAdjust="spacingAndGlyphs" stroke="#e50b15" stroke-width="0.32">3.0</text>
<text x="1405.8" y="980.4" font-size="23" font-weight="bold" fill="#000" text-anchor="middle" textLength="10.7" lengthAdjust="spacingAndGlyphs" stroke="#000" stroke-width="0.28">0</text>
<text x="1480.8" y="980.4" font-size="23" font-weight="bold" fill="#000" text-anchor="middle" textLength="21.4" lengthAdjust="spacingAndGlyphs" stroke="#000" stroke-width="0.28">50</text>
<text x="1555.8" y="980.4" font-size="23" font-weight="bold" fill="#000" text-anchor="middle" textLength="32.1" lengthAdjust="spacingAndGlyphs" stroke="#000" stroke-width="0.28">100</text>
<text x="1630.8" y="980.4" font-size="23" font-weight="bold" fill="#000" text-anchor="middle" textLength="32.1" lengthAdjust="spacingAndGlyphs" stroke="#000" stroke-width="0.28">150</text>
<text x="1705.8" y="980.4" font-size="23" font-weight="bold" fill="#000" text-anchor="middle" textLength="32.1" lengthAdjust="spacingAndGlyphs" stroke="#000" stroke-width="0.28">200</text>
<text x="1780.8" y="980.4" font-size="23" font-weight="bold" fill="#000" text-anchor="middle" textLength="32.1" lengthAdjust="spacingAndGlyphs" stroke="#000" stroke-width="0.28">250</text>
<text x="1855.8" y="980.4" font-size="23" font-weight="bold" fill="#000" text-anchor="middle" textLength="32.1" lengthAdjust="spacingAndGlyphs" stroke="#000" stroke-width="0.28">300</text>
<text x="1894.0" y="644.2" font-size="16.5" font-weight="bold" fill="#000" text-anchor="start" textLength="20.6" lengthAdjust="spacingAndGlyphs" stroke="#000" stroke-width="0.20">0.0</text>
<text x="1894.0" y="620.9" font-size="16.5" font-weight="bold" fill="#000" text-anchor="start" textLength="20.6" lengthAdjust="spacingAndGlyphs" stroke="#000" stroke-width="0.20">0.3</text>
<text x="1894.0" y="597.6" font-size="16.5" font-weight="bold" fill="#000" text-anchor="start" textLength="20.6" lengthAdjust="spacingAndGlyphs" stroke="#000" stroke-width="0.20">0.6</text>
<text x="1894.0" y="574.4" font-size="16.5" font-weight="bold" fill="#000" text-anchor="start" textLength="20.6" lengthAdjust="spacingAndGlyphs" stroke="#000" stroke-width="0.20">0.9</text>
<text x="1894.0" y="551.1" font-size="16.5" font-weight="bold" fill="#000" text-anchor="start" textLength="20.6" lengthAdjust="spacingAndGlyphs" stroke="#000" stroke-width="0.20">1.2</text>
<text x="1894.0" y="527.8" font-size="16.5" font-weight="bold" fill="#000" text-anchor="start" textLength="20.6" lengthAdjust="spacingAndGlyphs" stroke="#000" stroke-width="0.20">1.5</text>
<text x="1543.1" y="1026.2" font-size="35.5" font-weight="bold" fill="#000" text-anchor="start" textLength="222.7" lengthAdjust="spacingAndGlyphs" stroke="#000" stroke-width="0.43">Pulse number</text>
<text transform="translate(1325.6,796.4) rotate(-90)" x="0" y="12.7" font-size="38.5" font-weight="bold" fill="#e50b15" stroke="#e50b15" stroke-width="0.46" text-anchor="middle" textLength="246.0" lengthAdjust="spacingAndGlyphs">Current (μA)</text>
<text transform="translate(1931.7,577.3) rotate(-90)" x="0" y="8.1" font-size="24.5" font-weight="bold" fill="#000" stroke="#000" stroke-width="0.29" text-anchor="middle" textLength="129.0" lengthAdjust="spacingAndGlyphs">Voltage (V)</text>
<text x="1311.4" y="539.6" font-size="37" font-weight="bold" fill="#000" text-anchor="start" textLength="44.5" lengthAdjust="spacingAndGlyphs" stroke="#000" stroke-width="0.44">(d)</text>
<text x="1413.2" y="672.1" font-size="34.5" font-weight="normal" fill="#000" text-anchor="start" textLength="91.1" lengthAdjust="spacingAndGlyphs">3 mins</text>
</g>
</svg>
</body></html>
